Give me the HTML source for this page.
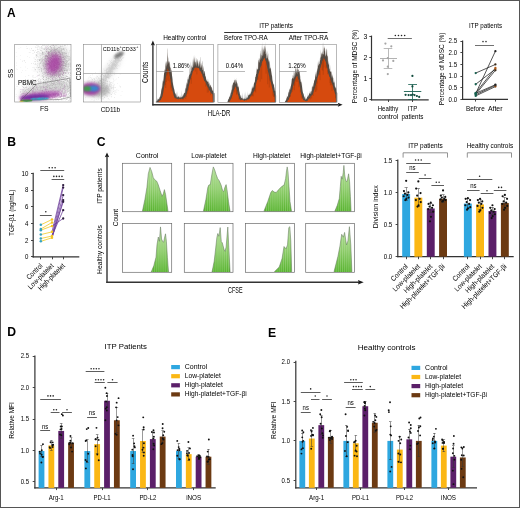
<!DOCTYPE html>
<html><head><meta charset="utf-8"><style>
html,body{margin:0;padding:0;background:#fff;}
body{width:520px;height:508px;overflow:hidden;position:relative;}
svg{position:absolute;left:0;top:0;display:block;will-change:transform;}
svg text{font-family:"Liberation Sans", sans-serif;}
</style></head><body>
<svg width="520" height="508" viewBox="0 0 520 508">
<rect x="0" y="0" width="520" height="508" fill="#fff"/>
<text x="7" y="17" font-size="11.9" fill="#000" font-weight="bold">A</text>
<clipPath id="cp1"><rect x="14.7" y="44.4" width="56.3" height="57.6"/></clipPath>
<g clip-path="url(#cp1)">
<filter id="bl3" x="-50%" y="-50%" width="200%" height="200%"><feGaussianBlur stdDeviation="4"/></filter>
<ellipse cx="55" cy="63" rx="13" ry="17" fill="#b4b4b4" opacity="0.6" filter="url(#bl3)" transform="rotate(18 55 63)"/>
<path d="M54.8 69.4h0.55v0.55h-0.55zM52.0 59.9h0.55v0.55h-0.55zM46.7 62.5h0.55v0.55h-0.55zM65.5 65.5h0.55v0.55h-0.55zM64.3 63.6h0.55v0.55h-0.55zM58.9 64.3h0.55v0.55h-0.55zM44.6 76.3h0.55v0.55h-0.55zM60.9 67.6h0.55v0.55h-0.55zM35.1 46.7h0.55v0.55h-0.55zM46.1 59.6h0.55v0.55h-0.55zM57.3 61.8h0.55v0.55h-0.55zM56.9 54.6h0.55v0.55h-0.55zM58.9 66.8h0.55v0.55h-0.55zM55.8 84.0h0.55v0.55h-0.55zM63.8 75.5h0.55v0.55h-0.55zM47.3 55.9h0.55v0.55h-0.55zM51.8 62.5h0.55v0.55h-0.55zM61.0 64.5h0.55v0.55h-0.55zM47.9 53.0h0.55v0.55h-0.55zM55.2 78.0h0.55v0.55h-0.55zM49.4 67.5h0.55v0.55h-0.55zM53.1 45.1h0.55v0.55h-0.55zM60.1 77.8h0.55v0.55h-0.55zM37.6 63.6h0.55v0.55h-0.55zM51.2 53.9h0.55v0.55h-0.55zM58.8 61.2h0.55v0.55h-0.55zM46.2 75.5h0.55v0.55h-0.55zM63.8 72.4h0.55v0.55h-0.55zM67.9 64.1h0.55v0.55h-0.55zM51.3 47.9h0.55v0.55h-0.55zM57.8 54.7h0.55v0.55h-0.55zM46.8 49.5h0.55v0.55h-0.55zM45.3 59.0h0.55v0.55h-0.55zM58.1 37.1h0.55v0.55h-0.55zM44.1 68.8h0.55v0.55h-0.55zM68.7 66.5h0.55v0.55h-0.55zM30.6 38.3h0.55v0.55h-0.55zM55.2 53.8h0.55v0.55h-0.55zM49.5 76.5h0.55v0.55h-0.55zM64.5 62.5h0.55v0.55h-0.55zM58.5 67.4h0.55v0.55h-0.55zM70.1 66.7h0.55v0.55h-0.55zM61.2 68.1h0.55v0.55h-0.55zM47.0 80.9h0.55v0.55h-0.55zM64.6 67.0h0.55v0.55h-0.55zM36.8 60.0h0.55v0.55h-0.55zM55.3 40.6h0.55v0.55h-0.55zM57.2 75.0h0.55v0.55h-0.55zM50.2 84.1h0.55v0.55h-0.55zM58.9 60.1h0.55v0.55h-0.55zM60.0 69.7h0.55v0.55h-0.55zM60.1 75.8h0.55v0.55h-0.55zM48.2 59.7h0.55v0.55h-0.55zM63.5 61.1h0.55v0.55h-0.55zM51.3 75.7h0.55v0.55h-0.55zM65.2 54.8h0.55v0.55h-0.55zM43.4 64.4h0.55v0.55h-0.55zM52.7 59.9h0.55v0.55h-0.55zM62.6 48.3h0.55v0.55h-0.55zM60.6 45.9h0.55v0.55h-0.55zM50.9 71.9h0.55v0.55h-0.55zM67.2 70.4h0.55v0.55h-0.55zM58.3 63.9h0.55v0.55h-0.55zM58.3 69.2h0.55v0.55h-0.55zM54.6 66.5h0.55v0.55h-0.55zM59.6 61.8h0.55v0.55h-0.55zM63.2 67.8h0.55v0.55h-0.55zM72.4 62.4h0.55v0.55h-0.55zM50.2 59.7h0.55v0.55h-0.55zM58.2 73.6h0.55v0.55h-0.55zM53.7 68.1h0.55v0.55h-0.55zM60.6 29.9h0.55v0.55h-0.55zM46.8 68.2h0.55v0.55h-0.55zM59.1 64.9h0.55v0.55h-0.55zM53.9 71.4h0.55v0.55h-0.55zM55.4 56.4h0.55v0.55h-0.55zM75.9 61.9h0.55v0.55h-0.55zM50.2 63.0h0.55v0.55h-0.55zM53.0 62.8h0.55v0.55h-0.55zM31.2 63.2h0.55v0.55h-0.55zM58.9 47.5h0.55v0.55h-0.55zM57.9 74.0h0.55v0.55h-0.55zM67.3 78.2h0.55v0.55h-0.55zM40.0 62.6h0.55v0.55h-0.55zM54.5 70.8h0.55v0.55h-0.55zM54.2 30.1h0.55v0.55h-0.55zM58.6 44.2h0.55v0.55h-0.55zM55.1 44.5h0.55v0.55h-0.55zM60.7 76.2h0.55v0.55h-0.55zM54.5 65.5h0.55v0.55h-0.55zM61.9 62.9h0.55v0.55h-0.55zM59.8 80.7h0.55v0.55h-0.55zM62.4 57.4h0.55v0.55h-0.55zM73.0 44.1h0.55v0.55h-0.55zM61.4 58.0h0.55v0.55h-0.55zM58.6 70.8h0.55v0.55h-0.55zM59.1 69.8h0.55v0.55h-0.55zM37.2 49.0h0.55v0.55h-0.55zM56.5 50.7h0.55v0.55h-0.55zM41.4 48.4h0.55v0.55h-0.55zM67.9 68.8h0.55v0.55h-0.55zM63.5 49.2h0.55v0.55h-0.55zM50.9 50.0h0.55v0.55h-0.55zM66.9 79.5h0.55v0.55h-0.55zM53.4 82.7h0.55v0.55h-0.55zM62.3 58.9h0.55v0.55h-0.55zM44.1 83.2h0.55v0.55h-0.55zM52.1 56.3h0.55v0.55h-0.55zM59.7 66.8h0.55v0.55h-0.55zM63.4 48.2h0.55v0.55h-0.55zM69.5 77.5h0.55v0.55h-0.55zM66.1 57.9h0.55v0.55h-0.55zM52.7 76.2h0.55v0.55h-0.55zM56.4 64.2h0.55v0.55h-0.55zM65.6 57.0h0.55v0.55h-0.55zM35.1 63.5h0.55v0.55h-0.55zM43.0 76.3h0.55v0.55h-0.55zM55.4 55.4h0.55v0.55h-0.55zM57.9 72.5h0.55v0.55h-0.55zM60.4 78.0h0.55v0.55h-0.55zM58.3 75.0h0.55v0.55h-0.55zM72.8 78.2h0.55v0.55h-0.55zM52.7 74.5h0.55v0.55h-0.55zM36.0 54.6h0.55v0.55h-0.55zM43.0 79.4h0.55v0.55h-0.55zM45.0 65.5h0.55v0.55h-0.55zM53.3 63.1h0.55v0.55h-0.55zM51.1 66.9h0.55v0.55h-0.55zM69.6 59.7h0.55v0.55h-0.55zM62.9 73.3h0.55v0.55h-0.55zM48.9 49.1h0.55v0.55h-0.55zM54.4 76.4h0.55v0.55h-0.55zM39.6 59.7h0.55v0.55h-0.55zM66.0 69.9h0.55v0.55h-0.55zM58.0 72.2h0.55v0.55h-0.55zM52.1 49.2h0.55v0.55h-0.55zM40.1 59.0h0.55v0.55h-0.55zM60.4 54.6h0.55v0.55h-0.55zM44.9 56.1h0.55v0.55h-0.55zM42.2 64.9h0.55v0.55h-0.55zM46.8 69.7h0.55v0.55h-0.55zM37.1 71.8h0.55v0.55h-0.55zM42.8 42.2h0.55v0.55h-0.55zM59.9 58.3h0.55v0.55h-0.55zM33.8 57.8h0.55v0.55h-0.55zM55.7 57.2h0.55v0.55h-0.55zM64.0 69.9h0.55v0.55h-0.55zM61.6 65.3h0.55v0.55h-0.55zM68.1 67.7h0.55v0.55h-0.55zM51.1 38.3h0.55v0.55h-0.55zM67.0 76.0h0.55v0.55h-0.55zM50.9 58.3h0.55v0.55h-0.55zM64.3 38.8h0.55v0.55h-0.55zM67.5 89.6h0.55v0.55h-0.55zM50.0 72.8h0.55v0.55h-0.55zM69.8 57.6h0.55v0.55h-0.55zM62.8 72.1h0.55v0.55h-0.55zM47.4 63.9h0.55v0.55h-0.55zM60.3 71.8h0.55v0.55h-0.55zM54.0 60.8h0.55v0.55h-0.55zM45.5 61.1h0.55v0.55h-0.55zM62.6 62.3h0.55v0.55h-0.55zM45.1 55.2h0.55v0.55h-0.55zM80.6 70.3h0.55v0.55h-0.55zM50.8 32.1h0.55v0.55h-0.55zM61.7 67.2h0.55v0.55h-0.55zM70.1 64.3h0.55v0.55h-0.55zM56.3 69.1h0.55v0.55h-0.55zM43.0 78.9h0.55v0.55h-0.55zM55.1 54.3h0.55v0.55h-0.55zM72.2 80.8h0.55v0.55h-0.55zM41.3 58.4h0.55v0.55h-0.55zM58.0 64.5h0.55v0.55h-0.55zM48.3 52.7h0.55v0.55h-0.55zM75.9 70.3h0.55v0.55h-0.55zM40.5 50.2h0.55v0.55h-0.55zM72.3 70.7h0.55v0.55h-0.55zM72.6 68.4h0.55v0.55h-0.55zM48.9 67.8h0.55v0.55h-0.55zM34.9 59.1h0.55v0.55h-0.55zM56.4 69.1h0.55v0.55h-0.55zM48.7 63.1h0.55v0.55h-0.55zM60.1 66.3h0.55v0.55h-0.55zM60.9 64.0h0.55v0.55h-0.55zM55.2 72.7h0.55v0.55h-0.55zM52.4 53.5h0.55v0.55h-0.55zM49.9 64.3h0.55v0.55h-0.55zM54.7 65.0h0.55v0.55h-0.55zM55.6 65.0h0.55v0.55h-0.55zM49.4 48.9h0.55v0.55h-0.55zM62.2 74.1h0.55v0.55h-0.55zM57.8 59.9h0.55v0.55h-0.55zM55.1 51.0h0.55v0.55h-0.55zM39.9 67.7h0.55v0.55h-0.55zM50.1 73.4h0.55v0.55h-0.55zM36.8 35.3h0.55v0.55h-0.55zM52.3 83.2h0.55v0.55h-0.55zM47.0 48.2h0.55v0.55h-0.55zM50.7 70.6h0.55v0.55h-0.55zM59.6 64.0h0.55v0.55h-0.55zM69.5 67.9h0.55v0.55h-0.55zM57.0 69.8h0.55v0.55h-0.55zM71.9 70.6h0.55v0.55h-0.55zM59.4 48.5h0.55v0.55h-0.55zM56.4 71.6h0.55v0.55h-0.55zM56.5 75.8h0.55v0.55h-0.55zM63.1 72.1h0.55v0.55h-0.55zM62.5 92.5h0.55v0.55h-0.55zM64.2 57.9h0.55v0.55h-0.55zM65.1 92.4h0.55v0.55h-0.55zM55.4 73.7h0.55v0.55h-0.55zM62.9 61.0h0.55v0.55h-0.55zM46.3 67.6h0.55v0.55h-0.55zM62.0 75.1h0.55v0.55h-0.55zM61.4 61.6h0.55v0.55h-0.55zM63.8 67.3h0.55v0.55h-0.55zM56.9 63.2h0.55v0.55h-0.55zM55.5 71.3h0.55v0.55h-0.55zM44.2 58.1h0.55v0.55h-0.55zM49.8 46.3h0.55v0.55h-0.55zM44.2 41.0h0.55v0.55h-0.55zM51.5 70.9h0.55v0.55h-0.55zM59.4 61.2h0.55v0.55h-0.55zM48.0 47.3h0.55v0.55h-0.55zM71.6 65.0h0.55v0.55h-0.55zM60.7 50.6h0.55v0.55h-0.55zM47.0 42.7h0.55v0.55h-0.55zM64.7 72.0h0.55v0.55h-0.55zM39.5 66.4h0.55v0.55h-0.55zM53.7 41.6h0.55v0.55h-0.55zM36.4 54.7h0.55v0.55h-0.55zM44.9 48.3h0.55v0.55h-0.55zM56.2 65.8h0.55v0.55h-0.55zM62.6 69.7h0.55v0.55h-0.55zM71.3 73.1h0.55v0.55h-0.55zM42.6 60.0h0.55v0.55h-0.55zM42.6 53.0h0.55v0.55h-0.55zM54.4 63.2h0.55v0.55h-0.55zM53.2 43.9h0.55v0.55h-0.55zM44.9 65.4h0.55v0.55h-0.55zM52.3 59.9h0.55v0.55h-0.55zM51.8 54.5h0.55v0.55h-0.55zM61.9 65.5h0.55v0.55h-0.55zM51.9 55.5h0.55v0.55h-0.55zM43.8 32.3h0.55v0.55h-0.55zM47.2 65.5h0.55v0.55h-0.55zM43.6 68.5h0.55v0.55h-0.55zM51.2 47.0h0.55v0.55h-0.55zM51.8 60.0h0.55v0.55h-0.55zM60.9 69.0h0.55v0.55h-0.55zM51.6 53.4h0.55v0.55h-0.55zM53.6 62.6h0.55v0.55h-0.55zM62.0 64.8h0.55v0.55h-0.55zM44.3 49.1h0.55v0.55h-0.55zM49.3 55.4h0.55v0.55h-0.55zM45.6 64.0h0.55v0.55h-0.55zM51.4 65.2h0.55v0.55h-0.55zM57.7 57.2h0.55v0.55h-0.55zM72.6 54.4h0.55v0.55h-0.55zM64.3 62.0h0.55v0.55h-0.55zM55.5 33.5h0.55v0.55h-0.55zM49.8 67.4h0.55v0.55h-0.55zM68.3 88.4h0.55v0.55h-0.55zM62.2 76.9h0.55v0.55h-0.55zM64.6 72.2h0.55v0.55h-0.55zM58.6 60.1h0.55v0.55h-0.55zM55.2 49.6h0.55v0.55h-0.55zM60.9 48.9h0.55v0.55h-0.55zM64.6 86.6h0.55v0.55h-0.55zM53.3 63.7h0.55v0.55h-0.55zM64.5 60.8h0.55v0.55h-0.55zM49.4 67.7h0.55v0.55h-0.55zM62.3 69.9h0.55v0.55h-0.55zM55.1 84.6h0.55v0.55h-0.55zM68.5 59.7h0.55v0.55h-0.55zM55.6 57.5h0.55v0.55h-0.55zM63.9 52.0h0.55v0.55h-0.55zM58.7 56.1h0.55v0.55h-0.55zM52.0 72.7h0.55v0.55h-0.55zM65.7 60.1h0.55v0.55h-0.55zM52.5 73.7h0.55v0.55h-0.55zM55.7 66.6h0.55v0.55h-0.55zM71.4 72.7h0.55v0.55h-0.55zM59.0 90.1h0.55v0.55h-0.55zM57.9 72.0h0.55v0.55h-0.55zM49.6 63.9h0.55v0.55h-0.55zM47.3 87.1h0.55v0.55h-0.55zM61.7 46.2h0.55v0.55h-0.55zM37.0 47.7h0.55v0.55h-0.55zM62.8 55.3h0.55v0.55h-0.55zM53.4 59.6h0.55v0.55h-0.55zM50.1 50.9h0.55v0.55h-0.55zM50.0 46.6h0.55v0.55h-0.55zM55.5 66.7h0.55v0.55h-0.55zM57.9 59.4h0.55v0.55h-0.55zM48.3 66.7h0.55v0.55h-0.55zM56.7 81.9h0.55v0.55h-0.55zM60.8 60.1h0.55v0.55h-0.55zM48.7 56.0h0.55v0.55h-0.55zM46.2 61.0h0.55v0.55h-0.55zM59.2 68.3h0.55v0.55h-0.55zM67.1 85.7h0.55v0.55h-0.55zM49.4 64.6h0.55v0.55h-0.55zM70.8 35.8h0.55v0.55h-0.55zM51.4 66.0h0.55v0.55h-0.55zM57.7 67.3h0.55v0.55h-0.55zM54.4 67.7h0.55v0.55h-0.55zM58.2 71.7h0.55v0.55h-0.55zM36.5 56.9h0.55v0.55h-0.55zM51.3 51.2h0.55v0.55h-0.55zM48.8 72.4h0.55v0.55h-0.55zM52.0 71.6h0.55v0.55h-0.55zM62.1 64.9h0.55v0.55h-0.55zM58.7 60.7h0.55v0.55h-0.55zM43.5 65.7h0.55v0.55h-0.55zM56.8 56.0h0.55v0.55h-0.55zM56.9 71.8h0.55v0.55h-0.55zM50.2 72.2h0.55v0.55h-0.55zM68.0 52.7h0.55v0.55h-0.55zM55.6 61.0h0.55v0.55h-0.55zM68.6 63.3h0.55v0.55h-0.55zM59.8 53.2h0.55v0.55h-0.55zM54.8 62.9h0.55v0.55h-0.55zM45.8 83.2h0.55v0.55h-0.55zM56.0 41.1h0.55v0.55h-0.55zM60.5 59.9h0.55v0.55h-0.55zM59.9 66.2h0.55v0.55h-0.55zM42.1 63.8h0.55v0.55h-0.55zM65.0 53.3h0.55v0.55h-0.55zM41.8 49.7h0.55v0.55h-0.55zM46.3 69.4h0.55v0.55h-0.55zM70.2 64.3h0.55v0.55h-0.55zM65.0 87.9h0.55v0.55h-0.55zM48.4 56.4h0.55v0.55h-0.55zM61.2 68.1h0.55v0.55h-0.55zM42.6 51.8h0.55v0.55h-0.55zM58.2 65.2h0.55v0.55h-0.55zM43.7 63.5h0.55v0.55h-0.55zM52.3 69.4h0.55v0.55h-0.55zM53.7 62.3h0.55v0.55h-0.55zM55.9 75.8h0.55v0.55h-0.55zM64.9 55.9h0.55v0.55h-0.55zM59.1 52.6h0.55v0.55h-0.55zM58.3 71.4h0.55v0.55h-0.55zM65.9 55.4h0.55v0.55h-0.55zM55.1 65.4h0.55v0.55h-0.55zM43.0 66.4h0.55v0.55h-0.55zM50.9 68.7h0.55v0.55h-0.55zM38.8 42.9h0.55v0.55h-0.55zM56.2 65.9h0.55v0.55h-0.55zM53.8 74.3h0.55v0.55h-0.55zM50.6 56.7h0.55v0.55h-0.55zM53.2 44.1h0.55v0.55h-0.55zM49.5 64.2h0.55v0.55h-0.55zM61.3 59.3h0.55v0.55h-0.55zM55.1 54.9h0.55v0.55h-0.55zM63.4 81.3h0.55v0.55h-0.55zM58.0 91.4h0.55v0.55h-0.55zM49.9 64.6h0.55v0.55h-0.55zM60.1 74.3h0.55v0.55h-0.55zM37.4 41.7h0.55v0.55h-0.55zM62.8 70.8h0.55v0.55h-0.55zM69.5 91.7h0.55v0.55h-0.55zM57.6 65.5h0.55v0.55h-0.55zM63.8 65.2h0.55v0.55h-0.55zM64.0 45.3h0.55v0.55h-0.55zM39.6 24.5h0.55v0.55h-0.55zM60.2 57.0h0.55v0.55h-0.55zM70.2 85.6h0.55v0.55h-0.55zM54.0 60.1h0.55v0.55h-0.55zM47.9 54.5h0.55v0.55h-0.55zM52.2 71.6h0.55v0.55h-0.55zM55.5 63.7h0.55v0.55h-0.55zM56.9 73.8h0.55v0.55h-0.55zM58.5 60.3h0.55v0.55h-0.55zM59.8 59.9h0.55v0.55h-0.55zM50.9 82.0h0.55v0.55h-0.55zM55.3 51.1h0.55v0.55h-0.55zM65.0 64.6h0.55v0.55h-0.55zM48.2 84.7h0.55v0.55h-0.55zM60.9 72.5h0.55v0.55h-0.55zM56.1 60.9h0.55v0.55h-0.55zM46.0 77.4h0.55v0.55h-0.55zM54.2 59.7h0.55v0.55h-0.55zM58.1 63.1h0.55v0.55h-0.55zM59.1 57.3h0.55v0.55h-0.55zM47.0 38.7h0.55v0.55h-0.55zM54.0 71.6h0.55v0.55h-0.55zM64.5 56.0h0.55v0.55h-0.55zM59.7 81.3h0.55v0.55h-0.55zM55.0 72.1h0.55v0.55h-0.55zM68.7 59.9h0.55v0.55h-0.55zM62.3 52.3h0.55v0.55h-0.55zM56.4 61.7h0.55v0.55h-0.55zM60.0 75.6h0.55v0.55h-0.55zM71.9 50.3h0.55v0.55h-0.55zM52.1 69.9h0.55v0.55h-0.55zM48.3 70.9h0.55v0.55h-0.55zM58.6 58.6h0.55v0.55h-0.55zM53.7 44.2h0.55v0.55h-0.55zM55.6 43.8h0.55v0.55h-0.55zM47.4 58.1h0.55v0.55h-0.55zM54.9 73.6h0.55v0.55h-0.55zM54.2 58.3h0.55v0.55h-0.55zM65.1 79.9h0.55v0.55h-0.55zM56.4 67.2h0.55v0.55h-0.55zM66.0 63.4h0.55v0.55h-0.55zM53.6 94.1h0.55v0.55h-0.55zM65.7 35.7h0.55v0.55h-0.55zM56.2 67.8h0.55v0.55h-0.55zM65.2 68.6h0.55v0.55h-0.55zM49.0 51.6h0.55v0.55h-0.55zM59.6 74.6h0.55v0.55h-0.55zM42.5 53.6h0.55v0.55h-0.55zM47.8 41.0h0.55v0.55h-0.55zM51.3 58.6h0.55v0.55h-0.55zM56.1 54.0h0.55v0.55h-0.55zM46.5 60.4h0.55v0.55h-0.55zM52.2 55.5h0.55v0.55h-0.55zM57.8 71.5h0.55v0.55h-0.55zM70.7 79.9h0.55v0.55h-0.55zM47.2 59.9h0.55v0.55h-0.55zM41.8 89.9h0.55v0.55h-0.55zM49.0 64.2h0.55v0.55h-0.55zM54.3 46.4h0.55v0.55h-0.55zM58.7 61.7h0.55v0.55h-0.55zM41.3 70.2h0.55v0.55h-0.55zM57.9 39.2h0.55v0.55h-0.55zM62.3 63.7h0.55v0.55h-0.55zM60.4 67.0h0.55v0.55h-0.55zM64.7 57.7h0.55v0.55h-0.55zM60.6 56.5h0.55v0.55h-0.55zM57.9 52.2h0.55v0.55h-0.55zM60.4 83.0h0.55v0.55h-0.55zM58.0 60.2h0.55v0.55h-0.55zM42.9 56.4h0.55v0.55h-0.55zM59.9 73.3h0.55v0.55h-0.55zM60.3 68.1h0.55v0.55h-0.55zM59.5 78.5h0.55v0.55h-0.55zM49.9 57.6h0.55v0.55h-0.55zM62.4 61.8h0.55v0.55h-0.55zM50.7 57.0h0.55v0.55h-0.55zM55.2 70.7h0.55v0.55h-0.55zM53.5 48.5h0.55v0.55h-0.55zM59.1 64.1h0.55v0.55h-0.55zM49.7 73.9h0.55v0.55h-0.55zM51.5 59.8h0.55v0.55h-0.55zM66.2 76.4h0.55v0.55h-0.55zM51.0 69.5h0.55v0.55h-0.55zM56.3 91.2h0.55v0.55h-0.55zM55.3 77.7h0.55v0.55h-0.55zM52.7 73.6h0.55v0.55h-0.55zM63.8 29.3h0.55v0.55h-0.55zM53.3 69.6h0.55v0.55h-0.55zM51.8 55.6h0.55v0.55h-0.55zM72.7 59.3h0.55v0.55h-0.55zM44.8 76.2h0.55v0.55h-0.55zM45.2 79.8h0.55v0.55h-0.55zM50.9 65.9h0.55v0.55h-0.55zM65.6 61.7h0.55v0.55h-0.55zM37.7 46.6h0.55v0.55h-0.55zM67.2 68.9h0.55v0.55h-0.55zM51.5 74.5h0.55v0.55h-0.55zM61.3 69.3h0.55v0.55h-0.55zM35.7 64.4h0.55v0.55h-0.55zM64.9 69.4h0.55v0.55h-0.55zM53.3 33.1h0.55v0.55h-0.55zM58.1 68.3h0.55v0.55h-0.55zM72.2 46.7h0.55v0.55h-0.55zM52.5 64.1h0.55v0.55h-0.55zM60.6 56.1h0.55v0.55h-0.55zM61.4 51.6h0.55v0.55h-0.55zM55.3 56.4h0.55v0.55h-0.55zM53.8 54.8h0.55v0.55h-0.55zM46.0 78.9h0.55v0.55h-0.55zM55.4 56.0h0.55v0.55h-0.55zM60.2 73.9h0.55v0.55h-0.55zM46.7 63.8h0.55v0.55h-0.55zM61.2 67.9h0.55v0.55h-0.55zM44.7 39.7h0.55v0.55h-0.55zM66.2 64.1h0.55v0.55h-0.55zM54.1 59.8h0.55v0.55h-0.55zM55.6 57.6h0.55v0.55h-0.55zM44.1 56.7h0.55v0.55h-0.55zM48.0 57.3h0.55v0.55h-0.55zM47.9 72.7h0.55v0.55h-0.55zM46.8 73.3h0.55v0.55h-0.55zM48.1 69.2h0.55v0.55h-0.55zM66.8 62.4h0.55v0.55h-0.55zM49.3 65.1h0.55v0.55h-0.55zM50.0 42.9h0.55v0.55h-0.55zM50.7 66.1h0.55v0.55h-0.55zM51.5 64.9h0.55v0.55h-0.55zM63.7 70.2h0.55v0.55h-0.55zM64.4 67.8h0.55v0.55h-0.55zM52.6 63.4h0.55v0.55h-0.55zM51.7 60.0h0.55v0.55h-0.55zM47.3 43.7h0.55v0.55h-0.55zM52.2 63.4h0.55v0.55h-0.55zM47.0 64.8h0.55v0.55h-0.55zM58.6 60.0h0.55v0.55h-0.55zM62.4 28.9h0.55v0.55h-0.55zM46.8 42.6h0.55v0.55h-0.55zM72.5 91.2h0.55v0.55h-0.55zM35.3 69.8h0.55v0.55h-0.55zM58.1 58.4h0.55v0.55h-0.55zM51.4 36.3h0.55v0.55h-0.55zM63.2 65.4h0.55v0.55h-0.55zM53.1 56.3h0.55v0.55h-0.55zM58.4 56.1h0.55v0.55h-0.55zM55.0 56.7h0.55v0.55h-0.55zM36.7 67.4h0.55v0.55h-0.55zM59.3 71.2h0.55v0.55h-0.55zM47.8 64.5h0.55v0.55h-0.55zM60.5 63.3h0.55v0.55h-0.55zM72.2 83.1h0.55v0.55h-0.55zM40.7 43.0h0.55v0.55h-0.55zM67.4 78.6h0.55v0.55h-0.55zM65.4 70.3h0.55v0.55h-0.55zM47.4 56.2h0.55v0.55h-0.55zM58.9 50.7h0.55v0.55h-0.55zM36.8 55.5h0.55v0.55h-0.55zM82.0 79.6h0.55v0.55h-0.55zM46.8 56.1h0.55v0.55h-0.55zM54.2 54.0h0.55v0.55h-0.55zM65.3 59.3h0.55v0.55h-0.55zM50.9 80.2h0.55v0.55h-0.55zM51.1 66.8h0.55v0.55h-0.55zM53.8 59.4h0.55v0.55h-0.55zM55.1 54.4h0.55v0.55h-0.55zM32.2 41.7h0.55v0.55h-0.55zM42.0 57.0h0.55v0.55h-0.55zM55.0 63.7h0.55v0.55h-0.55zM59.9 63.2h0.55v0.55h-0.55zM46.0 56.6h0.55v0.55h-0.55zM37.3 65.6h0.55v0.55h-0.55zM60.8 68.0h0.55v0.55h-0.55zM53.4 61.3h0.55v0.55h-0.55zM62.6 61.2h0.55v0.55h-0.55zM63.1 68.1h0.55v0.55h-0.55zM61.4 77.4h0.55v0.55h-0.55zM49.1 60.1h0.55v0.55h-0.55zM45.6 55.6h0.55v0.55h-0.55zM73.9 79.7h0.55v0.55h-0.55zM57.2 69.4h0.55v0.55h-0.55zM67.4 69.7h0.55v0.55h-0.55zM60.2 46.0h0.55v0.55h-0.55zM51.5 69.5h0.55v0.55h-0.55zM67.0 61.1h0.55v0.55h-0.55zM46.8 60.8h0.55v0.55h-0.55zM46.6 54.6h0.55v0.55h-0.55zM64.9 52.7h0.55v0.55h-0.55zM62.9 87.6h0.55v0.55h-0.55zM65.8 64.3h0.55v0.55h-0.55zM51.5 69.0h0.55v0.55h-0.55zM70.3 66.7h0.55v0.55h-0.55zM65.5 61.4h0.55v0.55h-0.55zM58.4 59.6h0.55v0.55h-0.55zM63.1 76.9h0.55v0.55h-0.55zM43.2 65.3h0.55v0.55h-0.55zM54.9 56.0h0.55v0.55h-0.55zM55.3 72.6h0.55v0.55h-0.55zM73.4 65.9h0.55v0.55h-0.55zM52.0 44.6h0.55v0.55h-0.55zM70.8 59.8h0.55v0.55h-0.55zM50.7 50.3h0.55v0.55h-0.55zM50.6 50.6h0.55v0.55h-0.55zM57.3 68.2h0.55v0.55h-0.55zM56.3 66.1h0.55v0.55h-0.55zM53.3 81.1h0.55v0.55h-0.55zM43.2 43.7h0.55v0.55h-0.55zM50.7 54.7h0.55v0.55h-0.55zM45.6 61.1h0.55v0.55h-0.55zM53.1 48.9h0.55v0.55h-0.55zM59.0 79.6h0.55v0.55h-0.55zM60.0 59.8h0.55v0.55h-0.55zM55.6 61.4h0.55v0.55h-0.55zM57.3 71.5h0.55v0.55h-0.55zM45.6 35.8h0.55v0.55h-0.55zM51.6 52.9h0.55v0.55h-0.55zM58.1 54.7h0.55v0.55h-0.55zM64.0 87.5h0.55v0.55h-0.55zM42.5 52.4h0.55v0.55h-0.55zM35.0 38.7h0.55v0.55h-0.55zM41.1 71.1h0.55v0.55h-0.55zM43.1 43.1h0.55v0.55h-0.55zM45.2 73.2h0.55v0.55h-0.55zM47.4 60.5h0.55v0.55h-0.55zM62.6 77.8h0.55v0.55h-0.55zM74.4 70.6h0.55v0.55h-0.55zM56.8 64.8h0.55v0.55h-0.55zM74.7 75.5h0.55v0.55h-0.55zM54.1 68.9h0.55v0.55h-0.55zM57.5 63.0h0.55v0.55h-0.55zM46.2 48.9h0.55v0.55h-0.55zM45.1 46.5h0.55v0.55h-0.55zM66.8 66.5h0.55v0.55h-0.55zM50.3 81.5h0.55v0.55h-0.55zM55.3 39.3h0.55v0.55h-0.55zM72.8 68.3h0.55v0.55h-0.55zM67.2 44.6h0.55v0.55h-0.55zM60.8 66.7h0.55v0.55h-0.55zM57.2 64.5h0.55v0.55h-0.55zM58.1 43.7h0.55v0.55h-0.55zM40.0 49.7h0.55v0.55h-0.55zM48.3 57.3h0.55v0.55h-0.55zM58.9 65.3h0.55v0.55h-0.55zM52.8 55.2h0.55v0.55h-0.55zM54.9 74.8h0.55v0.55h-0.55zM61.5 62.5h0.55v0.55h-0.55zM58.0 81.4h0.55v0.55h-0.55zM52.5 71.7h0.55v0.55h-0.55zM63.4 57.5h0.55v0.55h-0.55zM57.6 48.5h0.55v0.55h-0.55zM63.9 63.1h0.55v0.55h-0.55zM44.6 74.0h0.55v0.55h-0.55zM52.4 79.5h0.55v0.55h-0.55zM48.9 62.6h0.55v0.55h-0.55zM56.1 58.6h0.55v0.55h-0.55zM55.1 56.1h0.55v0.55h-0.55zM60.4 61.6h0.55v0.55h-0.55zM46.8 31.2h0.55v0.55h-0.55zM64.5 60.9h0.55v0.55h-0.55zM40.9 67.9h0.55v0.55h-0.55zM62.6 74.2h0.55v0.55h-0.55zM51.8 82.9h0.55v0.55h-0.55zM62.3 90.6h0.55v0.55h-0.55zM56.3 71.1h0.55v0.55h-0.55zM48.0 51.1h0.55v0.55h-0.55zM67.1 71.0h0.55v0.55h-0.55zM70.5 69.5h0.55v0.55h-0.55zM44.4 45.3h0.55v0.55h-0.55zM47.3 56.7h0.55v0.55h-0.55zM50.5 71.4h0.55v0.55h-0.55zM56.7 59.2h0.55v0.55h-0.55zM55.9 61.0h0.55v0.55h-0.55zM59.4 71.1h0.55v0.55h-0.55zM60.3 53.1h0.55v0.55h-0.55zM48.0 82.5h0.55v0.55h-0.55zM59.9 75.4h0.55v0.55h-0.55zM40.5 62.7h0.55v0.55h-0.55zM50.0 46.5h0.55v0.55h-0.55zM53.4 72.4h0.55v0.55h-0.55zM69.4 78.9h0.55v0.55h-0.55zM43.0 48.9h0.55v0.55h-0.55zM62.6 72.6h0.55v0.55h-0.55zM51.9 47.8h0.55v0.55h-0.55zM64.2 70.4h0.55v0.55h-0.55zM57.7 56.3h0.55v0.55h-0.55zM60.3 71.4h0.55v0.55h-0.55zM43.9 43.2h0.55v0.55h-0.55zM59.4 67.8h0.55v0.55h-0.55zM58.3 73.1h0.55v0.55h-0.55zM50.0 63.3h0.55v0.55h-0.55zM54.6 70.2h0.55v0.55h-0.55zM67.0 56.7h0.55v0.55h-0.55zM77.1 76.1h0.55v0.55h-0.55zM63.5 68.0h0.55v0.55h-0.55zM68.6 57.2h0.55v0.55h-0.55zM50.3 51.1h0.55v0.55h-0.55zM63.7 77.3h0.55v0.55h-0.55zM60.8 66.7h0.55v0.55h-0.55zM54.0 65.4h0.55v0.55h-0.55zM47.3 78.0h0.55v0.55h-0.55zM47.7 51.3h0.55v0.55h-0.55zM46.0 55.2h0.55v0.55h-0.55zM65.7 73.2h0.55v0.55h-0.55zM47.4 76.4h0.55v0.55h-0.55zM60.1 54.5h0.55v0.55h-0.55zM40.3 57.7h0.55v0.55h-0.55zM51.1 68.3h0.55v0.55h-0.55zM44.8 40.6h0.55v0.55h-0.55zM51.4 45.0h0.55v0.55h-0.55zM58.0 47.3h0.55v0.55h-0.55zM46.3 54.7h0.55v0.55h-0.55zM55.3 79.0h0.55v0.55h-0.55zM64.0 68.0h0.55v0.55h-0.55zM52.0 44.7h0.55v0.55h-0.55zM48.8 57.8h0.55v0.55h-0.55zM48.9 70.9h0.55v0.55h-0.55zM46.5 56.5h0.55v0.55h-0.55zM39.2 41.8h0.55v0.55h-0.55zM64.6 76.9h0.55v0.55h-0.55zM52.9 51.5h0.55v0.55h-0.55zM33.8 70.7h0.55v0.55h-0.55zM65.9 63.8h0.55v0.55h-0.55zM67.8 77.9h0.55v0.55h-0.55zM62.5 55.6h0.55v0.55h-0.55zM66.3 69.6h0.55v0.55h-0.55zM41.1 61.6h0.55v0.55h-0.55zM43.1 64.8h0.55v0.55h-0.55zM55.8 49.6h0.55v0.55h-0.55zM43.1 82.2h0.55v0.55h-0.55zM63.3 79.0h0.55v0.55h-0.55zM48.1 77.9h0.55v0.55h-0.55zM79.0 81.5h0.55v0.55h-0.55zM54.3 66.5h0.55v0.55h-0.55zM57.4 74.7h0.55v0.55h-0.55zM63.7 61.8h0.55v0.55h-0.55zM46.7 74.3h0.55v0.55h-0.55zM53.5 71.2h0.55v0.55h-0.55zM63.0 81.0h0.55v0.55h-0.55zM62.6 55.4h0.55v0.55h-0.55zM64.2 82.4h0.55v0.55h-0.55zM52.2 69.1h0.55v0.55h-0.55zM69.1 74.8h0.55v0.55h-0.55zM54.4 46.8h0.55v0.55h-0.55zM45.7 68.5h0.55v0.55h-0.55zM67.3 91.2h0.55v0.55h-0.55zM52.1 77.8h0.55v0.55h-0.55zM55.2 42.3h0.55v0.55h-0.55zM49.0 66.6h0.55v0.55h-0.55zM50.5 62.3h0.55v0.55h-0.55zM55.9 52.8h0.55v0.55h-0.55zM56.5 54.8h0.55v0.55h-0.55zM52.5 70.3h0.55v0.55h-0.55zM51.4 67.5h0.55v0.55h-0.55zM68.0 59.9h0.55v0.55h-0.55zM56.5 71.7h0.55v0.55h-0.55zM55.9 76.1h0.55v0.55h-0.55zM46.9 72.8h0.55v0.55h-0.55zM48.0 55.0h0.55v0.55h-0.55zM66.2 49.5h0.55v0.55h-0.55zM71.6 66.8h0.55v0.55h-0.55zM63.2 48.8h0.55v0.55h-0.55zM69.9 77.1h0.55v0.55h-0.55zM53.6 61.8h0.55v0.55h-0.55zM75.5 59.8h0.55v0.55h-0.55zM49.3 56.7h0.55v0.55h-0.55zM59.8 65.8h0.55v0.55h-0.55zM62.6 82.2h0.55v0.55h-0.55zM54.1 69.1h0.55v0.55h-0.55zM63.2 48.5h0.55v0.55h-0.55zM70.0 81.7h0.55v0.55h-0.55zM40.1 53.4h0.55v0.55h-0.55zM40.0 44.2h0.55v0.55h-0.55zM52.0 40.9h0.55v0.55h-0.55zM64.3 78.5h0.55v0.55h-0.55zM40.8 62.8h0.55v0.55h-0.55zM42.3 76.0h0.55v0.55h-0.55zM48.1 61.5h0.55v0.55h-0.55zM57.4 69.1h0.55v0.55h-0.55zM52.3 63.9h0.55v0.55h-0.55zM51.0 65.5h0.55v0.55h-0.55zM45.8 66.2h0.55v0.55h-0.55zM37.6 61.5h0.55v0.55h-0.55zM70.8 59.8h0.55v0.55h-0.55zM45.8 68.6h0.55v0.55h-0.55zM41.2 46.2h0.55v0.55h-0.55zM51.7 73.0h0.55v0.55h-0.55zM57.8 61.1h0.55v0.55h-0.55zM43.6 52.7h0.55v0.55h-0.55zM66.8 62.9h0.55v0.55h-0.55zM39.7 41.0h0.55v0.55h-0.55zM52.8 94.1h0.55v0.55h-0.55zM45.4 64.6h0.55v0.55h-0.55zM56.1 60.8h0.55v0.55h-0.55zM47.8 47.9h0.55v0.55h-0.55zM52.6 84.5h0.55v0.55h-0.55zM51.9 74.2h0.55v0.55h-0.55zM40.3 63.5h0.55v0.55h-0.55zM60.8 74.3h0.55v0.55h-0.55zM48.1 72.2h0.55v0.55h-0.55zM55.5 53.8h0.55v0.55h-0.55zM55.6 51.7h0.55v0.55h-0.55zM48.5 64.5h0.55v0.55h-0.55zM32.7 67.5h0.55v0.55h-0.55zM41.7 48.4h0.55v0.55h-0.55zM54.3 72.6h0.55v0.55h-0.55zM56.3 78.3h0.55v0.55h-0.55zM40.9 50.5h0.55v0.55h-0.55zM69.0 64.3h0.55v0.55h-0.55zM59.7 51.6h0.55v0.55h-0.55zM62.4 64.3h0.55v0.55h-0.55zM60.3 61.9h0.55v0.55h-0.55zM62.4 53.0h0.55v0.55h-0.55zM41.9 48.2h0.55v0.55h-0.55zM61.7 52.1h0.55v0.55h-0.55zM43.2 54.5h0.55v0.55h-0.55zM46.8 49.5h0.55v0.55h-0.55zM50.4 56.5h0.55v0.55h-0.55zM47.1 53.2h0.55v0.55h-0.55zM53.6 57.7h0.55v0.55h-0.55zM56.8 65.6h0.55v0.55h-0.55zM49.9 37.3h0.55v0.55h-0.55zM47.8 55.1h0.55v0.55h-0.55zM55.6 43.4h0.55v0.55h-0.55zM48.2 61.2h0.55v0.55h-0.55zM55.9 75.0h0.55v0.55h-0.55zM54.9 74.9h0.55v0.55h-0.55zM36.6 45.5h0.55v0.55h-0.55zM66.4 65.4h0.55v0.55h-0.55zM59.4 63.4h0.55v0.55h-0.55zM54.5 48.1h0.55v0.55h-0.55zM60.7 54.9h0.55v0.55h-0.55zM63.3 61.9h0.55v0.55h-0.55zM34.4 52.5h0.55v0.55h-0.55zM63.6 59.0h0.55v0.55h-0.55zM52.7 66.6h0.55v0.55h-0.55zM49.6 57.7h0.55v0.55h-0.55zM56.3 64.4h0.55v0.55h-0.55zM67.4 60.3h0.55v0.55h-0.55zM76.7 79.6h0.55v0.55h-0.55zM72.7 71.5h0.55v0.55h-0.55zM56.5 64.3h0.55v0.55h-0.55zM51.2 55.0h0.55v0.55h-0.55zM52.2 55.8h0.55v0.55h-0.55zM70.2 65.6h0.55v0.55h-0.55zM44.5 42.1h0.55v0.55h-0.55zM53.1 58.4h0.55v0.55h-0.55zM42.1 52.4h0.55v0.55h-0.55zM38.9 74.3h0.55v0.55h-0.55zM63.8 92.6h0.55v0.55h-0.55zM54.2 61.4h0.55v0.55h-0.55zM67.1 61.5h0.55v0.55h-0.55zM55.0 58.4h0.55v0.55h-0.55zM55.5 81.4h0.55v0.55h-0.55zM69.3 80.4h0.55v0.55h-0.55zM52.3 64.1h0.55v0.55h-0.55zM51.4 75.9h0.55v0.55h-0.55zM45.8 72.4h0.55v0.55h-0.55zM68.9 76.8h0.55v0.55h-0.55zM51.3 77.4h0.55v0.55h-0.55zM46.5 55.9h0.55v0.55h-0.55zM48.5 79.0h0.55v0.55h-0.55zM66.2 52.7h0.55v0.55h-0.55zM47.6 60.7h0.55v0.55h-0.55zM78.9 69.1h0.55v0.55h-0.55zM44.2 43.7h0.55v0.55h-0.55zM53.8 78.0h0.55v0.55h-0.55zM69.1 56.0h0.55v0.55h-0.55zM47.6 58.7h0.55v0.55h-0.55zM43.0 77.4h0.55v0.55h-0.55zM50.1 77.4h0.55v0.55h-0.55zM36.6 52.1h0.55v0.55h-0.55zM54.6 53.7h0.55v0.55h-0.55zM61.3 61.4h0.55v0.55h-0.55zM47.8 72.6h0.55v0.55h-0.55zM54.9 39.4h0.55v0.55h-0.55zM71.5 64.8h0.55v0.55h-0.55zM54.4 40.2h0.55v0.55h-0.55zM47.9 60.5h0.55v0.55h-0.55zM58.4 44.1h0.55v0.55h-0.55zM40.6 41.7h0.55v0.55h-0.55zM54.3 67.5h0.55v0.55h-0.55zM39.3 59.8h0.55v0.55h-0.55zM64.8 80.0h0.55v0.55h-0.55zM59.3 58.1h0.55v0.55h-0.55zM42.1 54.8h0.55v0.55h-0.55zM50.2 66.1h0.55v0.55h-0.55zM60.6 82.1h0.55v0.55h-0.55zM53.5 50.2h0.55v0.55h-0.55zM70.9 70.5h0.55v0.55h-0.55zM53.2 54.6h0.55v0.55h-0.55zM36.2 55.3h0.55v0.55h-0.55zM59.5 51.9h0.55v0.55h-0.55zM45.0 68.0h0.55v0.55h-0.55zM59.2 69.4h0.55v0.55h-0.55zM65.4 77.7h0.55v0.55h-0.55zM51.7 75.9h0.55v0.55h-0.55zM49.5 73.0h0.55v0.55h-0.55zM57.3 65.4h0.55v0.55h-0.55zM62.8 60.7h0.55v0.55h-0.55zM67.1 70.6h0.55v0.55h-0.55zM54.1 56.3h0.55v0.55h-0.55zM47.0 58.6h0.55v0.55h-0.55zM53.3 63.1h0.55v0.55h-0.55zM81.4 63.9h0.55v0.55h-0.55zM58.1 51.6h0.55v0.55h-0.55zM48.1 60.9h0.55v0.55h-0.55zM52.8 50.8h0.55v0.55h-0.55zM66.0 53.2h0.55v0.55h-0.55zM55.3 34.1h0.55v0.55h-0.55zM55.9 66.2h0.55v0.55h-0.55zM58.7 69.5h0.55v0.55h-0.55zM57.8 64.3h0.55v0.55h-0.55zM37.1 58.9h0.55v0.55h-0.55zM38.3 75.1h0.55v0.55h-0.55zM56.8 60.1h0.55v0.55h-0.55zM46.3 58.1h0.55v0.55h-0.55zM76.1 78.8h0.55v0.55h-0.55zM59.2 77.8h0.55v0.55h-0.55zM35.2 44.3h0.55v0.55h-0.55zM47.9 54.1h0.55v0.55h-0.55zM51.2 66.3h0.55v0.55h-0.55zM77.0 49.0h0.55v0.55h-0.55zM56.4 66.0h0.55v0.55h-0.55zM58.1 73.7h0.55v0.55h-0.55zM64.9 45.1h0.55v0.55h-0.55zM55.4 59.6h0.55v0.55h-0.55zM52.4 44.8h0.55v0.55h-0.55zM32.5 40.3h0.55v0.55h-0.55zM59.9 64.1h0.55v0.55h-0.55zM47.1 35.9h0.55v0.55h-0.55zM49.3 55.2h0.55v0.55h-0.55zM40.3 55.6h0.55v0.55h-0.55zM62.6 67.7h0.55v0.55h-0.55zM56.7 68.9h0.55v0.55h-0.55zM50.4 65.1h0.55v0.55h-0.55zM57.3 69.2h0.55v0.55h-0.55zM53.9 61.5h0.55v0.55h-0.55zM51.6 55.9h0.55v0.55h-0.55zM74.9 64.1h0.55v0.55h-0.55zM66.7 88.2h0.55v0.55h-0.55zM60.7 42.3h0.55v0.55h-0.55zM63.6 71.1h0.55v0.55h-0.55zM75.0 74.0h0.55v0.55h-0.55zM57.0 47.9h0.55v0.55h-0.55zM48.9 67.9h0.55v0.55h-0.55zM55.4 50.3h0.55v0.55h-0.55zM50.5 59.3h0.55v0.55h-0.55zM56.7 66.7h0.55v0.55h-0.55zM48.2 49.5h0.55v0.55h-0.55zM70.8 78.6h0.55v0.55h-0.55zM57.8 74.9h0.55v0.55h-0.55zM61.0 69.6h0.55v0.55h-0.55zM56.1 53.3h0.55v0.55h-0.55zM63.3 73.3h0.55v0.55h-0.55zM54.8 87.3h0.55v0.55h-0.55zM78.4 79.3h0.55v0.55h-0.55zM73.7 67.2h0.55v0.55h-0.55zM50.1 56.9h0.55v0.55h-0.55zM48.9 66.0h0.55v0.55h-0.55zM57.1 70.7h0.55v0.55h-0.55zM47.0 93.7h0.55v0.55h-0.55zM73.3 57.9h0.55v0.55h-0.55zM62.2 67.0h0.55v0.55h-0.55zM56.5 60.0h0.55v0.55h-0.55zM51.0 53.9h0.55v0.55h-0.55zM56.4 62.3h0.55v0.55h-0.55zM54.5 52.6h0.55v0.55h-0.55zM55.5 63.5h0.55v0.55h-0.55zM56.1 49.6h0.55v0.55h-0.55zM61.9 73.3h0.55v0.55h-0.55zM58.5 57.5h0.55v0.55h-0.55zM50.2 61.4h0.55v0.55h-0.55zM66.5 79.2h0.55v0.55h-0.55zM51.4 56.0h0.55v0.55h-0.55zM58.8 64.5h0.55v0.55h-0.55zM45.0 56.5h0.55v0.55h-0.55zM56.6 70.9h0.55v0.55h-0.55zM41.7 53.9h0.55v0.55h-0.55zM54.6 48.0h0.55v0.55h-0.55zM57.1 66.8h0.55v0.55h-0.55zM50.4 51.6h0.55v0.55h-0.55zM53.3 59.3h0.55v0.55h-0.55zM54.7 52.7h0.55v0.55h-0.55zM57.8 41.6h0.55v0.55h-0.55zM53.6 63.5h0.55v0.55h-0.55zM60.6 54.0h0.55v0.55h-0.55zM57.4 55.4h0.55v0.55h-0.55zM67.2 81.2h0.55v0.55h-0.55zM53.4 68.9h0.55v0.55h-0.55zM51.0 76.1h0.55v0.55h-0.55zM64.9 60.8h0.55v0.55h-0.55zM47.3 70.0h0.55v0.55h-0.55zM68.2 73.0h0.55v0.55h-0.55zM55.0 40.4h0.55v0.55h-0.55zM54.6 80.7h0.55v0.55h-0.55zM49.2 78.5h0.55v0.55h-0.55zM72.9 67.7h0.55v0.55h-0.55zM62.8 56.8h0.55v0.55h-0.55zM44.7 64.4h0.55v0.55h-0.55zM53.2 62.9h0.55v0.55h-0.55zM60.1 59.9h0.55v0.55h-0.55zM58.1 67.4h0.55v0.55h-0.55zM61.6 84.0h0.55v0.55h-0.55zM58.9 63.0h0.55v0.55h-0.55zM51.1 56.3h0.55v0.55h-0.55zM66.4 61.9h0.55v0.55h-0.55zM44.3 58.9h0.55v0.55h-0.55zM52.3 58.2h0.55v0.55h-0.55zM59.6 47.5h0.55v0.55h-0.55zM59.5 63.6h0.55v0.55h-0.55zM45.7 66.0h0.55v0.55h-0.55zM56.0 68.9h0.55v0.55h-0.55zM52.5 67.4h0.55v0.55h-0.55zM37.7 54.2h0.55v0.55h-0.55zM65.1 73.2h0.55v0.55h-0.55zM52.7 56.2h0.55v0.55h-0.55zM56.2 36.9h0.55v0.55h-0.55zM51.0 72.4h0.55v0.55h-0.55zM56.6 49.8h0.55v0.55h-0.55zM45.0 83.6h0.55v0.55h-0.55zM53.0 52.5h0.55v0.55h-0.55zM58.7 73.2h0.55v0.55h-0.55zM38.1 81.2h0.55v0.55h-0.55zM53.5 37.7h0.55v0.55h-0.55zM54.8 41.1h0.55v0.55h-0.55zM65.6 65.1h0.55v0.55h-0.55zM71.0 51.3h0.55v0.55h-0.55zM58.8 74.9h0.55v0.55h-0.55zM47.3 56.3h0.55v0.55h-0.55zM51.7 63.0h0.55v0.55h-0.55zM48.0 70.8h0.55v0.55h-0.55zM59.6 62.7h0.55v0.55h-0.55zM67.5 55.7h0.55v0.55h-0.55zM63.6 54.0h0.55v0.55h-0.55zM54.1 39.3h0.55v0.55h-0.55zM56.0 60.6h0.55v0.55h-0.55zM48.8 57.1h0.55v0.55h-0.55zM49.6 55.5h0.55v0.55h-0.55zM35.1 60.9h0.55v0.55h-0.55zM48.7 58.2h0.55v0.55h-0.55zM46.0 63.7h0.55v0.55h-0.55zM60.4 58.5h0.55v0.55h-0.55zM55.9 79.5h0.55v0.55h-0.55zM66.2 71.4h0.55v0.55h-0.55zM63.2 56.8h0.55v0.55h-0.55zM58.0 76.0h0.55v0.55h-0.55zM50.1 62.8h0.55v0.55h-0.55zM59.4 66.4h0.55v0.55h-0.55zM56.3 74.8h0.55v0.55h-0.55zM56.2 71.6h0.55v0.55h-0.55zM66.0 68.2h0.55v0.55h-0.55zM56.7 48.2h0.55v0.55h-0.55zM42.2 58.7h0.55v0.55h-0.55zM64.2 79.1h0.55v0.55h-0.55zM46.2 69.1h0.55v0.55h-0.55zM45.5 56.5h0.55v0.55h-0.55zM55.3 71.5h0.55v0.55h-0.55zM61.0 76.0h0.55v0.55h-0.55zM50.2 75.2h0.55v0.55h-0.55zM62.8 61.8h0.55v0.55h-0.55zM56.8 55.6h0.55v0.55h-0.55zM44.7 60.7h0.55v0.55h-0.55zM60.2 97.3h0.55v0.55h-0.55zM57.0 82.8h0.55v0.55h-0.55zM57.8 66.1h0.55v0.55h-0.55zM58.2 52.5h0.55v0.55h-0.55zM63.8 65.3h0.55v0.55h-0.55zM44.9 73.1h0.55v0.55h-0.55zM61.1 67.0h0.55v0.55h-0.55zM66.3 54.9h0.55v0.55h-0.55zM61.8 70.4h0.55v0.55h-0.55zM52.0 78.6h0.55v0.55h-0.55zM38.6 51.3h0.55v0.55h-0.55zM55.3 49.5h0.55v0.55h-0.55zM48.1 44.5h0.55v0.55h-0.55zM51.5 49.9h0.55v0.55h-0.55zM52.2 44.8h0.55v0.55h-0.55zM57.7 59.0h0.55v0.55h-0.55zM55.3 62.1h0.55v0.55h-0.55zM51.3 47.7h0.55v0.55h-0.55zM34.4 68.8h0.55v0.55h-0.55zM45.8 59.8h0.55v0.55h-0.55zM51.3 39.5h0.55v0.55h-0.55zM46.6 57.7h0.55v0.55h-0.55zM47.6 69.0h0.55v0.55h-0.55zM50.9 53.9h0.55v0.55h-0.55zM50.0 74.3h0.55v0.55h-0.55zM51.8 71.1h0.55v0.55h-0.55zM51.8 40.5h0.55v0.55h-0.55zM46.3 65.3h0.55v0.55h-0.55zM60.6 71.2h0.55v0.55h-0.55zM65.2 73.1h0.55v0.55h-0.55zM51.2 61.4h0.55v0.55h-0.55zM59.7 56.5h0.55v0.55h-0.55zM57.8 42.6h0.55v0.55h-0.55zM59.7 59.6h0.55v0.55h-0.55zM42.6 78.3h0.55v0.55h-0.55zM57.6 62.6h0.55v0.55h-0.55zM44.6 60.0h0.55v0.55h-0.55zM64.2 50.4h0.55v0.55h-0.55zM23.9 60.6h0.55v0.55h-0.55zM44.8 64.0h0.55v0.55h-0.55zM48.5 53.4h0.55v0.55h-0.55zM52.0 76.7h0.55v0.55h-0.55zM50.4 88.4h0.55v0.55h-0.55zM46.7 51.7h0.55v0.55h-0.55zM63.4 67.8h0.55v0.55h-0.55zM49.3 73.8h0.55v0.55h-0.55zM36.8 56.4h0.55v0.55h-0.55zM63.2 57.7h0.55v0.55h-0.55zM46.3 71.6h0.55v0.55h-0.55zM62.3 60.8h0.55v0.55h-0.55zM39.2 62.9h0.55v0.55h-0.55zM61.1 70.9h0.55v0.55h-0.55zM69.1 56.2h0.55v0.55h-0.55zM51.0 63.6h0.55v0.55h-0.55zM61.4 49.7h0.55v0.55h-0.55zM55.6 28.9h0.55v0.55h-0.55zM59.0 53.6h0.55v0.55h-0.55zM61.2 69.9h0.55v0.55h-0.55zM45.1 64.5h0.55v0.55h-0.55zM59.1 69.2h0.55v0.55h-0.55zM43.9 53.7h0.55v0.55h-0.55zM48.6 96.0h0.55v0.55h-0.55zM52.6 60.9h0.55v0.55h-0.55zM46.3 76.8h0.55v0.55h-0.55zM55.9 80.5h0.55v0.55h-0.55zM62.0 61.4h0.55v0.55h-0.55zM56.9 48.8h0.55v0.55h-0.55zM50.3 57.1h0.55v0.55h-0.55zM44.8 65.9h0.55v0.55h-0.55zM59.0 79.7h0.55v0.55h-0.55zM25.5 62.5h0.55v0.55h-0.55zM45.9 59.7h0.55v0.55h-0.55zM59.9 66.7h0.55v0.55h-0.55zM53.5 57.5h0.55v0.55h-0.55zM60.3 66.1h0.55v0.55h-0.55zM39.2 63.9h0.55v0.55h-0.55zM39.6 52.5h0.55v0.55h-0.55zM56.4 63.4h0.55v0.55h-0.55zM52.8 52.8h0.55v0.55h-0.55zM50.1 53.0h0.55v0.55h-0.55zM60.6 70.0h0.55v0.55h-0.55zM73.7 73.7h0.55v0.55h-0.55zM46.8 59.5h0.55v0.55h-0.55zM48.5 68.5h0.55v0.55h-0.55zM73.5 66.9h0.55v0.55h-0.55zM32.7 53.3h0.55v0.55h-0.55zM46.4 71.6h0.55v0.55h-0.55zM56.1 66.4h0.55v0.55h-0.55zM66.4 49.8h0.55v0.55h-0.55zM55.2 87.2h0.55v0.55h-0.55zM55.0 53.4h0.55v0.55h-0.55zM33.1 49.9h0.55v0.55h-0.55zM35.5 69.0h0.55v0.55h-0.55zM58.9 74.2h0.55v0.55h-0.55zM51.4 55.4h0.55v0.55h-0.55zM55.9 86.2h0.55v0.55h-0.55zM41.4 68.7h0.55v0.55h-0.55zM57.4 70.0h0.55v0.55h-0.55zM53.5 69.6h0.55v0.55h-0.55zM61.1 59.6h0.55v0.55h-0.55zM50.6 61.8h0.55v0.55h-0.55zM46.5 62.7h0.55v0.55h-0.55zM53.3 66.0h0.55v0.55h-0.55zM70.5 75.1h0.55v0.55h-0.55zM53.6 70.8h0.55v0.55h-0.55zM60.1 71.1h0.55v0.55h-0.55zM56.1 66.0h0.55v0.55h-0.55zM48.4 55.1h0.55v0.55h-0.55zM66.7 76.0h0.55v0.55h-0.55zM61.9 66.6h0.55v0.55h-0.55zM55.5 57.3h0.55v0.55h-0.55zM43.0 74.4h0.55v0.55h-0.55zM54.6 56.3h0.55v0.55h-0.55zM51.8 79.6h0.55v0.55h-0.55zM46.8 86.9h0.55v0.55h-0.55zM68.7 88.7h0.55v0.55h-0.55zM49.1 64.3h0.55v0.55h-0.55zM51.5 65.8h0.55v0.55h-0.55zM50.6 54.9h0.55v0.55h-0.55zM60.9 51.8h0.55v0.55h-0.55zM52.9 70.4h0.55v0.55h-0.55zM49.1 59.2h0.55v0.55h-0.55zM56.6 58.1h0.55v0.55h-0.55zM44.6 64.5h0.55v0.55h-0.55zM59.4 82.9h0.55v0.55h-0.55zM49.6 76.4h0.55v0.55h-0.55zM47.4 60.6h0.55v0.55h-0.55zM53.3 66.8h0.55v0.55h-0.55zM68.3 81.1h0.55v0.55h-0.55zM54.6 79.5h0.55v0.55h-0.55zM66.0 70.1h0.55v0.55h-0.55zM52.1 74.9h0.55v0.55h-0.55zM55.4 67.3h0.55v0.55h-0.55zM55.2 71.1h0.55v0.55h-0.55zM68.1 73.5h0.55v0.55h-0.55zM56.9 74.8h0.55v0.55h-0.55zM63.4 49.3h0.55v0.55h-0.55zM62.1 44.6h0.55v0.55h-0.55zM61.5 68.6h0.55v0.55h-0.55zM68.0 63.0h0.55v0.55h-0.55zM48.3 54.9h0.55v0.55h-0.55zM47.7 74.4h0.55v0.55h-0.55zM50.5 55.3h0.55v0.55h-0.55zM56.5 53.1h0.55v0.55h-0.55zM49.8 58.7h0.55v0.55h-0.55zM73.6 76.2h0.55v0.55h-0.55zM48.1 45.4h0.55v0.55h-0.55zM57.5 63.2h0.55v0.55h-0.55zM59.9 68.7h0.55v0.55h-0.55zM55.7 74.2h0.55v0.55h-0.55zM62.5 63.6h0.55v0.55h-0.55zM50.0 58.4h0.55v0.55h-0.55zM56.6 49.0h0.55v0.55h-0.55zM51.0 54.8h0.55v0.55h-0.55zM45.9 72.8h0.55v0.55h-0.55zM54.9 63.5h0.55v0.55h-0.55zM56.7 44.1h0.55v0.55h-0.55zM55.5 66.4h0.55v0.55h-0.55zM57.8 48.9h0.55v0.55h-0.55zM61.6 64.0h0.55v0.55h-0.55zM70.0 73.1h0.55v0.55h-0.55zM67.2 86.3h0.55v0.55h-0.55zM53.5 58.2h0.55v0.55h-0.55zM48.9 53.0h0.55v0.55h-0.55zM48.0 41.6h0.55v0.55h-0.55zM55.9 68.0h0.55v0.55h-0.55zM61.8 56.9h0.55v0.55h-0.55zM63.9 52.6h0.55v0.55h-0.55zM47.2 41.9h0.55v0.55h-0.55zM46.0 55.6h0.55v0.55h-0.55zM68.6 65.8h0.55v0.55h-0.55zM48.2 71.2h0.55v0.55h-0.55zM58.0 59.4h0.55v0.55h-0.55zM54.1 59.6h0.55v0.55h-0.55zM44.5 44.4h0.55v0.55h-0.55zM58.8 77.5h0.55v0.55h-0.55zM65.3 56.9h0.55v0.55h-0.55zM48.4 62.2h0.55v0.55h-0.55zM63.3 65.0h0.55v0.55h-0.55zM51.7 68.2h0.55v0.55h-0.55zM55.2 69.2h0.55v0.55h-0.55zM46.6 47.5h0.55v0.55h-0.55zM58.1 71.3h0.55v0.55h-0.55zM45.9 64.1h0.55v0.55h-0.55zM60.6 57.0h0.55v0.55h-0.55zM57.0 86.9h0.55v0.55h-0.55zM65.1 72.7h0.55v0.55h-0.55zM53.3 83.1h0.55v0.55h-0.55zM40.2 60.7h0.55v0.55h-0.55zM65.5 76.2h0.55v0.55h-0.55zM45.4 57.6h0.55v0.55h-0.55zM49.8 41.2h0.55v0.55h-0.55zM62.0 67.9h0.55v0.55h-0.55zM53.4 69.9h0.55v0.55h-0.55zM62.2 64.8h0.55v0.55h-0.55zM64.4 78.7h0.55v0.55h-0.55zM51.8 65.8h0.55v0.55h-0.55zM54.5 75.5h0.55v0.55h-0.55zM53.5 69.1h0.55v0.55h-0.55zM56.3 63.5h0.55v0.55h-0.55zM68.1 58.5h0.55v0.55h-0.55zM69.0 69.2h0.55v0.55h-0.55zM64.7 58.5h0.55v0.55h-0.55zM64.9 69.4h0.55v0.55h-0.55zM51.1 67.2h0.55v0.55h-0.55zM53.9 62.9h0.55v0.55h-0.55zM62.7 52.4h0.55v0.55h-0.55zM35.8 47.3h0.55v0.55h-0.55zM49.2 56.8h0.55v0.55h-0.55zM57.1 69.2h0.55v0.55h-0.55zM69.8 62.8h0.55v0.55h-0.55zM56.1 54.0h0.55v0.55h-0.55zM64.2 76.8h0.55v0.55h-0.55zM58.7 38.8h0.55v0.55h-0.55zM67.4 78.6h0.55v0.55h-0.55zM56.2 44.9h0.55v0.55h-0.55zM54.6 70.1h0.55v0.55h-0.55zM55.4 53.2h0.55v0.55h-0.55zM51.4 75.4h0.55v0.55h-0.55zM49.6 81.5h0.55v0.55h-0.55zM56.2 66.3h0.55v0.55h-0.55zM42.6 59.2h0.55v0.55h-0.55zM55.3 45.4h0.55v0.55h-0.55zM66.2 43.4h0.55v0.55h-0.55zM45.7 66.0h0.55v0.55h-0.55zM61.3 70.1h0.55v0.55h-0.55zM51.4 61.5h0.55v0.55h-0.55zM51.2 57.2h0.55v0.55h-0.55zM38.3 78.8h0.55v0.55h-0.55zM57.5 64.2h0.55v0.55h-0.55zM51.0 67.0h0.55v0.55h-0.55zM54.6 62.2h0.55v0.55h-0.55zM57.6 41.9h0.55v0.55h-0.55zM53.3 50.8h0.55v0.55h-0.55zM57.7 80.1h0.55v0.55h-0.55zM46.2 64.1h0.55v0.55h-0.55zM53.7 74.6h0.55v0.55h-0.55zM41.6 46.6h0.55v0.55h-0.55zM57.8 58.1h0.55v0.55h-0.55zM56.3 75.5h0.55v0.55h-0.55zM46.8 60.7h0.55v0.55h-0.55zM57.6 67.2h0.55v0.55h-0.55zM54.6 75.4h0.55v0.55h-0.55zM71.0 54.0h0.55v0.55h-0.55zM62.2 36.1h0.55v0.55h-0.55zM64.7 56.4h0.55v0.55h-0.55zM54.9 59.0h0.55v0.55h-0.55zM45.6 50.3h0.55v0.55h-0.55zM56.4 78.0h0.55v0.55h-0.55zM62.6 56.9h0.55v0.55h-0.55zM48.5 56.4h0.55v0.55h-0.55zM51.9 85.2h0.55v0.55h-0.55zM60.6 62.9h0.55v0.55h-0.55zM47.7 52.8h0.55v0.55h-0.55zM67.9 68.9h0.55v0.55h-0.55zM51.0 75.8h0.55v0.55h-0.55zM48.6 72.3h0.55v0.55h-0.55zM46.1 60.4h0.55v0.55h-0.55zM60.3 66.7h0.55v0.55h-0.55zM59.9 51.8h0.55v0.55h-0.55zM71.9 74.5h0.55v0.55h-0.55zM56.5 68.1h0.55v0.55h-0.55zM48.4 62.9h0.55v0.55h-0.55zM45.1 66.7h0.55v0.55h-0.55zM61.2 77.3h0.55v0.55h-0.55zM65.2 70.0h0.55v0.55h-0.55zM51.4 61.3h0.55v0.55h-0.55zM53.1 66.1h0.55v0.55h-0.55zM42.7 75.4h0.55v0.55h-0.55zM41.1 60.6h0.55v0.55h-0.55zM53.4 57.3h0.55v0.55h-0.55zM67.6 58.5h0.55v0.55h-0.55zM71.2 72.6h0.55v0.55h-0.55zM52.5 68.4h0.55v0.55h-0.55zM63.9 56.7h0.55v0.55h-0.55zM53.8 56.7h0.55v0.55h-0.55zM54.2 59.0h0.55v0.55h-0.55zM59.1 73.8h0.55v0.55h-0.55zM66.3 61.6h0.55v0.55h-0.55zM59.5 72.0h0.55v0.55h-0.55zM49.1 52.0h0.55v0.55h-0.55zM60.4 50.5h0.55v0.55h-0.55zM58.9 50.5h0.55v0.55h-0.55zM65.6 47.8h0.55v0.55h-0.55zM66.8 77.7h0.55v0.55h-0.55zM52.7 81.2h0.55v0.55h-0.55zM42.5 45.4h0.55v0.55h-0.55zM63.0 69.2h0.55v0.55h-0.55zM44.7 35.8h0.55v0.55h-0.55zM53.5 59.8h0.55v0.55h-0.55zM51.1 60.6h0.55v0.55h-0.55zM39.2 60.4h0.55v0.55h-0.55zM74.3 76.3h0.55v0.55h-0.55zM49.7 55.9h0.55v0.55h-0.55zM61.7 73.8h0.55v0.55h-0.55zM56.6 48.7h0.55v0.55h-0.55zM56.7 64.2h0.55v0.55h-0.55zM70.3 73.2h0.55v0.55h-0.55zM63.3 75.2h0.55v0.55h-0.55zM57.3 80.6h0.55v0.55h-0.55zM53.1 68.2h0.55v0.55h-0.55zM59.0 51.1h0.55v0.55h-0.55zM43.5 45.2h0.55v0.55h-0.55zM56.1 62.1h0.55v0.55h-0.55zM54.2 69.1h0.55v0.55h-0.55zM38.5 67.1h0.55v0.55h-0.55zM54.8 59.9h0.55v0.55h-0.55zM67.2 80.6h0.55v0.55h-0.55zM48.3 53.6h0.55v0.55h-0.55zM50.6 65.2h0.55v0.55h-0.55zM56.6 52.4h0.55v0.55h-0.55zM59.2 49.7h0.55v0.55h-0.55zM62.9 66.0h0.55v0.55h-0.55zM66.1 85.7h0.55v0.55h-0.55zM52.4 61.7h0.55v0.55h-0.55zM61.7 71.5h0.55v0.55h-0.55zM45.6 68.7h0.55v0.55h-0.55zM51.4 71.4h0.55v0.55h-0.55zM65.8 60.8h0.55v0.55h-0.55zM54.8 65.2h0.55v0.55h-0.55zM34.8 77.5h0.55v0.55h-0.55zM59.9 63.7h0.55v0.55h-0.55zM49.4 55.8h0.55v0.55h-0.55zM57.8 76.6h0.55v0.55h-0.55zM58.9 78.0h0.55v0.55h-0.55zM33.5 63.2h0.55v0.55h-0.55zM57.1 62.3h0.55v0.55h-0.55zM39.8 59.1h0.55v0.55h-0.55zM60.2 46.3h0.55v0.55h-0.55zM43.5 53.0h0.55v0.55h-0.55zM52.9 71.2h0.55v0.55h-0.55zM52.6 39.6h0.55v0.55h-0.55zM64.3 53.5h0.55v0.55h-0.55zM56.2 82.5h0.55v0.55h-0.55zM50.1 49.6h0.55v0.55h-0.55zM47.5 56.4h0.55v0.55h-0.55zM46.0 61.4h0.55v0.55h-0.55zM63.0 65.0h0.55v0.55h-0.55zM53.9 96.3h0.55v0.55h-0.55zM47.7 66.3h0.55v0.55h-0.55zM57.9 71.3h0.55v0.55h-0.55zM54.0 68.7h0.55v0.55h-0.55zM71.7 59.8h0.55v0.55h-0.55zM47.7 68.8h0.55v0.55h-0.55zM47.5 60.6h0.55v0.55h-0.55zM57.6 66.3h0.55v0.55h-0.55zM55.7 72.9h0.55v0.55h-0.55zM49.0 49.1h0.55v0.55h-0.55zM60.5 57.2h0.55v0.55h-0.55zM62.1 53.4h0.55v0.55h-0.55zM60.5 65.3h0.55v0.55h-0.55zM28.9 52.2h0.55v0.55h-0.55zM51.2 80.7h0.55v0.55h-0.55zM43.5 76.9h0.55v0.55h-0.55zM65.2 66.2h0.55v0.55h-0.55zM58.5 56.2h0.55v0.55h-0.55zM55.7 65.5h0.55v0.55h-0.55zM60.7 69.9h0.55v0.55h-0.55zM51.0 55.7h0.55v0.55h-0.55zM52.1 68.6h0.55v0.55h-0.55zM37.8 52.7h0.55v0.55h-0.55zM49.9 57.8h0.55v0.55h-0.55zM43.7 34.4h0.55v0.55h-0.55zM51.5 60.9h0.55v0.55h-0.55zM54.2 39.8h0.55v0.55h-0.55zM54.3 68.8h0.55v0.55h-0.55zM62.9 75.1h0.55v0.55h-0.55zM59.6 49.4h0.55v0.55h-0.55zM58.8 58.0h0.55v0.55h-0.55zM54.1 81.4h0.55v0.55h-0.55zM47.2 54.9h0.55v0.55h-0.55zM48.9 54.5h0.55v0.55h-0.55zM64.1 65.1h0.55v0.55h-0.55zM67.3 64.6h0.55v0.55h-0.55zM53.8 75.7h0.55v0.55h-0.55zM48.3 59.3h0.55v0.55h-0.55zM53.8 63.8h0.55v0.55h-0.55zM62.2 53.9h0.55v0.55h-0.55zM57.6 62.0h0.55v0.55h-0.55zM41.4 53.6h0.55v0.55h-0.55zM54.7 67.9h0.55v0.55h-0.55zM59.2 67.6h0.55v0.55h-0.55zM53.8 58.0h0.55v0.55h-0.55zM54.8 51.1h0.55v0.55h-0.55zM43.4 62.1h0.55v0.55h-0.55zM42.1 60.3h0.55v0.55h-0.55zM47.3 58.4h0.55v0.55h-0.55zM51.9 54.3h0.55v0.55h-0.55zM45.8 45.1h0.55v0.55h-0.55zM53.1 53.0h0.55v0.55h-0.55zM48.3 31.1h0.55v0.55h-0.55zM49.6 67.3h0.55v0.55h-0.55zM34.7 64.0h0.55v0.55h-0.55zM56.1 63.9h0.55v0.55h-0.55zM44.1 68.6h0.55v0.55h-0.55zM52.8 52.0h0.55v0.55h-0.55zM60.6 60.9h0.55v0.55h-0.55zM53.6 58.0h0.55v0.55h-0.55zM59.6 62.9h0.55v0.55h-0.55zM65.4 65.6h0.55v0.55h-0.55zM49.4 61.8h0.55v0.55h-0.55zM60.9 57.1h0.55v0.55h-0.55zM59.8 68.0h0.55v0.55h-0.55zM45.5 37.7h0.55v0.55h-0.55zM56.8 65.1h0.55v0.55h-0.55zM53.4 54.4h0.55v0.55h-0.55zM64.0 59.0h0.55v0.55h-0.55zM47.6 56.4h0.55v0.55h-0.55zM54.0 50.2h0.55v0.55h-0.55zM54.1 87.1h0.55v0.55h-0.55zM68.9 71.9h0.55v0.55h-0.55zM67.7 66.8h0.55v0.55h-0.55zM46.0 79.6h0.55v0.55h-0.55zM66.4 65.9h0.55v0.55h-0.55zM44.0 80.7h0.55v0.55h-0.55zM64.0 54.8h0.55v0.55h-0.55zM58.7 71.3h0.55v0.55h-0.55zM58.2 75.3h0.55v0.55h-0.55zM58.0 70.5h0.55v0.55h-0.55zM50.5 46.5h0.55v0.55h-0.55zM58.3 100.0h0.55v0.55h-0.55zM61.8 76.9h0.55v0.55h-0.55zM69.9 79.6h0.55v0.55h-0.55zM57.3 55.3h0.55v0.55h-0.55zM48.4 41.8h0.55v0.55h-0.55zM56.7 73.4h0.55v0.55h-0.55zM38.8 69.6h0.55v0.55h-0.55zM66.1 76.0h0.55v0.55h-0.55zM45.5 57.7h0.55v0.55h-0.55zM36.7 55.6h0.55v0.55h-0.55zM66.4 84.8h0.55v0.55h-0.55zM50.8 80.6h0.55v0.55h-0.55zM56.6 56.6h0.55v0.55h-0.55zM63.4 30.6h0.55v0.55h-0.55zM55.2 65.6h0.55v0.55h-0.55zM78.0 78.5h0.55v0.55h-0.55zM73.2 59.8h0.55v0.55h-0.55zM67.5 76.1h0.55v0.55h-0.55zM60.3 65.9h0.55v0.55h-0.55zM52.1 58.9h0.55v0.55h-0.55zM52.2 87.1h0.55v0.55h-0.55zM44.2 40.9h0.55v0.55h-0.55zM57.0 62.1h0.55v0.55h-0.55zM62.7 82.7h0.55v0.55h-0.55zM53.2 60.3h0.55v0.55h-0.55zM49.1 64.3h0.55v0.55h-0.55zM52.3 66.2h0.55v0.55h-0.55zM80.9 60.9h0.55v0.55h-0.55zM55.0 86.2h0.55v0.55h-0.55zM64.6 70.3h0.55v0.55h-0.55zM63.5 70.6h0.55v0.55h-0.55zM65.2 77.2h0.55v0.55h-0.55zM67.6 75.9h0.55v0.55h-0.55zM51.0 64.0h0.55v0.55h-0.55zM52.6 75.1h0.55v0.55h-0.55zM59.9 56.1h0.55v0.55h-0.55zM68.8 90.9h0.55v0.55h-0.55zM60.8 48.1h0.55v0.55h-0.55zM56.5 70.2h0.55v0.55h-0.55zM56.1 67.4h0.55v0.55h-0.55zM65.4 64.2h0.55v0.55h-0.55zM48.9 73.2h0.55v0.55h-0.55zM54.6 64.5h0.55v0.55h-0.55zM45.7 48.8h0.55v0.55h-0.55zM44.0 61.7h0.55v0.55h-0.55zM37.1 35.1h0.55v0.55h-0.55zM60.0 47.7h0.55v0.55h-0.55zM51.2 70.4h0.55v0.55h-0.55zM40.7 82.9h0.55v0.55h-0.55zM51.3 71.9h0.55v0.55h-0.55zM52.3 67.4h0.55v0.55h-0.55zM55.8 62.8h0.55v0.55h-0.55zM35.5 50.5h0.55v0.55h-0.55zM59.6 78.7h0.55v0.55h-0.55zM52.6 70.0h0.55v0.55h-0.55zM58.0 68.0h0.55v0.55h-0.55zM57.5 44.3h0.55v0.55h-0.55zM56.5 60.5h0.55v0.55h-0.55zM49.5 54.2h0.55v0.55h-0.55zM45.2 53.2h0.55v0.55h-0.55zM55.2 93.1h0.55v0.55h-0.55zM68.4 59.6h0.55v0.55h-0.55zM57.4 50.6h0.55v0.55h-0.55zM26.7 48.5h0.55v0.55h-0.55zM61.2 78.7h0.55v0.55h-0.55zM51.2 52.0h0.55v0.55h-0.55zM49.6 52.4h0.55v0.55h-0.55zM43.2 63.3h0.55v0.55h-0.55zM49.0 54.8h0.55v0.55h-0.55zM44.8 54.5h0.55v0.55h-0.55zM61.7 78.0h0.55v0.55h-0.55zM61.2 88.3h0.55v0.55h-0.55zM43.2 69.4h0.55v0.55h-0.55zM45.3 63.6h0.55v0.55h-0.55zM57.8 69.0h0.55v0.55h-0.55zM61.9 54.5h0.55v0.55h-0.55zM44.6 63.5h0.55v0.55h-0.55zM54.9 54.6h0.55v0.55h-0.55zM67.9 79.9h0.55v0.55h-0.55zM45.1 70.0h0.55v0.55h-0.55zM56.3 39.5h0.55v0.55h-0.55zM55.8 60.1h0.55v0.55h-0.55zM48.4 80.6h0.55v0.55h-0.55zM55.0 57.2h0.55v0.55h-0.55zM60.7 69.2h0.55v0.55h-0.55zM63.1 67.9h0.55v0.55h-0.55zM54.1 49.1h0.55v0.55h-0.55zM52.1 65.3h0.55v0.55h-0.55zM40.7 92.4h0.55v0.55h-0.55zM48.3 52.1h0.55v0.55h-0.55zM41.6 69.5h0.55v0.55h-0.55zM53.2 56.4h0.55v0.55h-0.55zM48.6 54.0h0.55v0.55h-0.55zM48.8 63.5h0.55v0.55h-0.55zM52.3 71.9h0.55v0.55h-0.55zM54.3 64.8h0.55v0.55h-0.55zM62.7 76.3h0.55v0.55h-0.55zM60.5 64.3h0.55v0.55h-0.55zM50.9 54.4h0.55v0.55h-0.55zM54.7 71.3h0.55v0.55h-0.55zM55.4 58.2h0.55v0.55h-0.55zM39.1 48.7h0.55v0.55h-0.55zM61.1 73.7h0.55v0.55h-0.55zM53.1 47.0h0.55v0.55h-0.55zM54.1 65.9h0.55v0.55h-0.55zM49.0 68.8h0.55v0.55h-0.55zM50.5 54.1h0.55v0.55h-0.55zM48.1 74.6h0.55v0.55h-0.55zM54.7 52.4h0.55v0.55h-0.55zM50.1 75.0h0.55v0.55h-0.55zM58.6 58.4h0.55v0.55h-0.55zM66.5 56.5h0.55v0.55h-0.55zM50.5 77.3h0.55v0.55h-0.55zM54.7 67.2h0.55v0.55h-0.55zM51.8 51.8h0.55v0.55h-0.55zM45.0 63.3h0.55v0.55h-0.55zM62.5 48.9h0.55v0.55h-0.55zM66.5 62.6h0.55v0.55h-0.55zM47.2 68.3h0.55v0.55h-0.55zM56.3 51.8h0.55v0.55h-0.55zM39.5 71.4h0.55v0.55h-0.55zM47.8 70.2h0.55v0.55h-0.55zM39.5 65.4h0.55v0.55h-0.55zM43.5 48.2h0.55v0.55h-0.55zM53.7 65.4h0.55v0.55h-0.55zM46.5 51.1h0.55v0.55h-0.55zM50.5 43.2h0.55v0.55h-0.55zM60.9 67.3h0.55v0.55h-0.55zM71.3 69.3h0.55v0.55h-0.55zM58.7 65.2h0.55v0.55h-0.55zM50.6 48.2h0.55v0.55h-0.55zM68.3 65.8h0.55v0.55h-0.55zM48.7 50.9h0.55v0.55h-0.55zM68.5 65.8h0.55v0.55h-0.55zM48.0 72.9h0.55v0.55h-0.55zM69.8 58.8h0.55v0.55h-0.55zM56.7 57.6h0.55v0.55h-0.55zM53.8 76.2h0.55v0.55h-0.55zM79.6 57.9h0.55v0.55h-0.55zM56.8 72.0h0.55v0.55h-0.55zM55.2 71.7h0.55v0.55h-0.55zM57.9 50.0h0.55v0.55h-0.55zM46.3 64.4h0.55v0.55h-0.55zM62.5 64.4h0.55v0.55h-0.55zM59.9 45.2h0.55v0.55h-0.55zM56.7 55.1h0.55v0.55h-0.55zM56.9 66.4h0.55v0.55h-0.55zM46.6 62.5h0.55v0.55h-0.55zM46.8 68.3h0.55v0.55h-0.55zM46.6 59.3h0.55v0.55h-0.55zM54.4 55.3h0.55v0.55h-0.55zM61.8 53.6h0.55v0.55h-0.55zM62.6 64.4h0.55v0.55h-0.55zM46.1 62.7h0.55v0.55h-0.55zM47.2 60.7h0.55v0.55h-0.55zM59.2 83.7h0.55v0.55h-0.55zM57.2 81.2h0.55v0.55h-0.55zM53.9 47.6h0.55v0.55h-0.55zM39.3 75.3h0.55v0.55h-0.55zM41.9 75.0h0.55v0.55h-0.55zM64.4 65.2h0.55v0.55h-0.55zM52.5 60.7h0.55v0.55h-0.55zM56.0 59.1h0.55v0.55h-0.55zM49.5 60.0h0.55v0.55h-0.55zM62.0 53.7h0.55v0.55h-0.55zM54.0 49.5h0.55v0.55h-0.55zM44.6 49.3h0.55v0.55h-0.55zM55.8 70.9h0.55v0.55h-0.55zM55.7 56.9h0.55v0.55h-0.55zM58.6 57.9h0.55v0.55h-0.55zM58.9 65.3h0.55v0.55h-0.55zM50.6 34.5h0.55v0.55h-0.55zM47.5 74.2h0.55v0.55h-0.55zM62.0 88.0h0.55v0.55h-0.55zM51.2 57.4h0.55v0.55h-0.55zM68.6 66.1h0.55v0.55h-0.55zM71.6 64.7h0.55v0.55h-0.55zM55.9 71.4h0.55v0.55h-0.55zM47.3 59.7h0.55v0.55h-0.55zM49.9 61.7h0.55v0.55h-0.55zM59.4 56.1h0.55v0.55h-0.55zM55.8 56.8h0.55v0.55h-0.55zM52.3 30.8h0.55v0.55h-0.55zM54.0 65.3h0.55v0.55h-0.55zM50.1 76.4h0.55v0.55h-0.55zM61.1 76.7h0.55v0.55h-0.55zM64.7 68.1h0.55v0.55h-0.55zM50.1 51.3h0.55v0.55h-0.55zM51.7 58.4h0.55v0.55h-0.55zM55.3 57.4h0.55v0.55h-0.55zM73.3 39.1h0.55v0.55h-0.55zM62.5 55.4h0.55v0.55h-0.55zM56.3 73.7h0.55v0.55h-0.55zM50.8 49.6h0.55v0.55h-0.55zM57.5 60.0h0.55v0.55h-0.55zM39.6 69.4h0.55v0.55h-0.55zM44.2 57.0h0.55v0.55h-0.55zM59.8 65.3h0.55v0.55h-0.55zM60.3 87.5h0.55v0.55h-0.55zM56.1 55.4h0.55v0.55h-0.55zM56.4 61.2h0.55v0.55h-0.55zM32.3 50.2h0.55v0.55h-0.55zM51.3 88.6h0.55v0.55h-0.55zM52.6 60.3h0.55v0.55h-0.55zM54.0 75.0h0.55v0.55h-0.55zM61.1 81.7h0.55v0.55h-0.55zM66.9 79.5h0.55v0.55h-0.55zM55.4 67.4h0.55v0.55h-0.55zM51.0 62.0h0.55v0.55h-0.55zM39.5 60.2h0.55v0.55h-0.55zM45.3 57.8h0.55v0.55h-0.55zM65.4 63.4h0.55v0.55h-0.55zM67.5 69.9h0.55v0.55h-0.55zM65.7 72.2h0.55v0.55h-0.55zM53.1 73.1h0.55v0.55h-0.55zM50.7 57.8h0.55v0.55h-0.55zM71.8 84.3h0.55v0.55h-0.55zM53.4 84.1h0.55v0.55h-0.55zM58.5 52.0h0.55v0.55h-0.55zM58.4 66.5h0.55v0.55h-0.55zM56.7 58.3h0.55v0.55h-0.55zM45.1 66.0h0.55v0.55h-0.55zM64.4 69.9h0.55v0.55h-0.55zM64.0 73.8h0.55v0.55h-0.55zM47.1 64.6h0.55v0.55h-0.55zM61.1 73.3h0.55v0.55h-0.55zM58.0 68.4h0.55v0.55h-0.55zM63.3 85.8h0.55v0.55h-0.55zM37.9 67.2h0.55v0.55h-0.55zM75.1 60.5h0.55v0.55h-0.55zM41.2 68.2h0.55v0.55h-0.55zM41.5 58.5h0.55v0.55h-0.55zM62.7 81.4h0.55v0.55h-0.55zM60.9 69.4h0.55v0.55h-0.55zM63.6 63.1h0.55v0.55h-0.55zM48.0 63.7h0.55v0.55h-0.55zM56.7 59.3h0.55v0.55h-0.55zM48.6 60.4h0.55v0.55h-0.55zM39.8 54.8h0.55v0.55h-0.55zM53.0 59.2h0.55v0.55h-0.55zM60.2 78.3h0.55v0.55h-0.55zM57.2 62.0h0.55v0.55h-0.55zM42.1 53.6h0.55v0.55h-0.55zM54.9 52.6h0.55v0.55h-0.55zM54.6 50.3h0.55v0.55h-0.55zM55.8 61.9h0.55v0.55h-0.55zM61.4 56.7h0.55v0.55h-0.55zM53.0 66.5h0.55v0.55h-0.55zM61.3 81.4h0.55v0.55h-0.55zM51.1 57.6h0.55v0.55h-0.55zM54.2 68.9h0.55v0.55h-0.55zM59.2 70.1h0.55v0.55h-0.55zM52.8 93.0h0.55v0.55h-0.55zM69.2 58.9h0.55v0.55h-0.55zM46.1 67.2h0.55v0.55h-0.55zM50.5 37.7h0.55v0.55h-0.55zM50.0 46.8h0.55v0.55h-0.55zM63.3 77.2h0.55v0.55h-0.55zM57.8 44.4h0.55v0.55h-0.55zM68.9 70.1h0.55v0.55h-0.55zM53.9 69.2h0.55v0.55h-0.55zM65.6 56.3h0.55v0.55h-0.55zM52.9 56.9h0.55v0.55h-0.55zM56.5 37.0h0.55v0.55h-0.55zM62.7 49.5h0.55v0.55h-0.55zM56.6 43.3h0.55v0.55h-0.55zM45.7 58.4h0.55v0.55h-0.55zM55.8 43.5h0.55v0.55h-0.55zM57.5 54.8h0.55v0.55h-0.55zM63.6 57.0h0.55v0.55h-0.55zM58.2 60.1h0.55v0.55h-0.55zM67.7 55.4h0.55v0.55h-0.55zM61.7 84.8h0.55v0.55h-0.55zM58.0 70.4h0.55v0.55h-0.55zM50.0 66.7h0.55v0.55h-0.55zM37.7 68.8h0.55v0.55h-0.55zM44.8 47.8h0.55v0.55h-0.55zM48.0 78.4h0.55v0.55h-0.55zM53.1 45.5h0.55v0.55h-0.55zM66.7 51.7h0.55v0.55h-0.55zM53.0 66.5h0.55v0.55h-0.55zM40.6 47.6h0.55v0.55h-0.55zM53.3 77.5h0.55v0.55h-0.55zM56.9 43.7h0.55v0.55h-0.55zM64.5 60.9h0.55v0.55h-0.55zM59.1 62.5h0.55v0.55h-0.55zM54.7 51.2h0.55v0.55h-0.55zM45.5 57.1h0.55v0.55h-0.55zM54.3 70.5h0.55v0.55h-0.55zM51.1 83.0h0.55v0.55h-0.55zM48.0 57.8h0.55v0.55h-0.55zM62.0 66.3h0.55v0.55h-0.55zM48.7 52.0h0.55v0.55h-0.55zM41.7 47.5h0.55v0.55h-0.55zM67.6 72.5h0.55v0.55h-0.55zM71.2 64.7h0.55v0.55h-0.55zM60.2 70.6h0.55v0.55h-0.55zM61.5 58.2h0.55v0.55h-0.55zM65.2 85.9h0.55v0.55h-0.55zM37.0 51.0h0.55v0.55h-0.55zM50.1 73.2h0.55v0.55h-0.55zM63.1 56.9h0.55v0.55h-0.55zM60.1 61.1h0.55v0.55h-0.55zM55.5 56.5h0.55v0.55h-0.55zM54.8 63.0h0.55v0.55h-0.55zM71.5 85.2h0.55v0.55h-0.55zM42.7 72.6h0.55v0.55h-0.55zM58.3 73.6h0.55v0.55h-0.55zM66.0 69.4h0.55v0.55h-0.55zM58.0 50.9h0.55v0.55h-0.55zM47.5 84.8h0.55v0.55h-0.55zM61.1 50.1h0.55v0.55h-0.55zM67.3 67.7h0.55v0.55h-0.55zM39.0 77.9h0.55v0.55h-0.55zM51.4 77.8h0.55v0.55h-0.55zM47.1 56.2h0.55v0.55h-0.55zM42.2 63.8h0.55v0.55h-0.55zM60.6 53.5h0.55v0.55h-0.55zM48.0 90.4h0.55v0.55h-0.55zM71.7 66.8h0.55v0.55h-0.55zM46.6 50.8h0.55v0.55h-0.55zM44.2 72.5h0.55v0.55h-0.55zM61.4 48.7h0.55v0.55h-0.55zM54.0 60.0h0.55v0.55h-0.55zM54.7 69.0h0.55v0.55h-0.55zM69.1 51.7h0.55v0.55h-0.55zM65.4 73.2h0.55v0.55h-0.55zM52.3 61.9h0.55v0.55h-0.55zM48.3 77.6h0.55v0.55h-0.55zM48.6 56.9h0.55v0.55h-0.55zM52.5 53.4h0.55v0.55h-0.55zM45.9 61.9h0.55v0.55h-0.55zM65.9 57.7h0.55v0.55h-0.55zM54.0 45.8h0.55v0.55h-0.55zM46.1 87.0h0.55v0.55h-0.55zM46.6 46.9h0.55v0.55h-0.55zM56.3 69.9h0.55v0.55h-0.55zM38.5 56.8h0.55v0.55h-0.55zM53.8 52.3h0.55v0.55h-0.55zM64.5 71.9h0.55v0.55h-0.55zM57.0 57.4h0.55v0.55h-0.55zM52.4 56.1h0.55v0.55h-0.55zM55.1 66.8h0.55v0.55h-0.55zM56.0 74.3h0.55v0.55h-0.55zM73.3 51.7h0.55v0.55h-0.55zM60.5 71.4h0.55v0.55h-0.55zM59.2 59.1h0.55v0.55h-0.55zM54.8 75.0h0.55v0.55h-0.55zM61.6 67.3h0.55v0.55h-0.55zM50.9 71.6h0.55v0.55h-0.55zM60.6 59.3h0.55v0.55h-0.55zM67.6 85.6h0.55v0.55h-0.55zM42.5 73.5h0.55v0.55h-0.55zM41.1 50.4h0.55v0.55h-0.55zM55.1 69.5h0.55v0.55h-0.55zM51.4 50.1h0.55v0.55h-0.55zM41.8 59.8h0.55v0.55h-0.55zM52.2 53.8h0.55v0.55h-0.55zM49.4 85.4h0.55v0.55h-0.55zM47.9 63.0h0.55v0.55h-0.55zM48.7 57.7h0.55v0.55h-0.55zM54.3 59.6h0.55v0.55h-0.55zM55.7 48.7h0.55v0.55h-0.55zM50.2 87.6h0.55v0.55h-0.55zM57.1 71.6h0.55v0.55h-0.55zM66.1 66.7h0.55v0.55h-0.55zM49.9 45.8h0.55v0.55h-0.55zM45.9 77.1h0.55v0.55h-0.55zM62.3 67.9h0.55v0.55h-0.55zM34.6 42.9h0.55v0.55h-0.55zM42.6 52.1h0.55v0.55h-0.55zM52.7 51.4h0.55v0.55h-0.55zM65.2 52.9h0.55v0.55h-0.55zM53.6 73.7h0.55v0.55h-0.55zM54.4 52.4h0.55v0.55h-0.55zM68.1 82.5h0.55v0.55h-0.55zM44.5 62.8h0.55v0.55h-0.55zM39.8 43.8h0.55v0.55h-0.55zM62.3 69.4h0.55v0.55h-0.55zM64.1 65.7h0.55v0.55h-0.55zM39.1 66.9h0.55v0.55h-0.55zM45.7 51.4h0.55v0.55h-0.55zM49.0 73.8h0.55v0.55h-0.55zM59.5 85.4h0.55v0.55h-0.55zM52.0 40.9h0.55v0.55h-0.55zM66.4 75.0h0.55v0.55h-0.55zM51.0 49.5h0.55v0.55h-0.55zM64.3 44.8h0.55v0.55h-0.55zM47.7 42.0h0.55v0.55h-0.55zM39.2 46.7h0.55v0.55h-0.55zM67.7 73.8h0.55v0.55h-0.55zM47.1 48.8h0.55v0.55h-0.55zM55.9 67.3h0.55v0.55h-0.55zM38.9 53.3h0.55v0.55h-0.55zM56.7 71.0h0.55v0.55h-0.55zM57.2 67.8h0.55v0.55h-0.55zM36.4 37.9h0.55v0.55h-0.55zM54.2 52.2h0.55v0.55h-0.55zM52.7 59.1h0.55v0.55h-0.55zM56.1 53.4h0.55v0.55h-0.55zM66.5 60.4h0.55v0.55h-0.55zM61.4 68.9h0.55v0.55h-0.55zM64.6 65.3h0.55v0.55h-0.55zM39.0 59.6h0.55v0.55h-0.55zM71.3 64.4h0.55v0.55h-0.55zM61.1 67.0h0.55v0.55h-0.55zM47.6 56.8h0.55v0.55h-0.55zM54.0 77.2h0.55v0.55h-0.55zM64.1 82.1h0.55v0.55h-0.55zM65.6 83.0h0.55v0.55h-0.55zM54.4 48.9h0.55v0.55h-0.55zM69.9 63.1h0.55v0.55h-0.55zM65.2 62.9h0.55v0.55h-0.55zM53.0 65.6h0.55v0.55h-0.55zM41.9 52.0h0.55v0.55h-0.55zM46.1 59.0h0.55v0.55h-0.55zM43.9 64.7h0.55v0.55h-0.55zM64.6 85.0h0.55v0.55h-0.55zM69.4 58.6h0.55v0.55h-0.55zM61.2 58.7h0.55v0.55h-0.55zM58.0 61.8h0.55v0.55h-0.55zM51.0 65.0h0.55v0.55h-0.55zM44.8 71.0h0.55v0.55h-0.55zM48.9 51.5h0.55v0.55h-0.55zM54.1 70.0h0.55v0.55h-0.55zM51.3 69.7h0.55v0.55h-0.55zM65.0 79.3h0.55v0.55h-0.55zM46.0 64.0h0.55v0.55h-0.55zM64.4 78.8h0.55v0.55h-0.55zM59.8 70.9h0.55v0.55h-0.55zM41.3 59.5h0.55v0.55h-0.55zM67.2 56.3h0.55v0.55h-0.55zM69.6 50.3h0.55v0.55h-0.55zM47.1 45.7h0.55v0.55h-0.55zM61.0 64.6h0.55v0.55h-0.55zM71.7 60.6h0.55v0.55h-0.55zM48.0 47.7h0.55v0.55h-0.55zM57.7 73.8h0.55v0.55h-0.55zM65.3 75.3h0.55v0.55h-0.55zM61.7 60.7h0.55v0.55h-0.55zM60.4 63.7h0.55v0.55h-0.55zM50.5 85.1h0.55v0.55h-0.55zM54.3 50.4h0.55v0.55h-0.55zM59.1 65.4h0.55v0.55h-0.55zM68.1 77.2h0.55v0.55h-0.55zM32.7 75.6h0.55v0.55h-0.55zM63.8 49.1h0.55v0.55h-0.55zM41.2 70.1h0.55v0.55h-0.55zM58.9 66.2h0.55v0.55h-0.55zM44.5 60.1h0.55v0.55h-0.55zM59.2 71.0h0.55v0.55h-0.55zM73.6 61.7h0.55v0.55h-0.55zM41.8 37.6h0.55v0.55h-0.55zM63.1 59.3h0.55v0.55h-0.55zM50.6 52.1h0.55v0.55h-0.55zM54.5 41.2h0.55v0.55h-0.55zM56.3 64.1h0.55v0.55h-0.55zM62.1 77.1h0.55v0.55h-0.55zM54.5 64.3h0.55v0.55h-0.55zM56.3 43.7h0.55v0.55h-0.55zM52.9 64.4h0.55v0.55h-0.55zM59.8 51.9h0.55v0.55h-0.55zM62.8 65.7h0.55v0.55h-0.55zM37.8 49.4h0.55v0.55h-0.55zM44.0 67.6h0.55v0.55h-0.55zM59.2 70.8h0.55v0.55h-0.55zM59.6 55.0h0.55v0.55h-0.55zM66.5 70.0h0.55v0.55h-0.55zM60.5 67.4h0.55v0.55h-0.55zM46.0 69.8h0.55v0.55h-0.55zM42.5 51.7h0.55v0.55h-0.55zM52.7 65.3h0.55v0.55h-0.55zM53.4 59.4h0.55v0.55h-0.55zM47.6 67.2h0.55v0.55h-0.55zM44.0 48.6h0.55v0.55h-0.55zM61.0 79.3h0.55v0.55h-0.55zM48.0 51.8h0.55v0.55h-0.55zM72.2 79.5h0.55v0.55h-0.55zM51.9 61.2h0.55v0.55h-0.55zM67.3 96.0h0.55v0.55h-0.55zM59.6 74.0h0.55v0.55h-0.55zM52.0 41.4h0.55v0.55h-0.55zM41.7 51.3h0.55v0.55h-0.55zM58.9 63.3h0.55v0.55h-0.55zM68.4 56.1h0.55v0.55h-0.55zM57.7 63.2h0.55v0.55h-0.55zM64.4 89.0h0.55v0.55h-0.55zM62.6 79.1h0.55v0.55h-0.55zM63.3 53.4h0.55v0.55h-0.55zM59.1 57.2h0.55v0.55h-0.55zM56.5 64.6h0.55v0.55h-0.55zM53.5 57.6h0.55v0.55h-0.55zM66.6 56.7h0.55v0.55h-0.55zM66.7 80.6h0.55v0.55h-0.55zM63.7 73.3h0.55v0.55h-0.55zM70.1 72.4h0.55v0.55h-0.55zM63.7 43.1h0.55v0.55h-0.55zM70.9 59.2h0.55v0.55h-0.55zM38.6 59.4h0.55v0.55h-0.55zM43.7 65.7h0.55v0.55h-0.55zM39.4 54.7h0.55v0.55h-0.55zM57.9 64.2h0.55v0.55h-0.55zM47.7 62.0h0.55v0.55h-0.55zM54.5 64.1h0.55v0.55h-0.55zM54.1 60.5h0.55v0.55h-0.55zM56.3 42.9h0.55v0.55h-0.55zM51.5 65.6h0.55v0.55h-0.55zM49.8 57.6h0.55v0.55h-0.55zM52.2 66.3h0.55v0.55h-0.55zM64.4 58.2h0.55v0.55h-0.55zM54.1 67.6h0.55v0.55h-0.55zM46.1 41.5h0.55v0.55h-0.55zM55.8 58.1h0.55v0.55h-0.55zM52.6 71.4h0.55v0.55h-0.55zM53.3 56.5h0.55v0.55h-0.55zM31.2 48.0h0.55v0.55h-0.55zM54.7 61.6h0.55v0.55h-0.55zM59.3 64.6h0.55v0.55h-0.55zM46.6 49.6h0.55v0.55h-0.55zM45.7 63.7h0.55v0.55h-0.55zM48.4 74.0h0.55v0.55h-0.55zM37.8 45.4h0.55v0.55h-0.55zM47.0 43.2h0.55v0.55h-0.55zM64.6 48.2h0.55v0.55h-0.55zM53.7 60.3h0.55v0.55h-0.55zM42.0 44.6h0.55v0.55h-0.55zM43.1 76.8h0.55v0.55h-0.55zM71.0 85.5h0.55v0.55h-0.55zM45.2 72.5h0.55v0.55h-0.55zM57.9 72.7h0.55v0.55h-0.55zM53.4 72.3h0.55v0.55h-0.55zM64.4 68.0h0.55v0.55h-0.55zM66.1 57.9h0.55v0.55h-0.55zM64.9 51.7h0.55v0.55h-0.55zM58.6 28.1h0.55v0.55h-0.55zM52.2 53.8h0.55v0.55h-0.55zM58.7 74.8h0.55v0.55h-0.55zM61.1 62.6h0.55v0.55h-0.55zM63.4 42.6h0.55v0.55h-0.55zM53.9 81.9h0.55v0.55h-0.55zM50.2 38.7h0.55v0.55h-0.55zM53.5 48.8h0.55v0.55h-0.55zM71.0 72.9h0.55v0.55h-0.55zM55.2 78.9h0.55v0.55h-0.55zM51.6 75.3h0.55v0.55h-0.55zM59.2 60.3h0.55v0.55h-0.55zM42.5 62.8h0.55v0.55h-0.55zM34.5 61.4h0.55v0.55h-0.55zM44.4 80.8h0.55v0.55h-0.55zM38.4 37.3h0.55v0.55h-0.55zM61.0 66.0h0.55v0.55h-0.55zM58.5 88.2h0.55v0.55h-0.55zM61.5 62.1h0.55v0.55h-0.55zM39.2 30.7h0.55v0.55h-0.55z" fill="#787878" opacity="0.5"/>
<path d="M30.6 88.2h0.55v0.55h-0.55zM55.7 93.5h0.55v0.55h-0.55zM58.6 94.8h0.55v0.55h-0.55zM34.2 84.4h0.55v0.55h-0.55zM23.4 93.5h0.55v0.55h-0.55zM32.3 84.4h0.55v0.55h-0.55zM69.3 92.5h0.55v0.55h-0.55zM51.0 92.8h0.55v0.55h-0.55zM51.3 93.6h0.55v0.55h-0.55zM36.9 80.3h0.55v0.55h-0.55zM25.3 79.3h0.55v0.55h-0.55zM39.7 82.0h0.55v0.55h-0.55zM27.5 89.4h0.55v0.55h-0.55zM69.5 93.4h0.55v0.55h-0.55zM35.4 95.2h0.55v0.55h-0.55zM30.7 81.1h0.55v0.55h-0.55zM36.9 87.6h0.55v0.55h-0.55zM55.8 88.3h0.55v0.55h-0.55zM57.7 81.0h0.55v0.55h-0.55zM67.7 86.2h0.55v0.55h-0.55zM62.8 79.6h0.55v0.55h-0.55zM62.6 83.8h0.55v0.55h-0.55zM63.9 95.9h0.55v0.55h-0.55zM54.9 84.8h0.55v0.55h-0.55zM22.5 83.0h0.55v0.55h-0.55zM66.3 82.3h0.55v0.55h-0.55zM54.3 91.3h0.55v0.55h-0.55zM54.4 82.8h0.55v0.55h-0.55zM29.0 81.0h0.55v0.55h-0.55zM70.2 87.0h0.55v0.55h-0.55zM54.0 91.0h0.55v0.55h-0.55zM32.9 80.4h0.55v0.55h-0.55zM22.7 96.9h0.55v0.55h-0.55zM28.4 99.2h0.55v0.55h-0.55zM39.8 94.2h0.55v0.55h-0.55zM28.8 95.5h0.55v0.55h-0.55zM34.3 86.7h0.55v0.55h-0.55zM47.6 81.3h0.55v0.55h-0.55zM34.2 95.7h0.55v0.55h-0.55zM36.0 87.0h0.55v0.55h-0.55zM59.5 83.7h0.55v0.55h-0.55zM31.5 83.6h0.55v0.55h-0.55zM40.8 86.7h0.55v0.55h-0.55zM53.4 88.9h0.55v0.55h-0.55zM64.6 80.1h0.55v0.55h-0.55zM54.5 96.6h0.55v0.55h-0.55zM33.5 79.6h0.55v0.55h-0.55zM43.5 81.4h0.55v0.55h-0.55zM44.5 93.9h0.55v0.55h-0.55zM26.6 81.5h0.55v0.55h-0.55zM45.5 82.7h0.55v0.55h-0.55zM33.3 88.2h0.55v0.55h-0.55zM27.8 80.4h0.55v0.55h-0.55zM39.7 88.9h0.55v0.55h-0.55zM67.9 90.7h0.55v0.55h-0.55zM25.5 83.7h0.55v0.55h-0.55zM58.5 90.8h0.55v0.55h-0.55zM64.6 99.2h0.55v0.55h-0.55zM64.0 81.3h0.55v0.55h-0.55zM68.2 90.0h0.55v0.55h-0.55zM33.7 82.6h0.55v0.55h-0.55zM64.4 83.5h0.55v0.55h-0.55zM26.1 84.6h0.55v0.55h-0.55zM67.3 88.7h0.55v0.55h-0.55zM57.8 80.6h0.55v0.55h-0.55zM44.2 85.7h0.55v0.55h-0.55zM32.1 92.9h0.55v0.55h-0.55zM39.7 81.5h0.55v0.55h-0.55zM70.2 89.1h0.55v0.55h-0.55zM30.8 79.2h0.55v0.55h-0.55zM54.0 89.8h0.55v0.55h-0.55zM23.2 88.9h0.55v0.55h-0.55zM58.3 90.3h0.55v0.55h-0.55zM33.5 89.5h0.55v0.55h-0.55zM51.6 92.7h0.55v0.55h-0.55zM29.1 95.9h0.55v0.55h-0.55zM68.3 94.5h0.55v0.55h-0.55zM64.0 86.7h0.55v0.55h-0.55zM66.2 82.8h0.55v0.55h-0.55zM33.1 91.6h0.55v0.55h-0.55zM66.2 80.7h0.55v0.55h-0.55zM32.6 79.8h0.55v0.55h-0.55zM43.5 82.0h0.55v0.55h-0.55zM31.4 94.7h0.55v0.55h-0.55zM50.6 98.7h0.55v0.55h-0.55zM41.7 93.3h0.55v0.55h-0.55zM22.6 98.9h0.55v0.55h-0.55zM33.4 89.0h0.55v0.55h-0.55zM47.1 98.9h0.55v0.55h-0.55zM46.1 99.8h0.55v0.55h-0.55zM52.4 83.5h0.55v0.55h-0.55zM62.9 83.2h0.55v0.55h-0.55zM71.0 88.6h0.55v0.55h-0.55zM33.1 99.2h0.55v0.55h-0.55zM37.8 87.5h0.55v0.55h-0.55zM38.8 93.0h0.55v0.55h-0.55zM23.1 86.9h0.55v0.55h-0.55zM29.9 96.4h0.55v0.55h-0.55zM22.0 91.8h0.55v0.55h-0.55zM34.6 88.5h0.55v0.55h-0.55zM49.5 93.9h0.55v0.55h-0.55zM28.7 84.0h0.55v0.55h-0.55zM27.9 99.2h0.55v0.55h-0.55zM29.3 81.9h0.55v0.55h-0.55zM47.6 91.2h0.55v0.55h-0.55zM65.4 80.2h0.55v0.55h-0.55zM33.5 82.5h0.55v0.55h-0.55zM50.7 88.5h0.55v0.55h-0.55zM42.0 97.7h0.55v0.55h-0.55zM54.4 97.1h0.55v0.55h-0.55zM68.9 84.6h0.55v0.55h-0.55zM68.2 87.6h0.55v0.55h-0.55zM24.5 98.2h0.55v0.55h-0.55zM27.1 79.4h0.55v0.55h-0.55zM36.2 85.1h0.55v0.55h-0.55zM69.4 97.3h0.55v0.55h-0.55zM42.6 90.1h0.55v0.55h-0.55zM63.6 95.9h0.55v0.55h-0.55zM54.0 89.8h0.55v0.55h-0.55zM27.7 84.1h0.55v0.55h-0.55zM54.2 91.3h0.55v0.55h-0.55zM61.3 97.9h0.55v0.55h-0.55zM69.2 83.0h0.55v0.55h-0.55zM25.7 97.8h0.55v0.55h-0.55zM49.9 82.8h0.55v0.55h-0.55zM55.9 84.4h0.55v0.55h-0.55zM33.6 86.7h0.55v0.55h-0.55zM47.7 93.2h0.55v0.55h-0.55zM25.6 94.6h0.55v0.55h-0.55zM52.6 88.9h0.55v0.55h-0.55zM54.9 95.8h0.55v0.55h-0.55zM22.5 89.0h0.55v0.55h-0.55zM55.2 93.9h0.55v0.55h-0.55zM53.7 82.8h0.55v0.55h-0.55zM69.0 95.5h0.55v0.55h-0.55zM33.4 88.0h0.55v0.55h-0.55zM68.9 83.4h0.55v0.55h-0.55zM42.0 99.2h0.55v0.55h-0.55zM66.1 83.9h0.55v0.55h-0.55zM58.0 86.6h0.55v0.55h-0.55zM54.5 95.1h0.55v0.55h-0.55zM28.3 83.7h0.55v0.55h-0.55zM32.5 84.6h0.55v0.55h-0.55zM23.7 81.9h0.55v0.55h-0.55zM41.9 87.8h0.55v0.55h-0.55zM25.8 91.2h0.55v0.55h-0.55zM68.2 91.1h0.55v0.55h-0.55zM39.4 93.8h0.55v0.55h-0.55zM43.4 82.7h0.55v0.55h-0.55zM45.6 79.4h0.55v0.55h-0.55zM55.1 82.4h0.55v0.55h-0.55zM40.1 99.2h0.55v0.55h-0.55zM59.6 96.5h0.55v0.55h-0.55zM53.5 92.3h0.55v0.55h-0.55zM56.5 99.3h0.55v0.55h-0.55zM31.6 95.1h0.55v0.55h-0.55zM36.7 84.4h0.55v0.55h-0.55zM62.3 91.6h0.55v0.55h-0.55zM63.6 97.4h0.55v0.55h-0.55zM50.9 83.2h0.55v0.55h-0.55zM22.7 90.2h0.55v0.55h-0.55zM57.6 84.7h0.55v0.55h-0.55zM25.4 79.1h0.55v0.55h-0.55zM30.5 93.6h0.55v0.55h-0.55zM22.2 83.8h0.55v0.55h-0.55zM35.0 93.9h0.55v0.55h-0.55zM70.4 79.4h0.55v0.55h-0.55zM27.6 98.6h0.55v0.55h-0.55zM69.5 82.1h0.55v0.55h-0.55zM38.4 90.0h0.55v0.55h-0.55zM37.7 87.8h0.55v0.55h-0.55zM45.5 84.4h0.55v0.55h-0.55zM24.7 80.8h0.55v0.55h-0.55zM30.0 80.9h0.55v0.55h-0.55zM52.6 93.6h0.55v0.55h-0.55zM34.9 95.6h0.55v0.55h-0.55zM57.7 86.2h0.55v0.55h-0.55zM46.1 83.0h0.55v0.55h-0.55zM67.5 90.8h0.55v0.55h-0.55zM24.5 82.2h0.55v0.55h-0.55zM55.9 87.1h0.55v0.55h-0.55zM57.1 83.8h0.55v0.55h-0.55zM61.1 95.8h0.55v0.55h-0.55zM26.6 91.3h0.55v0.55h-0.55zM31.4 93.9h0.55v0.55h-0.55zM61.4 95.6h0.55v0.55h-0.55zM33.3 81.0h0.55v0.55h-0.55zM54.5 90.9h0.55v0.55h-0.55zM28.8 83.0h0.55v0.55h-0.55zM50.5 81.3h0.55v0.55h-0.55zM53.1 84.1h0.55v0.55h-0.55zM34.7 87.9h0.55v0.55h-0.55zM48.1 94.2h0.55v0.55h-0.55zM23.5 94.2h0.55v0.55h-0.55zM32.8 85.1h0.55v0.55h-0.55zM53.3 93.5h0.55v0.55h-0.55zM52.1 97.9h0.55v0.55h-0.55zM32.0 85.5h0.55v0.55h-0.55zM54.5 84.5h0.55v0.55h-0.55zM29.7 83.8h0.55v0.55h-0.55zM59.8 96.4h0.55v0.55h-0.55zM57.1 99.1h0.55v0.55h-0.55zM60.9 85.5h0.55v0.55h-0.55zM37.5 94.1h0.55v0.55h-0.55zM24.7 91.8h0.55v0.55h-0.55zM26.4 80.0h0.55v0.55h-0.55zM47.2 82.2h0.55v0.55h-0.55zM67.7 97.4h0.55v0.55h-0.55zM44.6 83.2h0.55v0.55h-0.55zM27.9 89.6h0.55v0.55h-0.55zM47.5 86.6h0.55v0.55h-0.55zM57.1 90.1h0.55v0.55h-0.55zM60.0 81.2h0.55v0.55h-0.55zM25.4 87.1h0.55v0.55h-0.55zM45.7 84.3h0.55v0.55h-0.55zM54.8 83.7h0.55v0.55h-0.55zM37.6 89.0h0.55v0.55h-0.55zM56.9 95.2h0.55v0.55h-0.55zM40.2 88.4h0.55v0.55h-0.55zM67.5 98.6h0.55v0.55h-0.55zM52.3 81.2h0.55v0.55h-0.55zM44.3 92.4h0.55v0.55h-0.55zM35.7 79.8h0.55v0.55h-0.55zM70.1 98.1h0.55v0.55h-0.55zM28.3 88.8h0.55v0.55h-0.55zM52.3 85.3h0.55v0.55h-0.55zM25.4 94.8h0.55v0.55h-0.55zM59.8 88.2h0.55v0.55h-0.55zM26.2 87.3h0.55v0.55h-0.55zM26.6 99.2h0.55v0.55h-0.55zM24.5 85.0h0.55v0.55h-0.55zM59.6 81.8h0.55v0.55h-0.55zM27.2 80.5h0.55v0.55h-0.55zM30.0 90.2h0.55v0.55h-0.55zM62.8 82.6h0.55v0.55h-0.55zM30.5 95.1h0.55v0.55h-0.55zM42.9 86.1h0.55v0.55h-0.55zM28.0 84.1h0.55v0.55h-0.55zM69.6 81.5h0.55v0.55h-0.55zM34.7 94.6h0.55v0.55h-0.55zM65.7 98.0h0.55v0.55h-0.55zM45.2 99.1h0.55v0.55h-0.55zM51.6 85.1h0.55v0.55h-0.55zM44.8 94.0h0.55v0.55h-0.55zM58.0 81.7h0.55v0.55h-0.55zM31.5 99.1h0.55v0.55h-0.55zM27.2 96.1h0.55v0.55h-0.55zM38.6 84.2h0.55v0.55h-0.55zM34.5 88.9h0.55v0.55h-0.55zM70.5 82.1h0.55v0.55h-0.55zM63.9 85.7h0.55v0.55h-0.55zM30.5 94.6h0.55v0.55h-0.55zM38.7 82.9h0.55v0.55h-0.55zM42.5 96.3h0.55v0.55h-0.55zM64.3 91.1h0.55v0.55h-0.55zM22.5 95.0h0.55v0.55h-0.55zM51.7 97.9h0.55v0.55h-0.55zM68.6 85.9h0.55v0.55h-0.55zM63.6 96.2h0.55v0.55h-0.55zM35.0 86.7h0.55v0.55h-0.55zM40.4 86.4h0.55v0.55h-0.55zM40.5 81.3h0.55v0.55h-0.55zM33.1 98.1h0.55v0.55h-0.55zM42.1 92.4h0.55v0.55h-0.55zM65.5 94.9h0.55v0.55h-0.55zM34.0 98.3h0.55v0.55h-0.55zM61.4 99.8h0.55v0.55h-0.55zM57.7 94.9h0.55v0.55h-0.55zM61.8 84.3h0.55v0.55h-0.55zM54.1 87.0h0.55v0.55h-0.55zM63.1 81.8h0.55v0.55h-0.55zM48.4 86.1h0.55v0.55h-0.55zM62.2 86.3h0.55v0.55h-0.55zM63.3 96.8h0.55v0.55h-0.55zM65.1 81.9h0.55v0.55h-0.55zM68.0 94.6h0.55v0.55h-0.55zM55.2 92.7h0.55v0.55h-0.55zM24.4 97.3h0.55v0.55h-0.55zM48.8 88.6h0.55v0.55h-0.55zM38.6 95.4h0.55v0.55h-0.55zM60.3 97.3h0.55v0.55h-0.55zM32.5 86.1h0.55v0.55h-0.55zM34.2 81.1h0.55v0.55h-0.55zM38.0 79.5h0.55v0.55h-0.55zM61.0 83.8h0.55v0.55h-0.55zM25.5 80.4h0.55v0.55h-0.55zM58.3 83.2h0.55v0.55h-0.55zM44.6 87.4h0.55v0.55h-0.55zM61.3 99.0h0.55v0.55h-0.55zM37.2 92.3h0.55v0.55h-0.55zM65.8 88.9h0.55v0.55h-0.55zM66.1 94.4h0.55v0.55h-0.55zM37.3 97.4h0.55v0.55h-0.55zM50.1 81.2h0.55v0.55h-0.55zM50.8 96.4h0.55v0.55h-0.55zM47.4 89.2h0.55v0.55h-0.55zM42.4 97.5h0.55v0.55h-0.55zM54.6 83.4h0.55v0.55h-0.55zM39.8 86.6h0.55v0.55h-0.55zM69.0 93.6h0.55v0.55h-0.55zM28.1 98.2h0.55v0.55h-0.55zM23.7 91.4h0.55v0.55h-0.55zM43.2 94.1h0.55v0.55h-0.55zM43.0 80.9h0.55v0.55h-0.55zM47.7 96.2h0.55v0.55h-0.55zM60.7 86.5h0.55v0.55h-0.55zM32.9 94.6h0.55v0.55h-0.55zM61.3 83.6h0.55v0.55h-0.55zM65.3 99.8h0.55v0.55h-0.55zM43.2 87.0h0.55v0.55h-0.55zM56.8 98.5h0.55v0.55h-0.55zM31.9 85.3h0.55v0.55h-0.55zM38.1 94.4h0.55v0.55h-0.55zM31.2 90.5h0.55v0.55h-0.55zM46.5 93.0h0.55v0.55h-0.55zM29.0 99.1h0.55v0.55h-0.55zM71.0 90.8h0.55v0.55h-0.55zM61.0 82.9h0.55v0.55h-0.55zM66.6 90.6h0.55v0.55h-0.55zM59.2 97.2h0.55v0.55h-0.55zM39.7 98.4h0.55v0.55h-0.55zM32.2 79.5h0.55v0.55h-0.55zM46.6 97.9h0.55v0.55h-0.55zM66.1 99.1h0.55v0.55h-0.55zM47.0 98.6h0.55v0.55h-0.55zM49.4 82.0h0.55v0.55h-0.55zM52.9 95.9h0.55v0.55h-0.55zM42.8 91.6h0.55v0.55h-0.55zM34.7 84.8h0.55v0.55h-0.55zM42.6 89.8h0.55v0.55h-0.55zM44.9 80.9h0.55v0.55h-0.55zM22.3 86.1h0.55v0.55h-0.55zM57.1 94.7h0.55v0.55h-0.55zM33.6 84.4h0.55v0.55h-0.55zM47.3 82.7h0.55v0.55h-0.55zM51.5 98.0h0.55v0.55h-0.55zM31.9 91.3h0.55v0.55h-0.55zM57.3 94.7h0.55v0.55h-0.55zM56.9 93.9h0.55v0.55h-0.55zM35.4 96.6h0.55v0.55h-0.55zM67.3 80.1h0.55v0.55h-0.55zM68.3 88.3h0.55v0.55h-0.55zM26.2 80.5h0.55v0.55h-0.55zM61.0 93.2h0.55v0.55h-0.55zM29.0 88.7h0.55v0.55h-0.55zM53.3 99.9h0.55v0.55h-0.55zM38.5 95.1h0.55v0.55h-0.55zM34.0 83.2h0.55v0.55h-0.55zM29.9 87.6h0.55v0.55h-0.55zM52.3 85.4h0.55v0.55h-0.55zM29.9 83.6h0.55v0.55h-0.55zM26.2 83.1h0.55v0.55h-0.55zM37.5 89.6h0.55v0.55h-0.55zM31.0 89.1h0.55v0.55h-0.55zM43.6 99.4h0.55v0.55h-0.55zM45.8 98.8h0.55v0.55h-0.55zM45.1 83.2h0.55v0.55h-0.55zM51.0 82.0h0.55v0.55h-0.55zM30.3 80.5h0.55v0.55h-0.55zM56.4 99.3h0.55v0.55h-0.55zM41.8 86.4h0.55v0.55h-0.55zM42.8 86.4h0.55v0.55h-0.55zM55.8 87.2h0.55v0.55h-0.55zM29.5 97.2h0.55v0.55h-0.55zM50.1 79.1h0.55v0.55h-0.55zM63.6 94.3h0.55v0.55h-0.55zM39.4 92.2h0.55v0.55h-0.55zM67.1 87.4h0.55v0.55h-0.55zM43.2 85.3h0.55v0.55h-0.55zM49.2 92.9h0.55v0.55h-0.55zM58.0 98.9h0.55v0.55h-0.55zM29.1 86.7h0.55v0.55h-0.55zM63.7 95.6h0.55v0.55h-0.55zM50.9 93.2h0.55v0.55h-0.55zM38.7 98.8h0.55v0.55h-0.55zM48.9 87.5h0.55v0.55h-0.55zM30.9 81.4h0.55v0.55h-0.55zM66.0 95.8h0.55v0.55h-0.55zM23.3 85.8h0.55v0.55h-0.55zM45.5 89.4h0.55v0.55h-0.55zM39.8 97.8h0.55v0.55h-0.55zM39.1 90.2h0.55v0.55h-0.55zM67.5 92.4h0.55v0.55h-0.55zM45.4 86.0h0.55v0.55h-0.55zM41.0 91.8h0.55v0.55h-0.55zM60.5 84.5h0.55v0.55h-0.55zM40.2 87.1h0.55v0.55h-0.55zM39.8 98.2h0.55v0.55h-0.55zM48.4 84.8h0.55v0.55h-0.55zM38.3 96.3h0.55v0.55h-0.55zM29.9 93.5h0.55v0.55h-0.55zM23.1 83.1h0.55v0.55h-0.55zM24.9 95.9h0.55v0.55h-0.55zM29.2 83.8h0.55v0.55h-0.55zM24.8 84.5h0.55v0.55h-0.55zM57.9 94.1h0.55v0.55h-0.55zM66.6 98.9h0.55v0.55h-0.55zM49.0 98.4h0.55v0.55h-0.55zM26.4 98.4h0.55v0.55h-0.55zM43.3 83.1h0.55v0.55h-0.55zM58.7 97.0h0.55v0.55h-0.55zM40.9 81.0h0.55v0.55h-0.55zM64.8 94.8h0.55v0.55h-0.55zM51.3 99.5h0.55v0.55h-0.55zM23.9 80.2h0.55v0.55h-0.55zM28.1 79.5h0.55v0.55h-0.55zM56.7 92.2h0.55v0.55h-0.55zM27.5 82.4h0.55v0.55h-0.55zM30.9 91.8h0.55v0.55h-0.55zM55.0 99.4h0.55v0.55h-0.55zM39.7 99.6h0.55v0.55h-0.55zM43.3 87.2h0.55v0.55h-0.55zM34.4 83.9h0.55v0.55h-0.55zM69.8 99.9h0.55v0.55h-0.55zM56.6 82.7h0.55v0.55h-0.55zM30.8 82.2h0.55v0.55h-0.55zM39.2 94.5h0.55v0.55h-0.55zM24.9 90.1h0.55v0.55h-0.55zM55.4 79.7h0.55v0.55h-0.55zM43.5 95.6h0.55v0.55h-0.55zM50.2 88.5h0.55v0.55h-0.55zM65.2 91.6h0.55v0.55h-0.55zM38.5 87.3h0.55v0.55h-0.55zM68.2 97.0h0.55v0.55h-0.55zM66.8 90.8h0.55v0.55h-0.55zM29.0 82.7h0.55v0.55h-0.55zM40.8 93.5h0.55v0.55h-0.55zM22.2 95.8h0.55v0.55h-0.55zM60.5 89.8h0.55v0.55h-0.55zM22.3 95.8h0.55v0.55h-0.55zM42.3 93.1h0.55v0.55h-0.55zM49.9 94.3h0.55v0.55h-0.55zM42.0 99.2h0.55v0.55h-0.55zM68.8 98.5h0.55v0.55h-0.55zM52.1 85.6h0.55v0.55h-0.55zM40.5 84.6h0.55v0.55h-0.55zM66.3 95.6h0.55v0.55h-0.55zM60.6 96.2h0.55v0.55h-0.55zM70.5 93.4h0.55v0.55h-0.55zM37.6 94.9h0.55v0.55h-0.55zM34.9 91.8h0.55v0.55h-0.55zM29.8 97.0h0.55v0.55h-0.55zM45.9 84.8h0.55v0.55h-0.55zM67.2 80.7h0.55v0.55h-0.55zM67.6 94.9h0.55v0.55h-0.55zM29.3 95.0h0.55v0.55h-0.55zM50.1 98.1h0.55v0.55h-0.55zM50.7 88.0h0.55v0.55h-0.55zM67.7 80.8h0.55v0.55h-0.55zM60.1 81.2h0.55v0.55h-0.55zM35.6 81.4h0.55v0.55h-0.55zM64.7 88.3h0.55v0.55h-0.55zM57.6 84.4h0.55v0.55h-0.55zM57.8 92.6h0.55v0.55h-0.55zM26.8 89.4h0.55v0.55h-0.55zM57.4 83.5h0.55v0.55h-0.55zM54.1 84.8h0.55v0.55h-0.55zM40.2 98.3h0.55v0.55h-0.55zM68.2 100.0h0.55v0.55h-0.55zM42.9 91.0h0.55v0.55h-0.55zM61.6 94.9h0.55v0.55h-0.55zM44.4 97.1h0.55v0.55h-0.55zM41.7 99.0h0.55v0.55h-0.55zM45.2 81.5h0.55v0.55h-0.55zM58.7 82.0h0.55v0.55h-0.55zM55.3 80.1h0.55v0.55h-0.55zM70.4 90.4h0.55v0.55h-0.55zM58.3 81.8h0.55v0.55h-0.55zM53.2 86.9h0.55v0.55h-0.55zM34.2 96.1h0.55v0.55h-0.55zM23.6 89.0h0.55v0.55h-0.55zM26.3 96.9h0.55v0.55h-0.55zM65.8 79.7h0.55v0.55h-0.55zM44.8 88.8h0.55v0.55h-0.55zM57.2 94.3h0.55v0.55h-0.55zM38.8 98.6h0.55v0.55h-0.55zM31.1 81.9h0.55v0.55h-0.55zM61.9 81.5h0.55v0.55h-0.55zM31.1 89.5h0.55v0.55h-0.55zM38.5 82.4h0.55v0.55h-0.55zM67.6 89.0h0.55v0.55h-0.55zM60.5 84.3h0.55v0.55h-0.55zM66.7 83.6h0.55v0.55h-0.55zM66.4 91.9h0.55v0.55h-0.55zM69.6 95.2h0.55v0.55h-0.55zM52.9 90.2h0.55v0.55h-0.55zM63.9 88.3h0.55v0.55h-0.55zM26.8 98.2h0.55v0.55h-0.55zM61.5 93.3h0.55v0.55h-0.55zM58.5 83.9h0.55v0.55h-0.55zM44.7 96.3h0.55v0.55h-0.55zM69.1 98.4h0.55v0.55h-0.55zM29.9 93.4h0.55v0.55h-0.55zM49.2 87.5h0.55v0.55h-0.55zM30.2 81.9h0.55v0.55h-0.55zM45.0 89.4h0.55v0.55h-0.55zM35.1 86.7h0.55v0.55h-0.55zM49.1 95.0h0.55v0.55h-0.55zM50.9 82.4h0.55v0.55h-0.55zM65.4 86.7h0.55v0.55h-0.55zM69.0 99.6h0.55v0.55h-0.55zM28.9 91.2h0.55v0.55h-0.55zM69.4 87.1h0.55v0.55h-0.55zM48.8 85.6h0.55v0.55h-0.55zM23.4 83.3h0.55v0.55h-0.55zM28.1 85.0h0.55v0.55h-0.55zM52.8 90.8h0.55v0.55h-0.55zM68.5 93.4h0.55v0.55h-0.55zM39.8 98.9h0.55v0.55h-0.55zM53.1 90.4h0.55v0.55h-0.55zM64.3 93.1h0.55v0.55h-0.55zM39.7 91.7h0.55v0.55h-0.55zM36.7 99.4h0.55v0.55h-0.55zM34.0 99.4h0.55v0.55h-0.55zM25.2 79.2h0.55v0.55h-0.55zM49.1 83.3h0.55v0.55h-0.55zM46.9 81.5h0.55v0.55h-0.55zM63.0 93.1h0.55v0.55h-0.55zM55.5 98.5h0.55v0.55h-0.55zM70.6 93.2h0.55v0.55h-0.55zM56.9 79.0h0.55v0.55h-0.55zM24.4 88.0h0.55v0.55h-0.55zM69.5 85.6h0.55v0.55h-0.55zM49.9 79.2h0.55v0.55h-0.55zM42.4 98.0h0.55v0.55h-0.55zM50.9 96.3h0.55v0.55h-0.55zM22.6 83.3h0.55v0.55h-0.55zM30.8 96.5h0.55v0.55h-0.55zM27.0 98.6h0.55v0.55h-0.55zM35.1 97.5h0.55v0.55h-0.55zM47.3 85.8h0.55v0.55h-0.55zM69.4 87.5h0.55v0.55h-0.55zM56.2 80.4h0.55v0.55h-0.55zM62.7 99.6h0.55v0.55h-0.55zM27.4 94.7h0.55v0.55h-0.55zM35.2 82.1h0.55v0.55h-0.55zM39.8 92.9h0.55v0.55h-0.55zM68.7 99.9h0.55v0.55h-0.55zM70.7 92.1h0.55v0.55h-0.55zM54.0 82.4h0.55v0.55h-0.55zM57.6 90.6h0.55v0.55h-0.55zM39.6 97.9h0.55v0.55h-0.55zM34.5 82.0h0.55v0.55h-0.55zM29.8 82.1h0.55v0.55h-0.55zM50.8 95.8h0.55v0.55h-0.55zM29.8 89.6h0.55v0.55h-0.55zM50.1 90.8h0.55v0.55h-0.55zM42.2 90.4h0.55v0.55h-0.55zM22.7 80.2h0.55v0.55h-0.55zM42.7 84.0h0.55v0.55h-0.55zM59.1 84.1h0.55v0.55h-0.55zM62.4 84.1h0.55v0.55h-0.55zM26.5 89.0h0.55v0.55h-0.55zM41.0 86.0h0.55v0.55h-0.55zM59.5 83.7h0.55v0.55h-0.55zM54.8 96.5h0.55v0.55h-0.55zM44.2 89.6h0.55v0.55h-0.55zM67.3 91.7h0.55v0.55h-0.55zM30.9 80.5h0.55v0.55h-0.55zM26.0 86.0h0.55v0.55h-0.55zM26.4 92.6h0.55v0.55h-0.55zM42.8 85.5h0.55v0.55h-0.55zM47.1 98.7h0.55v0.55h-0.55zM34.0 82.2h0.55v0.55h-0.55zM37.0 85.8h0.55v0.55h-0.55zM66.6 93.8h0.55v0.55h-0.55zM43.0 82.5h0.55v0.55h-0.55zM24.2 81.6h0.55v0.55h-0.55zM63.5 92.6h0.55v0.55h-0.55zM29.7 92.1h0.55v0.55h-0.55zM24.9 89.6h0.55v0.55h-0.55zM38.4 81.2h0.55v0.55h-0.55zM58.4 94.1h0.55v0.55h-0.55zM47.0 82.5h0.55v0.55h-0.55zM54.8 88.1h0.55v0.55h-0.55zM54.4 80.9h0.55v0.55h-0.55zM66.2 79.1h0.55v0.55h-0.55zM32.9 87.4h0.55v0.55h-0.55zM31.7 80.8h0.55v0.55h-0.55zM55.7 99.9h0.55v0.55h-0.55zM38.4 84.6h0.55v0.55h-0.55zM54.9 83.7h0.55v0.55h-0.55zM41.6 93.5h0.55v0.55h-0.55zM43.1 82.3h0.55v0.55h-0.55zM25.5 90.4h0.55v0.55h-0.55zM70.5 98.3h0.55v0.55h-0.55zM26.9 89.5h0.55v0.55h-0.55zM45.9 83.1h0.55v0.55h-0.55zM54.8 89.4h0.55v0.55h-0.55zM61.6 85.1h0.55v0.55h-0.55zM67.8 96.1h0.55v0.55h-0.55zM45.2 82.0h0.55v0.55h-0.55zM45.7 81.7h0.55v0.55h-0.55zM55.6 93.6h0.55v0.55h-0.55zM50.3 99.5h0.55v0.55h-0.55zM24.2 94.0h0.55v0.55h-0.55zM61.2 81.4h0.55v0.55h-0.55zM37.8 80.1h0.55v0.55h-0.55zM50.6 94.2h0.55v0.55h-0.55zM39.1 93.6h0.55v0.55h-0.55zM40.0 94.0h0.55v0.55h-0.55zM35.6 99.5h0.55v0.55h-0.55zM43.5 79.1h0.55v0.55h-0.55zM26.5 94.2h0.55v0.55h-0.55zM64.4 92.4h0.55v0.55h-0.55zM29.6 97.3h0.55v0.55h-0.55zM57.1 81.4h0.55v0.55h-0.55zM40.6 93.1h0.55v0.55h-0.55zM22.2 79.9h0.55v0.55h-0.55zM39.3 97.4h0.55v0.55h-0.55zM70.8 85.7h0.55v0.55h-0.55zM66.5 95.5h0.55v0.55h-0.55zM64.4 91.4h0.55v0.55h-0.55zM69.5 92.5h0.55v0.55h-0.55zM68.4 90.9h0.55v0.55h-0.55zM31.6 89.9h0.55v0.55h-0.55zM45.7 86.1h0.55v0.55h-0.55zM40.3 89.7h0.55v0.55h-0.55zM50.8 83.7h0.55v0.55h-0.55zM35.6 89.6h0.55v0.55h-0.55zM46.7 87.8h0.55v0.55h-0.55zM54.5 82.9h0.55v0.55h-0.55zM48.1 84.8h0.55v0.55h-0.55zM59.7 93.8h0.55v0.55h-0.55zM60.3 89.9h0.55v0.55h-0.55zM34.2 98.4h0.55v0.55h-0.55zM47.0 86.9h0.55v0.55h-0.55zM36.2 87.4h0.55v0.55h-0.55zM56.7 96.2h0.55v0.55h-0.55zM45.6 94.4h0.55v0.55h-0.55zM32.4 88.5h0.55v0.55h-0.55zM39.5 85.4h0.55v0.55h-0.55zM39.6 94.8h0.55v0.55h-0.55zM57.9 83.4h0.55v0.55h-0.55zM33.5 95.5h0.55v0.55h-0.55zM54.1 93.2h0.55v0.55h-0.55zM53.1 93.6h0.55v0.55h-0.55zM35.4 80.3h0.55v0.55h-0.55zM39.7 79.7h0.55v0.55h-0.55zM69.1 90.0h0.55v0.55h-0.55zM54.8 99.3h0.55v0.55h-0.55zM61.4 83.8h0.55v0.55h-0.55zM38.5 81.3h0.55v0.55h-0.55zM61.0 94.5h0.55v0.55h-0.55zM45.9 86.8h0.55v0.55h-0.55zM35.2 89.2h0.55v0.55h-0.55zM56.9 97.8h0.55v0.55h-0.55zM63.6 97.2h0.55v0.55h-0.55zM43.5 87.8h0.55v0.55h-0.55zM37.4 99.5h0.55v0.55h-0.55zM31.0 82.3h0.55v0.55h-0.55zM35.8 98.4h0.55v0.55h-0.55zM63.8 86.0h0.55v0.55h-0.55zM63.7 97.7h0.55v0.55h-0.55zM42.9 83.0h0.55v0.55h-0.55zM59.9 86.9h0.55v0.55h-0.55zM27.8 98.0h0.55v0.55h-0.55zM43.5 87.3h0.55v0.55h-0.55zM51.2 84.4h0.55v0.55h-0.55zM23.0 87.2h0.55v0.55h-0.55zM40.6 79.2h0.55v0.55h-0.55zM40.2 95.0h0.55v0.55h-0.55zM38.3 93.3h0.55v0.55h-0.55zM52.6 83.0h0.55v0.55h-0.55zM23.0 93.2h0.55v0.55h-0.55zM51.9 85.2h0.55v0.55h-0.55zM31.8 97.0h0.55v0.55h-0.55zM66.6 83.9h0.55v0.55h-0.55zM50.7 91.1h0.55v0.55h-0.55zM37.8 79.8h0.55v0.55h-0.55zM37.9 92.5h0.55v0.55h-0.55zM51.5 89.7h0.55v0.55h-0.55zM28.0 83.5h0.55v0.55h-0.55zM37.3 87.7h0.55v0.55h-0.55zM39.8 97.9h0.55v0.55h-0.55zM27.7 99.7h0.55v0.55h-0.55zM33.8 97.0h0.55v0.55h-0.55zM33.9 91.3h0.55v0.55h-0.55zM40.5 79.8h0.55v0.55h-0.55zM61.0 96.0h0.55v0.55h-0.55zM35.2 95.3h0.55v0.55h-0.55zM45.5 99.7h0.55v0.55h-0.55zM24.7 87.0h0.55v0.55h-0.55zM33.2 92.1h0.55v0.55h-0.55zM60.1 96.7h0.55v0.55h-0.55zM48.9 87.1h0.55v0.55h-0.55zM61.2 81.2h0.55v0.55h-0.55zM34.7 94.8h0.55v0.55h-0.55zM43.6 99.9h0.55v0.55h-0.55zM26.5 88.7h0.55v0.55h-0.55zM32.4 79.0h0.55v0.55h-0.55zM26.6 80.9h0.55v0.55h-0.55zM40.1 88.1h0.55v0.55h-0.55zM46.9 85.1h0.55v0.55h-0.55zM56.4 89.8h0.55v0.55h-0.55zM70.1 82.6h0.55v0.55h-0.55zM47.0 89.4h0.55v0.55h-0.55zM40.2 97.1h0.55v0.55h-0.55zM32.3 97.4h0.55v0.55h-0.55zM39.5 86.0h0.55v0.55h-0.55z" fill="#858585" opacity="0.5"/>
<path d="M49.4 75.5h0.5v0.5h-0.5zM30.9 48.7h0.5v0.5h-0.5zM68.5 64.7h0.5v0.5h-0.5zM21.4 80.8h0.5v0.5h-0.5zM44.8 62.3h0.5v0.5h-0.5zM33.4 91.3h0.5v0.5h-0.5zM34.0 67.4h0.5v0.5h-0.5zM68.6 64.2h0.5v0.5h-0.5zM37.5 53.1h0.5v0.5h-0.5zM52.1 81.2h0.5v0.5h-0.5zM40.0 66.7h0.5v0.5h-0.5zM28.0 88.2h0.5v0.5h-0.5zM40.6 90.6h0.5v0.5h-0.5zM36.0 85.1h0.5v0.5h-0.5zM16.6 56.3h0.5v0.5h-0.5zM68.8 82.2h0.5v0.5h-0.5zM52.8 71.8h0.5v0.5h-0.5zM41.5 55.1h0.5v0.5h-0.5zM24.7 80.1h0.5v0.5h-0.5zM53.9 58.5h0.5v0.5h-0.5zM51.1 51.6h0.5v0.5h-0.5zM49.3 53.6h0.5v0.5h-0.5zM43.5 61.6h0.5v0.5h-0.5zM45.8 51.5h0.5v0.5h-0.5zM42.1 78.5h0.5v0.5h-0.5zM22.5 61.3h0.5v0.5h-0.5zM53.0 74.6h0.5v0.5h-0.5zM49.5 87.7h0.5v0.5h-0.5zM47.0 56.4h0.5v0.5h-0.5zM39.8 90.5h0.5v0.5h-0.5zM46.7 86.2h0.5v0.5h-0.5zM35.4 69.1h0.5v0.5h-0.5zM69.3 90.0h0.5v0.5h-0.5zM51.6 50.0h0.5v0.5h-0.5zM49.3 45.9h0.5v0.5h-0.5zM67.3 98.4h0.5v0.5h-0.5zM55.8 59.0h0.5v0.5h-0.5zM62.4 53.9h0.5v0.5h-0.5zM61.4 73.2h0.5v0.5h-0.5zM15.9 93.9h0.5v0.5h-0.5zM39.6 90.5h0.5v0.5h-0.5zM53.6 73.8h0.5v0.5h-0.5zM63.3 55.4h0.5v0.5h-0.5zM65.3 63.0h0.5v0.5h-0.5zM16.5 62.8h0.5v0.5h-0.5zM18.7 48.0h0.5v0.5h-0.5zM50.0 50.8h0.5v0.5h-0.5zM23.9 60.4h0.5v0.5h-0.5zM30.6 95.5h0.5v0.5h-0.5zM65.7 92.7h0.5v0.5h-0.5zM70.4 68.7h0.5v0.5h-0.5zM59.6 59.7h0.5v0.5h-0.5zM66.9 89.4h0.5v0.5h-0.5zM56.0 56.7h0.5v0.5h-0.5zM20.1 95.8h0.5v0.5h-0.5zM45.9 78.3h0.5v0.5h-0.5zM63.3 52.0h0.5v0.5h-0.5zM54.2 70.0h0.5v0.5h-0.5zM59.0 69.5h0.5v0.5h-0.5zM26.0 97.6h0.5v0.5h-0.5zM30.7 85.7h0.5v0.5h-0.5zM61.5 57.9h0.5v0.5h-0.5zM53.9 66.2h0.5v0.5h-0.5zM27.5 56.2h0.5v0.5h-0.5zM68.4 64.6h0.5v0.5h-0.5zM43.6 72.1h0.5v0.5h-0.5zM16.5 86.2h0.5v0.5h-0.5zM56.7 93.1h0.5v0.5h-0.5zM35.0 55.7h0.5v0.5h-0.5zM34.5 85.0h0.5v0.5h-0.5zM51.8 66.7h0.5v0.5h-0.5zM44.4 52.6h0.5v0.5h-0.5zM66.4 70.4h0.5v0.5h-0.5zM43.4 88.1h0.5v0.5h-0.5zM26.1 84.5h0.5v0.5h-0.5zM34.8 89.5h0.5v0.5h-0.5zM20.3 59.5h0.5v0.5h-0.5zM50.6 71.0h0.5v0.5h-0.5zM36.1 76.4h0.5v0.5h-0.5zM27.2 68.5h0.5v0.5h-0.5zM15.1 88.7h0.5v0.5h-0.5zM29.2 90.5h0.5v0.5h-0.5zM45.9 77.7h0.5v0.5h-0.5zM50.1 51.0h0.5v0.5h-0.5zM58.5 60.4h0.5v0.5h-0.5zM63.3 88.0h0.5v0.5h-0.5zM53.0 89.7h0.5v0.5h-0.5zM39.5 81.7h0.5v0.5h-0.5zM68.4 54.6h0.5v0.5h-0.5zM20.6 67.1h0.5v0.5h-0.5zM43.5 52.4h0.5v0.5h-0.5zM27.4 92.5h0.5v0.5h-0.5zM36.7 52.3h0.5v0.5h-0.5zM25.2 76.3h0.5v0.5h-0.5zM25.6 70.6h0.5v0.5h-0.5zM45.1 68.6h0.5v0.5h-0.5zM43.2 90.9h0.5v0.5h-0.5zM15.9 96.1h0.5v0.5h-0.5zM26.2 46.1h0.5v0.5h-0.5zM58.0 75.9h0.5v0.5h-0.5zM45.1 56.2h0.5v0.5h-0.5zM58.7 61.2h0.5v0.5h-0.5zM55.7 56.8h0.5v0.5h-0.5zM47.1 80.3h0.5v0.5h-0.5zM35.8 70.9h0.5v0.5h-0.5zM18.7 80.0h0.5v0.5h-0.5zM53.7 52.6h0.5v0.5h-0.5zM45.8 85.1h0.5v0.5h-0.5zM20.7 91.0h0.5v0.5h-0.5zM63.7 46.8h0.5v0.5h-0.5zM28.9 48.7h0.5v0.5h-0.5zM29.1 48.8h0.5v0.5h-0.5zM42.4 58.0h0.5v0.5h-0.5zM31.8 69.8h0.5v0.5h-0.5zM35.8 88.2h0.5v0.5h-0.5zM55.5 50.4h0.5v0.5h-0.5zM27.5 44.5h0.5v0.5h-0.5zM33.4 50.1h0.5v0.5h-0.5zM54.0 87.7h0.5v0.5h-0.5zM70.8 55.7h0.5v0.5h-0.5zM17.1 86.4h0.5v0.5h-0.5zM38.1 96.1h0.5v0.5h-0.5zM37.0 61.5h0.5v0.5h-0.5zM19.1 97.1h0.5v0.5h-0.5zM43.7 68.7h0.5v0.5h-0.5zM39.5 87.0h0.5v0.5h-0.5zM61.5 70.7h0.5v0.5h-0.5zM25.0 66.8h0.5v0.5h-0.5zM64.9 66.8h0.5v0.5h-0.5zM52.0 75.3h0.5v0.5h-0.5zM40.8 76.2h0.5v0.5h-0.5zM28.7 75.2h0.5v0.5h-0.5zM63.4 48.5h0.5v0.5h-0.5zM35.7 93.3h0.5v0.5h-0.5zM69.8 44.7h0.5v0.5h-0.5zM50.1 79.4h0.5v0.5h-0.5zM62.2 70.3h0.5v0.5h-0.5zM22.3 60.8h0.5v0.5h-0.5zM54.9 84.8h0.5v0.5h-0.5zM26.5 80.0h0.5v0.5h-0.5zM51.8 80.8h0.5v0.5h-0.5zM16.2 68.7h0.5v0.5h-0.5zM33.2 77.4h0.5v0.5h-0.5zM33.9 51.2h0.5v0.5h-0.5zM52.5 60.1h0.5v0.5h-0.5zM59.3 61.1h0.5v0.5h-0.5zM45.6 89.3h0.5v0.5h-0.5zM21.5 84.9h0.5v0.5h-0.5zM18.8 96.4h0.5v0.5h-0.5zM16.4 84.5h0.5v0.5h-0.5zM35.6 54.1h0.5v0.5h-0.5zM37.1 72.1h0.5v0.5h-0.5zM38.2 50.9h0.5v0.5h-0.5zM44.3 60.8h0.5v0.5h-0.5zM69.2 65.5h0.5v0.5h-0.5zM39.4 56.8h0.5v0.5h-0.5zM69.3 62.0h0.5v0.5h-0.5zM51.2 90.6h0.5v0.5h-0.5zM37.0 86.3h0.5v0.5h-0.5zM30.6 50.1h0.5v0.5h-0.5zM17.4 69.1h0.5v0.5h-0.5zM63.9 55.4h0.5v0.5h-0.5zM39.7 86.7h0.5v0.5h-0.5zM30.5 52.5h0.5v0.5h-0.5zM44.1 67.8h0.5v0.5h-0.5zM67.6 94.3h0.5v0.5h-0.5zM28.3 75.4h0.5v0.5h-0.5zM38.3 45.9h0.5v0.5h-0.5zM39.9 95.3h0.5v0.5h-0.5zM32.0 76.8h0.5v0.5h-0.5zM54.8 47.5h0.5v0.5h-0.5zM66.8 50.1h0.5v0.5h-0.5zM31.9 84.1h0.5v0.5h-0.5zM16.1 65.0h0.5v0.5h-0.5zM22.1 70.5h0.5v0.5h-0.5zM15.9 52.5h0.5v0.5h-0.5zM27.5 48.6h0.5v0.5h-0.5zM20.1 54.9h0.5v0.5h-0.5zM44.0 51.7h0.5v0.5h-0.5zM61.0 67.3h0.5v0.5h-0.5zM29.1 57.5h0.5v0.5h-0.5zM62.0 46.6h0.5v0.5h-0.5zM56.6 49.5h0.5v0.5h-0.5zM67.9 66.9h0.5v0.5h-0.5zM48.5 92.3h0.5v0.5h-0.5zM20.6 47.6h0.5v0.5h-0.5zM53.8 76.9h0.5v0.5h-0.5zM55.4 59.6h0.5v0.5h-0.5zM42.8 54.5h0.5v0.5h-0.5zM39.5 59.8h0.5v0.5h-0.5zM47.8 60.7h0.5v0.5h-0.5zM30.4 80.0h0.5v0.5h-0.5zM19.8 88.9h0.5v0.5h-0.5zM42.8 56.8h0.5v0.5h-0.5zM21.4 72.5h0.5v0.5h-0.5zM43.2 84.3h0.5v0.5h-0.5zM35.9 67.1h0.5v0.5h-0.5zM65.0 59.3h0.5v0.5h-0.5zM69.9 94.0h0.5v0.5h-0.5zM70.5 96.8h0.5v0.5h-0.5z" fill="#999" opacity="0.4"/>
<filter id="bl8" x="-50%" y="-50%" width="200%" height="200%"><feGaussianBlur stdDeviation="2.8"/></filter>
<ellipse cx="54" cy="64" rx="7" ry="10.5" fill="#b040aa" opacity="0.8" filter="url(#bl8)" transform="rotate(18 54 64)"/>
<path d="M57.5 76.9h0.55v0.55h-0.55zM50.8 61.4h0.55v0.55h-0.55zM60.5 62.5h0.55v0.55h-0.55zM53.6 55.3h0.55v0.55h-0.55zM63.9 69.1h0.55v0.55h-0.55zM57.0 68.5h0.55v0.55h-0.55zM50.9 61.4h0.55v0.55h-0.55zM47.9 68.0h0.55v0.55h-0.55zM61.2 68.7h0.55v0.55h-0.55zM59.5 68.0h0.55v0.55h-0.55zM47.4 56.2h0.55v0.55h-0.55zM57.2 64.7h0.55v0.55h-0.55zM57.8 61.4h0.55v0.55h-0.55zM51.0 67.9h0.55v0.55h-0.55zM48.3 53.6h0.55v0.55h-0.55zM49.6 58.8h0.55v0.55h-0.55zM48.0 61.4h0.55v0.55h-0.55zM62.9 79.0h0.55v0.55h-0.55zM60.8 59.8h0.55v0.55h-0.55zM58.9 62.6h0.55v0.55h-0.55zM54.5 59.2h0.55v0.55h-0.55zM50.4 53.0h0.55v0.55h-0.55zM60.4 57.4h0.55v0.55h-0.55zM55.4 59.7h0.55v0.55h-0.55zM52.9 56.0h0.55v0.55h-0.55zM54.2 70.5h0.55v0.55h-0.55zM52.8 50.6h0.55v0.55h-0.55zM55.2 54.6h0.55v0.55h-0.55zM56.3 67.3h0.55v0.55h-0.55zM50.6 62.6h0.55v0.55h-0.55zM53.8 67.0h0.55v0.55h-0.55zM60.8 72.4h0.55v0.55h-0.55zM59.5 77.1h0.55v0.55h-0.55zM53.4 76.8h0.55v0.55h-0.55zM54.4 69.5h0.55v0.55h-0.55zM53.6 64.8h0.55v0.55h-0.55zM50.8 67.5h0.55v0.55h-0.55zM63.3 63.3h0.55v0.55h-0.55zM54.0 64.2h0.55v0.55h-0.55zM56.8 62.1h0.55v0.55h-0.55zM54.4 65.6h0.55v0.55h-0.55zM61.7 69.3h0.55v0.55h-0.55zM48.1 60.8h0.55v0.55h-0.55zM55.8 69.7h0.55v0.55h-0.55zM57.9 61.9h0.55v0.55h-0.55zM63.1 61.2h0.55v0.55h-0.55zM63.1 72.3h0.55v0.55h-0.55zM61.5 64.0h0.55v0.55h-0.55zM53.5 53.4h0.55v0.55h-0.55zM45.0 61.6h0.55v0.55h-0.55zM59.3 70.6h0.55v0.55h-0.55zM55.7 71.1h0.55v0.55h-0.55zM59.6 73.7h0.55v0.55h-0.55zM45.4 60.0h0.55v0.55h-0.55zM47.7 58.0h0.55v0.55h-0.55zM59.5 56.5h0.55v0.55h-0.55zM49.6 62.2h0.55v0.55h-0.55zM57.0 60.3h0.55v0.55h-0.55zM58.4 67.1h0.55v0.55h-0.55zM46.5 49.0h0.55v0.55h-0.55zM47.5 56.6h0.55v0.55h-0.55zM59.8 57.9h0.55v0.55h-0.55zM50.1 67.6h0.55v0.55h-0.55zM52.4 57.8h0.55v0.55h-0.55zM60.7 69.2h0.55v0.55h-0.55zM53.8 58.8h0.55v0.55h-0.55zM46.1 51.2h0.55v0.55h-0.55zM56.5 66.4h0.55v0.55h-0.55zM50.0 65.1h0.55v0.55h-0.55zM66.2 53.7h0.55v0.55h-0.55zM47.7 69.7h0.55v0.55h-0.55zM51.2 61.2h0.55v0.55h-0.55zM56.5 62.7h0.55v0.55h-0.55zM59.4 66.7h0.55v0.55h-0.55zM59.4 63.9h0.55v0.55h-0.55zM47.2 75.0h0.55v0.55h-0.55zM48.6 72.5h0.55v0.55h-0.55zM52.4 54.6h0.55v0.55h-0.55zM56.1 69.9h0.55v0.55h-0.55zM49.6 65.3h0.55v0.55h-0.55zM48.8 58.1h0.55v0.55h-0.55zM53.8 73.1h0.55v0.55h-0.55zM57.0 63.3h0.55v0.55h-0.55zM53.9 65.0h0.55v0.55h-0.55zM55.7 65.1h0.55v0.55h-0.55zM48.3 71.7h0.55v0.55h-0.55zM45.1 47.5h0.55v0.55h-0.55zM54.7 55.4h0.55v0.55h-0.55zM53.2 63.6h0.55v0.55h-0.55zM52.5 68.2h0.55v0.55h-0.55zM52.3 62.5h0.55v0.55h-0.55zM49.3 63.1h0.55v0.55h-0.55zM49.5 65.3h0.55v0.55h-0.55zM61.9 69.6h0.55v0.55h-0.55zM53.2 54.6h0.55v0.55h-0.55zM60.4 69.4h0.55v0.55h-0.55zM58.6 47.3h0.55v0.55h-0.55zM53.4 61.8h0.55v0.55h-0.55zM56.7 55.9h0.55v0.55h-0.55zM57.0 79.9h0.55v0.55h-0.55zM54.4 49.9h0.55v0.55h-0.55zM56.8 73.2h0.55v0.55h-0.55zM52.5 68.6h0.55v0.55h-0.55zM51.5 54.2h0.55v0.55h-0.55zM53.5 72.2h0.55v0.55h-0.55zM58.1 59.0h0.55v0.55h-0.55zM57.6 58.3h0.55v0.55h-0.55zM55.1 63.7h0.55v0.55h-0.55zM49.1 67.3h0.55v0.55h-0.55zM46.8 46.1h0.55v0.55h-0.55zM48.7 59.2h0.55v0.55h-0.55zM48.4 58.3h0.55v0.55h-0.55zM46.1 48.3h0.55v0.55h-0.55zM58.1 63.7h0.55v0.55h-0.55zM54.6 62.1h0.55v0.55h-0.55zM53.8 62.2h0.55v0.55h-0.55zM46.2 54.9h0.55v0.55h-0.55zM56.4 70.8h0.55v0.55h-0.55zM58.3 74.6h0.55v0.55h-0.55zM47.4 63.5h0.55v0.55h-0.55zM53.8 72.8h0.55v0.55h-0.55zM60.5 59.1h0.55v0.55h-0.55zM56.8 61.8h0.55v0.55h-0.55zM49.4 64.2h0.55v0.55h-0.55zM52.5 75.3h0.55v0.55h-0.55zM59.0 71.5h0.55v0.55h-0.55zM50.7 47.5h0.55v0.55h-0.55zM57.7 63.9h0.55v0.55h-0.55zM43.7 66.8h0.55v0.55h-0.55zM61.9 74.6h0.55v0.55h-0.55zM51.1 70.2h0.55v0.55h-0.55zM55.1 62.6h0.55v0.55h-0.55zM53.8 67.8h0.55v0.55h-0.55zM57.9 67.9h0.55v0.55h-0.55zM49.6 55.6h0.55v0.55h-0.55zM62.5 71.6h0.55v0.55h-0.55zM51.4 64.3h0.55v0.55h-0.55zM54.1 51.6h0.55v0.55h-0.55zM61.1 79.8h0.55v0.55h-0.55zM53.8 59.1h0.55v0.55h-0.55zM63.1 62.3h0.55v0.55h-0.55zM54.1 61.0h0.55v0.55h-0.55zM51.2 51.8h0.55v0.55h-0.55zM45.4 55.3h0.55v0.55h-0.55zM57.8 62.6h0.55v0.55h-0.55zM55.0 49.4h0.55v0.55h-0.55zM54.3 74.3h0.55v0.55h-0.55zM46.8 52.2h0.55v0.55h-0.55zM50.0 62.4h0.55v0.55h-0.55zM56.6 72.8h0.55v0.55h-0.55zM63.0 73.2h0.55v0.55h-0.55zM55.6 60.1h0.55v0.55h-0.55zM48.8 54.5h0.55v0.55h-0.55zM62.2 71.3h0.55v0.55h-0.55zM52.6 58.0h0.55v0.55h-0.55zM58.0 66.7h0.55v0.55h-0.55zM52.4 56.1h0.55v0.55h-0.55zM53.9 60.0h0.55v0.55h-0.55zM58.5 67.4h0.55v0.55h-0.55zM55.1 60.8h0.55v0.55h-0.55zM62.3 67.9h0.55v0.55h-0.55zM61.3 68.5h0.55v0.55h-0.55zM57.7 66.1h0.55v0.55h-0.55zM45.6 52.8h0.55v0.55h-0.55zM51.1 69.0h0.55v0.55h-0.55zM58.4 64.4h0.55v0.55h-0.55zM58.1 76.2h0.55v0.55h-0.55zM48.7 52.4h0.55v0.55h-0.55zM46.5 63.2h0.55v0.55h-0.55zM58.6 68.3h0.55v0.55h-0.55zM54.7 69.7h0.55v0.55h-0.55zM52.3 59.2h0.55v0.55h-0.55zM53.9 69.4h0.55v0.55h-0.55zM56.0 55.6h0.55v0.55h-0.55zM49.9 65.7h0.55v0.55h-0.55zM61.0 54.3h0.55v0.55h-0.55zM49.3 67.9h0.55v0.55h-0.55zM55.0 59.5h0.55v0.55h-0.55zM54.9 67.3h0.55v0.55h-0.55zM46.3 65.4h0.55v0.55h-0.55zM58.5 69.7h0.55v0.55h-0.55zM59.0 62.5h0.55v0.55h-0.55zM50.3 74.3h0.55v0.55h-0.55zM56.1 59.1h0.55v0.55h-0.55zM60.7 70.1h0.55v0.55h-0.55zM48.6 48.3h0.55v0.55h-0.55zM50.4 59.3h0.55v0.55h-0.55zM50.1 64.2h0.55v0.55h-0.55zM50.0 67.6h0.55v0.55h-0.55zM59.9 54.4h0.55v0.55h-0.55zM57.5 59.5h0.55v0.55h-0.55zM56.1 62.7h0.55v0.55h-0.55zM58.2 58.1h0.55v0.55h-0.55zM55.7 58.2h0.55v0.55h-0.55zM55.0 63.7h0.55v0.55h-0.55zM55.6 52.5h0.55v0.55h-0.55zM50.9 74.5h0.55v0.55h-0.55zM59.1 75.1h0.55v0.55h-0.55zM49.9 66.3h0.55v0.55h-0.55zM60.2 75.3h0.55v0.55h-0.55zM52.9 61.0h0.55v0.55h-0.55zM56.9 62.7h0.55v0.55h-0.55zM52.2 69.8h0.55v0.55h-0.55zM43.6 58.9h0.55v0.55h-0.55zM59.0 59.5h0.55v0.55h-0.55zM53.3 66.8h0.55v0.55h-0.55zM60.0 66.6h0.55v0.55h-0.55zM48.6 61.0h0.55v0.55h-0.55zM58.4 62.3h0.55v0.55h-0.55zM53.0 70.4h0.55v0.55h-0.55zM63.4 77.6h0.55v0.55h-0.55zM47.8 60.2h0.55v0.55h-0.55zM51.7 67.0h0.55v0.55h-0.55zM54.1 71.9h0.55v0.55h-0.55zM44.1 72.8h0.55v0.55h-0.55zM50.6 62.7h0.55v0.55h-0.55zM56.9 64.9h0.55v0.55h-0.55zM52.6 75.0h0.55v0.55h-0.55zM55.5 60.2h0.55v0.55h-0.55zM52.7 56.4h0.55v0.55h-0.55zM48.0 63.1h0.55v0.55h-0.55zM55.8 64.4h0.55v0.55h-0.55zM47.8 55.4h0.55v0.55h-0.55zM49.8 76.2h0.55v0.55h-0.55zM54.0 58.3h0.55v0.55h-0.55zM60.3 66.6h0.55v0.55h-0.55zM51.0 60.2h0.55v0.55h-0.55zM59.7 65.2h0.55v0.55h-0.55zM61.9 65.0h0.55v0.55h-0.55zM50.2 60.5h0.55v0.55h-0.55zM51.4 66.3h0.55v0.55h-0.55zM56.3 67.9h0.55v0.55h-0.55zM53.9 56.6h0.55v0.55h-0.55zM51.2 57.9h0.55v0.55h-0.55zM53.5 54.7h0.55v0.55h-0.55zM49.7 58.8h0.55v0.55h-0.55zM50.8 62.8h0.55v0.55h-0.55zM60.1 61.0h0.55v0.55h-0.55zM47.1 63.2h0.55v0.55h-0.55zM58.4 67.1h0.55v0.55h-0.55zM59.1 77.2h0.55v0.55h-0.55zM59.0 63.6h0.55v0.55h-0.55zM56.6 53.9h0.55v0.55h-0.55zM51.5 58.3h0.55v0.55h-0.55zM58.0 74.7h0.55v0.55h-0.55zM55.0 75.1h0.55v0.55h-0.55zM52.4 74.5h0.55v0.55h-0.55zM44.9 59.8h0.55v0.55h-0.55zM58.2 62.5h0.55v0.55h-0.55zM54.6 63.8h0.55v0.55h-0.55zM54.4 62.6h0.55v0.55h-0.55zM49.1 62.9h0.55v0.55h-0.55zM52.7 57.9h0.55v0.55h-0.55zM59.6 75.4h0.55v0.55h-0.55zM45.7 61.8h0.55v0.55h-0.55zM52.8 64.4h0.55v0.55h-0.55zM53.0 59.0h0.55v0.55h-0.55zM53.9 64.1h0.55v0.55h-0.55zM56.7 74.4h0.55v0.55h-0.55zM51.6 54.0h0.55v0.55h-0.55zM48.3 69.3h0.55v0.55h-0.55zM51.3 60.1h0.55v0.55h-0.55zM47.5 63.1h0.55v0.55h-0.55zM52.2 59.5h0.55v0.55h-0.55zM54.3 70.3h0.55v0.55h-0.55zM58.5 67.0h0.55v0.55h-0.55zM50.5 55.0h0.55v0.55h-0.55zM60.4 73.4h0.55v0.55h-0.55zM61.9 70.7h0.55v0.55h-0.55zM56.0 66.3h0.55v0.55h-0.55zM56.5 72.4h0.55v0.55h-0.55zM57.2 78.7h0.55v0.55h-0.55zM56.8 61.2h0.55v0.55h-0.55zM50.8 53.2h0.55v0.55h-0.55zM50.2 62.6h0.55v0.55h-0.55zM63.1 56.4h0.55v0.55h-0.55zM58.2 63.7h0.55v0.55h-0.55zM54.0 68.5h0.55v0.55h-0.55zM47.2 72.1h0.55v0.55h-0.55zM63.1 64.3h0.55v0.55h-0.55zM54.1 65.1h0.55v0.55h-0.55zM55.9 60.1h0.55v0.55h-0.55zM55.5 67.3h0.55v0.55h-0.55zM53.3 66.9h0.55v0.55h-0.55zM56.9 68.5h0.55v0.55h-0.55zM48.6 61.3h0.55v0.55h-0.55zM54.6 72.4h0.55v0.55h-0.55zM51.8 52.7h0.55v0.55h-0.55zM52.3 78.1h0.55v0.55h-0.55zM52.9 55.0h0.55v0.55h-0.55zM50.3 65.8h0.55v0.55h-0.55zM63.5 73.6h0.55v0.55h-0.55zM51.8 62.3h0.55v0.55h-0.55zM60.4 55.7h0.55v0.55h-0.55zM61.5 64.9h0.55v0.55h-0.55zM57.0 72.6h0.55v0.55h-0.55zM54.4 58.0h0.55v0.55h-0.55zM47.4 65.4h0.55v0.55h-0.55zM59.0 72.7h0.55v0.55h-0.55zM45.3 75.3h0.55v0.55h-0.55zM59.8 73.7h0.55v0.55h-0.55zM57.9 64.7h0.55v0.55h-0.55zM56.7 66.3h0.55v0.55h-0.55zM51.0 63.8h0.55v0.55h-0.55zM53.7 60.9h0.55v0.55h-0.55zM44.7 55.6h0.55v0.55h-0.55zM57.3 67.1h0.55v0.55h-0.55zM52.1 56.0h0.55v0.55h-0.55zM56.9 60.6h0.55v0.55h-0.55zM48.1 76.3h0.55v0.55h-0.55zM52.0 80.5h0.55v0.55h-0.55zM55.4 60.6h0.55v0.55h-0.55zM42.3 61.3h0.55v0.55h-0.55zM63.2 71.9h0.55v0.55h-0.55zM51.7 52.3h0.55v0.55h-0.55zM51.8 62.4h0.55v0.55h-0.55zM55.8 62.8h0.55v0.55h-0.55zM52.2 52.7h0.55v0.55h-0.55zM54.1 74.3h0.55v0.55h-0.55zM49.5 71.5h0.55v0.55h-0.55zM65.4 66.4h0.55v0.55h-0.55zM50.4 73.6h0.55v0.55h-0.55zM46.6 67.9h0.55v0.55h-0.55zM54.7 72.7h0.55v0.55h-0.55zM59.5 64.3h0.55v0.55h-0.55zM63.8 69.0h0.55v0.55h-0.55zM49.9 57.8h0.55v0.55h-0.55zM63.9 59.1h0.55v0.55h-0.55zM55.6 62.9h0.55v0.55h-0.55zM48.7 53.6h0.55v0.55h-0.55zM53.1 63.4h0.55v0.55h-0.55zM57.3 59.7h0.55v0.55h-0.55zM45.0 58.1h0.55v0.55h-0.55zM54.3 65.7h0.55v0.55h-0.55zM56.4 60.8h0.55v0.55h-0.55zM56.6 64.5h0.55v0.55h-0.55zM61.3 62.2h0.55v0.55h-0.55zM55.8 67.7h0.55v0.55h-0.55zM57.5 56.7h0.55v0.55h-0.55zM51.4 62.6h0.55v0.55h-0.55zM47.3 74.6h0.55v0.55h-0.55zM58.7 63.2h0.55v0.55h-0.55zM71.3 69.6h0.55v0.55h-0.55zM66.0 72.8h0.55v0.55h-0.55zM55.1 53.7h0.55v0.55h-0.55zM61.5 65.5h0.55v0.55h-0.55zM48.9 65.4h0.55v0.55h-0.55zM59.3 70.0h0.55v0.55h-0.55zM53.7 60.3h0.55v0.55h-0.55zM55.8 58.2h0.55v0.55h-0.55zM55.2 69.2h0.55v0.55h-0.55zM48.5 67.8h0.55v0.55h-0.55zM43.6 59.5h0.55v0.55h-0.55zM48.4 64.5h0.55v0.55h-0.55zM57.0 63.0h0.55v0.55h-0.55zM58.2 63.9h0.55v0.55h-0.55zM54.1 67.5h0.55v0.55h-0.55zM53.2 65.1h0.55v0.55h-0.55zM57.4 59.2h0.55v0.55h-0.55zM56.8 55.5h0.55v0.55h-0.55zM49.5 52.5h0.55v0.55h-0.55zM54.9 75.2h0.55v0.55h-0.55zM58.1 72.3h0.55v0.55h-0.55zM45.5 58.5h0.55v0.55h-0.55zM57.7 69.2h0.55v0.55h-0.55zM54.3 52.0h0.55v0.55h-0.55zM56.1 63.1h0.55v0.55h-0.55zM55.5 67.1h0.55v0.55h-0.55zM49.3 52.8h0.55v0.55h-0.55zM46.4 55.2h0.55v0.55h-0.55zM48.0 64.3h0.55v0.55h-0.55zM58.3 58.0h0.55v0.55h-0.55zM48.3 56.9h0.55v0.55h-0.55zM46.6 66.0h0.55v0.55h-0.55zM51.4 62.8h0.55v0.55h-0.55zM50.8 68.1h0.55v0.55h-0.55zM49.9 68.8h0.55v0.55h-0.55zM52.7 69.9h0.55v0.55h-0.55zM51.0 67.8h0.55v0.55h-0.55zM55.8 63.1h0.55v0.55h-0.55zM61.5 63.8h0.55v0.55h-0.55zM51.5 69.5h0.55v0.55h-0.55zM49.3 61.1h0.55v0.55h-0.55zM54.4 65.2h0.55v0.55h-0.55zM57.9 50.7h0.55v0.55h-0.55zM55.2 71.9h0.55v0.55h-0.55zM54.0 66.3h0.55v0.55h-0.55zM58.2 54.3h0.55v0.55h-0.55zM55.8 69.3h0.55v0.55h-0.55zM47.9 52.7h0.55v0.55h-0.55zM50.0 66.2h0.55v0.55h-0.55zM58.6 76.3h0.55v0.55h-0.55zM56.7 52.4h0.55v0.55h-0.55zM60.4 69.3h0.55v0.55h-0.55zM60.8 61.5h0.55v0.55h-0.55zM51.9 65.5h0.55v0.55h-0.55zM62.0 66.9h0.55v0.55h-0.55zM63.0 67.8h0.55v0.55h-0.55zM49.4 57.7h0.55v0.55h-0.55zM59.0 52.1h0.55v0.55h-0.55zM51.8 62.2h0.55v0.55h-0.55zM48.8 60.9h0.55v0.55h-0.55zM58.9 80.1h0.55v0.55h-0.55zM52.7 60.5h0.55v0.55h-0.55zM56.5 70.2h0.55v0.55h-0.55zM49.6 62.0h0.55v0.55h-0.55zM47.8 70.3h0.55v0.55h-0.55zM60.0 73.6h0.55v0.55h-0.55zM53.2 79.8h0.55v0.55h-0.55zM57.3 61.4h0.55v0.55h-0.55zM51.7 62.2h0.55v0.55h-0.55zM50.2 70.3h0.55v0.55h-0.55zM49.9 59.6h0.55v0.55h-0.55zM56.5 64.3h0.55v0.55h-0.55zM51.0 62.9h0.55v0.55h-0.55zM54.6 73.6h0.55v0.55h-0.55zM56.9 58.2h0.55v0.55h-0.55zM56.6 73.3h0.55v0.55h-0.55zM56.4 76.3h0.55v0.55h-0.55zM57.3 68.1h0.55v0.55h-0.55zM46.6 71.6h0.55v0.55h-0.55zM56.7 67.6h0.55v0.55h-0.55zM57.2 67.2h0.55v0.55h-0.55zM53.6 70.5h0.55v0.55h-0.55zM52.1 56.8h0.55v0.55h-0.55zM49.9 66.0h0.55v0.55h-0.55zM51.0 48.8h0.55v0.55h-0.55zM47.1 72.9h0.55v0.55h-0.55zM59.7 83.3h0.55v0.55h-0.55zM46.8 63.7h0.55v0.55h-0.55zM52.5 68.3h0.55v0.55h-0.55zM63.5 73.7h0.55v0.55h-0.55zM52.1 73.3h0.55v0.55h-0.55zM49.3 67.2h0.55v0.55h-0.55zM56.0 68.1h0.55v0.55h-0.55zM53.2 73.8h0.55v0.55h-0.55zM53.7 63.9h0.55v0.55h-0.55zM50.7 57.0h0.55v0.55h-0.55zM57.9 65.6h0.55v0.55h-0.55zM59.8 76.2h0.55v0.55h-0.55zM49.6 62.8h0.55v0.55h-0.55zM55.8 69.8h0.55v0.55h-0.55zM55.1 70.5h0.55v0.55h-0.55zM52.4 51.7h0.55v0.55h-0.55zM46.9 50.8h0.55v0.55h-0.55zM51.9 61.4h0.55v0.55h-0.55zM56.9 64.6h0.55v0.55h-0.55zM56.3 72.6h0.55v0.55h-0.55zM54.1 55.1h0.55v0.55h-0.55zM51.6 66.8h0.55v0.55h-0.55zM61.1 61.2h0.55v0.55h-0.55zM53.8 66.0h0.55v0.55h-0.55zM57.3 62.7h0.55v0.55h-0.55zM54.4 60.9h0.55v0.55h-0.55zM50.0 59.1h0.55v0.55h-0.55zM55.8 59.6h0.55v0.55h-0.55zM57.2 66.3h0.55v0.55h-0.55zM52.8 44.9h0.55v0.55h-0.55zM47.3 56.6h0.55v0.55h-0.55zM54.9 69.6h0.55v0.55h-0.55zM68.3 72.3h0.55v0.55h-0.55zM60.7 65.4h0.55v0.55h-0.55zM53.4 68.0h0.55v0.55h-0.55zM46.3 72.2h0.55v0.55h-0.55zM55.3 68.2h0.55v0.55h-0.55zM47.2 57.5h0.55v0.55h-0.55zM51.1 64.3h0.55v0.55h-0.55zM54.8 61.3h0.55v0.55h-0.55zM56.9 68.3h0.55v0.55h-0.55zM48.7 64.3h0.55v0.55h-0.55zM46.0 61.6h0.55v0.55h-0.55zM56.5 58.3h0.55v0.55h-0.55zM63.2 65.8h0.55v0.55h-0.55zM58.1 63.9h0.55v0.55h-0.55zM60.0 70.7h0.55v0.55h-0.55zM53.4 60.3h0.55v0.55h-0.55zM55.5 77.6h0.55v0.55h-0.55zM52.3 61.0h0.55v0.55h-0.55zM47.4 53.2h0.55v0.55h-0.55zM52.5 66.6h0.55v0.55h-0.55zM50.3 59.3h0.55v0.55h-0.55zM56.7 66.8h0.55v0.55h-0.55zM52.7 66.5h0.55v0.55h-0.55zM51.5 70.7h0.55v0.55h-0.55zM49.0 62.6h0.55v0.55h-0.55zM53.7 61.0h0.55v0.55h-0.55zM53.3 79.3h0.55v0.55h-0.55zM57.1 50.8h0.55v0.55h-0.55zM51.9 55.3h0.55v0.55h-0.55zM52.7 54.9h0.55v0.55h-0.55zM57.6 67.1h0.55v0.55h-0.55zM64.0 70.7h0.55v0.55h-0.55zM53.9 70.8h0.55v0.55h-0.55zM51.8 63.6h0.55v0.55h-0.55zM48.2 52.4h0.55v0.55h-0.55zM52.5 49.6h0.55v0.55h-0.55zM54.0 67.8h0.55v0.55h-0.55zM51.3 53.2h0.55v0.55h-0.55zM52.5 69.2h0.55v0.55h-0.55zM62.1 73.9h0.55v0.55h-0.55z" fill="#9a3a94" opacity="0.5"/>
<filter id="bl11" x="-50%" y="-50%" width="200%" height="200%"><feGaussianBlur stdDeviation="2.5"/></filter>
<ellipse cx="46" cy="90" rx="26" ry="7" fill="#aaaaaa" opacity="0.5" filter="url(#bl11)" transform="rotate(-10 46 90)"/>
<filter id="bl13" x="-50%" y="-50%" width="200%" height="200%"><feGaussianBlur stdDeviation="1.6"/></filter>
<ellipse cx="40" cy="95.8" rx="21" ry="3.8" fill="#b04cb0" opacity="0.8" filter="url(#bl13)" transform="rotate(-7 40 95.8)"/>
<filter id="bl15" x="-50%" y="-50%" width="200%" height="200%"><feGaussianBlur stdDeviation="0.8"/></filter>
<ellipse cx="35" cy="97.3" rx="14.5" ry="2.5" fill="#6428a0" opacity="0.9" filter="url(#bl15)" transform="rotate(-4 35 97.3)"/>
<filter id="bl17" x="-50%" y="-50%" width="200%" height="200%"><feGaussianBlur stdDeviation="0.6"/></filter>
<ellipse cx="39.5" cy="98.8" rx="9.5" ry="1.4" fill="#2cb8d0" opacity="0.95" filter="url(#bl17)" transform="rotate(-3 39.5 98.8)"/>
<filter id="bl19" x="-50%" y="-50%" width="200%" height="200%"><feGaussianBlur stdDeviation="0.5"/></filter>
<ellipse cx="26.5" cy="100.7" rx="6" ry="1.3" fill="#3da040" opacity="0.95" filter="url(#bl19)"/>
<filter id="bl21" x="-50%" y="-50%" width="200%" height="200%"><feGaussianBlur stdDeviation="0.4"/></filter>
<ellipse cx="21.5" cy="101.2" rx="2.2" ry="0.8" fill="#d8c020" opacity="0.8" filter="url(#bl21)"/>
<path d="M41.2 92.7h0.55v0.55h-0.55zM35.6 97.7h0.55v0.55h-0.55zM43.6 93.6h0.55v0.55h-0.55zM60.6 95.3h0.55v0.55h-0.55zM51.9 95.8h0.55v0.55h-0.55zM59.6 91.9h0.55v0.55h-0.55zM45.5 96.6h0.55v0.55h-0.55zM32.6 91.8h0.55v0.55h-0.55zM56.8 95.9h0.55v0.55h-0.55zM23.9 99.4h0.55v0.55h-0.55zM64.4 96.4h0.55v0.55h-0.55zM57.3 94.5h0.55v0.55h-0.55zM45.5 95.5h0.55v0.55h-0.55zM38.9 95.9h0.55v0.55h-0.55zM24.1 91.3h0.55v0.55h-0.55zM24.7 99.6h0.55v0.55h-0.55zM50.9 94.1h0.55v0.55h-0.55zM57.1 93.0h0.55v0.55h-0.55zM62.8 96.5h0.55v0.55h-0.55zM20.5 99.5h0.55v0.55h-0.55zM55.8 96.7h0.55v0.55h-0.55zM44.4 93.2h0.55v0.55h-0.55zM27.2 97.2h0.55v0.55h-0.55zM61.4 92.0h0.55v0.55h-0.55zM38.3 96.6h0.55v0.55h-0.55zM32.8 88.0h0.55v0.55h-0.55zM56.0 93.3h0.55v0.55h-0.55zM34.0 94.6h0.55v0.55h-0.55zM42.4 92.9h0.55v0.55h-0.55zM36.7 91.5h0.55v0.55h-0.55zM51.5 95.6h0.55v0.55h-0.55zM45.9 92.5h0.55v0.55h-0.55zM44.3 87.0h0.55v0.55h-0.55zM20.3 92.5h0.55v0.55h-0.55zM52.8 95.2h0.55v0.55h-0.55zM59.1 96.4h0.55v0.55h-0.55zM35.5 94.7h0.55v0.55h-0.55zM57.9 95.5h0.55v0.55h-0.55zM65.7 92.7h0.55v0.55h-0.55zM22.1 99.9h0.55v0.55h-0.55zM23.5 97.2h0.55v0.55h-0.55zM34.8 98.1h0.55v0.55h-0.55zM40.6 98.4h0.55v0.55h-0.55zM61.8 90.4h0.55v0.55h-0.55zM45.7 96.1h0.55v0.55h-0.55zM34.2 96.0h0.55v0.55h-0.55zM36.0 86.1h0.55v0.55h-0.55zM64.0 92.0h0.55v0.55h-0.55zM58.0 96.8h0.55v0.55h-0.55zM25.7 98.5h0.55v0.55h-0.55zM25.8 98.1h0.55v0.55h-0.55zM65.4 90.1h0.55v0.55h-0.55zM64.1 95.7h0.55v0.55h-0.55zM30.2 99.5h0.55v0.55h-0.55zM32.6 99.2h0.55v0.55h-0.55zM44.3 97.1h0.55v0.55h-0.55zM51.0 94.8h0.55v0.55h-0.55zM47.5 96.8h0.55v0.55h-0.55zM53.8 93.4h0.55v0.55h-0.55zM52.9 95.3h0.55v0.55h-0.55zM41.3 97.4h0.55v0.55h-0.55zM21.8 98.1h0.55v0.55h-0.55zM48.3 97.2h0.55v0.55h-0.55zM59.6 89.5h0.55v0.55h-0.55zM59.3 91.0h0.55v0.55h-0.55zM42.5 97.8h0.55v0.55h-0.55zM32.5 94.7h0.55v0.55h-0.55zM65.3 96.0h0.55v0.55h-0.55zM20.3 98.9h0.55v0.55h-0.55zM36.1 95.9h0.55v0.55h-0.55zM25.2 93.5h0.55v0.55h-0.55zM35.6 90.7h0.55v0.55h-0.55zM35.1 97.9h0.55v0.55h-0.55zM28.1 88.0h0.55v0.55h-0.55zM47.1 91.9h0.55v0.55h-0.55zM22.9 97.5h0.55v0.55h-0.55zM53.7 83.0h0.55v0.55h-0.55zM63.1 96.2h0.55v0.55h-0.55zM37.2 75.6h0.55v0.55h-0.55zM44.6 87.3h0.55v0.55h-0.55zM31.7 99.4h0.55v0.55h-0.55zM63.5 95.5h0.55v0.55h-0.55zM45.8 96.6h0.55v0.55h-0.55zM46.6 88.6h0.55v0.55h-0.55zM63.6 89.2h0.55v0.55h-0.55zM31.8 93.4h0.55v0.55h-0.55zM20.8 98.5h0.55v0.55h-0.55zM63.4 95.6h0.55v0.55h-0.55zM36.9 95.9h0.55v0.55h-0.55zM30.9 95.2h0.55v0.55h-0.55zM50.0 97.4h0.55v0.55h-0.55zM62.3 96.4h0.55v0.55h-0.55zM52.0 96.1h0.55v0.55h-0.55zM26.6 99.6h0.55v0.55h-0.55zM65.9 90.7h0.55v0.55h-0.55zM41.1 93.1h0.55v0.55h-0.55zM64.6 87.4h0.55v0.55h-0.55zM44.5 97.2h0.55v0.55h-0.55zM43.9 84.4h0.55v0.55h-0.55zM53.6 93.6h0.55v0.55h-0.55zM58.8 95.2h0.55v0.55h-0.55zM45.7 91.6h0.55v0.55h-0.55zM29.2 92.8h0.55v0.55h-0.55zM21.1 97.7h0.55v0.55h-0.55zM46.4 97.6h0.55v0.55h-0.55zM62.4 94.7h0.55v0.55h-0.55zM28.5 97.9h0.55v0.55h-0.55zM47.2 96.1h0.55v0.55h-0.55zM20.1 100.1h0.55v0.55h-0.55zM52.8 97.1h0.55v0.55h-0.55zM31.8 93.7h0.55v0.55h-0.55zM59.6 89.5h0.55v0.55h-0.55zM28.0 99.8h0.55v0.55h-0.55zM54.7 94.2h0.55v0.55h-0.55zM36.8 98.9h0.55v0.55h-0.55zM39.8 97.8h0.55v0.55h-0.55zM47.0 84.3h0.55v0.55h-0.55zM29.6 99.4h0.55v0.55h-0.55zM51.9 97.2h0.55v0.55h-0.55zM30.3 97.6h0.55v0.55h-0.55zM65.4 95.0h0.55v0.55h-0.55zM34.5 96.9h0.55v0.55h-0.55zM27.5 98.0h0.55v0.55h-0.55zM52.2 96.2h0.55v0.55h-0.55zM56.6 96.5h0.55v0.55h-0.55zM24.7 96.6h0.55v0.55h-0.55zM40.8 89.9h0.55v0.55h-0.55zM24.8 95.3h0.55v0.55h-0.55zM50.8 96.1h0.55v0.55h-0.55zM25.9 96.7h0.55v0.55h-0.55zM54.9 95.1h0.55v0.55h-0.55zM41.7 94.5h0.55v0.55h-0.55zM48.0 96.1h0.55v0.55h-0.55zM28.6 97.5h0.55v0.55h-0.55zM45.3 90.3h0.55v0.55h-0.55zM65.8 93.5h0.55v0.55h-0.55zM35.1 98.3h0.55v0.55h-0.55zM49.0 93.2h0.55v0.55h-0.55zM31.4 95.4h0.55v0.55h-0.55zM66.0 94.6h0.55v0.55h-0.55zM63.2 94.6h0.55v0.55h-0.55zM50.0 90.7h0.55v0.55h-0.55zM29.4 98.2h0.55v0.55h-0.55zM65.3 96.2h0.55v0.55h-0.55zM34.1 97.0h0.55v0.55h-0.55zM54.3 93.9h0.55v0.55h-0.55zM62.8 92.8h0.55v0.55h-0.55zM20.1 100.2h0.55v0.55h-0.55zM21.7 98.4h0.55v0.55h-0.55zM21.2 97.8h0.55v0.55h-0.55zM49.1 97.1h0.55v0.55h-0.55zM59.4 95.1h0.55v0.55h-0.55zM64.2 95.0h0.55v0.55h-0.55zM48.5 95.2h0.55v0.55h-0.55zM32.1 94.1h0.55v0.55h-0.55zM20.2 99.5h0.55v0.55h-0.55zM34.8 91.7h0.55v0.55h-0.55zM43.0 98.3h0.55v0.55h-0.55zM33.8 96.0h0.55v0.55h-0.55zM57.2 96.7h0.55v0.55h-0.55zM55.8 95.5h0.55v0.55h-0.55zM44.1 96.4h0.55v0.55h-0.55zM40.2 82.4h0.55v0.55h-0.55zM62.3 87.9h0.55v0.55h-0.55zM53.8 93.2h0.55v0.55h-0.55zM26.5 99.8h0.55v0.55h-0.55zM58.2 93.1h0.55v0.55h-0.55zM49.0 96.6h0.55v0.55h-0.55zM32.3 90.5h0.55v0.55h-0.55zM44.5 98.2h0.55v0.55h-0.55zM35.7 97.6h0.55v0.55h-0.55zM23.1 86.9h0.55v0.55h-0.55zM61.5 90.9h0.55v0.55h-0.55zM20.2 98.6h0.55v0.55h-0.55zM25.1 95.5h0.55v0.55h-0.55zM57.2 91.7h0.55v0.55h-0.55zM56.4 96.8h0.55v0.55h-0.55zM20.6 100.1h0.55v0.55h-0.55zM58.7 90.8h0.55v0.55h-0.55zM43.7 97.4h0.55v0.55h-0.55zM59.4 96.5h0.55v0.55h-0.55zM34.9 99.1h0.55v0.55h-0.55zM65.2 94.6h0.55v0.55h-0.55zM55.5 91.6h0.55v0.55h-0.55zM46.7 82.9h0.55v0.55h-0.55zM55.6 88.1h0.55v0.55h-0.55zM64.3 96.2h0.55v0.55h-0.55zM54.5 96.5h0.55v0.55h-0.55zM34.9 97.7h0.55v0.55h-0.55zM65.5 96.2h0.55v0.55h-0.55zM40.0 98.2h0.55v0.55h-0.55zM65.9 94.0h0.55v0.55h-0.55zM52.3 95.0h0.55v0.55h-0.55zM55.3 95.9h0.55v0.55h-0.55zM39.0 94.0h0.55v0.55h-0.55zM52.3 89.9h0.55v0.55h-0.55zM34.2 92.6h0.55v0.55h-0.55zM53.9 94.5h0.55v0.55h-0.55zM38.8 95.9h0.55v0.55h-0.55zM23.5 99.8h0.55v0.55h-0.55zM34.3 98.8h0.55v0.55h-0.55zM22.2 95.9h0.55v0.55h-0.55zM53.6 94.1h0.55v0.55h-0.55zM29.5 95.2h0.55v0.55h-0.55zM58.0 93.7h0.55v0.55h-0.55zM30.5 96.6h0.55v0.55h-0.55zM38.2 97.8h0.55v0.55h-0.55zM26.8 92.9h0.55v0.55h-0.55zM49.1 88.4h0.55v0.55h-0.55zM27.9 98.7h0.55v0.55h-0.55zM43.4 98.2h0.55v0.55h-0.55zM33.9 96.5h0.55v0.55h-0.55zM42.2 90.1h0.55v0.55h-0.55zM46.6 94.6h0.55v0.55h-0.55zM46.9 92.7h0.55v0.55h-0.55zM36.9 99.0h0.55v0.55h-0.55zM65.1 90.9h0.55v0.55h-0.55zM25.8 99.6h0.55v0.55h-0.55zM30.2 95.8h0.55v0.55h-0.55zM26.0 99.9h0.55v0.55h-0.55zM42.7 98.4h0.55v0.55h-0.55zM31.9 97.7h0.55v0.55h-0.55zM29.4 99.6h0.55v0.55h-0.55zM32.0 98.4h0.55v0.55h-0.55zM34.9 97.3h0.55v0.55h-0.55zM36.6 97.6h0.55v0.55h-0.55zM20.9 94.1h0.55v0.55h-0.55zM54.0 95.1h0.55v0.55h-0.55zM20.1 99.6h0.55v0.55h-0.55zM61.4 94.6h0.55v0.55h-0.55zM29.4 93.6h0.55v0.55h-0.55zM61.0 96.4h0.55v0.55h-0.55zM43.0 95.5h0.55v0.55h-0.55zM25.4 98.7h0.55v0.55h-0.55zM48.4 94.0h0.55v0.55h-0.55zM48.9 94.5h0.55v0.55h-0.55zM37.4 98.7h0.55v0.55h-0.55zM20.7 94.1h0.55v0.55h-0.55zM59.8 88.7h0.55v0.55h-0.55zM23.5 95.1h0.55v0.55h-0.55zM27.9 98.3h0.55v0.55h-0.55zM29.2 92.8h0.55v0.55h-0.55zM57.7 90.9h0.55v0.55h-0.55zM37.5 89.3h0.55v0.55h-0.55zM32.0 96.4h0.55v0.55h-0.55zM51.0 96.8h0.55v0.55h-0.55zM37.6 98.6h0.55v0.55h-0.55zM56.6 96.5h0.55v0.55h-0.55zM26.3 98.8h0.55v0.55h-0.55zM49.5 94.3h0.55v0.55h-0.55zM44.1 91.6h0.55v0.55h-0.55zM54.6 96.6h0.55v0.55h-0.55zM44.6 97.6h0.55v0.55h-0.55zM31.1 98.9h0.55v0.55h-0.55zM23.5 98.7h0.55v0.55h-0.55zM60.8 93.1h0.55v0.55h-0.55zM24.0 99.3h0.55v0.55h-0.55zM47.2 95.4h0.55v0.55h-0.55zM21.2 100.0h0.55v0.55h-0.55zM46.0 94.9h0.55v0.55h-0.55zM23.7 95.0h0.55v0.55h-0.55zM31.1 96.4h0.55v0.55h-0.55zM44.4 96.9h0.55v0.55h-0.55zM63.5 94.8h0.55v0.55h-0.55zM39.5 96.0h0.55v0.55h-0.55zM58.6 81.6h0.55v0.55h-0.55zM55.4 94.6h0.55v0.55h-0.55zM53.0 94.0h0.55v0.55h-0.55zM64.1 84.2h0.55v0.55h-0.55zM55.0 96.5h0.55v0.55h-0.55zM46.2 96.1h0.55v0.55h-0.55zM30.6 94.2h0.55v0.55h-0.55zM30.2 95.3h0.55v0.55h-0.55zM42.5 96.5h0.55v0.55h-0.55zM52.5 93.1h0.55v0.55h-0.55zM65.5 72.6h0.55v0.55h-0.55zM56.8 96.1h0.55v0.55h-0.55zM50.8 95.3h0.55v0.55h-0.55zM63.3 94.5h0.55v0.55h-0.55zM36.4 98.9h0.55v0.55h-0.55zM41.6 95.9h0.55v0.55h-0.55zM34.2 98.8h0.55v0.55h-0.55zM42.3 98.2h0.55v0.55h-0.55zM27.9 97.7h0.55v0.55h-0.55zM36.0 96.6h0.55v0.55h-0.55zM44.4 96.6h0.55v0.55h-0.55zM26.1 99.9h0.55v0.55h-0.55zM45.7 85.9h0.55v0.55h-0.55zM32.9 97.8h0.55v0.55h-0.55zM34.7 94.4h0.55v0.55h-0.55zM42.7 92.9h0.55v0.55h-0.55zM20.2 100.0h0.55v0.55h-0.55zM29.5 98.0h0.55v0.55h-0.55zM38.4 97.1h0.55v0.55h-0.55zM64.4 94.5h0.55v0.55h-0.55zM46.5 86.5h0.55v0.55h-0.55zM49.5 94.7h0.55v0.55h-0.55zM58.1 95.6h0.55v0.55h-0.55zM21.7 89.3h0.55v0.55h-0.55zM44.6 95.2h0.55v0.55h-0.55zM23.1 95.4h0.55v0.55h-0.55zM37.2 95.3h0.55v0.55h-0.55zM33.0 90.6h0.55v0.55h-0.55zM37.0 97.8h0.55v0.55h-0.55zM61.1 95.9h0.55v0.55h-0.55zM32.5 97.0h0.55v0.55h-0.55zM65.1 96.0h0.55v0.55h-0.55zM29.7 94.1h0.55v0.55h-0.55zM23.5 98.3h0.55v0.55h-0.55zM56.0 92.9h0.55v0.55h-0.55zM56.5 96.8h0.55v0.55h-0.55zM60.9 95.3h0.55v0.55h-0.55zM57.5 94.9h0.55v0.55h-0.55zM61.0 94.5h0.55v0.55h-0.55zM31.9 98.9h0.55v0.55h-0.55zM42.8 98.3h0.55v0.55h-0.55zM27.5 92.6h0.55v0.55h-0.55zM46.4 91.2h0.55v0.55h-0.55zM26.9 97.6h0.55v0.55h-0.55zM41.6 98.2h0.55v0.55h-0.55zM32.1 90.5h0.55v0.55h-0.55zM53.3 95.0h0.55v0.55h-0.55zM48.0 91.1h0.55v0.55h-0.55zM63.9 93.4h0.55v0.55h-0.55zM22.3 93.1h0.55v0.55h-0.55zM27.6 98.9h0.55v0.55h-0.55zM26.3 97.4h0.55v0.55h-0.55zM46.8 95.9h0.55v0.55h-0.55zM41.6 98.0h0.55v0.55h-0.55zM53.0 94.8h0.55v0.55h-0.55zM34.2 92.9h0.55v0.55h-0.55zM63.2 87.7h0.55v0.55h-0.55zM65.3 96.2h0.55v0.55h-0.55zM37.9 96.8h0.55v0.55h-0.55zM31.8 94.7h0.55v0.55h-0.55zM61.6 96.2h0.55v0.55h-0.55zM43.3 86.4h0.55v0.55h-0.55zM60.9 94.7h0.55v0.55h-0.55zM24.8 97.9h0.55v0.55h-0.55zM43.8 93.0h0.55v0.55h-0.55zM28.6 98.6h0.55v0.55h-0.55zM65.3 96.4h0.55v0.55h-0.55zM48.1 97.6h0.55v0.55h-0.55zM54.5 95.5h0.55v0.55h-0.55zM62.6 95.8h0.55v0.55h-0.55zM60.4 96.0h0.55v0.55h-0.55zM22.2 100.0h0.55v0.55h-0.55zM23.5 98.5h0.55v0.55h-0.55zM64.7 94.9h0.55v0.55h-0.55zM53.0 97.4h0.55v0.55h-0.55zM43.7 95.7h0.55v0.55h-0.55zM24.5 97.1h0.55v0.55h-0.55zM40.5 97.3h0.55v0.55h-0.55zM58.2 92.9h0.55v0.55h-0.55zM25.5 99.6h0.55v0.55h-0.55zM22.4 99.2h0.55v0.55h-0.55zM49.3 85.8h0.55v0.55h-0.55zM64.6 89.5h0.55v0.55h-0.55zM25.7 94.5h0.55v0.55h-0.55zM55.1 95.1h0.55v0.55h-0.55zM65.8 93.2h0.55v0.55h-0.55zM25.4 99.2h0.55v0.55h-0.55zM26.0 96.7h0.55v0.55h-0.55zM48.7 91.1h0.55v0.55h-0.55zM20.5 100.4h0.55v0.55h-0.55zM64.7 95.4h0.55v0.55h-0.55zM32.2 92.4h0.55v0.55h-0.55zM25.1 94.5h0.55v0.55h-0.55zM61.2 93.9h0.55v0.55h-0.55zM48.0 98.0h0.55v0.55h-0.55zM47.9 94.7h0.55v0.55h-0.55zM55.5 94.8h0.55v0.55h-0.55zM25.2 99.1h0.55v0.55h-0.55zM50.0 97.5h0.55v0.55h-0.55zM24.9 99.0h0.55v0.55h-0.55zM56.6 94.4h0.55v0.55h-0.55zM36.4 87.4h0.55v0.55h-0.55zM46.7 97.1h0.55v0.55h-0.55zM46.0 91.4h0.55v0.55h-0.55zM37.0 97.0h0.55v0.55h-0.55zM46.6 82.9h0.55v0.55h-0.55zM49.4 97.2h0.55v0.55h-0.55zM46.8 96.7h0.55v0.55h-0.55zM41.8 94.2h0.55v0.55h-0.55zM20.9 97.9h0.55v0.55h-0.55zM34.4 96.0h0.55v0.55h-0.55zM57.8 94.9h0.55v0.55h-0.55zM49.0 96.7h0.55v0.55h-0.55zM31.8 96.9h0.55v0.55h-0.55zM44.5 97.4h0.55v0.55h-0.55zM55.2 94.9h0.55v0.55h-0.55zM36.4 98.0h0.55v0.55h-0.55zM58.5 88.9h0.55v0.55h-0.55zM63.2 95.6h0.55v0.55h-0.55zM23.3 96.7h0.55v0.55h-0.55zM21.1 93.6h0.55v0.55h-0.55zM51.2 96.3h0.55v0.55h-0.55zM40.3 94.7h0.55v0.55h-0.55zM27.4 98.2h0.55v0.55h-0.55zM56.2 93.2h0.55v0.55h-0.55zM46.9 97.7h0.55v0.55h-0.55zM30.0 98.6h0.55v0.55h-0.55zM21.4 96.8h0.55v0.55h-0.55zM46.3 89.1h0.55v0.55h-0.55zM45.5 89.4h0.55v0.55h-0.55zM41.6 96.0h0.55v0.55h-0.55zM32.9 97.2h0.55v0.55h-0.55zM63.1 94.3h0.55v0.55h-0.55zM20.1 99.0h0.55v0.55h-0.55zM29.1 96.3h0.55v0.55h-0.55zM43.4 96.1h0.55v0.55h-0.55zM62.6 91.6h0.55v0.55h-0.55zM24.0 100.0h0.55v0.55h-0.55zM52.2 94.4h0.55v0.55h-0.55zM50.0 95.4h0.55v0.55h-0.55zM21.6 98.2h0.55v0.55h-0.55zM58.4 93.8h0.55v0.55h-0.55zM22.0 99.9h0.55v0.55h-0.55zM61.6 94.0h0.55v0.55h-0.55zM27.6 95.5h0.55v0.55h-0.55zM62.5 89.7h0.55v0.55h-0.55zM49.7 92.1h0.55v0.55h-0.55zM24.0 98.0h0.55v0.55h-0.55zM57.3 95.7h0.55v0.55h-0.55zM26.6 92.9h0.55v0.55h-0.55zM52.4 97.6h0.55v0.55h-0.55zM22.9 97.4h0.55v0.55h-0.55zM63.9 93.2h0.55v0.55h-0.55zM60.3 96.5h0.55v0.55h-0.55zM46.5 97.4h0.55v0.55h-0.55zM35.3 98.6h0.55v0.55h-0.55zM41.3 98.4h0.55v0.55h-0.55zM50.2 94.1h0.55v0.55h-0.55zM61.6 91.6h0.55v0.55h-0.55zM23.5 93.1h0.55v0.55h-0.55zM45.0 88.6h0.55v0.55h-0.55zM42.6 98.2h0.55v0.55h-0.55zM52.4 96.9h0.55v0.55h-0.55zM65.3 93.7h0.55v0.55h-0.55zM61.5 94.4h0.55v0.55h-0.55zM35.0 95.3h0.55v0.55h-0.55zM52.7 95.4h0.55v0.55h-0.55zM32.7 97.5h0.55v0.55h-0.55zM52.9 96.6h0.55v0.55h-0.55zM27.3 97.5h0.55v0.55h-0.55zM50.3 97.5h0.55v0.55h-0.55zM32.5 86.9h0.55v0.55h-0.55zM32.3 94.2h0.55v0.55h-0.55zM34.1 98.9h0.55v0.55h-0.55zM42.4 91.4h0.55v0.55h-0.55zM55.8 97.1h0.55v0.55h-0.55zM52.4 94.2h0.55v0.55h-0.55zM42.2 94.7h0.55v0.55h-0.55zM44.0 97.6h0.55v0.55h-0.55zM52.0 97.1h0.55v0.55h-0.55zM34.3 92.5h0.55v0.55h-0.55zM46.1 95.6h0.55v0.55h-0.55zM52.7 95.2h0.55v0.55h-0.55zM37.7 96.1h0.55v0.55h-0.55zM21.0 98.9h0.55v0.55h-0.55zM21.8 81.2h0.55v0.55h-0.55zM61.8 93.0h0.55v0.55h-0.55zM27.3 93.1h0.55v0.55h-0.55zM33.0 93.6h0.55v0.55h-0.55zM49.9 94.6h0.55v0.55h-0.55zM54.1 96.3h0.55v0.55h-0.55zM58.4 94.3h0.55v0.55h-0.55zM54.8 91.0h0.55v0.55h-0.55zM31.7 97.6h0.55v0.55h-0.55zM36.6 98.7h0.55v0.55h-0.55zM60.3 92.8h0.55v0.55h-0.55zM42.5 95.7h0.55v0.55h-0.55zM60.5 96.6h0.55v0.55h-0.55zM36.5 95.0h0.55v0.55h-0.55zM44.6 95.9h0.55v0.55h-0.55zM31.9 98.5h0.55v0.55h-0.55zM50.8 96.3h0.55v0.55h-0.55zM63.1 88.5h0.55v0.55h-0.55zM64.6 95.3h0.55v0.55h-0.55zM43.7 98.0h0.55v0.55h-0.55zM36.5 98.7h0.55v0.55h-0.55zM43.1 87.4h0.55v0.55h-0.55zM55.1 95.8h0.55v0.55h-0.55zM32.7 90.0h0.55v0.55h-0.55zM22.4 93.8h0.55v0.55h-0.55zM59.4 96.7h0.55v0.55h-0.55zM63.7 92.9h0.55v0.55h-0.55zM37.9 97.0h0.55v0.55h-0.55zM48.0 95.4h0.55v0.55h-0.55zM59.9 89.0h0.55v0.55h-0.55zM35.0 99.1h0.55v0.55h-0.55zM55.8 93.6h0.55v0.55h-0.55zM50.1 97.5h0.55v0.55h-0.55zM23.5 92.2h0.55v0.55h-0.55zM36.7 96.8h0.55v0.55h-0.55zM64.8 95.7h0.55v0.55h-0.55zM49.2 97.6h0.55v0.55h-0.55zM45.8 93.5h0.55v0.55h-0.55zM27.2 94.9h0.55v0.55h-0.55zM64.6 90.4h0.55v0.55h-0.55zM56.4 86.9h0.55v0.55h-0.55zM53.0 94.8h0.55v0.55h-0.55zM57.9 91.3h0.55v0.55h-0.55zM48.9 94.0h0.55v0.55h-0.55zM28.2 98.3h0.55v0.55h-0.55zM35.0 92.3h0.55v0.55h-0.55zM55.9 96.1h0.55v0.55h-0.55zM65.7 96.2h0.55v0.55h-0.55zM22.8 98.9h0.55v0.55h-0.55zM23.6 89.7h0.55v0.55h-0.55zM36.5 97.3h0.55v0.55h-0.55zM59.3 94.3h0.55v0.55h-0.55zM49.0 95.9h0.55v0.55h-0.55zM41.2 87.6h0.55v0.55h-0.55zM32.8 96.7h0.55v0.55h-0.55zM42.0 98.0h0.55v0.55h-0.55zM26.7 97.4h0.55v0.55h-0.55zM56.7 95.2h0.55v0.55h-0.55zM22.7 90.7h0.55v0.55h-0.55zM26.3 92.4h0.55v0.55h-0.55zM22.1 96.6h0.55v0.55h-0.55zM26.7 98.8h0.55v0.55h-0.55zM39.4 93.8h0.55v0.55h-0.55zM40.0 96.8h0.55v0.55h-0.55zM38.5 96.3h0.55v0.55h-0.55zM32.9 88.6h0.55v0.55h-0.55zM28.8 99.2h0.55v0.55h-0.55zM45.2 96.7h0.55v0.55h-0.55zM53.2 97.4h0.55v0.55h-0.55zM51.1 96.1h0.55v0.55h-0.55zM62.7 95.4h0.55v0.55h-0.55zM39.9 97.4h0.55v0.55h-0.55zM44.5 97.1h0.55v0.55h-0.55zM50.8 95.9h0.55v0.55h-0.55zM52.6 96.4h0.55v0.55h-0.55zM41.0 95.8h0.55v0.55h-0.55zM53.1 93.8h0.55v0.55h-0.55zM39.7 98.4h0.55v0.55h-0.55zM25.2 99.5h0.55v0.55h-0.55zM28.5 99.0h0.55v0.55h-0.55zM50.5 96.3h0.55v0.55h-0.55zM61.8 95.8h0.55v0.55h-0.55zM31.3 98.8h0.55v0.55h-0.55zM26.6 95.9h0.55v0.55h-0.55zM46.6 97.1h0.55v0.55h-0.55zM57.3 93.2h0.55v0.55h-0.55zM39.7 95.4h0.55v0.55h-0.55zM50.2 95.7h0.55v0.55h-0.55zM24.2 98.5h0.55v0.55h-0.55zM63.5 94.9h0.55v0.55h-0.55zM49.4 97.5h0.55v0.55h-0.55zM55.6 90.3h0.55v0.55h-0.55zM37.2 97.3h0.55v0.55h-0.55zM43.6 97.4h0.55v0.55h-0.55zM29.7 99.1h0.55v0.55h-0.55zM51.6 95.2h0.55v0.55h-0.55zM64.0 85.1h0.55v0.55h-0.55zM60.2 86.8h0.55v0.55h-0.55zM58.6 96.9h0.55v0.55h-0.55zM26.0 86.9h0.55v0.55h-0.55zM60.2 93.5h0.55v0.55h-0.55zM48.5 95.9h0.55v0.55h-0.55zM39.5 98.2h0.55v0.55h-0.55zM45.2 97.1h0.55v0.55h-0.55zM25.6 92.8h0.55v0.55h-0.55zM46.4 90.8h0.55v0.55h-0.55zM33.5 96.3h0.55v0.55h-0.55zM32.7 93.1h0.55v0.55h-0.55zM29.6 96.0h0.55v0.55h-0.55zM45.5 96.8h0.55v0.55h-0.55zM23.7 97.8h0.55v0.55h-0.55zM44.1 92.4h0.55v0.55h-0.55zM29.3 98.9h0.55v0.55h-0.55zM34.1 93.6h0.55v0.55h-0.55zM30.7 96.0h0.55v0.55h-0.55zM21.5 100.1h0.55v0.55h-0.55zM52.6 95.2h0.55v0.55h-0.55zM25.2 97.8h0.55v0.55h-0.55zM63.3 94.9h0.55v0.55h-0.55zM45.6 96.3h0.55v0.55h-0.55zM43.2 98.3h0.55v0.55h-0.55zM60.6 93.8h0.55v0.55h-0.55zM36.0 97.9h0.55v0.55h-0.55zM28.6 90.2h0.55v0.55h-0.55zM58.7 95.4h0.55v0.55h-0.55zM47.7 95.2h0.55v0.55h-0.55zM29.2 99.6h0.55v0.55h-0.55zM53.8 96.8h0.55v0.55h-0.55zM46.0 98.1h0.55v0.55h-0.55zM21.0 99.8h0.55v0.55h-0.55zM50.1 94.5h0.55v0.55h-0.55zM65.6 92.6h0.55v0.55h-0.55zM44.0 98.3h0.55v0.55h-0.55zM64.1 94.2h0.55v0.55h-0.55zM59.5 96.8h0.55v0.55h-0.55zM58.4 94.8h0.55v0.55h-0.55zM30.0 97.8h0.55v0.55h-0.55zM23.5 97.1h0.55v0.55h-0.55zM30.1 95.4h0.55v0.55h-0.55zM28.0 95.7h0.55v0.55h-0.55zM48.4 93.6h0.55v0.55h-0.55zM63.7 95.3h0.55v0.55h-0.55zM51.4 95.9h0.55v0.55h-0.55zM61.1 90.7h0.55v0.55h-0.55zM55.1 94.1h0.55v0.55h-0.55zM32.0 91.1h0.55v0.55h-0.55zM64.6 86.0h0.55v0.55h-0.55zM35.6 93.1h0.55v0.55h-0.55zM51.2 91.3h0.55v0.55h-0.55zM56.9 95.1h0.55v0.55h-0.55zM38.2 93.3h0.55v0.55h-0.55zM50.1 95.1h0.55v0.55h-0.55zM60.2 96.8h0.55v0.55h-0.55zM20.6 98.3h0.55v0.55h-0.55zM24.5 93.6h0.55v0.55h-0.55zM24.1 92.7h0.55v0.55h-0.55zM30.4 99.1h0.55v0.55h-0.55zM54.7 93.4h0.55v0.55h-0.55zM38.9 95.6h0.55v0.55h-0.55zM45.4 87.8h0.55v0.55h-0.55zM43.3 95.7h0.55v0.55h-0.55zM41.3 96.7h0.55v0.55h-0.55zM51.7 97.2h0.55v0.55h-0.55zM51.8 88.4h0.55v0.55h-0.55zM55.0 94.6h0.55v0.55h-0.55zM36.3 98.7h0.55v0.55h-0.55zM24.2 97.4h0.55v0.55h-0.55zM60.5 89.8h0.55v0.55h-0.55zM28.4 94.9h0.55v0.55h-0.55zM57.1 94.9h0.55v0.55h-0.55zM59.5 96.2h0.55v0.55h-0.55zM35.4 96.6h0.55v0.55h-0.55zM53.4 95.4h0.55v0.55h-0.55zM33.9 92.2h0.55v0.55h-0.55zM38.0 97.0h0.55v0.55h-0.55zM30.3 97.3h0.55v0.55h-0.55zM52.5 96.0h0.55v0.55h-0.55zM50.5 95.4h0.55v0.55h-0.55zM20.5 89.0h0.55v0.55h-0.55zM33.3 96.5h0.55v0.55h-0.55zM64.1 95.7h0.55v0.55h-0.55zM22.9 99.4h0.55v0.55h-0.55zM27.0 93.2h0.55v0.55h-0.55zM43.8 98.2h0.55v0.55h-0.55zM32.5 96.9h0.55v0.55h-0.55zM28.0 98.5h0.55v0.55h-0.55zM61.6 94.7h0.55v0.55h-0.55zM30.7 96.3h0.55v0.55h-0.55zM25.2 97.5h0.55v0.55h-0.55zM49.8 97.5h0.55v0.55h-0.55zM45.2 96.9h0.55v0.55h-0.55zM54.3 94.1h0.55v0.55h-0.55zM61.8 93.5h0.55v0.55h-0.55zM28.4 99.0h0.55v0.55h-0.55zM52.4 91.8h0.55v0.55h-0.55zM22.9 98.4h0.55v0.55h-0.55zM33.0 97.1h0.55v0.55h-0.55zM60.1 94.0h0.55v0.55h-0.55zM54.2 92.4h0.55v0.55h-0.55zM32.8 96.0h0.55v0.55h-0.55zM37.3 96.7h0.55v0.55h-0.55zM44.4 94.5h0.55v0.55h-0.55zM27.7 93.4h0.55v0.55h-0.55zM27.4 98.5h0.55v0.55h-0.55zM59.1 82.2h0.55v0.55h-0.55zM36.9 88.4h0.55v0.55h-0.55zM21.7 89.5h0.55v0.55h-0.55zM29.2 99.5h0.55v0.55h-0.55zM55.1 96.7h0.55v0.55h-0.55zM54.6 97.4h0.55v0.55h-0.55zM25.7 98.4h0.55v0.55h-0.55zM23.9 97.9h0.55v0.55h-0.55zM35.9 94.4h0.55v0.55h-0.55zM42.7 86.7h0.55v0.55h-0.55zM58.8 96.4h0.55v0.55h-0.55zM62.2 88.8h0.55v0.55h-0.55zM46.0 95.5h0.55v0.55h-0.55zM27.8 98.4h0.55v0.55h-0.55zM30.1 98.8h0.55v0.55h-0.55zM48.2 96.6h0.55v0.55h-0.55zM55.3 94.3h0.55v0.55h-0.55zM58.1 96.8h0.55v0.55h-0.55zM59.0 94.5h0.55v0.55h-0.55zM49.1 96.9h0.55v0.55h-0.55zM52.0 95.8h0.55v0.55h-0.55zM53.2 94.4h0.55v0.55h-0.55zM26.4 98.7h0.55v0.55h-0.55zM54.6 97.3h0.55v0.55h-0.55zM49.1 95.1h0.55v0.55h-0.55zM52.9 96.1h0.55v0.55h-0.55zM41.9 96.3h0.55v0.55h-0.55zM54.5 97.1h0.55v0.55h-0.55zM43.5 97.3h0.55v0.55h-0.55zM47.1 97.0h0.55v0.55h-0.55zM29.5 98.7h0.55v0.55h-0.55zM61.2 95.2h0.55v0.55h-0.55zM60.5 92.2h0.55v0.55h-0.55zM32.4 96.6h0.55v0.55h-0.55zM20.4 91.0h0.55v0.55h-0.55zM49.0 97.5h0.55v0.55h-0.55z" fill="#963896" opacity="0.45"/>
</g>
<rect x="14.7" y="44.4" width="56.3" height="57.6" fill="none" stroke="#8a8a8a" stroke-width="0.6" />
<polygon points="20.8,100.2 37.3,83.8 69.8,78.2 70.6,96.8 60,99.5" fill="none" stroke="#555" stroke-width="0.45" />
<text x="18.1" y="85" font-size="6.62" textLength="18.5" lengthAdjust="spacingAndGlyphs">PBMC</text>
<text x="12.6" y="73.4" font-size="6.83" text-anchor="middle" transform="rotate(-90 12.6 73.4)">SS</text>
<text x="44.3" y="110.9" font-size="6.83" text-anchor="middle">FS</text>
<clipPath id="cp2"><rect x="83.4" y="44.4" width="56.900000000000006" height="57.6"/></clipPath>
<g clip-path="url(#cp2)">
<path d="M108.7 67.7h0.55v0.55h-0.55zM108.9 73.2h0.55v0.55h-0.55zM103.1 78.8h0.55v0.55h-0.55zM106.3 70.6h0.55v0.55h-0.55zM121.1 59.4h0.55v0.55h-0.55zM106.8 73.2h0.55v0.55h-0.55zM113.0 67.3h0.55v0.55h-0.55zM122.2 54.5h0.55v0.55h-0.55zM114.5 60.2h0.55v0.55h-0.55zM109.8 68.2h0.55v0.55h-0.55zM108.1 72.5h0.55v0.55h-0.55zM113.9 60.8h0.55v0.55h-0.55zM112.3 66.0h0.55v0.55h-0.55zM111.2 69.6h0.55v0.55h-0.55zM111.6 69.8h0.55v0.55h-0.55zM120.1 60.1h0.55v0.55h-0.55zM117.5 59.1h0.55v0.55h-0.55zM117.5 58.1h0.55v0.55h-0.55zM116.6 55.5h0.55v0.55h-0.55zM104.0 80.7h0.55v0.55h-0.55zM103.1 79.6h0.55v0.55h-0.55zM118.8 55.0h0.55v0.55h-0.55zM114.1 64.4h0.55v0.55h-0.55zM103.2 79.3h0.55v0.55h-0.55zM112.0 64.4h0.55v0.55h-0.55zM101.7 82.7h0.55v0.55h-0.55zM113.1 67.4h0.55v0.55h-0.55zM111.1 69.0h0.55v0.55h-0.55zM112.6 72.5h0.55v0.55h-0.55zM103.1 76.8h0.55v0.55h-0.55zM101.9 72.2h0.55v0.55h-0.55zM109.5 68.1h0.55v0.55h-0.55zM107.6 75.0h0.55v0.55h-0.55zM108.5 72.9h0.55v0.55h-0.55zM117.6 56.9h0.55v0.55h-0.55zM119.5 53.1h0.55v0.55h-0.55zM119.3 60.3h0.55v0.55h-0.55zM116.8 57.8h0.55v0.55h-0.55zM99.9 82.8h0.55v0.55h-0.55zM111.5 66.4h0.55v0.55h-0.55zM108.6 65.1h0.55v0.55h-0.55zM106.5 75.9h0.55v0.55h-0.55zM105.0 77.3h0.55v0.55h-0.55zM100.5 83.1h0.55v0.55h-0.55zM123.3 57.7h0.55v0.55h-0.55zM108.3 74.6h0.55v0.55h-0.55zM112.5 68.3h0.55v0.55h-0.55zM110.1 68.0h0.55v0.55h-0.55zM102.6 80.9h0.55v0.55h-0.55zM105.5 82.2h0.55v0.55h-0.55zM121.1 58.9h0.55v0.55h-0.55zM116.4 57.7h0.55v0.55h-0.55zM117.4 59.8h0.55v0.55h-0.55zM120.0 60.1h0.55v0.55h-0.55zM116.5 61.5h0.55v0.55h-0.55zM115.4 66.3h0.55v0.55h-0.55zM114.5 65.5h0.55v0.55h-0.55zM106.8 75.2h0.55v0.55h-0.55zM114.2 62.5h0.55v0.55h-0.55zM118.5 55.7h0.55v0.55h-0.55zM109.8 65.8h0.55v0.55h-0.55zM111.3 69.4h0.55v0.55h-0.55zM107.3 77.0h0.55v0.55h-0.55zM117.6 57.0h0.55v0.55h-0.55zM109.2 66.8h0.55v0.55h-0.55zM107.5 69.2h0.55v0.55h-0.55zM114.8 57.7h0.55v0.55h-0.55zM115.4 64.2h0.55v0.55h-0.55zM106.0 75.4h0.55v0.55h-0.55zM109.8 74.3h0.55v0.55h-0.55zM107.2 68.1h0.55v0.55h-0.55zM100.7 75.6h0.55v0.55h-0.55zM110.9 69.6h0.55v0.55h-0.55zM109.4 76.1h0.55v0.55h-0.55zM108.2 72.3h0.55v0.55h-0.55zM118.5 59.5h0.55v0.55h-0.55zM116.8 62.5h0.55v0.55h-0.55zM99.9 87.0h0.55v0.55h-0.55zM103.3 78.4h0.55v0.55h-0.55zM112.8 64.7h0.55v0.55h-0.55zM114.3 63.4h0.55v0.55h-0.55zM117.3 55.4h0.55v0.55h-0.55zM106.6 77.1h0.55v0.55h-0.55zM106.1 78.8h0.55v0.55h-0.55zM113.4 67.3h0.55v0.55h-0.55zM110.6 70.3h0.55v0.55h-0.55zM117.0 67.9h0.55v0.55h-0.55zM116.8 58.7h0.55v0.55h-0.55zM104.3 78.7h0.55v0.55h-0.55zM113.1 67.3h0.55v0.55h-0.55zM107.0 76.8h0.55v0.55h-0.55zM107.8 74.4h0.55v0.55h-0.55zM101.0 81.8h0.55v0.55h-0.55zM102.8 79.0h0.55v0.55h-0.55zM116.3 60.6h0.55v0.55h-0.55zM101.9 79.0h0.55v0.55h-0.55zM116.4 62.4h0.55v0.55h-0.55zM106.7 74.8h0.55v0.55h-0.55zM103.6 78.5h0.55v0.55h-0.55zM110.3 72.2h0.55v0.55h-0.55zM114.6 61.1h0.55v0.55h-0.55zM98.9 81.4h0.55v0.55h-0.55zM101.5 82.0h0.55v0.55h-0.55zM105.7 72.0h0.55v0.55h-0.55zM117.5 55.1h0.55v0.55h-0.55zM115.6 60.9h0.55v0.55h-0.55zM110.6 67.7h0.55v0.55h-0.55zM109.3 72.8h0.55v0.55h-0.55zM117.1 60.1h0.55v0.55h-0.55zM118.9 60.4h0.55v0.55h-0.55zM115.9 59.8h0.55v0.55h-0.55zM106.4 78.0h0.55v0.55h-0.55zM113.4 64.7h0.55v0.55h-0.55zM109.3 68.3h0.55v0.55h-0.55zM114.2 61.3h0.55v0.55h-0.55zM119.7 65.8h0.55v0.55h-0.55zM111.6 65.3h0.55v0.55h-0.55zM101.3 78.7h0.55v0.55h-0.55zM114.1 65.7h0.55v0.55h-0.55zM113.5 57.8h0.55v0.55h-0.55zM102.1 81.2h0.55v0.55h-0.55zM112.7 64.6h0.55v0.55h-0.55zM107.7 67.4h0.55v0.55h-0.55zM98.5 81.8h0.55v0.55h-0.55zM106.1 77.8h0.55v0.55h-0.55zM108.2 73.8h0.55v0.55h-0.55zM102.8 78.2h0.55v0.55h-0.55zM114.8 55.0h0.55v0.55h-0.55zM109.6 70.3h0.55v0.55h-0.55zM110.4 70.7h0.55v0.55h-0.55zM117.9 60.8h0.55v0.55h-0.55zM111.1 67.4h0.55v0.55h-0.55zM101.8 79.0h0.55v0.55h-0.55zM100.4 81.6h0.55v0.55h-0.55zM121.1 55.3h0.55v0.55h-0.55zM97.3 80.7h0.55v0.55h-0.55zM117.9 62.1h0.55v0.55h-0.55zM111.0 72.0h0.55v0.55h-0.55zM113.0 67.2h0.55v0.55h-0.55zM109.9 69.0h0.55v0.55h-0.55zM97.4 84.0h0.55v0.55h-0.55zM106.1 71.0h0.55v0.55h-0.55zM116.6 58.0h0.55v0.55h-0.55zM115.8 64.8h0.55v0.55h-0.55zM100.2 85.9h0.55v0.55h-0.55zM108.1 72.2h0.55v0.55h-0.55zM121.6 60.5h0.55v0.55h-0.55zM116.5 54.0h0.55v0.55h-0.55zM115.6 57.6h0.55v0.55h-0.55zM100.9 81.3h0.55v0.55h-0.55zM116.6 61.3h0.55v0.55h-0.55zM109.4 65.8h0.55v0.55h-0.55zM100.0 76.2h0.55v0.55h-0.55zM107.9 71.5h0.55v0.55h-0.55zM112.6 64.1h0.55v0.55h-0.55zM110.9 69.6h0.55v0.55h-0.55zM108.4 78.2h0.55v0.55h-0.55zM110.0 70.6h0.55v0.55h-0.55zM120.5 55.8h0.55v0.55h-0.55zM110.1 72.0h0.55v0.55h-0.55zM107.5 73.3h0.55v0.55h-0.55zM112.6 66.0h0.55v0.55h-0.55zM117.5 66.4h0.55v0.55h-0.55zM112.6 71.2h0.55v0.55h-0.55zM110.5 67.0h0.55v0.55h-0.55zM113.3 60.6h0.55v0.55h-0.55zM116.7 55.0h0.55v0.55h-0.55zM113.4 68.3h0.55v0.55h-0.55zM103.4 87.2h0.55v0.55h-0.55zM110.0 73.1h0.55v0.55h-0.55zM100.2 81.9h0.55v0.55h-0.55zM102.5 73.7h0.55v0.55h-0.55zM99.2 82.7h0.55v0.55h-0.55zM110.6 68.7h0.55v0.55h-0.55zM106.5 72.3h0.55v0.55h-0.55zM118.0 58.1h0.55v0.55h-0.55zM117.3 57.8h0.55v0.55h-0.55zM111.5 67.5h0.55v0.55h-0.55zM107.4 76.8h0.55v0.55h-0.55zM114.2 68.4h0.55v0.55h-0.55zM108.4 71.0h0.55v0.55h-0.55zM114.7 61.2h0.55v0.55h-0.55zM119.0 58.4h0.55v0.55h-0.55zM111.6 68.8h0.55v0.55h-0.55zM106.7 73.7h0.55v0.55h-0.55zM120.1 56.9h0.55v0.55h-0.55zM107.7 73.2h0.55v0.55h-0.55zM118.0 60.2h0.55v0.55h-0.55zM118.6 60.6h0.55v0.55h-0.55zM106.2 77.8h0.55v0.55h-0.55zM114.6 61.3h0.55v0.55h-0.55zM110.5 76.3h0.55v0.55h-0.55zM111.2 62.1h0.55v0.55h-0.55zM120.0 56.9h0.55v0.55h-0.55zM102.9 76.0h0.55v0.55h-0.55zM111.7 65.5h0.55v0.55h-0.55zM105.2 69.9h0.55v0.55h-0.55zM99.9 83.3h0.55v0.55h-0.55zM112.5 62.9h0.55v0.55h-0.55zM116.5 62.9h0.55v0.55h-0.55zM116.1 65.0h0.55v0.55h-0.55zM111.0 75.4h0.55v0.55h-0.55zM105.0 80.6h0.55v0.55h-0.55zM116.4 62.9h0.55v0.55h-0.55zM114.6 60.8h0.55v0.55h-0.55zM101.7 80.0h0.55v0.55h-0.55zM101.7 79.6h0.55v0.55h-0.55zM108.0 73.6h0.55v0.55h-0.55zM116.4 59.7h0.55v0.55h-0.55zM108.6 70.3h0.55v0.55h-0.55zM117.3 59.6h0.55v0.55h-0.55zM115.0 62.6h0.55v0.55h-0.55zM114.8 61.5h0.55v0.55h-0.55zM119.6 53.6h0.55v0.55h-0.55zM116.4 60.3h0.55v0.55h-0.55zM117.2 57.8h0.55v0.55h-0.55zM106.5 71.4h0.55v0.55h-0.55zM109.3 75.3h0.55v0.55h-0.55zM114.5 60.5h0.55v0.55h-0.55zM118.5 58.7h0.55v0.55h-0.55zM97.8 84.0h0.55v0.55h-0.55zM105.3 76.5h0.55v0.55h-0.55zM104.1 82.9h0.55v0.55h-0.55zM100.3 80.6h0.55v0.55h-0.55zM113.2 64.9h0.55v0.55h-0.55zM117.3 52.8h0.55v0.55h-0.55zM103.5 79.0h0.55v0.55h-0.55zM119.9 52.5h0.55v0.55h-0.55zM114.1 62.6h0.55v0.55h-0.55zM118.4 61.3h0.55v0.55h-0.55zM112.0 64.7h0.55v0.55h-0.55zM112.9 63.5h0.55v0.55h-0.55zM115.9 62.2h0.55v0.55h-0.55zM108.1 67.8h0.55v0.55h-0.55zM106.0 76.9h0.55v0.55h-0.55zM116.7 68.1h0.55v0.55h-0.55zM110.9 66.3h0.55v0.55h-0.55zM98.4 85.8h0.55v0.55h-0.55zM104.4 81.2h0.55v0.55h-0.55zM111.6 69.6h0.55v0.55h-0.55zM107.1 72.1h0.55v0.55h-0.55zM110.5 70.9h0.55v0.55h-0.55zM111.6 62.7h0.55v0.55h-0.55zM115.7 66.1h0.55v0.55h-0.55zM111.0 64.4h0.55v0.55h-0.55zM108.9 71.5h0.55v0.55h-0.55zM117.2 64.2h0.55v0.55h-0.55zM108.0 70.3h0.55v0.55h-0.55zM108.9 74.7h0.55v0.55h-0.55zM114.8 65.1h0.55v0.55h-0.55zM118.5 58.2h0.55v0.55h-0.55zM109.5 69.1h0.55v0.55h-0.55zM120.6 56.4h0.55v0.55h-0.55zM102.7 79.0h0.55v0.55h-0.55zM114.8 62.9h0.55v0.55h-0.55zM101.3 85.3h0.55v0.55h-0.55zM101.6 80.5h0.55v0.55h-0.55zM120.1 60.9h0.55v0.55h-0.55zM108.9 69.7h0.55v0.55h-0.55zM115.9 62.6h0.55v0.55h-0.55zM105.3 82.9h0.55v0.55h-0.55zM114.8 62.1h0.55v0.55h-0.55zM116.2 65.3h0.55v0.55h-0.55zM116.4 60.3h0.55v0.55h-0.55zM117.9 61.8h0.55v0.55h-0.55zM106.8 75.0h0.55v0.55h-0.55zM118.6 56.7h0.55v0.55h-0.55zM118.2 55.9h0.55v0.55h-0.55zM106.4 68.8h0.55v0.55h-0.55zM111.6 67.6h0.55v0.55h-0.55zM111.1 65.9h0.55v0.55h-0.55zM114.8 58.0h0.55v0.55h-0.55zM120.8 56.4h0.55v0.55h-0.55zM111.0 71.6h0.55v0.55h-0.55zM113.9 72.5h0.55v0.55h-0.55zM107.5 73.8h0.55v0.55h-0.55zM108.8 69.7h0.55v0.55h-0.55zM113.5 63.5h0.55v0.55h-0.55zM117.3 57.2h0.55v0.55h-0.55zM112.9 64.5h0.55v0.55h-0.55zM107.7 69.2h0.55v0.55h-0.55zM113.8 64.4h0.55v0.55h-0.55zM107.8 70.3h0.55v0.55h-0.55zM121.2 56.4h0.55v0.55h-0.55zM107.6 73.2h0.55v0.55h-0.55zM115.3 65.7h0.55v0.55h-0.55zM122.3 58.3h0.55v0.55h-0.55zM115.3 66.1h0.55v0.55h-0.55zM115.2 60.3h0.55v0.55h-0.55zM105.1 77.5h0.55v0.55h-0.55zM115.6 64.2h0.55v0.55h-0.55zM110.0 69.4h0.55v0.55h-0.55zM112.7 69.1h0.55v0.55h-0.55zM120.5 55.0h0.55v0.55h-0.55zM114.3 62.5h0.55v0.55h-0.55zM112.2 64.9h0.55v0.55h-0.55zM112.2 65.6h0.55v0.55h-0.55zM107.2 63.6h0.55v0.55h-0.55zM110.4 74.9h0.55v0.55h-0.55zM109.5 64.8h0.55v0.55h-0.55zM114.1 61.2h0.55v0.55h-0.55zM108.4 68.0h0.55v0.55h-0.55zM106.8 73.1h0.55v0.55h-0.55zM104.9 74.7h0.55v0.55h-0.55zM104.4 82.5h0.55v0.55h-0.55zM111.2 65.3h0.55v0.55h-0.55zM117.2 59.7h0.55v0.55h-0.55zM111.3 69.6h0.55v0.55h-0.55zM116.2 57.2h0.55v0.55h-0.55zM113.8 64.4h0.55v0.55h-0.55zM107.2 71.9h0.55v0.55h-0.55zM111.2 68.3h0.55v0.55h-0.55zM113.6 63.9h0.55v0.55h-0.55zM115.3 61.7h0.55v0.55h-0.55zM115.1 58.2h0.55v0.55h-0.55zM110.8 61.9h0.55v0.55h-0.55zM101.9 84.8h0.55v0.55h-0.55zM112.4 68.8h0.55v0.55h-0.55zM115.4 65.7h0.55v0.55h-0.55zM106.3 69.2h0.55v0.55h-0.55zM104.0 78.6h0.55v0.55h-0.55zM106.8 75.9h0.55v0.55h-0.55zM102.1 74.4h0.55v0.55h-0.55zM103.7 80.1h0.55v0.55h-0.55zM112.1 66.4h0.55v0.55h-0.55zM105.9 79.8h0.55v0.55h-0.55zM115.6 62.5h0.55v0.55h-0.55zM118.0 65.2h0.55v0.55h-0.55zM115.6 64.5h0.55v0.55h-0.55zM102.5 83.8h0.55v0.55h-0.55zM120.5 56.5h0.55v0.55h-0.55zM111.8 63.3h0.55v0.55h-0.55zM112.2 63.9h0.55v0.55h-0.55zM116.6 60.9h0.55v0.55h-0.55zM116.0 62.9h0.55v0.55h-0.55zM108.7 70.8h0.55v0.55h-0.55zM108.5 71.3h0.55v0.55h-0.55zM110.1 71.1h0.55v0.55h-0.55zM117.6 62.1h0.55v0.55h-0.55zM102.9 75.7h0.55v0.55h-0.55zM105.5 78.2h0.55v0.55h-0.55zM110.5 71.0h0.55v0.55h-0.55zM114.9 61.5h0.55v0.55h-0.55zM100.5 78.5h0.55v0.55h-0.55zM101.2 82.2h0.55v0.55h-0.55zM116.7 60.9h0.55v0.55h-0.55zM100.2 81.1h0.55v0.55h-0.55zM116.1 57.1h0.55v0.55h-0.55zM106.2 77.8h0.55v0.55h-0.55zM103.5 82.1h0.55v0.55h-0.55zM110.5 68.9h0.55v0.55h-0.55zM112.2 65.8h0.55v0.55h-0.55zM101.5 79.3h0.55v0.55h-0.55zM112.1 63.0h0.55v0.55h-0.55zM116.9 60.2h0.55v0.55h-0.55zM109.5 66.8h0.55v0.55h-0.55zM115.5 61.3h0.55v0.55h-0.55zM108.9 67.4h0.55v0.55h-0.55zM100.5 83.0h0.55v0.55h-0.55zM105.2 77.1h0.55v0.55h-0.55zM115.4 59.1h0.55v0.55h-0.55zM120.1 57.7h0.55v0.55h-0.55zM103.1 77.8h0.55v0.55h-0.55zM100.9 85.1h0.55v0.55h-0.55zM109.9 67.6h0.55v0.55h-0.55zM98.3 84.8h0.55v0.55h-0.55zM103.1 81.8h0.55v0.55h-0.55zM110.1 72.8h0.55v0.55h-0.55zM103.6 75.1h0.55v0.55h-0.55zM111.7 75.5h0.55v0.55h-0.55zM100.1 79.3h0.55v0.55h-0.55zM111.5 68.0h0.55v0.55h-0.55zM118.4 60.0h0.55v0.55h-0.55zM115.4 59.6h0.55v0.55h-0.55zM116.4 59.8h0.55v0.55h-0.55zM100.6 85.0h0.55v0.55h-0.55zM118.2 58.3h0.55v0.55h-0.55zM118.9 53.8h0.55v0.55h-0.55zM101.5 82.0h0.55v0.55h-0.55zM114.9 58.6h0.55v0.55h-0.55zM110.1 76.3h0.55v0.55h-0.55zM102.2 79.7h0.55v0.55h-0.55zM107.6 73.0h0.55v0.55h-0.55zM115.7 53.9h0.55v0.55h-0.55zM116.9 58.7h0.55v0.55h-0.55zM115.1 61.6h0.55v0.55h-0.55zM114.7 61.8h0.55v0.55h-0.55zM104.3 82.2h0.55v0.55h-0.55zM103.6 79.3h0.55v0.55h-0.55zM119.7 53.2h0.55v0.55h-0.55zM102.2 79.1h0.55v0.55h-0.55zM118.9 57.5h0.55v0.55h-0.55zM98.6 82.1h0.55v0.55h-0.55zM114.9 61.0h0.55v0.55h-0.55zM113.8 63.9h0.55v0.55h-0.55zM118.7 55.7h0.55v0.55h-0.55zM103.1 77.3h0.55v0.55h-0.55zM118.6 58.6h0.55v0.55h-0.55zM112.6 67.5h0.55v0.55h-0.55zM117.8 55.4h0.55v0.55h-0.55zM121.3 54.3h0.55v0.55h-0.55zM113.2 67.3h0.55v0.55h-0.55zM115.8 65.7h0.55v0.55h-0.55zM105.5 74.9h0.55v0.55h-0.55zM117.2 57.1h0.55v0.55h-0.55zM115.8 66.8h0.55v0.55h-0.55zM116.5 67.0h0.55v0.55h-0.55zM102.7 85.1h0.55v0.55h-0.55zM104.8 74.8h0.55v0.55h-0.55zM109.4 75.2h0.55v0.55h-0.55zM117.2 63.5h0.55v0.55h-0.55zM112.5 65.2h0.55v0.55h-0.55zM116.2 63.7h0.55v0.55h-0.55zM114.1 63.4h0.55v0.55h-0.55zM111.5 71.0h0.55v0.55h-0.55zM102.1 79.9h0.55v0.55h-0.55zM120.9 58.2h0.55v0.55h-0.55zM114.6 66.6h0.55v0.55h-0.55zM111.1 66.0h0.55v0.55h-0.55zM111.9 66.7h0.55v0.55h-0.55zM103.9 79.2h0.55v0.55h-0.55zM98.9 83.3h0.55v0.55h-0.55zM110.5 70.2h0.55v0.55h-0.55zM115.9 59.4h0.55v0.55h-0.55zM110.8 69.8h0.55v0.55h-0.55zM117.1 58.1h0.55v0.55h-0.55zM108.8 74.3h0.55v0.55h-0.55zM111.5 65.5h0.55v0.55h-0.55zM119.7 58.8h0.55v0.55h-0.55zM102.5 85.5h0.55v0.55h-0.55zM103.6 79.6h0.55v0.55h-0.55zM102.9 82.9h0.55v0.55h-0.55zM111.4 66.1h0.55v0.55h-0.55zM105.8 75.2h0.55v0.55h-0.55zM115.9 59.5h0.55v0.55h-0.55zM111.3 68.7h0.55v0.55h-0.55zM103.6 68.7h0.55v0.55h-0.55zM99.4 82.5h0.55v0.55h-0.55zM112.1 66.7h0.55v0.55h-0.55zM111.7 68.2h0.55v0.55h-0.55zM114.2 62.8h0.55v0.55h-0.55zM115.2 58.8h0.55v0.55h-0.55zM116.9 61.1h0.55v0.55h-0.55zM115.1 61.6h0.55v0.55h-0.55zM116.6 61.6h0.55v0.55h-0.55zM116.3 65.2h0.55v0.55h-0.55zM114.9 62.0h0.55v0.55h-0.55zM113.4 64.0h0.55v0.55h-0.55zM118.7 59.7h0.55v0.55h-0.55zM104.2 80.7h0.55v0.55h-0.55zM98.6 82.2h0.55v0.55h-0.55zM109.7 69.1h0.55v0.55h-0.55zM115.9 64.0h0.55v0.55h-0.55zM101.8 87.5h0.55v0.55h-0.55zM101.8 78.7h0.55v0.55h-0.55zM116.6 61.0h0.55v0.55h-0.55zM121.2 55.5h0.55v0.55h-0.55zM119.9 53.8h0.55v0.55h-0.55zM104.2 72.8h0.55v0.55h-0.55zM104.4 79.4h0.55v0.55h-0.55zM111.4 66.6h0.55v0.55h-0.55zM108.8 69.0h0.55v0.55h-0.55zM115.6 61.8h0.55v0.55h-0.55zM101.0 84.3h0.55v0.55h-0.55zM115.8 60.4h0.55v0.55h-0.55zM97.4 86.1h0.55v0.55h-0.55zM102.5 83.1h0.55v0.55h-0.55zM118.0 56.6h0.55v0.55h-0.55zM106.7 72.4h0.55v0.55h-0.55zM105.4 76.3h0.55v0.55h-0.55zM102.9 77.5h0.55v0.55h-0.55zM112.7 68.6h0.55v0.55h-0.55zM112.6 68.0h0.55v0.55h-0.55zM111.4 67.4h0.55v0.55h-0.55zM121.5 59.7h0.55v0.55h-0.55zM100.1 80.5h0.55v0.55h-0.55zM106.7 68.2h0.55v0.55h-0.55zM108.5 74.0h0.55v0.55h-0.55zM115.5 56.3h0.55v0.55h-0.55zM107.6 73.9h0.55v0.55h-0.55zM113.3 65.7h0.55v0.55h-0.55zM106.5 69.2h0.55v0.55h-0.55zM110.6 68.3h0.55v0.55h-0.55zM112.4 66.7h0.55v0.55h-0.55zM107.5 75.6h0.55v0.55h-0.55zM114.3 58.2h0.55v0.55h-0.55zM112.4 72.0h0.55v0.55h-0.55zM105.7 73.5h0.55v0.55h-0.55zM111.2 70.1h0.55v0.55h-0.55zM112.0 62.4h0.55v0.55h-0.55zM111.7 58.8h0.55v0.55h-0.55zM97.4 87.0h0.55v0.55h-0.55zM101.7 82.3h0.55v0.55h-0.55zM112.4 67.7h0.55v0.55h-0.55zM110.1 70.3h0.55v0.55h-0.55zM113.7 63.0h0.55v0.55h-0.55zM120.6 56.5h0.55v0.55h-0.55zM105.2 76.3h0.55v0.55h-0.55zM120.2 58.8h0.55v0.55h-0.55zM113.3 66.4h0.55v0.55h-0.55zM112.4 67.8h0.55v0.55h-0.55zM112.2 69.5h0.55v0.55h-0.55zM115.2 60.4h0.55v0.55h-0.55zM116.2 65.0h0.55v0.55h-0.55zM115.9 64.3h0.55v0.55h-0.55zM117.4 60.8h0.55v0.55h-0.55zM106.3 72.2h0.55v0.55h-0.55zM110.4 71.5h0.55v0.55h-0.55zM119.0 56.8h0.55v0.55h-0.55zM109.5 70.9h0.55v0.55h-0.55zM115.4 65.2h0.55v0.55h-0.55zM107.8 74.2h0.55v0.55h-0.55zM117.7 55.5h0.55v0.55h-0.55zM114.5 65.6h0.55v0.55h-0.55zM114.7 58.4h0.55v0.55h-0.55zM104.6 77.3h0.55v0.55h-0.55zM112.8 67.0h0.55v0.55h-0.55zM109.2 72.5h0.55v0.55h-0.55zM114.6 57.7h0.55v0.55h-0.55zM111.4 65.8h0.55v0.55h-0.55zM117.5 55.7h0.55v0.55h-0.55zM114.7 69.2h0.55v0.55h-0.55zM115.4 58.1h0.55v0.55h-0.55zM118.4 60.2h0.55v0.55h-0.55zM104.6 74.7h0.55v0.55h-0.55zM114.6 64.1h0.55v0.55h-0.55zM106.1 80.8h0.55v0.55h-0.55zM110.0 69.3h0.55v0.55h-0.55zM106.2 81.0h0.55v0.55h-0.55zM99.9 85.1h0.55v0.55h-0.55zM112.9 68.7h0.55v0.55h-0.55zM114.5 64.3h0.55v0.55h-0.55zM108.1 75.2h0.55v0.55h-0.55zM108.3 77.6h0.55v0.55h-0.55zM106.4 71.7h0.55v0.55h-0.55zM118.9 60.5h0.55v0.55h-0.55zM115.8 56.9h0.55v0.55h-0.55zM110.6 68.4h0.55v0.55h-0.55zM106.1 72.6h0.55v0.55h-0.55zM102.9 74.9h0.55v0.55h-0.55zM115.8 64.1h0.55v0.55h-0.55zM117.4 62.5h0.55v0.55h-0.55zM112.9 62.8h0.55v0.55h-0.55zM99.5 83.8h0.55v0.55h-0.55zM110.1 64.9h0.55v0.55h-0.55zM105.6 80.1h0.55v0.55h-0.55zM119.0 60.8h0.55v0.55h-0.55zM107.8 69.1h0.55v0.55h-0.55zM111.1 70.2h0.55v0.55h-0.55zM110.2 68.1h0.55v0.55h-0.55zM116.4 60.9h0.55v0.55h-0.55zM105.2 81.1h0.55v0.55h-0.55zM104.6 76.5h0.55v0.55h-0.55zM115.0 59.3h0.55v0.55h-0.55zM105.5 80.5h0.55v0.55h-0.55zM101.3 79.6h0.55v0.55h-0.55zM119.9 54.3h0.55v0.55h-0.55zM115.6 59.3h0.55v0.55h-0.55zM100.5 80.1h0.55v0.55h-0.55zM111.6 64.4h0.55v0.55h-0.55zM117.9 57.7h0.55v0.55h-0.55zM119.5 52.4h0.55v0.55h-0.55zM118.8 55.8h0.55v0.55h-0.55zM109.1 68.5h0.55v0.55h-0.55zM116.3 65.2h0.55v0.55h-0.55zM104.4 80.3h0.55v0.55h-0.55zM105.3 74.9h0.55v0.55h-0.55zM107.9 71.1h0.55v0.55h-0.55zM120.8 58.0h0.55v0.55h-0.55zM105.7 79.2h0.55v0.55h-0.55zM111.1 60.3h0.55v0.55h-0.55zM119.2 54.0h0.55v0.55h-0.55zM110.8 71.8h0.55v0.55h-0.55zM115.2 62.4h0.55v0.55h-0.55zM113.9 65.5h0.55v0.55h-0.55zM101.4 81.2h0.55v0.55h-0.55zM115.1 60.7h0.55v0.55h-0.55zM117.3 60.0h0.55v0.55h-0.55zM118.9 57.6h0.55v0.55h-0.55zM112.6 66.3h0.55v0.55h-0.55zM110.6 68.5h0.55v0.55h-0.55zM112.8 60.8h0.55v0.55h-0.55zM109.9 72.8h0.55v0.55h-0.55zM110.6 73.6h0.55v0.55h-0.55zM108.7 67.8h0.55v0.55h-0.55zM103.4 84.5h0.55v0.55h-0.55zM102.1 82.0h0.55v0.55h-0.55zM120.6 54.4h0.55v0.55h-0.55zM105.1 74.1h0.55v0.55h-0.55zM109.3 63.9h0.55v0.55h-0.55zM112.7 61.2h0.55v0.55h-0.55zM109.3 67.5h0.55v0.55h-0.55zM121.2 56.4h0.55v0.55h-0.55zM114.0 67.9h0.55v0.55h-0.55zM119.0 59.9h0.55v0.55h-0.55zM105.7 74.2h0.55v0.55h-0.55zM112.9 65.1h0.55v0.55h-0.55zM115.9 58.8h0.55v0.55h-0.55zM104.4 72.9h0.55v0.55h-0.55zM105.5 78.8h0.55v0.55h-0.55zM111.1 66.2h0.55v0.55h-0.55zM113.7 63.8h0.55v0.55h-0.55zM101.5 77.7h0.55v0.55h-0.55zM105.1 75.4h0.55v0.55h-0.55zM115.6 54.5h0.55v0.55h-0.55zM114.9 66.4h0.55v0.55h-0.55zM111.2 66.9h0.55v0.55h-0.55zM115.3 60.0h0.55v0.55h-0.55zM121.0 54.8h0.55v0.55h-0.55zM120.4 56.8h0.55v0.55h-0.55zM104.7 79.8h0.55v0.55h-0.55zM103.7 82.3h0.55v0.55h-0.55zM98.5 83.5h0.55v0.55h-0.55zM114.9 64.5h0.55v0.55h-0.55zM108.7 77.4h0.55v0.55h-0.55zM107.2 76.1h0.55v0.55h-0.55zM107.5 71.8h0.55v0.55h-0.55zM111.7 68.4h0.55v0.55h-0.55zM118.0 58.9h0.55v0.55h-0.55zM102.8 85.0h0.55v0.55h-0.55zM110.0 69.0h0.55v0.55h-0.55zM103.8 75.6h0.55v0.55h-0.55zM103.5 78.5h0.55v0.55h-0.55zM116.7 58.1h0.55v0.55h-0.55zM110.4 70.5h0.55v0.55h-0.55zM113.1 64.5h0.55v0.55h-0.55zM108.3 73.1h0.55v0.55h-0.55zM115.0 61.5h0.55v0.55h-0.55zM118.6 59.3h0.55v0.55h-0.55zM100.9 77.8h0.55v0.55h-0.55zM102.8 82.8h0.55v0.55h-0.55zM115.4 60.2h0.55v0.55h-0.55zM101.9 85.0h0.55v0.55h-0.55zM109.5 72.7h0.55v0.55h-0.55zM119.9 58.4h0.55v0.55h-0.55zM116.6 60.4h0.55v0.55h-0.55zM97.7 84.1h0.55v0.55h-0.55zM104.9 79.6h0.55v0.55h-0.55zM105.0 74.8h0.55v0.55h-0.55zM111.1 72.2h0.55v0.55h-0.55zM109.2 76.1h0.55v0.55h-0.55zM112.0 67.9h0.55v0.55h-0.55zM116.7 61.2h0.55v0.55h-0.55zM113.1 67.8h0.55v0.55h-0.55zM111.8 68.2h0.55v0.55h-0.55zM112.7 67.3h0.55v0.55h-0.55zM110.7 72.5h0.55v0.55h-0.55zM110.2 62.9h0.55v0.55h-0.55zM113.2 64.3h0.55v0.55h-0.55zM120.0 57.2h0.55v0.55h-0.55zM115.2 58.8h0.55v0.55h-0.55zM101.0 79.2h0.55v0.55h-0.55zM118.2 58.9h0.55v0.55h-0.55zM118.8 56.6h0.55v0.55h-0.55zM106.6 69.5h0.55v0.55h-0.55zM108.4 76.8h0.55v0.55h-0.55zM106.0 75.9h0.55v0.55h-0.55zM100.2 79.3h0.55v0.55h-0.55zM105.9 76.5h0.55v0.55h-0.55zM101.3 77.7h0.55v0.55h-0.55zM114.1 64.8h0.55v0.55h-0.55zM99.2 83.0h0.55v0.55h-0.55zM106.1 73.5h0.55v0.55h-0.55zM105.9 72.5h0.55v0.55h-0.55zM107.9 73.9h0.55v0.55h-0.55zM108.0 76.8h0.55v0.55h-0.55zM114.1 63.6h0.55v0.55h-0.55zM111.7 67.5h0.55v0.55h-0.55zM114.5 63.9h0.55v0.55h-0.55zM117.4 59.0h0.55v0.55h-0.55zM102.3 78.2h0.55v0.55h-0.55zM108.0 73.7h0.55v0.55h-0.55zM120.7 58.2h0.55v0.55h-0.55zM118.8 51.8h0.55v0.55h-0.55zM111.8 71.5h0.55v0.55h-0.55zM107.0 71.0h0.55v0.55h-0.55zM102.7 78.9h0.55v0.55h-0.55zM114.1 65.2h0.55v0.55h-0.55zM110.8 70.9h0.55v0.55h-0.55zM117.6 62.0h0.55v0.55h-0.55zM115.2 59.3h0.55v0.55h-0.55zM101.6 88.1h0.55v0.55h-0.55zM120.7 55.7h0.55v0.55h-0.55zM117.3 57.2h0.55v0.55h-0.55zM119.6 54.8h0.55v0.55h-0.55zM107.6 75.3h0.55v0.55h-0.55zM107.1 77.5h0.55v0.55h-0.55zM108.1 77.3h0.55v0.55h-0.55zM108.7 72.1h0.55v0.55h-0.55zM114.3 67.2h0.55v0.55h-0.55zM97.7 84.8h0.55v0.55h-0.55zM112.6 70.4h0.55v0.55h-0.55zM121.2 51.8h0.55v0.55h-0.55zM118.0 57.4h0.55v0.55h-0.55zM109.6 69.6h0.55v0.55h-0.55zM103.2 77.2h0.55v0.55h-0.55zM119.8 55.4h0.55v0.55h-0.55zM109.4 70.9h0.55v0.55h-0.55zM108.6 65.6h0.55v0.55h-0.55zM104.1 70.5h0.55v0.55h-0.55zM118.0 55.0h0.55v0.55h-0.55zM113.5 61.3h0.55v0.55h-0.55zM112.2 65.3h0.55v0.55h-0.55zM108.2 73.4h0.55v0.55h-0.55zM112.8 68.0h0.55v0.55h-0.55zM105.7 75.6h0.55v0.55h-0.55zM117.3 55.3h0.55v0.55h-0.55zM105.9 70.1h0.55v0.55h-0.55zM109.8 67.4h0.55v0.55h-0.55zM104.6 78.7h0.55v0.55h-0.55zM108.5 75.1h0.55v0.55h-0.55zM114.7 68.1h0.55v0.55h-0.55zM108.8 68.2h0.55v0.55h-0.55zM116.1 59.4h0.55v0.55h-0.55zM111.7 69.8h0.55v0.55h-0.55zM108.6 72.5h0.55v0.55h-0.55zM120.8 56.3h0.55v0.55h-0.55zM120.6 57.3h0.55v0.55h-0.55zM108.4 67.3h0.55v0.55h-0.55zM119.3 56.3h0.55v0.55h-0.55zM106.6 77.0h0.55v0.55h-0.55zM114.0 64.3h0.55v0.55h-0.55zM108.2 73.7h0.55v0.55h-0.55zM109.6 71.4h0.55v0.55h-0.55zM104.7 76.4h0.55v0.55h-0.55zM111.2 68.0h0.55v0.55h-0.55zM104.6 75.8h0.55v0.55h-0.55zM114.6 60.0h0.55v0.55h-0.55zM106.4 71.6h0.55v0.55h-0.55zM116.5 56.3h0.55v0.55h-0.55zM112.1 63.8h0.55v0.55h-0.55zM108.9 59.9h0.55v0.55h-0.55zM102.3 74.2h0.55v0.55h-0.55zM115.4 59.2h0.55v0.55h-0.55zM102.7 79.1h0.55v0.55h-0.55zM109.7 72.2h0.55v0.55h-0.55zM114.6 67.7h0.55v0.55h-0.55zM115.4 63.7h0.55v0.55h-0.55zM97.9 84.2h0.55v0.55h-0.55zM107.2 69.5h0.55v0.55h-0.55zM102.8 84.1h0.55v0.55h-0.55zM118.2 55.0h0.55v0.55h-0.55zM107.9 77.4h0.55v0.55h-0.55zM115.3 61.5h0.55v0.55h-0.55zM105.7 71.9h0.55v0.55h-0.55zM110.5 69.9h0.55v0.55h-0.55zM101.1 88.1h0.55v0.55h-0.55zM116.2 63.3h0.55v0.55h-0.55zM108.6 71.3h0.55v0.55h-0.55zM117.3 56.7h0.55v0.55h-0.55zM96.5 82.2h0.55v0.55h-0.55zM117.4 59.4h0.55v0.55h-0.55zM115.6 64.2h0.55v0.55h-0.55zM111.5 66.5h0.55v0.55h-0.55zM103.2 80.4h0.55v0.55h-0.55zM103.4 74.9h0.55v0.55h-0.55zM102.6 78.5h0.55v0.55h-0.55zM119.7 53.2h0.55v0.55h-0.55zM107.2 71.5h0.55v0.55h-0.55zM112.7 71.2h0.55v0.55h-0.55zM121.7 54.0h0.55v0.55h-0.55zM115.7 62.7h0.55v0.55h-0.55zM119.1 55.6h0.55v0.55h-0.55zM107.9 71.3h0.55v0.55h-0.55zM106.4 76.4h0.55v0.55h-0.55zM121.8 57.2h0.55v0.55h-0.55zM111.1 65.3h0.55v0.55h-0.55zM109.0 69.8h0.55v0.55h-0.55zM104.8 77.4h0.55v0.55h-0.55zM114.1 65.1h0.55v0.55h-0.55zM118.7 54.1h0.55v0.55h-0.55zM116.9 62.6h0.55v0.55h-0.55zM117.6 58.0h0.55v0.55h-0.55zM110.5 68.6h0.55v0.55h-0.55zM105.6 73.3h0.55v0.55h-0.55zM108.0 68.8h0.55v0.55h-0.55zM110.5 74.3h0.55v0.55h-0.55zM113.3 62.0h0.55v0.55h-0.55zM115.9 56.3h0.55v0.55h-0.55zM123.6 56.9h0.55v0.55h-0.55zM110.6 66.7h0.55v0.55h-0.55zM101.6 80.7h0.55v0.55h-0.55zM114.4 63.3h0.55v0.55h-0.55zM107.4 72.6h0.55v0.55h-0.55zM106.9 73.1h0.55v0.55h-0.55zM114.2 58.1h0.55v0.55h-0.55zM116.0 64.7h0.55v0.55h-0.55zM108.4 68.0h0.55v0.55h-0.55zM105.6 77.7h0.55v0.55h-0.55zM119.6 59.0h0.55v0.55h-0.55zM108.9 69.8h0.55v0.55h-0.55zM116.7 63.0h0.55v0.55h-0.55zM108.7 72.1h0.55v0.55h-0.55zM114.6 61.4h0.55v0.55h-0.55zM97.2 83.2h0.55v0.55h-0.55zM106.4 71.9h0.55v0.55h-0.55zM112.9 63.0h0.55v0.55h-0.55zM110.3 61.0h0.55v0.55h-0.55zM109.0 70.9h0.55v0.55h-0.55zM112.0 66.9h0.55v0.55h-0.55zM105.1 82.6h0.55v0.55h-0.55zM110.7 68.1h0.55v0.55h-0.55zM110.8 72.3h0.55v0.55h-0.55zM111.5 66.6h0.55v0.55h-0.55zM105.7 79.7h0.55v0.55h-0.55zM108.7 74.9h0.55v0.55h-0.55zM111.9 69.4h0.55v0.55h-0.55zM112.0 70.5h0.55v0.55h-0.55zM109.2 70.1h0.55v0.55h-0.55zM101.1 79.6h0.55v0.55h-0.55zM101.4 81.0h0.55v0.55h-0.55zM111.5 67.6h0.55v0.55h-0.55zM114.8 61.5h0.55v0.55h-0.55zM102.3 84.4h0.55v0.55h-0.55zM119.9 63.7h0.55v0.55h-0.55zM117.1 58.8h0.55v0.55h-0.55zM113.5 64.9h0.55v0.55h-0.55zM113.3 62.3h0.55v0.55h-0.55zM113.8 67.8h0.55v0.55h-0.55zM108.0 76.2h0.55v0.55h-0.55zM112.7 62.3h0.55v0.55h-0.55zM109.8 65.9h0.55v0.55h-0.55zM107.4 77.1h0.55v0.55h-0.55zM113.4 64.0h0.55v0.55h-0.55zM108.1 76.0h0.55v0.55h-0.55zM117.2 60.7h0.55v0.55h-0.55zM112.3 71.5h0.55v0.55h-0.55zM115.6 67.1h0.55v0.55h-0.55zM118.3 58.3h0.55v0.55h-0.55zM118.9 61.5h0.55v0.55h-0.55zM104.1 77.7h0.55v0.55h-0.55zM103.5 80.0h0.55v0.55h-0.55zM113.2 69.1h0.55v0.55h-0.55zM104.9 74.9h0.55v0.55h-0.55zM109.9 70.4h0.55v0.55h-0.55zM106.9 75.2h0.55v0.55h-0.55zM116.2 59.8h0.55v0.55h-0.55zM116.3 58.8h0.55v0.55h-0.55zM122.3 54.7h0.55v0.55h-0.55zM108.9 71.0h0.55v0.55h-0.55zM98.3 86.0h0.55v0.55h-0.55zM114.9 65.9h0.55v0.55h-0.55zM118.8 58.9h0.55v0.55h-0.55zM121.7 57.4h0.55v0.55h-0.55zM100.1 81.6h0.55v0.55h-0.55zM99.5 79.8h0.55v0.55h-0.55zM105.4 79.7h0.55v0.55h-0.55zM113.1 67.6h0.55v0.55h-0.55zM118.8 57.9h0.55v0.55h-0.55zM112.6 67.5h0.55v0.55h-0.55zM108.6 71.2h0.55v0.55h-0.55zM99.6 84.4h0.55v0.55h-0.55zM106.8 80.5h0.55v0.55h-0.55zM105.2 78.2h0.55v0.55h-0.55zM101.2 84.2h0.55v0.55h-0.55zM113.5 66.0h0.55v0.55h-0.55zM106.9 72.7h0.55v0.55h-0.55zM117.5 64.7h0.55v0.55h-0.55zM103.9 76.7h0.55v0.55h-0.55zM109.7 72.4h0.55v0.55h-0.55zM118.9 56.6h0.55v0.55h-0.55zM108.6 69.0h0.55v0.55h-0.55zM101.9 74.3h0.55v0.55h-0.55zM101.1 81.3h0.55v0.55h-0.55zM112.6 68.3h0.55v0.55h-0.55zM110.3 70.1h0.55v0.55h-0.55zM102.5 87.9h0.55v0.55h-0.55zM99.7 83.4h0.55v0.55h-0.55zM101.6 83.3h0.55v0.55h-0.55zM117.2 56.9h0.55v0.55h-0.55zM114.8 66.4h0.55v0.55h-0.55zM116.4 58.5h0.55v0.55h-0.55zM115.7 64.5h0.55v0.55h-0.55zM114.2 68.7h0.55v0.55h-0.55zM101.1 80.4h0.55v0.55h-0.55zM106.3 78.0h0.55v0.55h-0.55zM113.6 60.4h0.55v0.55h-0.55zM119.4 58.9h0.55v0.55h-0.55zM103.7 75.8h0.55v0.55h-0.55zM118.8 58.4h0.55v0.55h-0.55zM118.3 55.2h0.55v0.55h-0.55zM108.4 70.9h0.55v0.55h-0.55zM115.7 65.3h0.55v0.55h-0.55zM104.7 80.3h0.55v0.55h-0.55zM102.2 87.8h0.55v0.55h-0.55zM116.1 62.7h0.55v0.55h-0.55zM112.6 68.7h0.55v0.55h-0.55zM111.6 73.4h0.55v0.55h-0.55zM115.2 64.1h0.55v0.55h-0.55zM113.5 64.2h0.55v0.55h-0.55zM112.3 67.2h0.55v0.55h-0.55zM100.8 76.3h0.55v0.55h-0.55zM122.5 55.3h0.55v0.55h-0.55zM103.6 80.6h0.55v0.55h-0.55zM115.7 68.0h0.55v0.55h-0.55zM110.6 70.4h0.55v0.55h-0.55zM102.8 81.3h0.55v0.55h-0.55zM122.2 58.4h0.55v0.55h-0.55zM110.2 67.7h0.55v0.55h-0.55zM111.0 66.2h0.55v0.55h-0.55z" fill="#7a7a7a" opacity="0.35"/>
<filter id="bl33" x="-50%" y="-50%" width="200%" height="200%"><feGaussianBlur stdDeviation="2.5"/></filter>
<ellipse cx="110" cy="70" rx="4.5" ry="18" fill="#c4c4c4" opacity="0.5" filter="url(#bl33)" transform="rotate(36 110 70)"/>
<path d="M110.8 87.2h0.55v0.55h-0.55zM104.5 86.3h0.55v0.55h-0.55zM100.1 80.6h0.55v0.55h-0.55zM106.4 84.7h0.55v0.55h-0.55zM86.7 90.3h0.55v0.55h-0.55zM100.7 93.3h0.55v0.55h-0.55zM107.6 81.5h0.55v0.55h-0.55zM99.6 88.1h0.55v0.55h-0.55zM101.7 82.3h0.55v0.55h-0.55zM101.6 93.4h0.55v0.55h-0.55zM111.0 96.0h0.55v0.55h-0.55zM107.1 74.3h0.55v0.55h-0.55zM98.8 85.1h0.55v0.55h-0.55zM77.7 96.5h0.55v0.55h-0.55zM108.3 88.0h0.55v0.55h-0.55zM103.9 90.7h0.55v0.55h-0.55zM99.3 95.5h0.55v0.55h-0.55zM115.7 92.5h0.55v0.55h-0.55zM96.5 89.4h0.55v0.55h-0.55zM108.9 92.0h0.55v0.55h-0.55zM95.5 93.3h0.55v0.55h-0.55zM106.8 91.2h0.55v0.55h-0.55zM97.6 87.9h0.55v0.55h-0.55zM85.7 87.9h0.55v0.55h-0.55zM97.4 86.5h0.55v0.55h-0.55zM98.7 86.3h0.55v0.55h-0.55zM101.7 88.6h0.55v0.55h-0.55zM96.1 87.3h0.55v0.55h-0.55zM100.3 90.7h0.55v0.55h-0.55zM104.5 86.1h0.55v0.55h-0.55zM94.4 79.1h0.55v0.55h-0.55zM91.0 90.3h0.55v0.55h-0.55zM93.6 96.8h0.55v0.55h-0.55zM99.7 86.0h0.55v0.55h-0.55zM99.7 85.1h0.55v0.55h-0.55zM95.9 88.4h0.55v0.55h-0.55zM89.4 88.8h0.55v0.55h-0.55zM100.3 83.1h0.55v0.55h-0.55zM109.2 90.0h0.55v0.55h-0.55zM109.7 84.4h0.55v0.55h-0.55zM91.0 81.6h0.55v0.55h-0.55zM88.4 77.8h0.55v0.55h-0.55zM113.6 85.5h0.55v0.55h-0.55zM102.6 85.2h0.55v0.55h-0.55zM99.8 96.6h0.55v0.55h-0.55zM87.1 82.7h0.55v0.55h-0.55zM102.1 83.1h0.55v0.55h-0.55zM106.6 95.1h0.55v0.55h-0.55zM108.2 92.1h0.55v0.55h-0.55zM99.7 93.5h0.55v0.55h-0.55zM94.6 81.6h0.55v0.55h-0.55zM98.9 86.7h0.55v0.55h-0.55zM110.8 82.7h0.55v0.55h-0.55zM110.2 83.8h0.55v0.55h-0.55zM90.9 78.8h0.55v0.55h-0.55zM100.7 80.2h0.55v0.55h-0.55zM102.7 88.3h0.55v0.55h-0.55zM97.8 77.6h0.55v0.55h-0.55zM96.8 90.5h0.55v0.55h-0.55zM86.7 91.8h0.55v0.55h-0.55zM101.1 85.1h0.55v0.55h-0.55zM102.6 91.6h0.55v0.55h-0.55zM100.8 83.8h0.55v0.55h-0.55zM107.3 84.4h0.55v0.55h-0.55zM103.9 93.3h0.55v0.55h-0.55zM111.5 96.7h0.55v0.55h-0.55zM109.2 88.8h0.55v0.55h-0.55zM99.4 89.1h0.55v0.55h-0.55zM105.2 104.3h0.55v0.55h-0.55zM106.3 83.5h0.55v0.55h-0.55zM113.2 79.4h0.55v0.55h-0.55zM109.1 81.1h0.55v0.55h-0.55zM92.3 85.3h0.55v0.55h-0.55zM98.7 80.7h0.55v0.55h-0.55zM106.0 87.4h0.55v0.55h-0.55zM111.8 82.5h0.55v0.55h-0.55zM86.5 91.8h0.55v0.55h-0.55zM99.2 93.3h0.55v0.55h-0.55zM82.2 81.2h0.55v0.55h-0.55zM101.7 98.7h0.55v0.55h-0.55zM91.1 77.7h0.55v0.55h-0.55zM97.4 95.7h0.55v0.55h-0.55zM113.7 80.6h0.55v0.55h-0.55zM96.1 78.0h0.55v0.55h-0.55zM94.2 82.8h0.55v0.55h-0.55zM104.4 94.2h0.55v0.55h-0.55zM120.1 86.1h0.55v0.55h-0.55zM107.6 89.2h0.55v0.55h-0.55zM102.0 98.5h0.55v0.55h-0.55zM106.6 96.5h0.55v0.55h-0.55zM103.4 92.7h0.55v0.55h-0.55zM105.1 87.5h0.55v0.55h-0.55zM95.4 85.8h0.55v0.55h-0.55zM101.1 86.0h0.55v0.55h-0.55zM98.3 84.2h0.55v0.55h-0.55zM107.9 86.7h0.55v0.55h-0.55zM100.1 86.8h0.55v0.55h-0.55zM111.5 85.1h0.55v0.55h-0.55zM112.3 83.3h0.55v0.55h-0.55zM113.3 91.4h0.55v0.55h-0.55zM97.1 90.5h0.55v0.55h-0.55zM110.1 82.8h0.55v0.55h-0.55zM99.2 89.7h0.55v0.55h-0.55zM99.3 86.4h0.55v0.55h-0.55zM101.2 89.7h0.55v0.55h-0.55zM107.2 96.1h0.55v0.55h-0.55zM98.4 104.0h0.55v0.55h-0.55zM98.4 97.7h0.55v0.55h-0.55zM100.0 80.1h0.55v0.55h-0.55zM97.5 86.2h0.55v0.55h-0.55zM109.6 77.0h0.55v0.55h-0.55zM95.9 87.3h0.55v0.55h-0.55zM106.3 90.2h0.55v0.55h-0.55zM107.9 87.2h0.55v0.55h-0.55zM99.1 94.6h0.55v0.55h-0.55zM114.8 90.1h0.55v0.55h-0.55zM102.3 83.4h0.55v0.55h-0.55zM117.9 90.2h0.55v0.55h-0.55zM106.0 79.3h0.55v0.55h-0.55zM105.9 101.2h0.55v0.55h-0.55zM99.7 86.9h0.55v0.55h-0.55zM113.3 87.0h0.55v0.55h-0.55zM107.8 98.6h0.55v0.55h-0.55zM91.7 83.5h0.55v0.55h-0.55zM106.5 88.7h0.55v0.55h-0.55zM101.3 87.1h0.55v0.55h-0.55zM102.1 90.0h0.55v0.55h-0.55zM97.2 86.5h0.55v0.55h-0.55zM102.9 82.1h0.55v0.55h-0.55zM104.6 76.1h0.55v0.55h-0.55zM106.1 87.4h0.55v0.55h-0.55zM91.6 95.4h0.55v0.55h-0.55zM91.7 99.3h0.55v0.55h-0.55zM95.2 94.6h0.55v0.55h-0.55zM100.5 96.8h0.55v0.55h-0.55zM99.3 93.6h0.55v0.55h-0.55zM98.5 77.8h0.55v0.55h-0.55zM104.1 90.6h0.55v0.55h-0.55zM104.2 97.1h0.55v0.55h-0.55zM95.2 80.2h0.55v0.55h-0.55zM103.1 84.2h0.55v0.55h-0.55zM100.2 88.0h0.55v0.55h-0.55zM94.5 94.0h0.55v0.55h-0.55zM100.1 97.8h0.55v0.55h-0.55zM103.0 93.8h0.55v0.55h-0.55zM98.7 84.4h0.55v0.55h-0.55zM96.8 83.2h0.55v0.55h-0.55zM104.6 88.8h0.55v0.55h-0.55zM92.4 79.6h0.55v0.55h-0.55zM94.2 78.1h0.55v0.55h-0.55zM94.0 79.8h0.55v0.55h-0.55zM106.7 81.7h0.55v0.55h-0.55zM96.3 87.4h0.55v0.55h-0.55zM101.3 90.3h0.55v0.55h-0.55zM107.1 91.5h0.55v0.55h-0.55zM98.3 94.8h0.55v0.55h-0.55zM104.0 84.2h0.55v0.55h-0.55zM112.9 81.6h0.55v0.55h-0.55zM104.8 94.9h0.55v0.55h-0.55zM101.9 89.9h0.55v0.55h-0.55zM102.0 91.7h0.55v0.55h-0.55zM102.8 88.1h0.55v0.55h-0.55zM106.6 77.7h0.55v0.55h-0.55zM103.0 86.4h0.55v0.55h-0.55zM116.6 89.6h0.55v0.55h-0.55zM95.8 91.6h0.55v0.55h-0.55zM98.0 81.6h0.55v0.55h-0.55zM98.8 90.8h0.55v0.55h-0.55zM110.5 93.7h0.55v0.55h-0.55zM102.9 87.1h0.55v0.55h-0.55zM102.6 94.6h0.55v0.55h-0.55zM100.0 94.3h0.55v0.55h-0.55zM94.7 88.0h0.55v0.55h-0.55zM107.2 91.8h0.55v0.55h-0.55zM102.6 85.2h0.55v0.55h-0.55zM86.8 85.6h0.55v0.55h-0.55zM94.3 85.8h0.55v0.55h-0.55zM113.6 83.8h0.55v0.55h-0.55zM107.8 87.9h0.55v0.55h-0.55zM92.3 88.6h0.55v0.55h-0.55zM107.0 81.6h0.55v0.55h-0.55zM91.9 85.9h0.55v0.55h-0.55zM106.8 84.7h0.55v0.55h-0.55zM104.4 90.5h0.55v0.55h-0.55zM101.1 90.5h0.55v0.55h-0.55zM111.1 87.0h0.55v0.55h-0.55zM103.6 82.2h0.55v0.55h-0.55zM95.3 87.5h0.55v0.55h-0.55zM107.5 84.4h0.55v0.55h-0.55zM90.1 93.1h0.55v0.55h-0.55zM119.8 74.0h0.55v0.55h-0.55zM92.7 88.7h0.55v0.55h-0.55zM104.9 82.9h0.55v0.55h-0.55zM103.7 94.0h0.55v0.55h-0.55zM98.9 92.0h0.55v0.55h-0.55zM102.0 83.0h0.55v0.55h-0.55zM96.2 84.7h0.55v0.55h-0.55zM111.5 94.3h0.55v0.55h-0.55zM102.9 79.5h0.55v0.55h-0.55zM97.2 85.8h0.55v0.55h-0.55zM85.9 87.9h0.55v0.55h-0.55zM103.3 80.8h0.55v0.55h-0.55zM97.7 85.5h0.55v0.55h-0.55zM115.6 91.6h0.55v0.55h-0.55zM107.1 88.5h0.55v0.55h-0.55zM91.0 93.0h0.55v0.55h-0.55zM95.7 77.6h0.55v0.55h-0.55zM106.8 86.1h0.55v0.55h-0.55zM101.0 90.8h0.55v0.55h-0.55zM99.2 90.2h0.55v0.55h-0.55zM111.2 86.3h0.55v0.55h-0.55zM98.3 88.1h0.55v0.55h-0.55zM106.1 85.8h0.55v0.55h-0.55zM101.7 84.3h0.55v0.55h-0.55zM100.4 91.0h0.55v0.55h-0.55zM94.6 87.0h0.55v0.55h-0.55zM89.6 84.2h0.55v0.55h-0.55zM101.6 90.9h0.55v0.55h-0.55zM93.0 87.5h0.55v0.55h-0.55zM93.8 89.7h0.55v0.55h-0.55zM103.1 90.4h0.55v0.55h-0.55zM99.4 80.3h0.55v0.55h-0.55zM96.6 80.7h0.55v0.55h-0.55zM95.7 87.7h0.55v0.55h-0.55zM109.5 84.5h0.55v0.55h-0.55zM95.0 89.1h0.55v0.55h-0.55zM84.9 98.8h0.55v0.55h-0.55zM89.0 93.5h0.55v0.55h-0.55zM108.7 93.2h0.55v0.55h-0.55zM100.2 92.0h0.55v0.55h-0.55zM98.3 93.2h0.55v0.55h-0.55zM95.9 83.6h0.55v0.55h-0.55zM104.0 85.6h0.55v0.55h-0.55zM106.3 83.4h0.55v0.55h-0.55zM103.1 82.7h0.55v0.55h-0.55zM100.2 99.7h0.55v0.55h-0.55zM92.6 81.3h0.55v0.55h-0.55zM88.5 86.8h0.55v0.55h-0.55zM113.7 85.6h0.55v0.55h-0.55zM108.3 87.0h0.55v0.55h-0.55zM96.1 98.9h0.55v0.55h-0.55zM109.4 78.0h0.55v0.55h-0.55zM93.4 90.2h0.55v0.55h-0.55zM106.1 86.8h0.55v0.55h-0.55zM103.5 90.9h0.55v0.55h-0.55zM98.3 93.4h0.55v0.55h-0.55zM94.4 92.1h0.55v0.55h-0.55zM108.1 89.1h0.55v0.55h-0.55zM98.3 87.9h0.55v0.55h-0.55zM83.8 89.4h0.55v0.55h-0.55zM90.0 77.1h0.55v0.55h-0.55zM107.0 83.1h0.55v0.55h-0.55zM103.8 88.3h0.55v0.55h-0.55zM87.3 83.1h0.55v0.55h-0.55zM98.9 90.5h0.55v0.55h-0.55zM101.6 81.2h0.55v0.55h-0.55zM96.9 88.6h0.55v0.55h-0.55zM91.1 85.6h0.55v0.55h-0.55zM96.8 76.5h0.55v0.55h-0.55zM114.4 92.8h0.55v0.55h-0.55zM97.4 93.1h0.55v0.55h-0.55zM92.9 96.3h0.55v0.55h-0.55zM98.1 88.8h0.55v0.55h-0.55zM96.5 88.5h0.55v0.55h-0.55zM103.6 88.2h0.55v0.55h-0.55zM94.6 92.1h0.55v0.55h-0.55zM105.3 88.0h0.55v0.55h-0.55zM109.2 84.0h0.55v0.55h-0.55zM110.9 87.1h0.55v0.55h-0.55zM112.8 85.6h0.55v0.55h-0.55zM99.1 89.1h0.55v0.55h-0.55zM109.5 95.8h0.55v0.55h-0.55zM97.5 84.1h0.55v0.55h-0.55zM106.9 94.7h0.55v0.55h-0.55zM106.5 86.2h0.55v0.55h-0.55zM110.9 87.9h0.55v0.55h-0.55zM102.3 91.4h0.55v0.55h-0.55zM96.6 75.7h0.55v0.55h-0.55zM102.7 91.9h0.55v0.55h-0.55zM104.4 90.9h0.55v0.55h-0.55zM102.3 93.7h0.55v0.55h-0.55zM101.9 96.1h0.55v0.55h-0.55zM101.4 92.3h0.55v0.55h-0.55zM96.7 89.6h0.55v0.55h-0.55zM104.3 88.8h0.55v0.55h-0.55zM113.0 88.3h0.55v0.55h-0.55zM109.7 89.9h0.55v0.55h-0.55zM109.5 83.1h0.55v0.55h-0.55zM98.2 93.2h0.55v0.55h-0.55zM94.7 90.1h0.55v0.55h-0.55zM105.4 89.1h0.55v0.55h-0.55zM104.4 90.9h0.55v0.55h-0.55zM99.2 90.2h0.55v0.55h-0.55zM97.0 85.6h0.55v0.55h-0.55zM88.7 87.4h0.55v0.55h-0.55zM87.9 88.2h0.55v0.55h-0.55zM102.6 82.1h0.55v0.55h-0.55zM101.6 89.6h0.55v0.55h-0.55zM98.3 83.1h0.55v0.55h-0.55zM100.2 90.2h0.55v0.55h-0.55zM108.2 98.5h0.55v0.55h-0.55zM85.7 89.9h0.55v0.55h-0.55zM104.4 84.6h0.55v0.55h-0.55zM103.5 99.3h0.55v0.55h-0.55zM101.9 95.4h0.55v0.55h-0.55zM109.3 85.6h0.55v0.55h-0.55zM83.1 94.3h0.55v0.55h-0.55zM112.9 78.5h0.55v0.55h-0.55zM99.5 84.2h0.55v0.55h-0.55zM102.6 88.3h0.55v0.55h-0.55zM109.9 84.8h0.55v0.55h-0.55zM115.9 78.7h0.55v0.55h-0.55zM102.7 102.5h0.55v0.55h-0.55zM100.3 91.4h0.55v0.55h-0.55zM97.4 105.9h0.55v0.55h-0.55zM107.9 86.1h0.55v0.55h-0.55zM86.2 89.2h0.55v0.55h-0.55zM106.7 76.9h0.55v0.55h-0.55zM97.2 91.0h0.55v0.55h-0.55zM82.4 87.0h0.55v0.55h-0.55zM88.7 80.7h0.55v0.55h-0.55zM104.2 94.2h0.55v0.55h-0.55zM110.0 84.4h0.55v0.55h-0.55zM104.9 78.4h0.55v0.55h-0.55zM89.6 91.0h0.55v0.55h-0.55zM97.9 82.5h0.55v0.55h-0.55zM86.5 86.7h0.55v0.55h-0.55zM118.3 77.1h0.55v0.55h-0.55zM92.9 94.1h0.55v0.55h-0.55zM86.2 84.6h0.55v0.55h-0.55zM101.5 94.2h0.55v0.55h-0.55zM100.4 97.9h0.55v0.55h-0.55zM100.8 87.4h0.55v0.55h-0.55zM104.4 89.9h0.55v0.55h-0.55zM89.4 82.8h0.55v0.55h-0.55zM99.2 89.9h0.55v0.55h-0.55zM91.5 84.1h0.55v0.55h-0.55zM95.2 89.9h0.55v0.55h-0.55zM97.7 91.3h0.55v0.55h-0.55zM104.0 83.0h0.55v0.55h-0.55zM98.7 81.2h0.55v0.55h-0.55zM101.8 92.4h0.55v0.55h-0.55zM93.4 78.4h0.55v0.55h-0.55zM105.0 86.4h0.55v0.55h-0.55zM100.8 90.5h0.55v0.55h-0.55zM103.9 93.0h0.55v0.55h-0.55zM97.5 76.0h0.55v0.55h-0.55zM97.2 86.3h0.55v0.55h-0.55zM97.8 90.1h0.55v0.55h-0.55zM99.1 95.1h0.55v0.55h-0.55zM96.1 88.0h0.55v0.55h-0.55zM98.2 99.5h0.55v0.55h-0.55zM93.6 82.5h0.55v0.55h-0.55zM98.0 92.2h0.55v0.55h-0.55zM101.1 87.0h0.55v0.55h-0.55zM89.6 76.7h0.55v0.55h-0.55zM99.3 86.7h0.55v0.55h-0.55zM114.7 90.0h0.55v0.55h-0.55zM104.3 93.3h0.55v0.55h-0.55zM94.0 81.3h0.55v0.55h-0.55zM98.1 96.1h0.55v0.55h-0.55zM108.7 84.8h0.55v0.55h-0.55zM91.3 93.1h0.55v0.55h-0.55zM109.5 82.0h0.55v0.55h-0.55zM113.5 83.8h0.55v0.55h-0.55zM106.8 86.9h0.55v0.55h-0.55zM98.4 84.7h0.55v0.55h-0.55zM106.4 91.4h0.55v0.55h-0.55zM107.3 86.5h0.55v0.55h-0.55zM94.4 99.7h0.55v0.55h-0.55zM114.4 86.9h0.55v0.55h-0.55zM92.1 96.2h0.55v0.55h-0.55zM102.0 88.3h0.55v0.55h-0.55zM107.7 89.9h0.55v0.55h-0.55zM101.9 98.9h0.55v0.55h-0.55zM86.2 91.5h0.55v0.55h-0.55zM93.3 88.4h0.55v0.55h-0.55zM99.7 89.5h0.55v0.55h-0.55zM82.1 91.8h0.55v0.55h-0.55zM119.2 85.7h0.55v0.55h-0.55zM108.1 91.4h0.55v0.55h-0.55zM103.3 85.3h0.55v0.55h-0.55zM106.0 89.5h0.55v0.55h-0.55zM112.3 92.6h0.55v0.55h-0.55zM95.4 72.0h0.55v0.55h-0.55zM112.8 90.7h0.55v0.55h-0.55zM102.4 84.7h0.55v0.55h-0.55zM120.7 95.3h0.55v0.55h-0.55zM101.8 86.0h0.55v0.55h-0.55zM105.5 95.4h0.55v0.55h-0.55zM105.1 93.2h0.55v0.55h-0.55zM103.1 90.0h0.55v0.55h-0.55zM91.0 88.7h0.55v0.55h-0.55zM101.4 87.6h0.55v0.55h-0.55zM99.1 89.7h0.55v0.55h-0.55zM96.5 86.9h0.55v0.55h-0.55zM90.7 100.7h0.55v0.55h-0.55zM94.0 81.4h0.55v0.55h-0.55zM96.8 85.7h0.55v0.55h-0.55zM92.5 74.6h0.55v0.55h-0.55zM113.9 93.6h0.55v0.55h-0.55zM98.0 91.1h0.55v0.55h-0.55zM92.2 79.1h0.55v0.55h-0.55zM103.6 91.2h0.55v0.55h-0.55zM95.6 88.0h0.55v0.55h-0.55zM76.7 87.3h0.55v0.55h-0.55zM109.3 88.9h0.55v0.55h-0.55zM102.4 91.2h0.55v0.55h-0.55zM84.5 80.9h0.55v0.55h-0.55zM91.0 89.3h0.55v0.55h-0.55zM96.0 77.7h0.55v0.55h-0.55zM108.0 87.0h0.55v0.55h-0.55zM108.9 99.0h0.55v0.55h-0.55zM87.9 81.0h0.55v0.55h-0.55zM109.5 95.7h0.55v0.55h-0.55zM104.1 90.0h0.55v0.55h-0.55zM106.5 91.6h0.55v0.55h-0.55zM90.9 92.1h0.55v0.55h-0.55zM108.8 85.8h0.55v0.55h-0.55zM93.8 85.3h0.55v0.55h-0.55zM96.3 90.9h0.55v0.55h-0.55zM107.1 88.1h0.55v0.55h-0.55zM98.6 78.3h0.55v0.55h-0.55zM97.6 82.5h0.55v0.55h-0.55zM96.6 89.9h0.55v0.55h-0.55zM102.3 107.2h0.55v0.55h-0.55zM94.1 85.1h0.55v0.55h-0.55zM91.9 86.6h0.55v0.55h-0.55zM98.7 93.5h0.55v0.55h-0.55zM85.5 93.0h0.55v0.55h-0.55zM106.1 85.1h0.55v0.55h-0.55zM95.6 89.1h0.55v0.55h-0.55zM105.1 87.1h0.55v0.55h-0.55zM99.8 88.1h0.55v0.55h-0.55zM92.4 89.5h0.55v0.55h-0.55zM105.6 88.3h0.55v0.55h-0.55zM91.9 88.0h0.55v0.55h-0.55zM100.1 89.7h0.55v0.55h-0.55zM97.7 92.5h0.55v0.55h-0.55zM109.6 92.5h0.55v0.55h-0.55zM102.8 94.7h0.55v0.55h-0.55zM100.7 87.1h0.55v0.55h-0.55zM89.6 88.1h0.55v0.55h-0.55zM110.6 82.8h0.55v0.55h-0.55zM107.2 81.1h0.55v0.55h-0.55zM103.4 97.9h0.55v0.55h-0.55zM101.3 81.7h0.55v0.55h-0.55zM103.3 87.2h0.55v0.55h-0.55zM107.3 85.2h0.55v0.55h-0.55zM87.2 85.4h0.55v0.55h-0.55zM105.7 93.6h0.55v0.55h-0.55zM103.2 88.1h0.55v0.55h-0.55zM106.4 86.9h0.55v0.55h-0.55zM97.4 89.2h0.55v0.55h-0.55zM109.7 85.3h0.55v0.55h-0.55zM104.9 84.5h0.55v0.55h-0.55zM95.1 88.9h0.55v0.55h-0.55zM90.4 83.4h0.55v0.55h-0.55zM91.5 84.8h0.55v0.55h-0.55zM93.7 100.6h0.55v0.55h-0.55zM105.8 88.4h0.55v0.55h-0.55zM90.3 75.2h0.55v0.55h-0.55zM104.5 84.6h0.55v0.55h-0.55zM109.3 85.9h0.55v0.55h-0.55zM90.6 84.6h0.55v0.55h-0.55zM88.8 80.4h0.55v0.55h-0.55zM106.6 85.2h0.55v0.55h-0.55zM106.4 85.0h0.55v0.55h-0.55zM99.1 85.1h0.55v0.55h-0.55zM96.6 84.5h0.55v0.55h-0.55zM112.8 87.7h0.55v0.55h-0.55zM85.5 97.1h0.55v0.55h-0.55zM110.9 94.1h0.55v0.55h-0.55zM100.1 87.2h0.55v0.55h-0.55zM97.1 88.7h0.55v0.55h-0.55zM104.7 88.0h0.55v0.55h-0.55zM94.4 82.8h0.55v0.55h-0.55zM114.2 97.1h0.55v0.55h-0.55zM91.1 84.6h0.55v0.55h-0.55zM100.6 91.2h0.55v0.55h-0.55zM100.0 89.3h0.55v0.55h-0.55zM103.8 94.1h0.55v0.55h-0.55zM90.6 93.9h0.55v0.55h-0.55zM104.4 90.9h0.55v0.55h-0.55zM88.9 86.8h0.55v0.55h-0.55zM98.9 91.4h0.55v0.55h-0.55zM106.4 91.7h0.55v0.55h-0.55zM90.6 94.8h0.55v0.55h-0.55zM101.5 93.0h0.55v0.55h-0.55zM100.8 84.3h0.55v0.55h-0.55zM121.8 91.5h0.55v0.55h-0.55zM107.0 85.5h0.55v0.55h-0.55zM99.2 94.0h0.55v0.55h-0.55zM104.5 97.4h0.55v0.55h-0.55zM110.5 82.3h0.55v0.55h-0.55zM88.6 94.2h0.55v0.55h-0.55zM105.7 86.6h0.55v0.55h-0.55zM98.6 85.0h0.55v0.55h-0.55zM115.2 87.1h0.55v0.55h-0.55zM89.9 92.9h0.55v0.55h-0.55zM100.2 89.9h0.55v0.55h-0.55zM97.8 87.8h0.55v0.55h-0.55zM85.9 90.9h0.55v0.55h-0.55zM95.4 86.0h0.55v0.55h-0.55zM103.4 94.8h0.55v0.55h-0.55zM83.7 87.3h0.55v0.55h-0.55zM105.2 93.4h0.55v0.55h-0.55zM93.6 89.7h0.55v0.55h-0.55zM104.1 93.0h0.55v0.55h-0.55zM95.9 87.0h0.55v0.55h-0.55zM96.8 94.1h0.55v0.55h-0.55zM109.5 85.7h0.55v0.55h-0.55zM99.8 89.2h0.55v0.55h-0.55zM93.7 87.4h0.55v0.55h-0.55zM107.8 92.1h0.55v0.55h-0.55zM95.5 84.6h0.55v0.55h-0.55zM99.9 80.3h0.55v0.55h-0.55zM103.3 88.7h0.55v0.55h-0.55zM90.2 86.8h0.55v0.55h-0.55zM95.6 86.6h0.55v0.55h-0.55zM93.9 95.3h0.55v0.55h-0.55zM93.2 92.1h0.55v0.55h-0.55zM102.5 95.7h0.55v0.55h-0.55zM100.4 88.1h0.55v0.55h-0.55zM101.4 78.1h0.55v0.55h-0.55zM120.0 86.9h0.55v0.55h-0.55zM98.3 82.1h0.55v0.55h-0.55zM99.8 96.5h0.55v0.55h-0.55zM94.8 90.4h0.55v0.55h-0.55zM109.1 93.0h0.55v0.55h-0.55zM97.6 78.9h0.55v0.55h-0.55zM104.1 91.0h0.55v0.55h-0.55zM98.3 85.8h0.55v0.55h-0.55zM114.8 79.7h0.55v0.55h-0.55zM96.8 84.9h0.55v0.55h-0.55zM88.4 84.4h0.55v0.55h-0.55zM94.5 94.6h0.55v0.55h-0.55zM86.9 80.8h0.55v0.55h-0.55zM102.9 79.9h0.55v0.55h-0.55zM84.9 84.8h0.55v0.55h-0.55zM91.2 82.9h0.55v0.55h-0.55zM99.6 90.4h0.55v0.55h-0.55zM95.7 86.6h0.55v0.55h-0.55zM106.6 87.3h0.55v0.55h-0.55zM106.7 85.0h0.55v0.55h-0.55zM104.8 94.7h0.55v0.55h-0.55zM89.8 103.7h0.55v0.55h-0.55zM98.3 86.3h0.55v0.55h-0.55zM99.6 90.5h0.55v0.55h-0.55zM91.2 88.3h0.55v0.55h-0.55zM96.2 95.5h0.55v0.55h-0.55zM87.1 91.5h0.55v0.55h-0.55zM98.3 84.2h0.55v0.55h-0.55zM101.9 86.8h0.55v0.55h-0.55zM101.2 89.3h0.55v0.55h-0.55zM110.5 86.0h0.55v0.55h-0.55zM114.2 74.0h0.55v0.55h-0.55zM115.4 94.4h0.55v0.55h-0.55zM113.3 89.1h0.55v0.55h-0.55zM103.1 82.8h0.55v0.55h-0.55zM111.5 82.0h0.55v0.55h-0.55zM94.5 88.1h0.55v0.55h-0.55zM102.7 89.8h0.55v0.55h-0.55zM91.6 86.3h0.55v0.55h-0.55zM104.8 94.2h0.55v0.55h-0.55zM107.0 90.2h0.55v0.55h-0.55zM98.8 85.2h0.55v0.55h-0.55zM96.8 87.6h0.55v0.55h-0.55zM105.1 85.4h0.55v0.55h-0.55zM117.3 82.9h0.55v0.55h-0.55zM107.4 87.0h0.55v0.55h-0.55zM99.7 86.1h0.55v0.55h-0.55zM113.1 86.5h0.55v0.55h-0.55zM105.2 88.7h0.55v0.55h-0.55zM106.8 91.1h0.55v0.55h-0.55zM114.0 84.3h0.55v0.55h-0.55zM94.3 96.9h0.55v0.55h-0.55zM111.0 88.5h0.55v0.55h-0.55zM98.6 89.4h0.55v0.55h-0.55zM111.2 84.1h0.55v0.55h-0.55zM112.4 87.8h0.55v0.55h-0.55zM98.0 86.0h0.55v0.55h-0.55zM84.1 89.7h0.55v0.55h-0.55zM90.4 85.2h0.55v0.55h-0.55zM93.7 89.3h0.55v0.55h-0.55zM106.6 88.3h0.55v0.55h-0.55zM102.4 90.2h0.55v0.55h-0.55zM113.7 91.1h0.55v0.55h-0.55zM113.4 87.8h0.55v0.55h-0.55zM103.7 84.7h0.55v0.55h-0.55zM105.6 83.6h0.55v0.55h-0.55zM104.6 84.8h0.55v0.55h-0.55zM98.0 94.4h0.55v0.55h-0.55zM102.0 92.2h0.55v0.55h-0.55zM98.9 78.4h0.55v0.55h-0.55zM112.6 87.1h0.55v0.55h-0.55zM95.7 93.0h0.55v0.55h-0.55zM91.8 84.2h0.55v0.55h-0.55zM110.0 84.5h0.55v0.55h-0.55zM109.9 86.5h0.55v0.55h-0.55z" fill="#8a8a8a" opacity="0.35"/>
<filter id="bl36" x="-50%" y="-50%" width="200%" height="200%"><feGaussianBlur stdDeviation="1.0"/></filter>
<ellipse cx="119" cy="54.8" rx="5.5" ry="2.3" fill="#6a6a6a" opacity="0.85" filter="url(#bl36)" transform="rotate(-28 119 54.8)"/>
<filter id="bl38" x="-50%" y="-50%" width="200%" height="200%"><feGaussianBlur stdDeviation="2.5"/></filter>
<ellipse cx="95" cy="89" rx="15" ry="7.5" fill="#a5a5a5" opacity="0.55" filter="url(#bl38)"/>
<filter id="bl40" x="-50%" y="-50%" width="200%" height="200%"><feGaussianBlur stdDeviation="2"/></filter>
<ellipse cx="99" cy="91" rx="10" ry="5" fill="#9a9a9a" opacity="0.5" filter="url(#bl40)"/>
<filter id="bl42" x="-50%" y="-50%" width="200%" height="200%"><feGaussianBlur stdDeviation="1.6"/></filter>
<ellipse cx="90.5" cy="89" rx="9.8" ry="6.2" fill="#a0389e" opacity="0.92" filter="url(#bl42)"/>
<filter id="bl44" x="-50%" y="-50%" width="200%" height="200%"><feGaussianBlur stdDeviation="1.0"/></filter>
<ellipse cx="93.5" cy="88.5" rx="5.5" ry="2.9" fill="#2f8fd0" opacity="0.9" filter="url(#bl44)"/>
<filter id="bl46" x="-50%" y="-50%" width="200%" height="200%"><feGaussianBlur stdDeviation="0.8"/></filter>
<ellipse cx="87" cy="88.7" rx="4" ry="2.6" fill="#3aa048" opacity="0.95" filter="url(#bl46)"/>
</g>
<rect x="83.4" y="44.4" width="56.9" height="57.6" fill="none" stroke="#8a8a8a" stroke-width="0.6" />
<line x1="101.5" y1="44.4" x2="101.5" y2="102" stroke="#8a8a8a" stroke-width="0.6" />
<line x1="83.4" y1="73.5" x2="140.3" y2="73.5" stroke="#8a8a8a" stroke-width="0.6" />
<text x="102.8" y="50.6" font-size="5.88" textLength="35.5" lengthAdjust="spacingAndGlyphs">CD11b<tspan font-size="4.4" dy="-2.3">+</tspan><tspan dy="2.3">CD33</tspan><tspan font-size="4.4" dy="-2.3">+</tspan></text>
<text x="81" y="72" font-size="6.83" text-anchor="middle" textLength="16" lengthAdjust="spacingAndGlyphs" transform="rotate(-90 81 72)">CD33</text>
<text x="110.4" y="111.6" font-size="6.83" text-anchor="middle" textLength="19.5" lengthAdjust="spacingAndGlyphs">CD11b</text>
<polygon points="155.7,102.3 155.7,102.3 156.1,101.42 156.5,100.25 156.9,101.12 157.3,99.21 157.7,98.93 158.1,98.04 158.5,98.65 158.9,99.12 159.3,98.24 159.7,97.26 160.1,95.57 160.5,93.03 160.9,94.59 161.3,92.71 161.7,87.4 162.1,83.97 162.5,83.02 162.9,81.1 163.3,80.45 163.7,78.45 164.1,71.26 164.5,70.22 164.9,68.78 165.3,70.65 165.7,63.46 166.1,63.17 166.5,61.27 166.9,61.43 167.3,62.21 167.7,55.43 168.1,57.49 168.5,57.74 168.9,62.94 169.3,61.76 169.7,63.49 170.1,63.68 170.5,66.89 170.9,71.93 171.3,67.68 171.7,75.44 172.1,78.83 172.5,75.73 172.9,79.47 173.3,85.13 173.7,86.8 174.1,88.78 174.5,89.97 174.9,92.65 175.3,93.74 175.7,95.74 176.1,94.75 176.5,95.14 176.9,94.26 177.3,97.1 177.7,96.2 178.1,97.92 178.5,95.65 178.9,97.62 179.3,97.28 179.7,95.72 180.1,95.39 180.5,95.69 180.9,96.86 181.3,97.48 181.7,97.2 182.1,96.59 182.5,94.2 182.9,96.27 183.3,93.83 183.7,93.92 184.1,94.49 184.5,92.6 184.9,90.06 185.3,87.56 185.7,87.9 186.1,87.84 186.5,84.44 186.9,85.6 187.3,84.45 187.7,77.3 188.1,76.97 188.5,75.69 188.9,76.75 189.3,68.63 189.7,68.36 190.1,67.94 190.5,63.71 190.9,61.28 191.3,69.82 191.7,69.51 192.1,58.11 192.5,66.19 192.9,60.3 193.3,55.33 193.7,62.47 194.1,55.94 194.5,65.99 194.9,54.55 195.3,58.93 195.7,63.5 196.1,63.79 196.5,58.99 196.9,62.46 197.3,63.39 197.7,63.57 198.1,60.25 198.5,66.76 198.9,60.98 199.3,60.05 199.7,62.1 200.1,62.24 200.5,56.87 200.9,57.13 201.3,68.58 201.7,67.33 202.1,60.46 202.5,61.32 202.9,62.88 203.3,71.32 203.7,66.8 204.1,74.43 204.5,71.13 204.9,73.29 205.3,76.21 205.7,76 206.1,77.66 206.5,79.27 206.9,79.03 207.3,82.48 207.7,78.84 208.1,79.11 208.5,82 208.9,82.32 209.3,85.11 209.7,87.03 210.1,87.4 210.5,87.22 210.9,87.53 211.3,86.91 211.7,85.38 212.1,90.09 212.5,88.1 212.9,89.05 213.3,92.34 213.7,89.13 214.1,93.33 214.5,95.45 214.5,102.3" fill="#8a8580" opacity="0.45"/>
<polygon points="155.7,102.3 155.7,102.3 156.1,101.09 156.5,101.17 156.9,101.13 157.3,100.5 157.7,100.15 158.1,98.82 158.5,99.86 158.9,99.22 159.3,98.71 159.7,97.18 160.1,96.74 160.5,96.01 160.9,93.83 161.3,90.59 161.7,88.73 162.1,87.69 162.5,85.84 162.9,80.27 163.3,81.88 163.7,78.05 164.1,73.23 164.5,72.82 164.9,69.59 165.3,70.88 165.7,61.07 166.1,67.96 166.5,61.1 166.9,66.21 167.3,63.35 167.4,50 167.6,47.7 167.7,63.75 167.9,52 168.1,60.99 168.5,61.64 168.9,63.84 169.3,60.63 169.7,65.65 170.1,67.78 170.5,67.58 170.9,72.6 171.3,69.44 171.7,72.28 172.1,75.95 172.5,81.47 172.9,83.55 173.3,85.82 173.7,87.86 174.1,89.15 174.5,91.57 174.9,92.79 175.3,93.45 175.7,93.96 176.1,96.94 176.5,96 176.9,97.26 177.3,96.93 177.7,97.4 178.1,97.1 178.5,96.35 178.9,96.85 179.3,97.14 179.7,98.29 180.1,96.86 180.5,98.14 180.9,97.11 181.3,97.61 181.7,97.14 182.1,96.26 182.5,96.73 182.9,96.77 183.3,94.13 183.7,96.01 184.1,93.22 184.5,92.81 184.9,92.88 185.3,91.78 185.7,88.39 186.1,88.65 186.5,84.28 186.9,82.23 187.3,84.49 187.7,78.59 188.1,80.5 188.5,78.81 188.9,78.49 189.3,74.48 189.7,74.87 190.1,74.26 190.5,72.69 190.9,71.28 191.3,70.91 191.7,64.99 192.1,67.66 192.5,67.35 192.9,67.42 193,60 193.3,67.36 193.7,63.28 194.1,56.5 194.1,66.95 194.5,57.86 194.9,62.51 195.3,61.49 195.7,63.16 196.1,66.39 196.5,64.05 196.9,57.88 197,58 197.3,65.11 197.7,58.65 198.1,63.33 198.5,66.01 198.9,66.93 199.1,59.7 199.3,67.08 199.7,61.04 200.1,67.19 200.5,68.06 200.9,62.89 201.3,68.09 201.7,62.38 202.1,70.26 202.5,69.98 202.9,64.72 203.3,68.35 203.7,73.39 204.1,74.07 204.5,70.75 204.9,71.54 205.3,76.92 205.7,75.93 206.1,80.04 206.5,80.72 206.9,80.46 207.3,82.01 207.7,81.58 208.1,81.27 208.5,83.33 208.9,84.6 209.3,82.36 209.7,87.27 210.1,84.54 210.5,85.22 210.9,86.15 211.3,87.51 211.7,87.29 212.1,90.88 212.5,90.31 212.9,90.5 213.3,91.82 213.7,93.46 214.1,92.86 214.5,93.41 214.5,102.3" fill="#33261c" opacity="0.78"/>
<polygon points="155.7,102.3 155.7,102.3 156.1,102.3 156.5,102.3 156.9,102.3 157.3,102.3 157.7,102.14 158.1,101.56 158.5,102.3 158.9,101.42 159.3,101.12 159.7,100.53 160.1,100.28 160.5,100.3 160.9,100.12 161.3,98.36 161.7,98.24 162.1,97 162.5,96.37 162.9,94.12 163.3,92.19 163.7,89.66 164.1,87.24 164.5,85.56 164.9,82.84 165.3,80.71 165.7,77.91 166.1,76.28 166.5,73.72 166.9,72.3 167.3,70.16 167.7,68.57 168.1,69.72 168.5,70.17 168.9,71.57 169.3,73.76 169.7,75.96 170.1,78.31 170.5,79.59 170.9,82.51 171.3,84.99 171.7,87.24 172.1,88.37 172.5,90.67 172.9,92.2 173.3,93.84 173.7,95.48 174.1,96.57 174.5,97.6 174.9,98.42 175.3,98.24 175.7,97.67 176.1,98.06 176.5,98.76 176.9,99.29 177.3,99.29 177.7,98.92 178.1,98.88 178.5,98.88 178.9,99.7 179.3,98.78 179.7,98.47 180.1,99.13 180.5,99.62 180.9,98.82 181.3,99.17 181.7,98.4 182.1,98.89 182.5,99.38 182.9,98.41 183.3,98.13 183.7,98.48 184.1,98.25 184.5,98.09 184.9,96.62 185.3,96.5 185.7,96.79 186.1,94.88 186.5,94.54 186.9,92.82 187.3,91 187.7,90.68 188.1,89.02 188.5,86.69 188.9,85.96 189.3,83.8 189.7,82.72 190.1,80.32 190.5,78.81 190.9,77.87 191.3,76.19 191.7,75.62 192.1,74.18 192.5,72.74 192.9,71.29 193.3,70.74 193.7,69.89 194.1,69.86 194.5,68 194.9,68.09 195.3,67.56 195.7,67.38 196.1,68.18 196.5,67.58 196.9,67.3 197.3,68.16 197.7,67.65 198.1,68.15 198.5,67.97 198.9,68.34 199.3,69.23 199.7,70.57 200.1,71.08 200.5,70.88 200.9,72.32 201.3,72.52 201.7,73.96 202.1,73.91 202.5,75.98 202.9,76.97 203.3,77.63 203.7,79 204.1,80.45 204.5,80.9 204.9,81.51 205.3,81.83 205.7,83.34 206.1,83.58 206.5,85.28 206.9,85.8 207.3,86.49 207.7,87.17 208.1,87.71 208.5,88.44 208.9,89.93 209.3,90.19 209.7,90.62 210.1,91.55 210.5,92.05 210.9,92.66 211.3,93.46 211.7,93.69 212.1,93.83 212.5,94.47 212.9,102.3 213.3,102.3 213.7,102.3 214.1,102.3 214.5,102.3 214.5,102.3" fill="#d64a0e" />
<path d="M165.3 80.7v4.2M165.7 77.9v10.1M166.5 73.7v8.3M167.3 70.2v5.3M167.7 68.6v11.8M168.1 69.7v4.0M168.9 71.6v9.2M170.1 78.3v4.1M170.9 82.5v5.8M171.3 85.0v5.8M175.7 97.7v1.6M183.3 98.1v1.8M185.7 96.8v2.0M186.5 94.5v2.5M187.7 90.7v3.1M188.5 86.7v3.7M190.9 77.9v1.5M191.3 76.2v7.6M195.3 67.6v3.9M196.9 67.3v7.0M205.7 83.3v3.4M207.3 86.5v6.2M208.5 88.4v3.9M210.5 92.1v3.1" stroke="#6a2c0e" stroke-width="0.45" opacity="0.55" fill="none"/>
<path d="M157.6 101.2L157.9 97.7L158.2 101.2ZM158.9 100.1L159.3 97.5L159.6 100.1ZM161.0 96.4L161.4 90.8L161.7 96.4ZM173.6 93.5L174.0 86.9L174.3 93.5ZM175.7 97.5L176.1 91.3L176.4 97.5ZM176.4 97.9L176.8 92.0L177.1 97.9ZM177.1 98.2L177.5 90.7L177.8 98.2ZM178.5 98.4L178.9 94.9L179.2 98.4ZM181.3 98.2L181.7 89.9L182.0 98.2ZM182.7 97.4L183.1 92.4L183.4 97.4ZM184.8 95.4L185.2 89.0L185.5 95.4ZM185.5 93.3L185.9 84.5L186.2 93.3Z" fill="#6a6a6a" opacity="0.55"/>
<polygon points="227.3,102.3 227.3,102.3 227.7,101.39 228.1,99.29 228.5,98.52 228.9,98.1 229.3,95.32 229.7,96.27 230.1,96.44 230.5,93.89 230.9,91.59 231.3,91.17 231.7,85.88 232.1,84.81 232.5,83.07 232.9,85.64 233.3,85.75 233.7,82.84 234.1,78.12 234.5,82.33 234.9,81.52 235.3,79.34 235.7,82.24 236.1,77.51 236.5,82.36 236.9,82.13 237.3,82.73 237.7,84.45 238.1,88.05 238.5,84.31 238.9,90.64 239.3,91.5 239.7,91.82 240.1,94.71 240.5,94.5 240.9,97.19 241.3,95.4 241.7,98.89 242.1,99.22 242.5,98.71 242.9,99.31 243.3,98.17 243.7,98.96 244.1,97.83 244.5,97.91 244.9,98.75 245.3,99.1 245.7,97.18 246.1,98.25 246.5,96.15 246.9,97.52 247.3,97.97 247.7,97.58 248.1,95.9 248.5,93.35 248.9,95.52 249.3,92.74 249.7,93.66 250.1,94.42 250.5,90.96 250.9,92.42 251.3,89.93 251.7,88.26 252.1,85.25 252.5,86.99 252.9,86.57 253.3,87.41 253.7,83.85 254.1,83.55 254.5,83.39 254.9,79.87 255.3,80.07 255.7,74.69 256.1,76.38 256.5,65.94 256.9,72.01 257.3,67.5 257.7,69.72 258.1,59.8 258.5,60.43 258.9,57.79 259.3,62.02 259.7,61.8 260.1,50.52 260.5,50.88 260.9,54.87 261.3,50.97 261.7,47.66 262.1,43.47 262.5,56.97 262.9,41.47 263.3,52.47 263.7,46.35 264.1,55.18 264.5,45.17 264.9,45.75 265.3,49.92 265.7,41.35 266.1,56.07 266.5,50.36 266.9,52.66 267.3,50.46 267.7,55.11 268.1,53.14 268.5,53.97 268.9,62.56 269.3,61.87 269.7,63.26 270.1,64.39 270.5,67.39 270.9,67.53 271.3,70.75 271.7,74.4 272.1,79.81 272.5,80.63 272.9,82.59 273.3,85.24 273.7,82.9 274.1,84.57 274.5,87.38 274.9,87.68 275.3,89.34 275.7,91.16 276.1,95.39 276.1,102.3" fill="#8a8580" opacity="0.45"/>
<polygon points="227.3,102.3 227.3,102.3 227.7,101.49 228.1,99.88 228.5,99.23 228.9,99.02 229.3,97.17 229.7,96.74 230.1,96.48 230.5,94.74 230.9,92.75 231.3,92.4 231.7,89.87 232.1,89.47 232.5,85.81 232.9,84.38 233.3,82 233.7,82.7 234.1,83.03 234.5,80.52 234.9,79.92 235.3,79.6 235.5,81.7 235.7,83.7 236.1,83.75 236.5,79.55 236.9,82.35 237.3,83.88 237.7,86.96 238.1,86.37 238.5,86.99 238.9,88.54 239.3,91.94 239.7,93.75 240.1,95.07 240.5,96.28 240.9,97.2 241.3,98.22 241.7,97.86 242.1,98.33 242.5,98.66 242.9,97.96 243.3,99.36 243.7,99.62 244.1,99.29 244.5,98.39 244.9,98.9 245.3,98.94 245.7,99.01 246.1,98.44 246.5,98.78 246.9,97.75 247.3,97.53 247.7,97.92 248.1,96.35 248.5,94.72 248.9,95.59 249.3,94.48 249.7,94.8 250.1,94.5 250.5,93.82 250.9,92.95 251.3,91.88 251.7,90.77 252.1,87.12 252.5,88.53 252.9,88.61 253.3,87.52 253.7,85.94 254.1,82.91 254.5,82.43 254.9,81.67 255.3,76.9 255.7,76.98 256.1,73.9 256.5,73.72 256.9,68.55 257.3,70.16 257.7,68.85 258.1,69.28 258.5,59.61 258.9,62.29 259.3,62.75 259.7,57.64 260.1,60.34 260.5,52.62 260.9,59.99 261.3,57.43 261.7,54.66 262,55 262.1,56.4 262.5,54.91 262.9,46.83 263.3,55.73 263.7,49 263.7,50.09 263.9,48.3 264.1,52.3 264.2,50 264.5,45.28 264.9,52.29 265.3,46.1 265.7,54.17 266,54 266.1,53 266.5,58.37 266.9,58.61 267.3,57.67 267.7,54.85 268.1,61.15 268.5,58.45 268.9,62.51 269.3,60.05 269.7,68.42 270.1,68.86 270.5,67.38 270.9,69.73 271.3,72.55 271.7,75.04 272.1,76.29 272.5,80.72 272.9,82.2 273.3,85.19 273.7,83.32 274.1,87.04 274.5,89.39 274.9,91.26 275.3,90.8 275.7,92.82 276.1,95.73 276.1,102.3" fill="#33261c" opacity="0.78"/>
<polygon points="227.3,102.3 227.3,102.3 227.7,102.3 228.1,102.3 228.5,102.3 228.9,102.3 229.3,102.3 229.7,101.15 230.1,100.6 230.5,100.36 230.9,98.71 231.3,97.78 231.7,97.54 232.1,96.34 232.5,94.93 232.9,93.86 233.3,92.2 233.7,90.55 234.1,89.15 234.5,88.7 234.9,87.34 235.3,86.29 235.7,87.27 236.1,87.75 236.5,89.7 236.9,90.17 237.3,91.41 237.7,93.71 238.1,95.07 238.5,95.75 238.9,97.85 239.3,98.8 239.7,99.44 240.1,100.14 240.5,99.55 240.9,100.42 241.3,99.62 241.7,99.96 242.1,99.91 242.5,99.77 242.9,99.8 243.3,100.76 243.7,99.87 244.1,100.83 244.5,101.03 244.9,100.24 245.3,100.12 245.7,100.17 246.1,100.65 246.5,100.33 246.9,99.8 247.3,99.56 247.7,99.31 248.1,100.17 248.5,98.89 248.9,99.06 249.3,98.92 249.7,98.11 250.1,97.39 250.5,96.6 250.9,96.02 251.3,95.75 251.7,94.85 252.1,94.95 252.5,93.88 252.9,92.93 253.3,92.42 253.7,91.7 254.1,90.9 254.5,89.64 254.9,88.97 255.3,87.59 255.7,85.6 256.1,84.04 256.5,82.1 256.9,81.08 257.3,79.65 257.7,77.16 258.1,76.17 258.5,73.7 258.9,72.94 259.3,71.37 259.7,70.24 260.1,69.38 260.5,67.5 260.9,66.23 261.3,65.86 261.7,63.57 262.1,62.41 262.5,61.11 262.9,61.01 263.3,59.63 263.7,59.07 264.1,58.37 264.5,57.79 264.9,58.83 265.3,60.25 265.7,61.18 266.1,61.57 266.5,64.15 266.9,65.63 267.3,68.22 267.7,70.25 268.1,71.86 268.5,73.29 268.9,75.42 269.3,76.13 269.7,78.81 270.1,79.24 270.5,81.57 270.9,82.46 271.3,84.15 271.7,85.69 272.1,87.8 272.5,89.24 272.9,91.26 273.3,92.13 273.7,93.98 274.1,94.94 274.5,96.04 274.9,102.3 275.3,102.3 275.7,102.3 276.1,102.3 276.1,102.3" fill="#d64a0e" />
<path d="M231.7 97.5v1.5M234.9 87.3v4.9M236.5 89.7v4.9M236.9 90.2v4.1M238.9 97.8v1.8M251.7 94.8v1.9M252.5 93.9v2.1M253.3 92.4v3.9M254.5 89.6v1.8M255.3 87.6v3.8M255.7 85.6v6.9M257.7 77.2v2.5M258.1 76.2v3.4M260.1 69.4v12.3M261.7 63.6v15.5M266.1 61.6v12.0M267.7 70.3v13.9M269.3 76.1v11.4M269.7 78.8v1.8M272.9 91.3v4.4M273.7 94.0v2.9M274.1 94.9v2.1" stroke="#6a2c0e" stroke-width="0.45" opacity="0.55" fill="none"/>
<path d="M229.2 100.0L229.5 97.0L229.8 100.0ZM229.8 98.6L230.2 94.8L230.5 98.6ZM230.5 97.2L230.9 93.4L231.2 97.2ZM231.2 95.0L231.6 91.2L231.9 95.0ZM238.2 93.6L238.6 87.4L238.9 93.6ZM238.9 96.2L239.3 91.6L239.6 96.2ZM240.3 99.0L240.7 96.0L241.0 99.0ZM241.7 99.6L242.1 92.2L242.4 99.6ZM242.4 99.7L242.8 94.0L243.1 99.7ZM243.8 99.8L244.2 92.4L244.5 99.8ZM245.2 100.0L245.6 91.0L245.9 100.0ZM245.9 99.8L246.3 94.5L246.6 99.8ZM247.3 98.7L247.7 90.9L248.0 98.7Z" fill="#6a6a6a" opacity="0.55"/>
<polygon points="284.8,102.2 284.8,102.2 285.2,100.5 285.6,100.9 286,99.83 286.4,97.5 286.8,98.63 287.2,96.88 287.6,97.47 288,96.04 288.4,94.07 288.8,91.59 289.2,89.65 289.6,87.69 290,89.8 290.4,86.18 290.8,86.24 291.2,83.37 291.6,79.04 292,79.37 292.4,75.07 292.8,75.6 293.2,75.56 293.6,71.73 294,71.12 294.4,74.97 294.8,76.34 295.2,69.58 295.6,66 296,72.63 296.4,74.4 296.8,68.91 297.2,66.15 297.6,65.99 298,70.17 298.4,69.68 298.8,70.82 299.2,74.62 299.6,73.23 300,75.48 300.4,75.56 300.8,77.8 301.2,82.19 301.6,86.23 302,83.11 302.4,88.36 302.8,91.78 303.2,93.4 303.6,95.8 304,96.52 304.4,97.58 304.8,97.01 305.2,98.86 305.6,98 306,98.33 306.4,98.9 306.8,98.47 307.2,97.98 307.6,96.06 308,97.09 308.4,96.14 308.8,95.07 309.2,95.41 309.6,91.96 310,90.97 310.4,91.3 310.8,91.74 311.2,92.43 311.6,91.13 312,86.33 312.4,84.76 312.8,88.34 313.2,85.6 313.6,83.48 314,82.58 314.4,80.18 314.8,80.86 315.2,79.56 315.6,72.31 316,72.3 316.4,74.05 316.8,70.97 317.2,73.06 317.6,70.66 318,60.59 318.4,65.58 318.8,59.81 319.2,63.95 319.6,57.77 320,62.21 320.4,53.78 320.8,48.96 321.2,54.64 321.6,53.29 322,55.18 322.4,56.74 322.8,43.58 323.2,42.52 323.6,49.93 324,46.54 324.4,46.36 324.8,55.12 325.2,54.78 325.6,55.55 326,55.68 326.4,57.59 326.8,48.26 327.2,50.31 327.6,56.11 328,54.25 328.4,62.21 328.8,65.12 329.2,62.64 329.6,67.67 330,69.13 330.4,64.57 330.8,74.33 331.2,70.52 331.6,72.06 332,77.99 332.4,75.66 332.8,79.49 333.2,77.43 333.6,77.73 334,79.02 334.4,81.61 334.8,86.55 335.2,87.29 335.6,85.28 336,88.67 336.4,88.33 336.8,91.68 337.2,93.5 337.2,102.2" fill="#8a8580" opacity="0.45"/>
<polygon points="284.8,102.2 284.8,102.2 285.2,101.37 285.6,100.9 286,100.1 286.4,99.13 286.8,98.08 287.2,96.72 287.6,96.51 288,95.91 288.4,93.58 288.8,92.05 289.2,92.47 289.6,88.77 290,90.51 290.4,88.4 290.8,86.78 291.2,84.86 291.6,82.69 292,78.58 292.4,78.02 292.8,78.7 293.2,75.28 293.6,78.92 294,77.94 294.4,76.84 294.8,70.89 295.2,76.03 295.6,69.6 296,67.57 296.4,71.36 296.8,72.83 297.2,74.61 297.2,71.6 297.6,67.73 298,72.72 298.4,71.54 298.8,68.46 299.2,72.2 299.6,70.77 300,78.57 300.4,80.24 300.8,82.2 301.2,81.5 301.6,83.43 302,86.52 302.4,90.13 302.8,92.34 303.2,93.19 303.6,94.22 304,96.03 304.4,96.76 304.8,98.4 305.2,99.32 305.6,99.66 306,99.58 306.4,98.91 306.8,98.24 307.2,96.95 307.6,96.47 308,97.02 308.4,95.31 308.8,95.78 309.2,93.61 309.6,92.88 310,94.09 310.4,94.01 310.8,92.21 311.2,92.69 311.6,90.82 312,90.9 312.4,86.14 312.8,86.67 313.2,86.86 313.6,84.16 314,82.26 314.4,78.95 314.8,80.99 315.2,76.17 315.6,73.36 316,77.56 316.4,76.02 316.8,71.99 317.2,67.86 317.6,71.31 318,61.72 318.4,65.75 318.8,65.52 319.2,63.97 319.6,63.99 320,60.85 320.4,59.43 320.5,55.9 320.8,57.88 321.2,56.42 321.6,52.25 322,54.86 322,57 322.4,51.05 322.8,54.02 323.2,53.96 323.6,54.91 324,47.58 324.4,47.86 324.4,49 324.6,47.7 324.8,51.6 324.9,50 325.2,56.29 325.6,56.38 326,48.18 326.4,50.25 326.8,54.25 327.2,56.81 327.6,55.52 328,63.46 328.4,65.44 328.8,60.56 329.2,68.34 329.6,69.28 330,71.5 330.4,72.02 330.8,70.89 331.2,71.99 331.6,75.47 332,78.26 332.4,74 332.8,77.06 333.2,81.24 333.6,82.18 334,83.14 334.4,81.35 334.8,86.27 335.2,87.16 335.6,88.83 336,87.15 336.4,91.26 336.8,92.37 337.2,92.71 337.2,102.2" fill="#33261c" opacity="0.78"/>
<polygon points="284.8,102.2 284.8,102.2 285.2,102.2 285.6,102.2 286,102.2 286.4,102.2 286.8,102.2 287.2,101.96 287.6,101.32 288,99.71 288.4,99.93 288.8,99.53 289.2,98.24 289.6,97.13 290,97.01 290.4,94.91 290.8,93.73 291.2,93.21 291.6,91.91 292,89.76 292.4,89.49 292.8,87.2 293.2,85.87 293.6,85.36 294,83.18 294.4,82.21 294.8,80.83 295.2,79.53 295.6,78.82 296,77.33 296.4,76.88 296.8,76.33 297.2,76.03 297.6,76.96 298,78.43 298.4,79.52 298.8,81.06 299.2,82.89 299.6,85.21 300,87.35 300.4,89.82 300.8,92.01 301.2,94.02 301.6,94.65 302,96.36 302.4,97.92 302.8,98.69 303.2,99.42 303.6,100.38 304,100.34 304.4,100.39 304.8,100.37 305.2,101.42 305.6,100.65 306,101.6 306.4,100.63 306.8,101.55 307.2,100.74 307.6,100.94 308,99.78 308.4,99.37 308.8,98.96 309.2,97.95 309.6,98.72 310,98.12 310.4,97.48 310.8,96.25 311.2,95.44 311.6,95.88 312,95.21 312.4,94.95 312.8,94.23 313.2,93.22 313.6,92.3 314,90.13 314.4,89.54 314.8,87.95 315.2,87 315.6,85.76 316,84.54 316.4,82.49 316.8,81.36 317.2,79.32 317.6,77.84 318,76.36 318.4,75.16 318.8,74.01 319.2,72.18 319.6,71.18 320,68.98 320.4,68.31 320.8,66.68 321.2,65.1 321.6,63.94 322,62.32 322.4,60.76 322.8,60.43 323.2,59.65 323.6,58.2 324,58.61 324.4,58.7 324.8,59.68 325.2,61.09 325.6,61.38 326,62.45 326.4,65.01 326.8,66.99 327.2,67.63 327.6,70.35 328,72.46 328.4,73.82 328.8,74.75 329.2,76.53 329.6,77.1 330,77.72 330.4,79.19 330.8,80.58 331.2,81.39 331.6,82.92 332,83.76 332.4,84.58 332.8,85.75 333.2,87.21 333.6,89.44 334,90.14 334.4,91.35 334.8,92.98 335.2,94.15 335.6,95.19 336,102.2 336.4,102.2 336.8,102.2 337.2,102.2 337.2,102.2" fill="#d64a0e" />
<path d="M290.4 94.9v1.9M292.4 89.5v2.3M292.8 87.2v2.5M294.4 82.2v8.0M294.8 80.8v4.9M295.6 78.8v2.3M296.4 76.9v5.0M297.6 77.0v4.8M298.8 81.1v6.2M300.4 89.8v2.6M301.2 94.0v3.4M302.0 96.4v2.6M310.4 97.5v1.9M311.6 95.9v2.5M313.2 93.2v2.8M315.2 87.0v4.9M316.0 84.5v7.2M316.8 81.4v8.8M317.2 79.3v4.4M319.6 71.2v3.7M320.0 69.0v11.1M322.0 62.3v7.8M322.8 60.4v10.2M323.2 59.7v15.1M324.0 58.6v8.8M326.0 62.4v5.9M326.4 65.0v3.2M327.6 70.3v3.9M330.0 77.7v5.3M330.4 79.2v6.2M331.2 81.4v3.5M332.0 83.8v7.0M335.6 95.2v2.9" stroke="#6a2c0e" stroke-width="0.45" opacity="0.55" fill="none"/>
<path d="M286.6 100.3L287.0 94.1L287.4 100.3ZM288.0 98.0L288.4 90.6L288.8 98.0ZM289.4 94.5L289.8 88.9L290.1 94.5ZM302.0 95.3L302.4 91.9L302.7 95.3ZM303.4 98.9L303.8 93.4L304.1 98.9ZM304.8 100.2L305.2 94.2L305.5 100.2ZM306.9 99.5L307.3 92.0L307.6 99.5ZM308.3 97.8L308.7 93.3L309.0 97.8ZM309.0 96.9L309.4 94.4L309.7 96.9ZM311.1 94.2L311.5 86.1L311.8 94.2Z" fill="#6a6a6a" opacity="0.55"/>
<rect x="156.3" y="44.5" width="57.3" height="57.8" fill="none" stroke="#8c8c8c" stroke-width="0.6" />
<rect x="217.9" y="44.5" width="57.5" height="57.8" fill="none" stroke="#8c8c8c" stroke-width="0.6" />
<rect x="279.5" y="44.5" width="56.9" height="57.8" fill="none" stroke="#8c8c8c" stroke-width="0.6" />
<line x1="156.3" y1="71.5" x2="183.4" y2="71.5" stroke="#8c8c8c" stroke-width="0.6" />
<line x1="217.9" y1="71.5" x2="245" y2="71.5" stroke="#8c8c8c" stroke-width="0.6" />
<line x1="279.5" y1="71.5" x2="306.6" y2="71.5" stroke="#8c8c8c" stroke-width="0.6" />
<text x="172.7" y="67.9" font-size="6.72" textLength="17" lengthAdjust="spacingAndGlyphs">1.86%</text>
<text x="225.8" y="67.9" font-size="6.72" textLength="17.3" lengthAdjust="spacingAndGlyphs">0.64%</text>
<text x="288.3" y="67.8" font-size="6.72" textLength="17.4" lengthAdjust="spacingAndGlyphs">1.26%</text>
<line x1="152.9" y1="44" x2="152.9" y2="105.5" stroke="#333" stroke-width="1.4" />
<polygon points="150.8,45.4 152.9,40.6 155,45.4 152.9,44.6" fill="#1a1a1a" />
<line x1="152.3" y1="104.8" x2="338.5" y2="104.8" stroke="#333" stroke-width="1.4" />
<polygon points="337.8,102.8 342.6,104.8 337.8,106.8 338.6,104.8" fill="#1a1a1a" />
<text x="148" y="72.25" font-size="8.93" text-anchor="middle" textLength="21.3" lengthAdjust="spacingAndGlyphs" transform="rotate(-90 148 72.25)">Counts</text>
<text x="219.1" y="115.6" font-size="9.03" text-anchor="middle" textLength="22.5" lengthAdjust="spacingAndGlyphs">HLA-DR</text>
<text x="184.8" y="40.2" font-size="6.83" text-anchor="middle" textLength="43.3" lengthAdjust="spacingAndGlyphs">Healthy control</text>
<text x="245.9" y="40" font-size="6.83" text-anchor="middle" textLength="43.8" lengthAdjust="spacingAndGlyphs">Before TPO-RA</text>
<text x="308.5" y="40" font-size="6.83" text-anchor="middle" textLength="39.7" lengthAdjust="spacingAndGlyphs">After TPO-RA</text>
<text x="276" y="27.9" font-size="6.83" text-anchor="middle" textLength="33.7" lengthAdjust="spacingAndGlyphs">ITP patients</text>
<line x1="224.2" y1="32.5" x2="327.5" y2="32.5" stroke="#333" stroke-width="1.0" />
<line x1="371.5" y1="35.6" x2="371.5" y2="100.4" stroke="#333" stroke-width="1.2" />
<line x1="370.9" y1="99.8" x2="428.7" y2="99.8" stroke="#333" stroke-width="1.2" />
<line x1="369.3" y1="99.5" x2="371.5" y2="99.5" stroke="#333" stroke-width="0.9" />
<text x="367.3" y="101.9" font-size="6.93" text-anchor="end">0</text>
<line x1="369.3" y1="78.5" x2="371.5" y2="78.5" stroke="#333" stroke-width="0.9" />
<text x="367.3" y="80.8" font-size="6.93" text-anchor="end">1</text>
<line x1="369.3" y1="57.5" x2="371.5" y2="57.5" stroke="#333" stroke-width="0.9" />
<text x="367.3" y="59.7" font-size="6.93" text-anchor="end">2</text>
<line x1="369.3" y1="36.5" x2="371.5" y2="36.5" stroke="#333" stroke-width="0.9" />
<text x="367.3" y="38.6" font-size="6.93" text-anchor="end">3</text>
<line x1="388.5" y1="99.8" x2="388.5" y2="102" stroke="#333" stroke-width="0.9" />
<line x1="412.5" y1="99.8" x2="412.5" y2="102" stroke="#333" stroke-width="0.9" />
<line x1="388.5" y1="58.4" x2="388.5" y2="48.6" stroke="#a9a9a9" stroke-width="0.8" />
<line x1="383.7" y1="48.5" x2="392.3" y2="48.5" stroke="#a9a9a9" stroke-width="0.8" />
<line x1="388.5" y1="58.4" x2="388.5" y2="68.3" stroke="#a9a9a9" stroke-width="0.8" />
<line x1="383.7" y1="68.5" x2="392.3" y2="68.5" stroke="#a9a9a9" stroke-width="0.8" />
<line x1="380" y1="58.5" x2="397" y2="58.5" stroke="#a9a9a9" stroke-width="0.9" />
<circle cx="385.4" cy="43.6" r="1.1" fill="#a5a5a5" />
<circle cx="391.3" cy="46.3" r="1.1" fill="#a5a5a5" />
<circle cx="387.8" cy="58.1" r="1.1" fill="#a5a5a5" />
<circle cx="383" cy="60.4" r="1.1" fill="#a5a5a5" />
<circle cx="393.3" cy="60.9" r="1.1" fill="#a5a5a5" />
<circle cx="387.8" cy="66.7" r="1.1" fill="#a5a5a5" />
<circle cx="387.8" cy="74.1" r="1.1" fill="#a5a5a5" />
<line x1="412.5" y1="91.6" x2="412.5" y2="84.5" stroke="#17604f" stroke-width="0.8" />
<line x1="408.2" y1="84.5" x2="417" y2="84.5" stroke="#17604f" stroke-width="0.8" />
<line x1="412.5" y1="91.6" x2="412.5" y2="99.2" stroke="#17604f" stroke-width="0.8" />
<line x1="408.2" y1="99.5" x2="417" y2="99.5" stroke="#17604f" stroke-width="0.8" />
<line x1="403.9" y1="91.5" x2="421.3" y2="91.5" stroke="#17604f" stroke-width="0.9" />
<circle cx="412.4" cy="75.9" r="1.1" fill="#0f4a3c" />
<circle cx="405.6" cy="94.8" r="1.1" fill="#0f4a3c" />
<circle cx="408.6" cy="95.1" r="1.1" fill="#0f4a3c" />
<circle cx="411" cy="95.1" r="1.1" fill="#0f4a3c" />
<circle cx="412.7" cy="94.5" r="1.1" fill="#0f4a3c" />
<circle cx="414.5" cy="95.1" r="1.1" fill="#0f4a3c" />
<circle cx="416.9" cy="96" r="1.1" fill="#0f4a3c" />
<circle cx="419.2" cy="96.9" r="1.1" fill="#0f4a3c" />
<circle cx="412.4" cy="86.4" r="1.1" fill="#0f4a3c" />
<line x1="387.7" y1="38.5" x2="411.9" y2="38.5" stroke="#333" stroke-width="0.7" />
<circle cx="395.35" cy="35.5" r="0.78" fill="#222" />
<circle cx="398.45" cy="35.5" r="0.78" fill="#222" />
<circle cx="401.55" cy="35.5" r="0.78" fill="#222" />
<circle cx="404.65" cy="35.5" r="0.78" fill="#222" />
<text x="356.6" y="66.5" font-size="7.14" text-anchor="middle" textLength="73.6" lengthAdjust="spacingAndGlyphs" transform="rotate(-90 356.6 66.5)">Percentage of MDSC (%)</text>
<text x="388" y="111.3" font-size="6.93" text-anchor="middle" textLength="20.5" lengthAdjust="spacingAndGlyphs">Healthy</text>
<text x="388" y="119.3" font-size="6.93" text-anchor="middle" textLength="20.5" lengthAdjust="spacingAndGlyphs">control</text>
<text x="412.5" y="111.3" font-size="6.93" text-anchor="middle" textLength="9.5" lengthAdjust="spacingAndGlyphs">ITP</text>
<text x="412.5" y="119.3" font-size="6.93" text-anchor="middle" textLength="22" lengthAdjust="spacingAndGlyphs">patients</text>
<line x1="462.6" y1="40.5" x2="462.6" y2="100" stroke="#333" stroke-width="1.2" />
<line x1="462" y1="99.4" x2="508" y2="99.4" stroke="#333" stroke-width="1.2" />
<line x1="460.4" y1="99.5" x2="462.6" y2="99.5" stroke="#333" stroke-width="0.9" />
<text x="457.2" y="101.7" font-size="6.93" text-anchor="end" textLength="8.6" lengthAdjust="spacingAndGlyphs">0.0</text>
<line x1="460.4" y1="87.5" x2="462.6" y2="87.5" stroke="#333" stroke-width="0.9" />
<text x="457.2" y="90.05" font-size="6.93" text-anchor="end" textLength="8.6" lengthAdjust="spacingAndGlyphs">0.5</text>
<line x1="460.4" y1="76.5" x2="462.6" y2="76.5" stroke="#333" stroke-width="0.9" />
<text x="457.2" y="78.4" font-size="6.93" text-anchor="end" textLength="8.6" lengthAdjust="spacingAndGlyphs">1.0</text>
<line x1="460.4" y1="64.5" x2="462.6" y2="64.5" stroke="#333" stroke-width="0.9" />
<text x="457.2" y="66.75" font-size="6.93" text-anchor="end" textLength="8.6" lengthAdjust="spacingAndGlyphs">1.5</text>
<line x1="460.4" y1="52.5" x2="462.6" y2="52.5" stroke="#333" stroke-width="0.9" />
<text x="457.2" y="55.1" font-size="6.93" text-anchor="end" textLength="8.6" lengthAdjust="spacingAndGlyphs">2.0</text>
<line x1="460.4" y1="41.5" x2="462.6" y2="41.5" stroke="#333" stroke-width="0.9" />
<text x="457.2" y="43.45" font-size="6.93" text-anchor="end" textLength="8.6" lengthAdjust="spacingAndGlyphs">2.5</text>
<line x1="475.5" y1="99.4" x2="475.5" y2="101.6" stroke="#333" stroke-width="0.9" />
<line x1="495.5" y1="99.4" x2="495.5" y2="101.6" stroke="#333" stroke-width="0.9" />
<line x1="475.7" y1="73.07" x2="495.4" y2="64.45" stroke="#1e1e1e" stroke-width="0.75" />
<line x1="475.7" y1="84.26" x2="495.4" y2="69.11" stroke="#1e1e1e" stroke-width="0.75" />
<line x1="475.7" y1="93.58" x2="495.4" y2="51.17" stroke="#1e1e1e" stroke-width="0.75" />
<line x1="475.7" y1="92.88" x2="495.4" y2="67.95" stroke="#1e1e1e" stroke-width="0.75" />
<line x1="475.7" y1="94.27" x2="495.4" y2="70.28" stroke="#1e1e1e" stroke-width="0.75" />
<line x1="475.7" y1="94.74" x2="495.4" y2="85.42" stroke="#1e1e1e" stroke-width="0.75" />
<line x1="475.7" y1="95.91" x2="495.4" y2="86.59" stroke="#1e1e1e" stroke-width="0.75" />
<line x1="475.7" y1="93.34" x2="495.4" y2="84.72" stroke="#1e1e1e" stroke-width="0.75" />
<circle cx="475.7" cy="73.07" r="1.15" fill="#17604f" />
<circle cx="475.7" cy="84.26" r="1.15" fill="#17604f" />
<circle cx="475.7" cy="93.58" r="1.15" fill="#17604f" />
<circle cx="475.7" cy="92.88" r="1.15" fill="#17604f" />
<circle cx="475.7" cy="94.27" r="1.15" fill="#17604f" />
<circle cx="475.7" cy="94.74" r="1.15" fill="#17604f" />
<circle cx="475.7" cy="95.91" r="1.15" fill="#17604f" />
<circle cx="475.7" cy="93.34" r="1.15" fill="#17604f" />
<circle cx="495.4" cy="64.45" r="1.15" fill="#3a2a1a" />
<circle cx="495.4" cy="69.11" r="1.15" fill="#c06a20" />
<circle cx="495.4" cy="51.17" r="1.15" fill="#222" />
<circle cx="495.4" cy="67.95" r="1.15" fill="#b05a18" />
<circle cx="495.4" cy="70.28" r="1.15" fill="#3a2a1a" />
<circle cx="495.4" cy="85.42" r="1.15" fill="#333" />
<circle cx="495.4" cy="86.59" r="1.15" fill="#8a4a18" />
<circle cx="495.4" cy="84.72" r="1.15" fill="#222" />
<line x1="475" y1="45.5" x2="494" y2="45.5" stroke="#333" stroke-width="0.7" />
<circle cx="483" cy="41.6" r="0.78" fill="#222" />
<circle cx="486" cy="41.6" r="0.78" fill="#222" />
<text x="485.5" y="27.7" font-size="6.83" text-anchor="middle" textLength="33" lengthAdjust="spacingAndGlyphs">ITP patients</text>
<text x="443.6" y="68.9" font-size="7.14" text-anchor="middle" textLength="72.8" lengthAdjust="spacingAndGlyphs" transform="rotate(-90 443.6 68.9)">Percentage of MDSC (%)</text>
<text x="475.4" y="111.3" font-size="6.93" text-anchor="middle" textLength="18.8" lengthAdjust="spacingAndGlyphs">Before</text>
<text x="495.2" y="111.3" font-size="6.93" text-anchor="middle" textLength="14.6" lengthAdjust="spacingAndGlyphs">After</text>
<text x="7.2" y="146.1" font-size="12.2" fill="#000" font-weight="bold">B</text>
<line x1="33.2" y1="172.8" x2="33.2" y2="257.5" stroke="#333" stroke-width="1.2" />
<line x1="32.6" y1="256.9" x2="79.3" y2="256.9" stroke="#333" stroke-width="1.2" />
<line x1="31" y1="256.5" x2="33.2" y2="256.5" stroke="#333" stroke-width="0.9" />
<text x="28.3" y="259.2" font-size="6.93" text-anchor="end" textLength="3.4" lengthAdjust="spacingAndGlyphs">0</text>
<line x1="31" y1="240.5" x2="33.2" y2="240.5" stroke="#333" stroke-width="0.9" />
<text x="28.3" y="242.5" font-size="6.93" text-anchor="end" textLength="3.4" lengthAdjust="spacingAndGlyphs">2</text>
<line x1="31" y1="223.5" x2="33.2" y2="223.5" stroke="#333" stroke-width="0.9" />
<text x="28.3" y="225.8" font-size="6.93" text-anchor="end" textLength="3.4" lengthAdjust="spacingAndGlyphs">4</text>
<line x1="31" y1="206.5" x2="33.2" y2="206.5" stroke="#333" stroke-width="0.9" />
<text x="28.3" y="209.1" font-size="6.93" text-anchor="end" textLength="3.4" lengthAdjust="spacingAndGlyphs">6</text>
<line x1="31" y1="190.5" x2="33.2" y2="190.5" stroke="#333" stroke-width="0.9" />
<text x="28.3" y="192.4" font-size="6.93" text-anchor="end" textLength="3.4" lengthAdjust="spacingAndGlyphs">8</text>
<line x1="31" y1="173.5" x2="33.2" y2="173.5" stroke="#333" stroke-width="0.9" />
<text x="28.3" y="175.7" font-size="6.93" text-anchor="end" textLength="6.8" lengthAdjust="spacingAndGlyphs">10</text>
<line x1="40.5" y1="256.9" x2="40.5" y2="259.3" stroke="#333" stroke-width="0.9" />
<line x1="52.5" y1="256.9" x2="52.5" y2="259.3" stroke="#333" stroke-width="0.9" />
<line x1="63.5" y1="256.9" x2="63.5" y2="259.3" stroke="#333" stroke-width="0.9" />
<line x1="40.8" y1="224.84" x2="52" y2="219.49" stroke="#f2cf3a" stroke-width="0.9" />
<line x1="40.8" y1="229.01" x2="52" y2="222.5" stroke="#f2cf3a" stroke-width="0.9" />
<line x1="40.8" y1="230.18" x2="52" y2="226" stroke="#f2cf3a" stroke-width="0.9" />
<line x1="40.8" y1="234.61" x2="52" y2="231.85" stroke="#f2cf3a" stroke-width="0.9" />
<line x1="40.8" y1="238.53" x2="52" y2="236.02" stroke="#f2cf3a" stroke-width="0.9" />
<line x1="40.8" y1="241.37" x2="52" y2="237.78" stroke="#f2cf3a" stroke-width="0.9" />
<line x1="52" y1="231.85" x2="63.2" y2="185.09" stroke="#6a3a98" stroke-width="0.75" />
<line x1="52" y1="236.02" x2="63.2" y2="187.59" stroke="#6a3a98" stroke-width="0.75" />
<line x1="52" y1="236.86" x2="63.2" y2="195.11" stroke="#6a3a98" stroke-width="0.75" />
<line x1="52" y1="237.69" x2="63.2" y2="200.12" stroke="#6a3a98" stroke-width="0.75" />
<line x1="52" y1="237.78" x2="63.2" y2="201.79" stroke="#6a3a98" stroke-width="0.75" />
<line x1="52" y1="236.02" x2="63.2" y2="210.14" stroke="#6a3a98" stroke-width="0.75" />
<line x1="52" y1="226" x2="63.2" y2="218.49" stroke="#6a3a98" stroke-width="0.75" />
<circle cx="40.8" cy="224.84" r="1.25" fill="#35a3c2" />
<circle cx="40.8" cy="229.01" r="1.25" fill="#35a3c2" />
<circle cx="40.8" cy="230.18" r="1.25" fill="#35a3c2" />
<circle cx="40.8" cy="234.61" r="1.25" fill="#35a3c2" />
<circle cx="40.8" cy="238.53" r="1.25" fill="#35a3c2" />
<circle cx="40.8" cy="241.37" r="1.25" fill="#35a3c2" />
<circle cx="52" cy="219.49" r="1.25" fill="#f3c623" />
<circle cx="52" cy="222.5" r="1.25" fill="#f3c623" />
<circle cx="52" cy="226" r="1.25" fill="#f3c623" />
<circle cx="52" cy="231.85" r="1.25" fill="#f3c623" />
<circle cx="52" cy="236.02" r="1.25" fill="#f3c623" />
<circle cx="52" cy="237.78" r="1.25" fill="#f3c623" />
<circle cx="63.2" cy="185.09" r="1.15" fill="#2a1a3a" />
<circle cx="63.2" cy="187.59" r="1.15" fill="#2a1a3a" />
<circle cx="63.2" cy="195.11" r="1.15" fill="#2a1a3a" />
<circle cx="63.2" cy="200.12" r="1.15" fill="#2a1a3a" />
<circle cx="63.2" cy="201.79" r="1.15" fill="#2a1a3a" />
<circle cx="63.2" cy="210.14" r="1.15" fill="#2a1a3a" />
<circle cx="63.2" cy="218.49" r="1.15" fill="#2a1a3a" />
<line x1="40.3" y1="170.5" x2="64.2" y2="170.5" stroke="#333" stroke-width="0.8" />
<circle cx="49.3" cy="167.8" r="0.78" fill="#222" />
<circle cx="52.2" cy="167.8" r="0.78" fill="#222" />
<circle cx="55.1" cy="167.8" r="0.78" fill="#222" />
<line x1="51.6" y1="179.5" x2="64.2" y2="179.5" stroke="#333" stroke-width="0.8" />
<circle cx="53.85" cy="176.4" r="0.78" fill="#222" />
<circle cx="56.55" cy="176.4" r="0.78" fill="#222" />
<circle cx="59.25" cy="176.4" r="0.78" fill="#222" />
<circle cx="61.95" cy="176.4" r="0.78" fill="#222" />
<line x1="39.9" y1="215.5" x2="51.7" y2="215.5" stroke="#333" stroke-width="0.8" />
<circle cx="45.8" cy="211.8" r="0.78" fill="#222" />
<text x="14.3" y="212.8" font-size="6.93" text-anchor="middle" textLength="46.6" lengthAdjust="spacingAndGlyphs" transform="rotate(-90 14.3 212.8)">TGF-β1 (ng/mL)</text>
<text x="43" y="266.3" font-size="7.25" text-anchor="end" textLength="19.5" lengthAdjust="spacingAndGlyphs" transform="rotate(-45 43 266.3)">Control</text>
<text x="54.2" y="266.3" font-size="7.25" text-anchor="end" textLength="33" lengthAdjust="spacingAndGlyphs" transform="rotate(-45 54.2 266.3)">Low-platelet</text>
<text x="65.4" y="266.3" font-size="7.25" text-anchor="end" textLength="35" lengthAdjust="spacingAndGlyphs" transform="rotate(-45 65.4 266.3)">High-platelet</text>
<text x="96.8" y="145.9" font-size="12.2" fill="#000" font-weight="bold">C</text>
<linearGradient id="gg" x1="0" y1="0" x2="0" y2="1"><stop offset="0" stop-color="#b2dd98"/><stop offset="0.5" stop-color="#8dcc6a"/><stop offset="1" stop-color="#55b22c"/></linearGradient>
<pattern id="gs" x="0" y="0" width="1.9" height="10" patternUnits="userSpaceOnUse"><rect x="0" y="0" width="0.55" height="10" fill="#e2f5d6"/></pattern>
<polygon points="142.4,211.4 142.4,211.2 144.9,199.4 146.9,187.6 148.3,173.8 150,167.4 151.8,171.8 153.3,177.7 154.7,179.7 156.7,181.2 158.2,184.6 160.1,190.5 162.1,196.4 163.4,193.5 164.4,189.6 165.6,194.5 167,204.3 168,211.2 168,211.4" fill="url(#gg)" />
<polygon points="142.4,211.4 142.4,211.2 144.9,199.4 146.9,187.6 148.3,173.8 150,167.4 151.8,171.8 153.3,177.7 154.7,179.7 156.7,181.2 158.2,184.6 160.1,190.5 162.1,196.4 163.4,193.5 164.4,189.6 165.6,194.5 167,204.3 168,211.2 168,211.4" fill="url(#gs)" opacity="0.45"/>
<polyline points="142.4,211.2 144.9,199.4 146.9,187.6 148.3,173.8 150,167.4 151.8,171.8 153.3,177.7 154.7,179.7 156.7,181.2 158.2,184.6 160.1,190.5 162.1,196.4 163.4,193.5 164.4,189.6 165.6,194.5 167,204.3 168,211.2" fill="none" stroke="#5f7358" stroke-width="0.5" />
<rect x="122.6" y="163.3" width="49.1" height="48.4" fill="none" stroke="#6a6a6a" stroke-width="0.7" />
<polygon points="203.4,211.4 203.4,211.2 205.9,199.4 207.8,187.6 208.8,185.1 210.3,184.6 211.8,174.8 213.3,166.9 214.7,169.9 216.2,174.8 217.7,178.7 219.2,180.7 221.1,185.1 222.6,190.5 223.8,191.5 224.8,187.6 226.1,184.6 227,189.6 228.5,201.4 230,211.2 230,211.4" fill="url(#gg)" />
<polygon points="203.4,211.4 203.4,211.2 205.9,199.4 207.8,187.6 208.8,185.1 210.3,184.6 211.8,174.8 213.3,166.9 214.7,169.9 216.2,174.8 217.7,178.7 219.2,180.7 221.1,185.1 222.6,190.5 223.8,191.5 224.8,187.6 226.1,184.6 227,189.6 228.5,201.4 230,211.2 230,211.4" fill="url(#gs)" opacity="0.45"/>
<polyline points="203.4,211.2 205.9,199.4 207.8,187.6 208.8,185.1 210.3,184.6 211.8,174.8 213.3,166.9 214.7,169.9 216.2,174.8 217.7,178.7 219.2,180.7 221.1,185.1 222.6,190.5 223.8,191.5 224.8,187.6 226.1,184.6 227,189.6 228.5,201.4 230,211.2" fill="none" stroke="#5f7358" stroke-width="0.5" />
<rect x="184.3" y="163.3" width="48.7" height="48.4" fill="none" stroke="#6a6a6a" stroke-width="0.7" />
<polygon points="263.9,211.4 263.9,211.2 267.8,201.4 270.8,192.5 272.3,190.5 274.2,192 276.2,192.5 278.7,189.6 281.1,187.1 283.1,185.6 284.1,185.1 285.6,178.7 286.5,170.9 287.2,166.9 288,171.8 289,186.6 290,201.4 291.5,211.2 291.5,211.4" fill="url(#gg)" />
<polygon points="263.9,211.4 263.9,211.2 267.8,201.4 270.8,192.5 272.3,190.5 274.2,192 276.2,192.5 278.7,189.6 281.1,187.1 283.1,185.6 284.1,185.1 285.6,178.7 286.5,170.9 287.2,166.9 288,171.8 289,186.6 290,201.4 291.5,211.2 291.5,211.4" fill="url(#gs)" opacity="0.45"/>
<polyline points="263.9,211.2 267.8,201.4 270.8,192.5 272.3,190.5 274.2,192 276.2,192.5 278.7,189.6 281.1,187.1 283.1,185.6 284.1,185.1 285.6,178.7 286.5,170.9 287.2,166.9 288,171.8 289,186.6 290,201.4 291.5,211.2" fill="none" stroke="#5f7358" stroke-width="0.5" />
<rect x="245.5" y="163.3" width="49" height="48.4" fill="none" stroke="#6a6a6a" stroke-width="0.7" />
<polygon points="334.8,211.4 334.8,211.2 337.3,205.3 339.3,198.4 340.3,186.6 341.2,176.3 342.2,179.2 343.2,172.8 343.9,165.4 344.7,174.8 345.7,180.7 346.7,181.7 347.6,178.7 348.6,173.8 349.6,181.7 350.4,196.4 351.1,211.2 351.1,211.4" fill="url(#gg)" />
<polygon points="334.8,211.4 334.8,211.2 337.3,205.3 339.3,198.4 340.3,186.6 341.2,176.3 342.2,179.2 343.2,172.8 343.9,165.4 344.7,174.8 345.7,180.7 346.7,181.7 347.6,178.7 348.6,173.8 349.6,181.7 350.4,196.4 351.1,211.2 351.1,211.4" fill="url(#gs)" opacity="0.45"/>
<polyline points="334.8,211.2 337.3,205.3 339.3,198.4 340.3,186.6 341.2,176.3 342.2,179.2 343.2,172.8 343.9,165.4 344.7,174.8 345.7,180.7 346.7,181.7 347.6,178.7 348.6,173.8 349.6,181.7 350.4,196.4 351.1,211.2" fill="none" stroke="#5f7358" stroke-width="0.5" />
<rect x="305.7" y="163.3" width="48.8" height="48.4" fill="none" stroke="#6a6a6a" stroke-width="0.7" />
<polygon points="151.2,272 151.2,272 153.8,265.7 156,257.2 157,244.5 158.3,237 159.4,241.3 160.5,226.9 161.6,239.1 162.6,241.3 163.6,242.3 164.7,237 165.5,233.8 166.4,241.3 167.4,257.2 168.5,272 168.5,272" fill="url(#gg)" />
<polygon points="151.2,272 151.2,272 153.8,265.7 156,257.2 157,244.5 158.3,237 159.4,241.3 160.5,226.9 161.6,239.1 162.6,241.3 163.6,242.3 164.7,237 165.5,233.8 166.4,241.3 167.4,257.2 168.5,272 168.5,272" fill="url(#gs)" opacity="0.45"/>
<polyline points="151.2,272 153.8,265.7 156,257.2 157,244.5 158.3,237 159.4,241.3 160.5,226.9 161.6,239.1 162.6,241.3 163.6,242.3 164.7,237 165.5,233.8 166.4,241.3 167.4,257.2 168.5,272" fill="none" stroke="#5f7358" stroke-width="0.5" />
<rect x="122.6" y="223.6" width="49.1" height="48.7" fill="none" stroke="#6a6a6a" stroke-width="0.7" />
<polygon points="212,272 212,272 214.2,261.2 215.8,247.1 216.9,237.3 217.8,233.5 218.9,236.3 220.2,227.6 221.3,241.7 222.3,242.8 224,249.3 225,251.4 226.1,247.1 227.8,227 228.8,247.1 230.1,272 230.1,272" fill="url(#gg)" />
<polygon points="212,272 212,272 214.2,261.2 215.8,247.1 216.9,237.3 217.8,233.5 218.9,236.3 220.2,227.6 221.3,241.7 222.3,242.8 224,249.3 225,251.4 226.1,247.1 227.8,227 228.8,247.1 230.1,272 230.1,272" fill="url(#gs)" opacity="0.45"/>
<polyline points="212,272 214.2,261.2 215.8,247.1 216.9,237.3 217.8,233.5 218.9,236.3 220.2,227.6 221.3,241.7 222.3,242.8 224,249.3 225,251.4 226.1,247.1 227.8,227 228.8,247.1 230.1,272" fill="none" stroke="#5f7358" stroke-width="0.5" />
<rect x="184.3" y="223.6" width="48.7" height="48.7" fill="none" stroke="#6a6a6a" stroke-width="0.7" />
<polygon points="274.4,272 274.4,271.8 279.2,267 282.1,258.4 284,246.5 286,248.8 287.5,244.9 288.8,227.6 289.8,226.7 290.8,241 291.7,271.8 291.7,272" fill="url(#gg)" />
<polygon points="274.4,272 274.4,271.8 279.2,267 282.1,258.4 284,246.5 286,248.8 287.5,244.9 288.8,227.6 289.8,226.7 290.8,241 291.7,271.8 291.7,272" fill="url(#gs)" opacity="0.45"/>
<polyline points="274.4,271.8 279.2,267 282.1,258.4 284,246.5 286,248.8 287.5,244.9 288.8,227.6 289.8,226.7 290.8,241 291.7,271.8" fill="none" stroke="#5f7358" stroke-width="0.5" />
<rect x="245.5" y="223.6" width="49" height="48.7" fill="none" stroke="#6a6a6a" stroke-width="0.7" />
<polygon points="334,272 334,271.8 337.9,256.5 339.8,246.8 341.7,234.3 343.3,237.2 344.6,232.4 346.5,244.9 347.9,241 349.4,226.7 350.8,244.9 351.9,271.8 351.9,272" fill="url(#gg)" />
<polygon points="334,272 334,271.8 337.9,256.5 339.8,246.8 341.7,234.3 343.3,237.2 344.6,232.4 346.5,244.9 347.9,241 349.4,226.7 350.8,244.9 351.9,271.8 351.9,272" fill="url(#gs)" opacity="0.45"/>
<polyline points="334,271.8 337.9,256.5 339.8,246.8 341.7,234.3 343.3,237.2 344.6,232.4 346.5,244.9 347.9,241 349.4,226.7 350.8,244.9 351.9,271.8" fill="none" stroke="#5f7358" stroke-width="0.5" />
<rect x="305.7" y="223.6" width="48.8" height="48.7" fill="none" stroke="#6a6a6a" stroke-width="0.7" />
<text x="147.1" y="158.4" font-size="6.83" text-anchor="middle" textLength="22.5" lengthAdjust="spacingAndGlyphs">Control</text>
<text x="209" y="158.4" font-size="6.83" text-anchor="middle" textLength="35.4" lengthAdjust="spacingAndGlyphs">Low-platelet</text>
<text x="271.7" y="158.4" font-size="6.83" text-anchor="middle" textLength="37.4" lengthAdjust="spacingAndGlyphs">High-platelet</text>
<text x="331" y="158.4" font-size="6.83" text-anchor="middle" textLength="61.7" lengthAdjust="spacingAndGlyphs">High-platelet+TGF-βi</text>
<line x1="107" y1="156" x2="107" y2="283" stroke="#333" stroke-width="1.4" />
<polygon points="104.8,157.2 107,152.4 109.2,157.2 107,156.4" fill="#1a1a1a" />
<line x1="106.3" y1="282.3" x2="359" y2="282.3" stroke="#333" stroke-width="1.4" />
<polygon points="357.9,280 363.7,282.3 357.9,284.6 358.8,282.3" fill="#1a1a1a" />
<text x="101.9" y="186" font-size="7.67" text-anchor="middle" textLength="35.5" lengthAdjust="spacingAndGlyphs" transform="rotate(-90 101.9 186)">ITP patients</text>
<text x="101.9" y="249.6" font-size="7.67" text-anchor="middle" textLength="48.8" lengthAdjust="spacingAndGlyphs" transform="rotate(-90 101.9 249.6)">Healthy controls</text>
<text x="118.3" y="217.5" font-size="7.35" text-anchor="middle" textLength="17.3" lengthAdjust="spacingAndGlyphs" transform="rotate(-90 118.3 217.5)">Count</text>
<text x="235.3" y="292.7" font-size="9.35" text-anchor="middle" textLength="14.4" lengthAdjust="spacingAndGlyphs">CFSE</text>
<line x1="397.8" y1="159.6" x2="397.8" y2="257.3" stroke="#333" stroke-width="1.2" />
<line x1="397.2" y1="256.7" x2="513.7" y2="256.7" stroke="#333" stroke-width="1.2" />
<line x1="395.6" y1="256.5" x2="397.8" y2="256.5" stroke="#333" stroke-width="0.9" />
<text x="392.3" y="259" font-size="6.93" text-anchor="end" textLength="8.6" lengthAdjust="spacingAndGlyphs">0.0</text>
<line x1="395.6" y1="224.5" x2="397.8" y2="224.5" stroke="#333" stroke-width="0.9" />
<text x="392.3" y="226.85" font-size="6.93" text-anchor="end" textLength="8.6" lengthAdjust="spacingAndGlyphs">0.5</text>
<line x1="395.6" y1="192.5" x2="397.8" y2="192.5" stroke="#333" stroke-width="0.9" />
<text x="392.3" y="194.7" font-size="6.93" text-anchor="end" textLength="8.6" lengthAdjust="spacingAndGlyphs">1.0</text>
<line x1="395.6" y1="160.5" x2="397.8" y2="160.5" stroke="#333" stroke-width="0.9" />
<text x="392.3" y="162.55" font-size="6.93" text-anchor="end" textLength="8.6" lengthAdjust="spacingAndGlyphs">1.5</text>
<rect x="402.2" y="194.01" width="7.9" height="62.69" fill="#2ea7e0" />
<line x1="406.5" y1="194.01" x2="406.5" y2="187.58" stroke="#353535" stroke-width="0.5" />
<line x1="404.55" y1="187.5" x2="407.75" y2="187.5" stroke="#353535" stroke-width="0.5" />
<line x1="406.5" y1="194.01" x2="406.5" y2="200.44" stroke="#353535" stroke-width="0.5" />
<line x1="404.55" y1="200.5" x2="407.75" y2="200.5" stroke="#353535" stroke-width="0.5" />
<circle cx="406.15" cy="180.83" r="1.1" fill="#111" />
<circle cx="403.95" cy="191.11" r="1.1" fill="#111" />
<circle cx="408.35" cy="192.4" r="1.1" fill="#111" />
<circle cx="404.95" cy="193.69" r="1.1" fill="#111" />
<circle cx="407.45" cy="194.97" r="1.1" fill="#111" />
<circle cx="403.65" cy="196.26" r="1.1" fill="#111" />
<circle cx="408.55" cy="197.54" r="1.1" fill="#111" />
<circle cx="406.35" cy="198.83" r="1.1" fill="#111" />
<circle cx="405.35" cy="200.12" r="1.1" fill="#111" />
<line x1="406.5" y1="256.7" x2="406.5" y2="259.2" stroke="#333" stroke-width="0.9" />
<rect x="414.4" y="197.67" width="7.9" height="59.03" fill="#fbb714" />
<line x1="418.5" y1="197.67" x2="418.5" y2="188.67" stroke="#353535" stroke-width="0.5" />
<line x1="416.75" y1="188.5" x2="419.95" y2="188.5" stroke="#353535" stroke-width="0.5" />
<line x1="418.5" y1="197.67" x2="418.5" y2="206.67" stroke="#353535" stroke-width="0.5" />
<line x1="416.75" y1="206.5" x2="419.95" y2="206.5" stroke="#353535" stroke-width="0.5" />
<circle cx="418.35" cy="181.47" r="1.1" fill="#111" />
<circle cx="416.15" cy="188.54" r="1.1" fill="#111" />
<circle cx="420.55" cy="193.04" r="1.1" fill="#111" />
<circle cx="417.15" cy="195.62" r="1.1" fill="#111" />
<circle cx="419.65" cy="198.83" r="1.1" fill="#111" />
<circle cx="415.85" cy="200.12" r="1.1" fill="#111" />
<circle cx="420.75" cy="202.04" r="1.1" fill="#111" />
<circle cx="418.55" cy="205.26" r="1.1" fill="#111" />
<circle cx="417.55" cy="206.55" r="1.1" fill="#111" />
<line x1="418.5" y1="256.7" x2="418.5" y2="259.2" stroke="#333" stroke-width="0.9" />
<rect x="426.8" y="208.47" width="7.9" height="48.22" fill="#5b1f69" />
<line x1="430.5" y1="208.47" x2="430.5" y2="203.97" stroke="#353535" stroke-width="0.5" />
<line x1="429.15" y1="203.5" x2="432.35" y2="203.5" stroke="#353535" stroke-width="0.5" />
<line x1="430.5" y1="208.47" x2="430.5" y2="212.98" stroke="#353535" stroke-width="0.5" />
<line x1="429.15" y1="212.5" x2="432.35" y2="212.5" stroke="#353535" stroke-width="0.5" />
<circle cx="430.75" cy="202.69" r="1.1" fill="#111" />
<circle cx="428.55" cy="203.97" r="1.1" fill="#111" />
<circle cx="432.95" cy="205.26" r="1.1" fill="#111" />
<circle cx="429.55" cy="206.55" r="1.1" fill="#111" />
<circle cx="432.05" cy="207.83" r="1.1" fill="#111" />
<circle cx="428.25" cy="209.12" r="1.1" fill="#111" />
<circle cx="433.15" cy="211.69" r="1.1" fill="#111" />
<circle cx="430.95" cy="216.83" r="1.1" fill="#111" />
<circle cx="429.95" cy="221.33" r="1.1" fill="#111" />
<line x1="430.5" y1="256.7" x2="430.5" y2="259.2" stroke="#333" stroke-width="0.9" />
<rect x="439.1" y="198.83" width="7.9" height="57.87" fill="#6c3a12" />
<line x1="443.5" y1="198.83" x2="443.5" y2="194.97" stroke="#353535" stroke-width="0.5" />
<line x1="441.45" y1="194.5" x2="444.65" y2="194.5" stroke="#353535" stroke-width="0.5" />
<line x1="443.5" y1="198.83" x2="443.5" y2="202.69" stroke="#353535" stroke-width="0.5" />
<line x1="441.45" y1="202.5" x2="444.65" y2="202.5" stroke="#353535" stroke-width="0.5" />
<circle cx="443.05" cy="190.47" r="1.1" fill="#111" />
<circle cx="440.85" cy="195.62" r="1.1" fill="#111" />
<circle cx="445.25" cy="196.9" r="1.1" fill="#111" />
<circle cx="441.85" cy="197.54" r="1.1" fill="#111" />
<circle cx="444.35" cy="198.83" r="1.1" fill="#111" />
<circle cx="440.55" cy="199.47" r="1.1" fill="#111" />
<circle cx="445.45" cy="200.12" r="1.1" fill="#111" />
<circle cx="443.25" cy="200.76" r="1.1" fill="#111" />
<circle cx="442.25" cy="201.4" r="1.1" fill="#111" />
<line x1="443.5" y1="256.7" x2="443.5" y2="259.2" stroke="#333" stroke-width="0.9" />
<rect x="463.9" y="203.59" width="7.9" height="53.11" fill="#2ea7e0" />
<line x1="467.5" y1="203.59" x2="467.5" y2="198.44" stroke="#353535" stroke-width="0.5" />
<line x1="466.25" y1="198.5" x2="469.45" y2="198.5" stroke="#353535" stroke-width="0.5" />
<line x1="467.5" y1="203.59" x2="467.5" y2="208.73" stroke="#353535" stroke-width="0.5" />
<line x1="466.25" y1="208.5" x2="469.45" y2="208.5" stroke="#353535" stroke-width="0.5" />
<circle cx="467.85" cy="198.19" r="1.1" fill="#111" />
<circle cx="465.65" cy="198.83" r="1.1" fill="#111" />
<circle cx="470.05" cy="200.12" r="1.1" fill="#111" />
<circle cx="466.65" cy="202.04" r="1.1" fill="#111" />
<circle cx="469.15" cy="203.97" r="1.1" fill="#111" />
<circle cx="465.35" cy="205.26" r="1.1" fill="#111" />
<circle cx="470.25" cy="207.19" r="1.1" fill="#111" />
<circle cx="468.05" cy="208.47" r="1.1" fill="#111" />
<circle cx="467.05" cy="209.76" r="1.1" fill="#111" />
<line x1="467.5" y1="256.7" x2="467.5" y2="259.2" stroke="#333" stroke-width="0.9" />
<rect x="476.1" y="204.42" width="7.9" height="52.28" fill="#fbb714" />
<line x1="480.5" y1="204.42" x2="480.5" y2="199.28" stroke="#353535" stroke-width="0.5" />
<line x1="478.45" y1="199.5" x2="481.65" y2="199.5" stroke="#353535" stroke-width="0.5" />
<line x1="480.5" y1="204.42" x2="480.5" y2="209.57" stroke="#353535" stroke-width="0.5" />
<line x1="478.45" y1="209.5" x2="481.65" y2="209.5" stroke="#353535" stroke-width="0.5" />
<circle cx="480.05" cy="198.83" r="1.1" fill="#111" />
<circle cx="477.85" cy="200.12" r="1.1" fill="#111" />
<circle cx="482.25" cy="201.4" r="1.1" fill="#111" />
<circle cx="478.85" cy="202.69" r="1.1" fill="#111" />
<circle cx="481.35" cy="203.97" r="1.1" fill="#111" />
<circle cx="477.55" cy="205.9" r="1.1" fill="#111" />
<circle cx="482.45" cy="207.83" r="1.1" fill="#111" />
<circle cx="480.25" cy="210.4" r="1.1" fill="#111" />
<circle cx="479.25" cy="211.69" r="1.1" fill="#111" />
<line x1="480.5" y1="256.7" x2="480.5" y2="259.2" stroke="#333" stroke-width="0.9" />
<rect x="488.5" y="210.98" width="7.9" height="45.72" fill="#5b1f69" />
<line x1="492.5" y1="210.98" x2="492.5" y2="207.12" stroke="#353535" stroke-width="0.5" />
<line x1="490.85" y1="207.5" x2="494.05" y2="207.5" stroke="#353535" stroke-width="0.5" />
<line x1="492.5" y1="210.98" x2="492.5" y2="214.84" stroke="#353535" stroke-width="0.5" />
<line x1="490.85" y1="214.5" x2="494.05" y2="214.5" stroke="#353535" stroke-width="0.5" />
<circle cx="492.45" cy="205.26" r="1.1" fill="#111" />
<circle cx="490.25" cy="207.83" r="1.1" fill="#111" />
<circle cx="494.65" cy="209.12" r="1.1" fill="#111" />
<circle cx="491.25" cy="210.4" r="1.1" fill="#111" />
<circle cx="493.75" cy="211.69" r="1.1" fill="#111" />
<circle cx="489.95" cy="212.98" r="1.1" fill="#111" />
<circle cx="494.85" cy="214.26" r="1.1" fill="#111" />
<circle cx="492.65" cy="216.19" r="1.1" fill="#111" />
<circle cx="491.65" cy="218.12" r="1.1" fill="#111" />
<line x1="492.5" y1="256.7" x2="492.5" y2="259.2" stroke="#333" stroke-width="0.9" />
<rect x="500.9" y="203.07" width="7.9" height="53.63" fill="#6c3a12" />
<line x1="504.5" y1="203.07" x2="504.5" y2="197.29" stroke="#353535" stroke-width="0.5" />
<line x1="503.25" y1="197.5" x2="506.45" y2="197.5" stroke="#353535" stroke-width="0.5" />
<line x1="504.5" y1="203.07" x2="504.5" y2="208.86" stroke="#353535" stroke-width="0.5" />
<line x1="503.25" y1="208.5" x2="506.45" y2="208.5" stroke="#353535" stroke-width="0.5" />
<circle cx="504.85" cy="194.97" r="1.1" fill="#111" />
<circle cx="502.65" cy="196.26" r="1.1" fill="#111" />
<circle cx="507.05" cy="198.83" r="1.1" fill="#111" />
<circle cx="503.65" cy="201.4" r="1.1" fill="#111" />
<circle cx="506.15" cy="202.69" r="1.1" fill="#111" />
<circle cx="502.35" cy="203.97" r="1.1" fill="#111" />
<circle cx="507.25" cy="205.9" r="1.1" fill="#111" />
<circle cx="505.05" cy="207.83" r="1.1" fill="#111" />
<circle cx="504.05" cy="209.76" r="1.1" fill="#111" />
<line x1="504.5" y1="256.7" x2="504.5" y2="259.2" stroke="#333" stroke-width="0.9" />
<path d="M403.1 157.6 V152.8 H447.5 V157.6" fill="none" stroke="#777" stroke-width="0.8" />
<path d="M467.3 157.6 V152.8 H511.5 V157.6" fill="none" stroke="#777" stroke-width="0.8" />
<text x="425.5" y="148.4" font-size="6.83" text-anchor="middle" textLength="34.5" lengthAdjust="spacingAndGlyphs">ITP patients</text>
<text x="489.9" y="148.4" font-size="6.83" text-anchor="middle" textLength="46.5" lengthAdjust="spacingAndGlyphs">Healthy controls</text>
<line x1="406.2" y1="163.5" x2="430.6" y2="163.5" stroke="#333" stroke-width="0.8" />
<circle cx="415.6" cy="160" r="0.78" fill="#222" />
<circle cx="418.4" cy="160" r="0.78" fill="#222" />
<circle cx="421.2" cy="160" r="0.78" fill="#222" />
<line x1="406.2" y1="172.5" x2="418.8" y2="172.5" stroke="#333" stroke-width="0.8" />
<text x="412.3" y="170.4" font-size="7.35" text-anchor="middle" textLength="6.3" lengthAdjust="spacingAndGlyphs">ns</text>
<line x1="418.8" y1="178.5" x2="431.4" y2="178.5" stroke="#333" stroke-width="0.8" />
<circle cx="425.1" cy="175" r="0.78" fill="#222" />
<line x1="431.4" y1="185.5" x2="444" y2="185.5" stroke="#333" stroke-width="0.8" />
<circle cx="436.3" cy="182.3" r="0.78" fill="#222" />
<circle cx="439.1" cy="182.3" r="0.78" fill="#222" />
<line x1="467" y1="179.5" x2="492.3" y2="179.5" stroke="#333" stroke-width="0.8" />
<circle cx="479.6" cy="176.3" r="0.78" fill="#222" />
<line x1="467" y1="190.5" x2="479.6" y2="190.5" stroke="#333" stroke-width="0.8" />
<text x="473.3" y="188.4" font-size="7.35" text-anchor="middle" textLength="6.3" lengthAdjust="spacingAndGlyphs">ns</text>
<line x1="480.7" y1="193.5" x2="493.4" y2="193.5" stroke="#333" stroke-width="0.8" />
<circle cx="487" cy="190.8" r="0.78" fill="#222" />
<line x1="493.8" y1="190.5" x2="506.4" y2="190.5" stroke="#333" stroke-width="0.8" />
<circle cx="498.7" cy="187.4" r="0.78" fill="#222" />
<circle cx="501.5" cy="187.4" r="0.78" fill="#222" />
<text x="377.6" y="206.7" font-size="7.98" text-anchor="middle" textLength="43" lengthAdjust="spacingAndGlyphs" transform="rotate(-90 377.6 206.7)">Division index</text>
<text x="408.35" y="266.9" font-size="7.25" text-anchor="end" textLength="21" lengthAdjust="spacingAndGlyphs" transform="rotate(-45 408.35 266.9)">Control</text>
<text x="420.55" y="266.9" font-size="7.25" text-anchor="end" textLength="35.5" lengthAdjust="spacingAndGlyphs" transform="rotate(-45 420.55 266.9)">Low-platelet</text>
<text x="432.95" y="266.9" font-size="7.25" text-anchor="end" textLength="37.5" lengthAdjust="spacingAndGlyphs" transform="rotate(-45 432.95 266.9)">High-platelet</text>
<text x="445.25" y="266.9" font-size="7.25" text-anchor="end" textLength="60" lengthAdjust="spacingAndGlyphs" transform="rotate(-45 445.25 266.9)">High-platelet+TGF-βi</text>
<text x="470.05" y="266.9" font-size="7.25" text-anchor="end" textLength="21" lengthAdjust="spacingAndGlyphs" transform="rotate(-45 470.05 266.9)">Control</text>
<text x="482.25" y="266.9" font-size="7.25" text-anchor="end" textLength="35.5" lengthAdjust="spacingAndGlyphs" transform="rotate(-45 482.25 266.9)">Low-platelet</text>
<text x="494.65" y="266.9" font-size="7.25" text-anchor="end" textLength="37.5" lengthAdjust="spacingAndGlyphs" transform="rotate(-45 494.65 266.9)">High-platelet</text>
<text x="507.05" y="266.9" font-size="7.25" text-anchor="end" textLength="60" lengthAdjust="spacingAndGlyphs" transform="rotate(-45 507.05 266.9)">High-platelet+TGF-βi</text>
<line x1="34.9" y1="355.4" x2="34.9" y2="488.5" stroke="#333" stroke-width="1.2" />
<line x1="34.3" y1="487.9" x2="215.7" y2="487.9" stroke="#333" stroke-width="1.2" />
<line x1="32.7" y1="481.5" x2="34.9" y2="481.5" stroke="#333" stroke-width="0.9" />
<text x="29.1" y="484" font-size="6.72" text-anchor="end" textLength="8.4" lengthAdjust="spacingAndGlyphs">0.5</text>
<line x1="32.7" y1="450.5" x2="34.9" y2="450.5" stroke="#333" stroke-width="0.9" />
<text x="29.1" y="452.6" font-size="6.72" text-anchor="end" textLength="8.4" lengthAdjust="spacingAndGlyphs">1.0</text>
<line x1="32.7" y1="419.5" x2="34.9" y2="419.5" stroke="#333" stroke-width="0.9" />
<text x="29.1" y="421.2" font-size="6.72" text-anchor="end" textLength="8.4" lengthAdjust="spacingAndGlyphs">1.5</text>
<line x1="32.7" y1="387.5" x2="34.9" y2="387.5" stroke="#333" stroke-width="0.9" />
<text x="29.1" y="389.8" font-size="6.72" text-anchor="end" textLength="8.4" lengthAdjust="spacingAndGlyphs">2.0</text>
<line x1="32.7" y1="356.5" x2="34.9" y2="356.5" stroke="#333" stroke-width="0.9" />
<text x="29.1" y="358.4" font-size="6.72" text-anchor="end" textLength="8.4" lengthAdjust="spacingAndGlyphs">2.5</text>
<line x1="56.5" y1="487.9" x2="56.5" y2="490.1" stroke="#333" stroke-width="0.9" />
<text x="56.27" y="499.5" font-size="6.93" text-anchor="middle" textLength="15" lengthAdjust="spacingAndGlyphs">Arg-1</text>
<rect x="38.6" y="451.03" width="5.8" height="36.87" fill="#2ea7e0" />
<line x1="41.5" y1="451.03" x2="41.5" y2="445.38" stroke="#353535" stroke-width="0.5" />
<line x1="40.2" y1="445.5" x2="42.8" y2="445.5" stroke="#353535" stroke-width="0.5" />
<line x1="41.5" y1="451.03" x2="41.5" y2="456.68" stroke="#353535" stroke-width="0.5" />
<line x1="40.2" y1="456.5" x2="42.8" y2="456.5" stroke="#353535" stroke-width="0.5" />
<circle cx="42.56" cy="457.02" r="0.95" fill="#111" />
<circle cx="43.09" cy="456.87" r="0.95" fill="#111" />
<circle cx="39.8" cy="451.76" r="0.95" fill="#111" />
<circle cx="41.38" cy="462.5" r="0.95" fill="#111" />
<circle cx="42.94" cy="444.13" r="0.95" fill="#111" />
<circle cx="40.11" cy="453.59" r="0.95" fill="#111" />
<circle cx="41.66" cy="454.78" r="0.95" fill="#111" />
<circle cx="41.77" cy="450.29" r="0.95" fill="#111" />
<rect x="48.45" y="445.38" width="5.8" height="42.52" fill="#fbb714" />
<line x1="51.5" y1="445.38" x2="51.5" y2="440.35" stroke="#353535" stroke-width="0.5" />
<line x1="50.05" y1="440.5" x2="52.65" y2="440.5" stroke="#353535" stroke-width="0.5" />
<line x1="51.5" y1="445.38" x2="51.5" y2="450.4" stroke="#353535" stroke-width="0.5" />
<line x1="50.05" y1="450.5" x2="52.65" y2="450.5" stroke="#353535" stroke-width="0.5" />
<circle cx="50.56" cy="442.23" r="0.95" fill="#111" />
<circle cx="52.85" cy="445.12" r="0.95" fill="#111" />
<circle cx="52.42" cy="445.11" r="0.95" fill="#111" />
<circle cx="50.05" cy="448.03" r="0.95" fill="#111" />
<circle cx="49.56" cy="447.12" r="0.95" fill="#111" />
<circle cx="52.69" cy="446.96" r="0.95" fill="#111" />
<circle cx="53.09" cy="444.58" r="0.95" fill="#111" />
<circle cx="52.69" cy="442.33" r="0.95" fill="#111" />
<rect x="58.3" y="430.93" width="5.8" height="56.97" fill="#5b1f69" />
<line x1="61.5" y1="430.93" x2="61.5" y2="423.4" stroke="#353535" stroke-width="0.5" />
<line x1="59.9" y1="423.5" x2="62.5" y2="423.5" stroke="#353535" stroke-width="0.5" />
<line x1="61.5" y1="430.93" x2="61.5" y2="438.47" stroke="#353535" stroke-width="0.5" />
<line x1="59.9" y1="438.5" x2="62.5" y2="438.5" stroke="#353535" stroke-width="0.5" />
<circle cx="61.34" cy="435.16" r="0.95" fill="#111" />
<circle cx="61.84" cy="414.15" r="0.95" fill="#111" />
<circle cx="61.89" cy="426.41" r="0.95" fill="#111" />
<circle cx="62.88" cy="415.44" r="0.95" fill="#111" />
<circle cx="60.7" cy="426.44" r="0.95" fill="#111" />
<circle cx="60" cy="434.47" r="0.95" fill="#111" />
<circle cx="60.48" cy="429.41" r="0.95" fill="#111" />
<circle cx="61.57" cy="428.96" r="0.95" fill="#111" />
<rect x="68.15" y="442.86" width="5.8" height="45.04" fill="#6c3a12" />
<line x1="71.5" y1="442.86" x2="71.5" y2="437.84" stroke="#353535" stroke-width="0.5" />
<line x1="69.75" y1="437.5" x2="72.35" y2="437.5" stroke="#353535" stroke-width="0.5" />
<line x1="71.5" y1="442.86" x2="71.5" y2="447.89" stroke="#353535" stroke-width="0.5" />
<line x1="69.75" y1="447.5" x2="72.35" y2="447.5" stroke="#353535" stroke-width="0.5" />
<circle cx="70.47" cy="436.06" r="0.95" fill="#111" />
<circle cx="70.37" cy="442.72" r="0.95" fill="#111" />
<circle cx="70.39" cy="440.7" r="0.95" fill="#111" />
<circle cx="70.98" cy="447.57" r="0.95" fill="#111" />
<circle cx="72.76" cy="443.3" r="0.95" fill="#111" />
<circle cx="69.33" cy="444.35" r="0.95" fill="#111" />
<circle cx="69.32" cy="442.88" r="0.95" fill="#111" />
<circle cx="72.09" cy="451.59" r="0.95" fill="#111" />
<line x1="102.5" y1="487.9" x2="102.5" y2="490.1" stroke="#333" stroke-width="0.9" />
<text x="102.08" y="499.5" font-size="6.93" text-anchor="middle" textLength="17" lengthAdjust="spacingAndGlyphs">PD-L1</text>
<rect x="84.4" y="451.03" width="5.8" height="36.87" fill="#2ea7e0" />
<line x1="87.5" y1="451.03" x2="87.5" y2="439.72" stroke="#353535" stroke-width="0.5" />
<line x1="86" y1="439.5" x2="88.6" y2="439.5" stroke="#353535" stroke-width="0.5" />
<line x1="87.5" y1="451.03" x2="87.5" y2="462.33" stroke="#353535" stroke-width="0.5" />
<line x1="86" y1="462.5" x2="88.6" y2="462.5" stroke="#353535" stroke-width="0.5" />
<circle cx="85.53" cy="459.95" r="0.95" fill="#111" />
<circle cx="85.67" cy="441.06" r="0.95" fill="#111" />
<circle cx="86.21" cy="440.37" r="0.95" fill="#111" />
<circle cx="88.22" cy="428.03" r="0.95" fill="#111" />
<circle cx="86.74" cy="429.08" r="0.95" fill="#111" />
<circle cx="86.78" cy="461.41" r="0.95" fill="#111" />
<circle cx="85.89" cy="468.4" r="0.95" fill="#111" />
<circle cx="88.19" cy="453.75" r="0.95" fill="#111" />
<rect x="94.25" y="444.12" width="5.8" height="43.78" fill="#fbb714" />
<line x1="97.5" y1="444.12" x2="97.5" y2="434.7" stroke="#353535" stroke-width="0.5" />
<line x1="95.85" y1="434.5" x2="98.45" y2="434.5" stroke="#353535" stroke-width="0.5" />
<line x1="97.5" y1="444.12" x2="97.5" y2="453.54" stroke="#353535" stroke-width="0.5" />
<line x1="95.85" y1="453.5" x2="98.45" y2="453.5" stroke="#353535" stroke-width="0.5" />
<circle cx="95.48" cy="439.21" r="0.95" fill="#111" />
<circle cx="98.75" cy="460.19" r="0.95" fill="#111" />
<circle cx="97.55" cy="437.62" r="0.95" fill="#111" />
<circle cx="98.66" cy="439.92" r="0.95" fill="#111" />
<circle cx="97.31" cy="454.43" r="0.95" fill="#111" />
<circle cx="96.47" cy="427.86" r="0.95" fill="#111" />
<circle cx="95.63" cy="446.28" r="0.95" fill="#111" />
<circle cx="95.89" cy="439.28" r="0.95" fill="#111" />
<rect x="104.1" y="400.79" width="5.8" height="87.11" fill="#5b1f69" />
<line x1="107.5" y1="400.79" x2="107.5" y2="393.88" stroke="#353535" stroke-width="0.5" />
<line x1="105.7" y1="393.5" x2="108.3" y2="393.5" stroke="#353535" stroke-width="0.5" />
<line x1="107.5" y1="400.79" x2="107.5" y2="407.7" stroke="#353535" stroke-width="0.5" />
<line x1="105.7" y1="407.5" x2="108.3" y2="407.5" stroke="#353535" stroke-width="0.5" />
<circle cx="105.78" cy="408.63" r="0.95" fill="#111" />
<circle cx="105.37" cy="420.3" r="0.95" fill="#111" />
<circle cx="106.66" cy="393.14" r="0.95" fill="#111" />
<circle cx="106.05" cy="401.43" r="0.95" fill="#111" />
<circle cx="106.84" cy="410.45" r="0.95" fill="#111" />
<circle cx="106.72" cy="407.26" r="0.95" fill="#111" />
<circle cx="105.32" cy="387.79" r="0.95" fill="#111" />
<circle cx="106.98" cy="396.04" r="0.95" fill="#111" />
<rect x="113.95" y="420.26" width="5.8" height="67.64" fill="#6c3a12" />
<line x1="116.5" y1="420.26" x2="116.5" y2="407.7" stroke="#353535" stroke-width="0.5" />
<line x1="115.55" y1="407.5" x2="118.15" y2="407.5" stroke="#353535" stroke-width="0.5" />
<line x1="116.5" y1="420.26" x2="116.5" y2="432.82" stroke="#353535" stroke-width="0.5" />
<line x1="115.55" y1="432.5" x2="118.15" y2="432.5" stroke="#353535" stroke-width="0.5" />
<circle cx="117.68" cy="417.1" r="0.95" fill="#111" />
<circle cx="118.47" cy="425.34" r="0.95" fill="#111" />
<circle cx="115.43" cy="433.85" r="0.95" fill="#111" />
<circle cx="116.61" cy="434.8" r="0.95" fill="#111" />
<circle cx="116.11" cy="407.35" r="0.95" fill="#111" />
<circle cx="116.68" cy="402.67" r="0.95" fill="#111" />
<circle cx="118.56" cy="398.15" r="0.95" fill="#111" />
<circle cx="116.68" cy="420.35" r="0.95" fill="#111" />
<line x1="147.5" y1="487.9" x2="147.5" y2="490.1" stroke="#333" stroke-width="0.9" />
<text x="147.88" y="499.5" font-size="6.93" text-anchor="middle" textLength="17" lengthAdjust="spacingAndGlyphs">PD-L2</text>
<rect x="130.2" y="451.03" width="5.8" height="36.87" fill="#2ea7e0" />
<line x1="133.5" y1="451.03" x2="133.5" y2="438.47" stroke="#353535" stroke-width="0.5" />
<line x1="131.8" y1="438.5" x2="134.4" y2="438.5" stroke="#353535" stroke-width="0.5" />
<line x1="133.5" y1="451.03" x2="133.5" y2="463.59" stroke="#353535" stroke-width="0.5" />
<line x1="131.8" y1="463.5" x2="134.4" y2="463.5" stroke="#353535" stroke-width="0.5" />
<circle cx="133.02" cy="469.26" r="0.95" fill="#111" />
<circle cx="132.35" cy="449.67" r="0.95" fill="#111" />
<circle cx="132.66" cy="456.26" r="0.95" fill="#111" />
<circle cx="134.86" cy="447.41" r="0.95" fill="#111" />
<circle cx="133.1" cy="435.66" r="0.95" fill="#111" />
<circle cx="132.52" cy="454.99" r="0.95" fill="#111" />
<circle cx="134.12" cy="443.39" r="0.95" fill="#111" />
<circle cx="134.42" cy="446.24" r="0.95" fill="#111" />
<rect x="140.05" y="440.98" width="5.8" height="46.92" fill="#fbb714" />
<line x1="142.5" y1="440.98" x2="142.5" y2="429.68" stroke="#353535" stroke-width="0.5" />
<line x1="141.65" y1="429.5" x2="144.25" y2="429.5" stroke="#353535" stroke-width="0.5" />
<line x1="142.5" y1="440.98" x2="142.5" y2="452.28" stroke="#353535" stroke-width="0.5" />
<line x1="141.65" y1="452.5" x2="144.25" y2="452.5" stroke="#353535" stroke-width="0.5" />
<circle cx="143.94" cy="452.48" r="0.95" fill="#111" />
<circle cx="143.65" cy="427.31" r="0.95" fill="#111" />
<circle cx="142.46" cy="449.82" r="0.95" fill="#111" />
<circle cx="143.69" cy="455.71" r="0.95" fill="#111" />
<circle cx="143.92" cy="443.24" r="0.95" fill="#111" />
<circle cx="143.64" cy="429.47" r="0.95" fill="#111" />
<circle cx="143.49" cy="447.66" r="0.95" fill="#111" />
<circle cx="143.24" cy="417.36" r="0.95" fill="#111" />
<rect x="149.9" y="439.1" width="5.8" height="48.8" fill="#5b1f69" />
<line x1="152.5" y1="439.1" x2="152.5" y2="432.82" stroke="#353535" stroke-width="0.5" />
<line x1="151.5" y1="432.5" x2="154.1" y2="432.5" stroke="#353535" stroke-width="0.5" />
<line x1="152.5" y1="439.1" x2="152.5" y2="445.38" stroke="#353535" stroke-width="0.5" />
<line x1="151.5" y1="445.5" x2="154.1" y2="445.5" stroke="#353535" stroke-width="0.5" />
<circle cx="151.9" cy="432" r="0.95" fill="#111" />
<circle cx="153.42" cy="438.58" r="0.95" fill="#111" />
<circle cx="153.33" cy="449.23" r="0.95" fill="#111" />
<circle cx="153.87" cy="436.69" r="0.95" fill="#111" />
<circle cx="153.66" cy="443.78" r="0.95" fill="#111" />
<circle cx="153.98" cy="432.46" r="0.95" fill="#111" />
<circle cx="154.13" cy="445.49" r="0.95" fill="#111" />
<circle cx="153.48" cy="430.3" r="0.95" fill="#111" />
<rect x="159.75" y="436.58" width="5.8" height="51.32" fill="#6c3a12" />
<line x1="162.5" y1="436.58" x2="162.5" y2="430.93" stroke="#353535" stroke-width="0.5" />
<line x1="161.35" y1="430.5" x2="163.95" y2="430.5" stroke="#353535" stroke-width="0.5" />
<line x1="162.5" y1="436.58" x2="162.5" y2="442.24" stroke="#353535" stroke-width="0.5" />
<line x1="161.35" y1="442.5" x2="163.95" y2="442.5" stroke="#353535" stroke-width="0.5" />
<circle cx="162.72" cy="423.99" r="0.95" fill="#111" />
<circle cx="162.76" cy="438.49" r="0.95" fill="#111" />
<circle cx="164.22" cy="431.72" r="0.95" fill="#111" />
<circle cx="162.57" cy="428.21" r="0.95" fill="#111" />
<circle cx="163.48" cy="439.5" r="0.95" fill="#111" />
<circle cx="161.47" cy="444.15" r="0.95" fill="#111" />
<circle cx="163.25" cy="435.31" r="0.95" fill="#111" />
<circle cx="162.36" cy="443.17" r="0.95" fill="#111" />
<line x1="193.5" y1="487.9" x2="193.5" y2="490.1" stroke="#333" stroke-width="0.9" />
<text x="193.67" y="499.5" font-size="6.93" text-anchor="middle" textLength="15" lengthAdjust="spacingAndGlyphs">iNOS</text>
<rect x="176" y="451.03" width="5.8" height="36.87" fill="#2ea7e0" />
<line x1="178.5" y1="451.03" x2="178.5" y2="443.49" stroke="#353535" stroke-width="0.5" />
<line x1="177.6" y1="443.5" x2="180.2" y2="443.5" stroke="#353535" stroke-width="0.5" />
<line x1="178.5" y1="451.03" x2="178.5" y2="458.56" stroke="#353535" stroke-width="0.5" />
<line x1="177.6" y1="458.5" x2="180.2" y2="458.5" stroke="#353535" stroke-width="0.5" />
<circle cx="179.39" cy="459.37" r="0.95" fill="#111" />
<circle cx="179.69" cy="459.24" r="0.95" fill="#111" />
<circle cx="178.69" cy="447.08" r="0.95" fill="#111" />
<circle cx="179.44" cy="450.34" r="0.95" fill="#111" />
<circle cx="179.37" cy="449.03" r="0.95" fill="#111" />
<circle cx="177.25" cy="440.9" r="0.95" fill="#111" />
<circle cx="177.29" cy="455.81" r="0.95" fill="#111" />
<circle cx="177.58" cy="450.17" r="0.95" fill="#111" />
<rect x="185.85" y="454.17" width="5.8" height="33.73" fill="#fbb714" />
<line x1="188.5" y1="454.17" x2="188.5" y2="447.89" stroke="#353535" stroke-width="0.5" />
<line x1="187.45" y1="447.5" x2="190.05" y2="447.5" stroke="#353535" stroke-width="0.5" />
<line x1="188.5" y1="454.17" x2="188.5" y2="460.45" stroke="#353535" stroke-width="0.5" />
<line x1="187.45" y1="460.5" x2="190.05" y2="460.5" stroke="#353535" stroke-width="0.5" />
<circle cx="187.65" cy="455.64" r="0.95" fill="#111" />
<circle cx="187.08" cy="450.91" r="0.95" fill="#111" />
<circle cx="189.15" cy="459.57" r="0.95" fill="#111" />
<circle cx="189.07" cy="452.97" r="0.95" fill="#111" />
<circle cx="186.95" cy="453.24" r="0.95" fill="#111" />
<circle cx="188.41" cy="441.99" r="0.95" fill="#111" />
<circle cx="187.36" cy="455.2" r="0.95" fill="#111" />
<circle cx="189.94" cy="448.45" r="0.95" fill="#111" />
<rect x="195.7" y="456.68" width="5.8" height="31.22" fill="#5b1f69" />
<line x1="198.5" y1="456.68" x2="198.5" y2="454.17" stroke="#353535" stroke-width="0.5" />
<line x1="197.3" y1="454.5" x2="199.9" y2="454.5" stroke="#353535" stroke-width="0.5" />
<line x1="198.5" y1="456.68" x2="198.5" y2="459.19" stroke="#353535" stroke-width="0.5" />
<line x1="197.3" y1="459.5" x2="199.9" y2="459.5" stroke="#353535" stroke-width="0.5" />
<circle cx="199.01" cy="457.11" r="0.95" fill="#111" />
<circle cx="197.14" cy="456.24" r="0.95" fill="#111" />
<circle cx="198.89" cy="458.66" r="0.95" fill="#111" />
<circle cx="200.25" cy="457.26" r="0.95" fill="#111" />
<circle cx="199.73" cy="455.7" r="0.95" fill="#111" />
<circle cx="199.11" cy="458.82" r="0.95" fill="#111" />
<circle cx="198.95" cy="457.53" r="0.95" fill="#111" />
<circle cx="198.83" cy="455.76" r="0.95" fill="#111" />
<rect x="205.55" y="456.68" width="5.8" height="31.22" fill="#6c3a12" />
<line x1="208.5" y1="456.68" x2="208.5" y2="449.14" stroke="#353535" stroke-width="0.5" />
<line x1="207.15" y1="449.5" x2="209.75" y2="449.5" stroke="#353535" stroke-width="0.5" />
<line x1="208.5" y1="456.68" x2="208.5" y2="464.22" stroke="#353535" stroke-width="0.5" />
<line x1="207.15" y1="464.5" x2="209.75" y2="464.5" stroke="#353535" stroke-width="0.5" />
<circle cx="208.84" cy="439.52" r="0.95" fill="#111" />
<circle cx="207.91" cy="461.41" r="0.95" fill="#111" />
<circle cx="207.04" cy="456.45" r="0.95" fill="#111" />
<circle cx="208.69" cy="456.86" r="0.95" fill="#111" />
<circle cx="208.92" cy="459.48" r="0.95" fill="#111" />
<circle cx="209.86" cy="459.15" r="0.95" fill="#111" />
<circle cx="207.46" cy="461.81" r="0.95" fill="#111" />
<circle cx="207.7" cy="451.61" r="0.95" fill="#111" />
<line x1="40.2" y1="430.5" x2="50.1" y2="430.5" stroke="#333" stroke-width="0.8" />
<text x="45.15" y="428.5" font-size="7.35" text-anchor="middle" textLength="6.3" lengthAdjust="spacingAndGlyphs">ns</text>
<line x1="40.2" y1="399.5" x2="60.9" y2="399.5" stroke="#333" stroke-width="0.8" />
<circle cx="47.95" cy="395.9" r="0.78" fill="#222" />
<circle cx="50.55" cy="395.9" r="0.78" fill="#222" />
<circle cx="53.15" cy="395.9" r="0.78" fill="#222" />
<line x1="50.7" y1="412.5" x2="59.5" y2="412.5" stroke="#333" stroke-width="0.8" />
<circle cx="53.8" cy="409.7" r="0.78" fill="#222" />
<circle cx="56.4" cy="409.7" r="0.78" fill="#222" />
<line x1="62.1" y1="412.5" x2="71.9" y2="412.5" stroke="#333" stroke-width="0.8" />
<circle cx="67" cy="409.7" r="0.78" fill="#222" />
<line x1="85.7" y1="371.5" x2="104.4" y2="371.5" stroke="#333" stroke-width="0.8" />
<circle cx="91.15" cy="368.8" r="0.78" fill="#222" />
<circle cx="93.75" cy="368.8" r="0.78" fill="#222" />
<circle cx="96.35" cy="368.8" r="0.78" fill="#222" />
<circle cx="98.95" cy="368.8" r="0.78" fill="#222" />
<line x1="94.6" y1="382.5" x2="104.8" y2="382.5" stroke="#333" stroke-width="0.8" />
<circle cx="95.8" cy="379.8" r="0.78" fill="#222" />
<circle cx="98.4" cy="379.8" r="0.78" fill="#222" />
<circle cx="101" cy="379.8" r="0.78" fill="#222" />
<circle cx="103.6" cy="379.8" r="0.78" fill="#222" />
<line x1="107.4" y1="382.5" x2="117.6" y2="382.5" stroke="#333" stroke-width="0.8" />
<circle cx="112.5" cy="379.8" r="0.78" fill="#222" />
<line x1="87.1" y1="417.5" x2="96.9" y2="417.5" stroke="#333" stroke-width="0.8" />
<text x="92" y="415.3" font-size="7.35" text-anchor="middle" textLength="6.3" lengthAdjust="spacingAndGlyphs">ns</text>
<rect x="171.2" y="365" width="8.7" height="4.2" fill="#2ea7e0" />
<text x="184.8" y="369" font-size="6.41" textLength="22.5" lengthAdjust="spacingAndGlyphs">Control</text>
<rect x="171.2" y="374.1" width="8.7" height="4.2" fill="#fbb714" />
<text x="184.8" y="378.1" font-size="6.41" textLength="36" lengthAdjust="spacingAndGlyphs">Low-platelet</text>
<rect x="171.2" y="383.2" width="8.7" height="4.2" fill="#5b1f69" />
<text x="184.8" y="387.2" font-size="6.41" textLength="38" lengthAdjust="spacingAndGlyphs">High-platelet</text>
<rect x="171.2" y="392.3" width="8.7" height="4.2" fill="#6c3a12" />
<text x="184.8" y="396.3" font-size="6.41" textLength="62" lengthAdjust="spacingAndGlyphs">High-platelet+TGF-βi</text>
<text x="125.7" y="348.5" font-size="7.98" text-anchor="middle" textLength="42.4" lengthAdjust="spacingAndGlyphs">ITP Patients</text>
<text x="14" y="420.4" font-size="7.56" text-anchor="middle" textLength="36.6" lengthAdjust="spacingAndGlyphs" transform="rotate(-90 14 420.4)">Relative MFI</text>
<text x="7.2" y="336.2" font-size="12.2" fill="#000" font-weight="bold">D</text>
<line x1="295.8" y1="360.8" x2="295.8" y2="488.4" stroke="#333" stroke-width="1.2" />
<line x1="295.2" y1="487.8" x2="477" y2="487.8" stroke="#333" stroke-width="1.2" />
<line x1="293.6" y1="480.5" x2="295.8" y2="480.5" stroke="#333" stroke-width="0.9" />
<text x="290" y="482.5" font-size="6.72" text-anchor="end" textLength="8.4" lengthAdjust="spacingAndGlyphs">0.5</text>
<line x1="293.6" y1="440.5" x2="295.8" y2="440.5" stroke="#333" stroke-width="0.9" />
<text x="290" y="443.1" font-size="6.72" text-anchor="end" textLength="8.4" lengthAdjust="spacingAndGlyphs">1.0</text>
<line x1="293.6" y1="401.5" x2="295.8" y2="401.5" stroke="#333" stroke-width="0.9" />
<text x="290" y="403.7" font-size="6.72" text-anchor="end" textLength="8.4" lengthAdjust="spacingAndGlyphs">1.5</text>
<line x1="293.6" y1="362.5" x2="295.8" y2="362.5" stroke="#333" stroke-width="0.9" />
<text x="290" y="364.3" font-size="6.72" text-anchor="end" textLength="8.4" lengthAdjust="spacingAndGlyphs">2.0</text>
<line x1="316.5" y1="487.8" x2="316.5" y2="490" stroke="#333" stroke-width="0.9" />
<text x="316.55" y="500" font-size="6.93" text-anchor="middle" textLength="15" lengthAdjust="spacingAndGlyphs">Arg-1</text>
<rect x="299.4" y="440.9" width="5.8" height="46.9" fill="#2ea7e0" />
<line x1="302.5" y1="440.9" x2="302.5" y2="433.02" stroke="#353535" stroke-width="0.5" />
<line x1="301" y1="433.5" x2="303.6" y2="433.5" stroke="#353535" stroke-width="0.5" />
<line x1="302.5" y1="440.9" x2="302.5" y2="448.78" stroke="#353535" stroke-width="0.5" />
<line x1="301" y1="448.5" x2="303.6" y2="448.5" stroke="#353535" stroke-width="0.5" />
<circle cx="302.25" cy="437.36" r="0.95" fill="#111" />
<circle cx="301.44" cy="453.59" r="0.95" fill="#111" />
<circle cx="302.19" cy="430.44" r="0.95" fill="#111" />
<circle cx="303.24" cy="440.87" r="0.95" fill="#111" />
<circle cx="301.48" cy="449.4" r="0.95" fill="#111" />
<circle cx="303.39" cy="432.2" r="0.95" fill="#111" />
<circle cx="302.44" cy="441.83" r="0.95" fill="#111" />
<circle cx="302.96" cy="448.17" r="0.95" fill="#111" />
<rect x="308.9" y="438.54" width="5.8" height="49.26" fill="#fbb714" />
<line x1="311.5" y1="438.54" x2="311.5" y2="430.66" stroke="#353535" stroke-width="0.5" />
<line x1="310.5" y1="430.5" x2="313.1" y2="430.5" stroke="#353535" stroke-width="0.5" />
<line x1="311.5" y1="438.54" x2="311.5" y2="446.42" stroke="#353535" stroke-width="0.5" />
<line x1="310.5" y1="446.5" x2="313.1" y2="446.5" stroke="#353535" stroke-width="0.5" />
<circle cx="312.9" cy="435.38" r="0.95" fill="#111" />
<circle cx="310.96" cy="430.1" r="0.95" fill="#111" />
<circle cx="313.04" cy="434.99" r="0.95" fill="#111" />
<circle cx="311.21" cy="448.73" r="0.95" fill="#111" />
<circle cx="312.9" cy="427.92" r="0.95" fill="#111" />
<circle cx="311.6" cy="431.5" r="0.95" fill="#111" />
<circle cx="312.29" cy="434.63" r="0.95" fill="#111" />
<circle cx="311.05" cy="435.92" r="0.95" fill="#111" />
<rect x="318.4" y="425.14" width="5.8" height="62.66" fill="#5b1f69" />
<line x1="321.5" y1="425.14" x2="321.5" y2="415.68" stroke="#353535" stroke-width="0.5" />
<line x1="320" y1="415.5" x2="322.6" y2="415.5" stroke="#353535" stroke-width="0.5" />
<line x1="321.5" y1="425.14" x2="321.5" y2="434.6" stroke="#353535" stroke-width="0.5" />
<line x1="320" y1="434.5" x2="322.6" y2="434.5" stroke="#353535" stroke-width="0.5" />
<circle cx="320.22" cy="414.32" r="0.95" fill="#111" />
<circle cx="321.86" cy="428.55" r="0.95" fill="#111" />
<circle cx="322.77" cy="437.78" r="0.95" fill="#111" />
<circle cx="321.35" cy="409.93" r="0.95" fill="#111" />
<circle cx="322.4" cy="433.24" r="0.95" fill="#111" />
<circle cx="323.01" cy="435.52" r="0.95" fill="#111" />
<circle cx="321.67" cy="417.21" r="0.95" fill="#111" />
<circle cx="320.6" cy="423.71" r="0.95" fill="#111" />
<rect x="327.9" y="436.96" width="5.8" height="50.84" fill="#6c3a12" />
<line x1="330.5" y1="436.96" x2="330.5" y2="430.66" stroke="#353535" stroke-width="0.5" />
<line x1="329.5" y1="430.5" x2="332.1" y2="430.5" stroke="#353535" stroke-width="0.5" />
<line x1="330.5" y1="436.96" x2="330.5" y2="443.26" stroke="#353535" stroke-width="0.5" />
<line x1="329.5" y1="443.5" x2="332.1" y2="443.5" stroke="#353535" stroke-width="0.5" />
<circle cx="332.17" cy="439.04" r="0.95" fill="#111" />
<circle cx="330.89" cy="438.27" r="0.95" fill="#111" />
<circle cx="330.12" cy="430.75" r="0.95" fill="#111" />
<circle cx="329.71" cy="431.36" r="0.95" fill="#111" />
<circle cx="329.76" cy="440.04" r="0.95" fill="#111" />
<circle cx="332.12" cy="436.64" r="0.95" fill="#111" />
<circle cx="331.8" cy="437.25" r="0.95" fill="#111" />
<circle cx="329.06" cy="437.81" r="0.95" fill="#111" />
<line x1="360.5" y1="487.8" x2="360.5" y2="490" stroke="#333" stroke-width="0.9" />
<text x="360.55" y="500" font-size="6.93" text-anchor="middle" textLength="17" lengthAdjust="spacingAndGlyphs">PD-L1</text>
<rect x="343.4" y="440.9" width="5.8" height="46.9" fill="#2ea7e0" />
<line x1="346.5" y1="440.9" x2="346.5" y2="425.14" stroke="#353535" stroke-width="0.5" />
<line x1="345" y1="425.5" x2="347.6" y2="425.5" stroke="#353535" stroke-width="0.5" />
<line x1="346.5" y1="440.9" x2="346.5" y2="456.66" stroke="#353535" stroke-width="0.5" />
<line x1="345" y1="456.5" x2="347.6" y2="456.5" stroke="#353535" stroke-width="0.5" />
<circle cx="346.73" cy="456.2" r="0.95" fill="#111" />
<circle cx="345.6" cy="414.24" r="0.95" fill="#111" />
<circle cx="344.96" cy="451.01" r="0.95" fill="#111" />
<circle cx="348.1" cy="431.09" r="0.95" fill="#111" />
<circle cx="347.19" cy="426.87" r="0.95" fill="#111" />
<circle cx="345.93" cy="435.97" r="0.95" fill="#111" />
<circle cx="348.03" cy="430.33" r="0.95" fill="#111" />
<circle cx="347.71" cy="442.17" r="0.95" fill="#111" />
<rect x="352.9" y="443.26" width="5.8" height="44.54" fill="#fbb714" />
<line x1="355.5" y1="443.26" x2="355.5" y2="435.38" stroke="#353535" stroke-width="0.5" />
<line x1="354.5" y1="435.5" x2="357.1" y2="435.5" stroke="#353535" stroke-width="0.5" />
<line x1="355.5" y1="443.26" x2="355.5" y2="451.14" stroke="#353535" stroke-width="0.5" />
<line x1="354.5" y1="451.5" x2="357.1" y2="451.5" stroke="#353535" stroke-width="0.5" />
<circle cx="355.61" cy="450.42" r="0.95" fill="#111" />
<circle cx="356.99" cy="456.32" r="0.95" fill="#111" />
<circle cx="355.7" cy="440.82" r="0.95" fill="#111" />
<circle cx="356.54" cy="451.46" r="0.95" fill="#111" />
<circle cx="356.69" cy="445.79" r="0.95" fill="#111" />
<circle cx="354.96" cy="441.64" r="0.95" fill="#111" />
<circle cx="354.62" cy="455.64" r="0.95" fill="#111" />
<circle cx="354.08" cy="442.3" r="0.95" fill="#111" />
<rect x="362.4" y="406.23" width="5.8" height="81.57" fill="#5b1f69" />
<line x1="365.5" y1="406.23" x2="365.5" y2="401.5" stroke="#353535" stroke-width="0.5" />
<line x1="364" y1="401.5" x2="366.6" y2="401.5" stroke="#353535" stroke-width="0.5" />
<line x1="365.5" y1="406.23" x2="365.5" y2="410.96" stroke="#353535" stroke-width="0.5" />
<line x1="364" y1="410.5" x2="366.6" y2="410.5" stroke="#353535" stroke-width="0.5" />
<circle cx="364.8" cy="402.18" r="0.95" fill="#111" />
<circle cx="364.42" cy="402.25" r="0.95" fill="#111" />
<circle cx="364.42" cy="415.53" r="0.95" fill="#111" />
<circle cx="364.98" cy="403.3" r="0.95" fill="#111" />
<circle cx="364.46" cy="401.98" r="0.95" fill="#111" />
<circle cx="365.21" cy="410.26" r="0.95" fill="#111" />
<circle cx="364.86" cy="408.56" r="0.95" fill="#111" />
<circle cx="364.6" cy="405.91" r="0.95" fill="#111" />
<rect x="371.9" y="422.78" width="5.8" height="65.02" fill="#6c3a12" />
<line x1="374.5" y1="422.78" x2="374.5" y2="413.32" stroke="#353535" stroke-width="0.5" />
<line x1="373.5" y1="413.5" x2="376.1" y2="413.5" stroke="#353535" stroke-width="0.5" />
<line x1="374.5" y1="422.78" x2="374.5" y2="432.23" stroke="#353535" stroke-width="0.5" />
<line x1="373.5" y1="432.5" x2="376.1" y2="432.5" stroke="#353535" stroke-width="0.5" />
<circle cx="375.37" cy="420.24" r="0.95" fill="#111" />
<circle cx="376.49" cy="429.86" r="0.95" fill="#111" />
<circle cx="375.17" cy="415.46" r="0.95" fill="#111" />
<circle cx="374.15" cy="426.62" r="0.95" fill="#111" />
<circle cx="375.86" cy="430.68" r="0.95" fill="#111" />
<circle cx="376.37" cy="416.9" r="0.95" fill="#111" />
<circle cx="374.62" cy="423.02" r="0.95" fill="#111" />
<circle cx="373.21" cy="421.86" r="0.95" fill="#111" />
<line x1="404.5" y1="487.8" x2="404.5" y2="490" stroke="#333" stroke-width="0.9" />
<text x="404.55" y="500" font-size="6.93" text-anchor="middle" textLength="17" lengthAdjust="spacingAndGlyphs">PD-L2</text>
<rect x="387.4" y="440.9" width="5.8" height="46.9" fill="#2ea7e0" />
<line x1="390.5" y1="440.9" x2="390.5" y2="421.99" stroke="#353535" stroke-width="0.5" />
<line x1="389" y1="421.5" x2="391.6" y2="421.5" stroke="#353535" stroke-width="0.5" />
<line x1="390.5" y1="440.9" x2="390.5" y2="459.81" stroke="#353535" stroke-width="0.5" />
<line x1="389" y1="459.5" x2="391.6" y2="459.5" stroke="#353535" stroke-width="0.5" />
<circle cx="388.9" cy="412.09" r="0.95" fill="#111" />
<circle cx="391.09" cy="435.38" r="0.95" fill="#111" />
<circle cx="391.57" cy="466.91" r="0.95" fill="#111" />
<circle cx="388.72" cy="410.26" r="0.95" fill="#111" />
<circle cx="390.71" cy="426.33" r="0.95" fill="#111" />
<circle cx="390.02" cy="402.25" r="0.95" fill="#111" />
<circle cx="390.27" cy="434.61" r="0.95" fill="#111" />
<circle cx="390.19" cy="471.45" r="0.95" fill="#111" />
<rect x="396.9" y="449.57" width="5.8" height="38.23" fill="#fbb714" />
<line x1="399.5" y1="449.57" x2="399.5" y2="436.96" stroke="#353535" stroke-width="0.5" />
<line x1="398.5" y1="436.5" x2="401.1" y2="436.5" stroke="#353535" stroke-width="0.5" />
<line x1="399.5" y1="449.57" x2="399.5" y2="462.18" stroke="#353535" stroke-width="0.5" />
<line x1="398.5" y1="462.5" x2="401.1" y2="462.5" stroke="#353535" stroke-width="0.5" />
<circle cx="398.52" cy="440.87" r="0.95" fill="#111" />
<circle cx="400.25" cy="443.24" r="0.95" fill="#111" />
<circle cx="400.26" cy="454.53" r="0.95" fill="#111" />
<circle cx="398.35" cy="453.5" r="0.95" fill="#111" />
<circle cx="399.67" cy="436.68" r="0.95" fill="#111" />
<circle cx="401.24" cy="439.52" r="0.95" fill="#111" />
<circle cx="398.46" cy="461.71" r="0.95" fill="#111" />
<circle cx="401" cy="462.37" r="0.95" fill="#111" />
<rect x="406.4" y="439.32" width="5.8" height="48.48" fill="#5b1f69" />
<line x1="409.5" y1="439.32" x2="409.5" y2="429.08" stroke="#353535" stroke-width="0.5" />
<line x1="408" y1="429.5" x2="410.6" y2="429.5" stroke="#353535" stroke-width="0.5" />
<line x1="409.5" y1="439.32" x2="409.5" y2="449.57" stroke="#353535" stroke-width="0.5" />
<line x1="408" y1="449.5" x2="410.6" y2="449.5" stroke="#353535" stroke-width="0.5" />
<circle cx="410.78" cy="428.25" r="0.95" fill="#111" />
<circle cx="410.77" cy="432.91" r="0.95" fill="#111" />
<circle cx="410" cy="431.4" r="0.95" fill="#111" />
<circle cx="410.35" cy="445.61" r="0.95" fill="#111" />
<circle cx="410.77" cy="424.93" r="0.95" fill="#111" />
<circle cx="409.09" cy="422.56" r="0.95" fill="#111" />
<circle cx="408.5" cy="437.54" r="0.95" fill="#111" />
<circle cx="410.06" cy="449.2" r="0.95" fill="#111" />
<rect x="415.9" y="440.9" width="5.8" height="46.9" fill="#6c3a12" />
<line x1="418.5" y1="440.9" x2="418.5" y2="425.14" stroke="#353535" stroke-width="0.5" />
<line x1="417.5" y1="425.5" x2="420.1" y2="425.5" stroke="#353535" stroke-width="0.5" />
<line x1="418.5" y1="440.9" x2="418.5" y2="456.66" stroke="#353535" stroke-width="0.5" />
<line x1="417.5" y1="456.5" x2="420.1" y2="456.5" stroke="#353535" stroke-width="0.5" />
<circle cx="420.52" cy="417.45" r="0.95" fill="#111" />
<circle cx="418.03" cy="430.99" r="0.95" fill="#111" />
<circle cx="420.09" cy="435.39" r="0.95" fill="#111" />
<circle cx="418.01" cy="443.09" r="0.95" fill="#111" />
<circle cx="420.32" cy="426.18" r="0.95" fill="#111" />
<circle cx="417.11" cy="444.07" r="0.95" fill="#111" />
<circle cx="419.3" cy="418.48" r="0.95" fill="#111" />
<circle cx="418.93" cy="427.52" r="0.95" fill="#111" />
<line x1="448.5" y1="487.8" x2="448.5" y2="490" stroke="#333" stroke-width="0.9" />
<text x="448.55" y="500" font-size="6.93" text-anchor="middle" textLength="15" lengthAdjust="spacingAndGlyphs">iNOS</text>
<rect x="431.4" y="440.9" width="5.8" height="46.9" fill="#2ea7e0" />
<line x1="434.5" y1="440.9" x2="434.5" y2="433.02" stroke="#353535" stroke-width="0.5" />
<line x1="433" y1="433.5" x2="435.6" y2="433.5" stroke="#353535" stroke-width="0.5" />
<line x1="434.5" y1="440.9" x2="434.5" y2="448.78" stroke="#353535" stroke-width="0.5" />
<line x1="433" y1="448.5" x2="435.6" y2="448.5" stroke="#353535" stroke-width="0.5" />
<circle cx="433.83" cy="436.62" r="0.95" fill="#111" />
<circle cx="432.69" cy="440.01" r="0.95" fill="#111" />
<circle cx="435.92" cy="428.84" r="0.95" fill="#111" />
<circle cx="435.02" cy="441.43" r="0.95" fill="#111" />
<circle cx="435.13" cy="442.48" r="0.95" fill="#111" />
<circle cx="432.91" cy="438.53" r="0.95" fill="#111" />
<circle cx="434.28" cy="448.48" r="0.95" fill="#111" />
<circle cx="432.77" cy="443.21" r="0.95" fill="#111" />
<rect x="440.9" y="445.63" width="5.8" height="42.17" fill="#fbb714" />
<line x1="443.5" y1="445.63" x2="443.5" y2="439.32" stroke="#353535" stroke-width="0.5" />
<line x1="442.5" y1="439.5" x2="445.1" y2="439.5" stroke="#353535" stroke-width="0.5" />
<line x1="443.5" y1="445.63" x2="443.5" y2="451.93" stroke="#353535" stroke-width="0.5" />
<line x1="442.5" y1="451.5" x2="445.1" y2="451.5" stroke="#353535" stroke-width="0.5" />
<circle cx="442.11" cy="439.48" r="0.95" fill="#111" />
<circle cx="443.89" cy="442.55" r="0.95" fill="#111" />
<circle cx="442.54" cy="442.92" r="0.95" fill="#111" />
<circle cx="444.05" cy="441.89" r="0.95" fill="#111" />
<circle cx="442.8" cy="448.71" r="0.95" fill="#111" />
<circle cx="444.03" cy="443.03" r="0.95" fill="#111" />
<circle cx="442.59" cy="440.62" r="0.95" fill="#111" />
<circle cx="443.14" cy="448.78" r="0.95" fill="#111" />
<rect x="450.4" y="456.66" width="5.8" height="31.14" fill="#5b1f69" />
<line x1="453.5" y1="456.66" x2="453.5" y2="445.63" stroke="#353535" stroke-width="0.5" />
<line x1="452" y1="445.5" x2="454.6" y2="445.5" stroke="#353535" stroke-width="0.5" />
<line x1="453.5" y1="456.66" x2="453.5" y2="467.69" stroke="#353535" stroke-width="0.5" />
<line x1="452" y1="467.5" x2="454.6" y2="467.5" stroke="#353535" stroke-width="0.5" />
<circle cx="454.33" cy="455.87" r="0.95" fill="#111" />
<circle cx="453.55" cy="443.74" r="0.95" fill="#111" />
<circle cx="452.87" cy="453.32" r="0.95" fill="#111" />
<circle cx="453.09" cy="448.51" r="0.95" fill="#111" />
<circle cx="453.48" cy="484.17" r="0.95" fill="#111" />
<circle cx="453.88" cy="436.01" r="0.95" fill="#111" />
<circle cx="454.4" cy="459.66" r="0.95" fill="#111" />
<circle cx="452.84" cy="470.63" r="0.95" fill="#111" />
<rect x="459.9" y="457.45" width="5.8" height="30.35" fill="#6c3a12" />
<line x1="462.5" y1="457.45" x2="462.5" y2="447.99" stroke="#353535" stroke-width="0.5" />
<line x1="461.5" y1="447.5" x2="464.1" y2="447.5" stroke="#353535" stroke-width="0.5" />
<line x1="462.5" y1="457.45" x2="462.5" y2="466.9" stroke="#353535" stroke-width="0.5" />
<line x1="461.5" y1="466.5" x2="464.1" y2="466.5" stroke="#353535" stroke-width="0.5" />
<circle cx="461.59" cy="468.87" r="0.95" fill="#111" />
<circle cx="463.25" cy="477.21" r="0.95" fill="#111" />
<circle cx="461.14" cy="459.71" r="0.95" fill="#111" />
<circle cx="463.73" cy="455.45" r="0.95" fill="#111" />
<circle cx="461.36" cy="447.37" r="0.95" fill="#111" />
<circle cx="462.32" cy="448.61" r="0.95" fill="#111" />
<circle cx="463.83" cy="447.02" r="0.95" fill="#111" />
<circle cx="461.81" cy="455.31" r="0.95" fill="#111" />
<line x1="300.8" y1="392.5" x2="320.5" y2="392.5" stroke="#333" stroke-width="0.8" />
<circle cx="310.65" cy="388.9" r="0.78" fill="#222" />
<line x1="311" y1="399.5" x2="319.5" y2="399.5" stroke="#333" stroke-width="0.8" />
<circle cx="315.25" cy="396" r="0.78" fill="#222" />
<line x1="322.1" y1="399.5" x2="331.9" y2="399.5" stroke="#333" stroke-width="0.8" />
<circle cx="327" cy="396" r="0.78" fill="#222" />
<line x1="300.8" y1="412.5" x2="310.7" y2="412.5" stroke="#333" stroke-width="0.8" />
<text x="305.75" y="410.2" font-size="7.35" text-anchor="middle" textLength="6.3" lengthAdjust="spacingAndGlyphs">ns</text>
<line x1="344.1" y1="382.5" x2="362.8" y2="382.5" stroke="#333" stroke-width="0.8" />
<circle cx="350.85" cy="379.7" r="0.78" fill="#222" />
<circle cx="353.45" cy="379.7" r="0.78" fill="#222" />
<circle cx="356.05" cy="379.7" r="0.78" fill="#222" />
<line x1="352" y1="389.5" x2="362.8" y2="389.5" stroke="#333" stroke-width="0.8" />
<circle cx="353.5" cy="386.6" r="0.78" fill="#222" />
<circle cx="356.1" cy="386.6" r="0.78" fill="#222" />
<circle cx="358.7" cy="386.6" r="0.78" fill="#222" />
<circle cx="361.3" cy="386.6" r="0.78" fill="#222" />
<line x1="365.4" y1="389.5" x2="375.2" y2="389.5" stroke="#333" stroke-width="0.8" />
<circle cx="370.3" cy="386.6" r="0.78" fill="#222" />
<line x1="345.7" y1="407.5" x2="355.6" y2="407.5" stroke="#333" stroke-width="0.8" />
<text x="350.65" y="404.9" font-size="7.35" text-anchor="middle" textLength="6.3" lengthAdjust="spacingAndGlyphs">ns</text>
<rect x="411.5" y="365.8" width="8.7" height="4.2" fill="#2ea7e0" />
<text x="425.1" y="369.8" font-size="6.41" textLength="22.5" lengthAdjust="spacingAndGlyphs">Control</text>
<rect x="411.5" y="374.9" width="8.7" height="4.2" fill="#fbb714" />
<text x="425.1" y="378.9" font-size="6.41" textLength="36" lengthAdjust="spacingAndGlyphs">Low-platelet</text>
<rect x="411.5" y="384" width="8.7" height="4.2" fill="#5b1f69" />
<text x="425.1" y="388" font-size="6.41" textLength="38" lengthAdjust="spacingAndGlyphs">High-platelet</text>
<rect x="411.5" y="393.1" width="8.7" height="4.2" fill="#6c3a12" />
<text x="425.1" y="397.1" font-size="6.41" textLength="62" lengthAdjust="spacingAndGlyphs">High-platelet+TGF-βi</text>
<text x="386.6" y="349.8" font-size="7.98" text-anchor="middle" textLength="57.8" lengthAdjust="spacingAndGlyphs">Healthy controls</text>
<text x="276.2" y="420.1" font-size="7.56" text-anchor="middle" textLength="37.6" lengthAdjust="spacingAndGlyphs" transform="rotate(-90 276.2 420.1)">Relative MFI</text>
<text x="267.9" y="336.9" font-size="12.2" fill="#000" font-weight="bold">E</text>
<rect x="0.5" y="0.5" width="519" height="507" fill="none" stroke="#555" stroke-width="1"/>
</svg>
</body></html>
